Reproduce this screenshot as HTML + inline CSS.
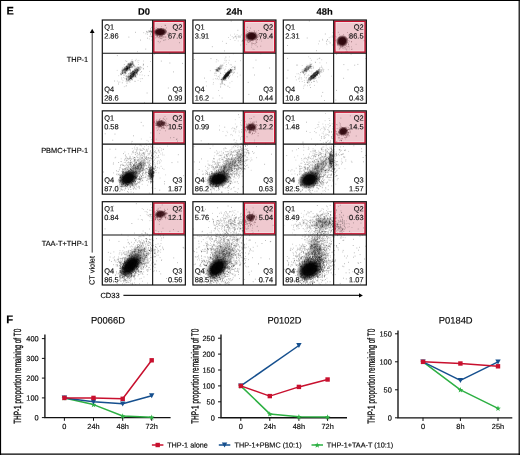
<!DOCTYPE html><html><head><meta charset="utf-8"><title>Figure</title><style>html,body{margin:0;padding:0;background:#fff;overflow:hidden}svg{display:block;will-change:transform}text{font-family:"Liberation Sans",sans-serif;stroke:#111;stroke-width:0.15px}</style></head><body><svg width="520" height="455" viewBox="0 0 520 455"><defs><radialGradient id="rg"><stop offset="0" stop-color="#000" stop-opacity="1"/><stop offset="0.5" stop-color="#000" stop-opacity="0.95"/><stop offset="0.78" stop-color="#000" stop-opacity="0.45"/><stop offset="1" stop-color="#000" stop-opacity="0"/></radialGradient><radialGradient id="rgm"><stop offset="0" stop-color="#2e060c" stop-opacity="1"/><stop offset="0.55" stop-color="#2e060c" stop-opacity="0.97"/><stop offset="0.8" stop-color="#2e060c" stop-opacity="0.5"/><stop offset="1" stop-color="#2e060c" stop-opacity="0"/></radialGradient></defs><rect x="0" y="0" width="520" height="455" fill="#fff"/><path d="M0 0.5H520M0.5 0V455M519.2 0V455M0 454.2H520" stroke="#000" stroke-width="1.2" fill="none"/><text x="6.5" y="14.6" transform="rotate(0.05 6.5 14.6)" font-size="11" font-weight="bold">E</text><text x="6.2" y="323.3" transform="rotate(0.05 6.2 323.3)" font-size="11.3" font-weight="bold">F</text><text x="144.1" y="14.8" transform="rotate(0.05 144.1 14.8)" font-size="9.4" font-weight="bold" text-anchor="middle">D0</text><text x="234.3" y="14.8" transform="rotate(0.05 234.3 14.8)" font-size="9.4" font-weight="bold" text-anchor="middle">24h</text><text x="324.6" y="14.8" transform="rotate(0.05 324.6 14.8)" font-size="9.4" font-weight="bold" text-anchor="middle">48h</text><text x="88.2" y="62.0" transform="rotate(0.05 88.2 62.0)" font-size="7.4" text-anchor="end">THP-1</text><text x="88.2" y="153.0" transform="rotate(0.05 88.2 153.0)" font-size="7.4" text-anchor="end">PBMC+THP-1</text><text x="88.2" y="246.0" transform="rotate(0.05 88.2 246.0)" font-size="7.4" text-anchor="end">TAA-T+THP-1</text><path d="M92.2 32.5V252.6" stroke="#333" stroke-width="1"/><path d="M92.2 28.8L94.6 32.9H89.8Z" fill="#000"/><text transform="translate(94.6 285.0) rotate(-89.95)" font-size="7.4">CT violet</text><text x="100.4" y="298.1" transform="rotate(0.05 100.4 298.1)" font-size="7.5">CD33</text><path d="M123.4 295.4H359.5" stroke="#222" stroke-width="1.1"/><path d="M362.9 295.4L359 293.3V297.6Z" fill="#000"/><clipPath id="cp00"><rect x="102.3" y="20.0" width="83.0" height="83.3"/></clipPath><rect x="152.65" y="20.00" width="32.70" height="33.30" fill="#efc9cf"/><rect x="155.00" y="22.50" width="27.90" height="28.45" fill="none" stroke="#f6dde1" stroke-width="1"/><g clip-path="url(#cp00)"><path d="M127.7 68.4h0.75M147.1 66.6h0.75M143.1 61.0h0.75M143.0 68.4h0.75M133.1 65.5h0.75M130.8 78.9h0.75M136.8 60.9h0.75M130.1 71.1h0.75M140.3 81.4h0.75M132.3 76.0h0.75M129.6 68.9h0.75M128.2 73.5h0.75M131.8 73.1h0.75M129.6 82.2h0.75M127.0 71.6h0.75M137.1 51.7h0.75M129.5 70.7h0.75M129.7 72.8h0.75M134.4 68.8h0.75M140.1 72.5h0.75M125.9 78.9h0.75M133.0 75.7h0.75M131.9 61.9h0.75M135.9 73.2h0.75M139.8 78.8h0.75M142.8 65.6h0.75M128.2 76.2h0.75M132.1 71.5h0.75M135.0 81.3h0.75M135.8 59.3h0.75M119.5 82.0h0.75M129.0 77.0h0.75M130.9 77.3h0.75M133.1 65.9h0.75M135.6 69.1h0.75M137.8 62.4h0.75M122.6 80.7h0.75M134.7 66.6h0.75M124.9 68.6h0.75M127.2 75.1h0.75M137.5 71.7h0.75M122.0 72.8h0.75M118.3 82.2h0.75M131.5 76.1h0.75M118.4 75.7h0.75M128.0 75.8h0.75M129.0 65.2h0.75M137.2 74.0h0.75M149.0 71.4h0.75M137.7 80.4h0.75M121.5 79.2h0.75M129.6 78.5h0.75M126.3 77.0h0.75M124.5 78.7h0.75M139.5 74.9h0.75M122.2 69.9h0.75M123.9 86.7h0.75M134.8 67.2h0.75M135.8 77.5h0.75M133.7 70.1h0.75M129.0 68.2h0.75M135.7 68.9h0.75M134.1 74.0h0.75M138.1 64.5h0.75M135.3 70.9h0.75M131.2 67.1h0.75M125.0 60.8h0.75M126.3 83.1h0.75M132.8 75.0h0.75M130.1 73.4h0.75M132.4 70.5h0.75M127.3 83.1h0.75M138.5 60.4h0.75M128.8 68.0h0.75M123.4 77.5h0.75M126.0 85.7h0.75M124.0 67.6h0.75M135.1 76.5h0.75M124.5 73.0h0.75M127.2 66.6h0.75M132.3 79.9h0.75M133.7 67.9h0.75M121.8 70.4h0.75M129.4 70.2h0.75M140.2 69.5h0.75M150.2 61.5h0.75M123.6 75.4h0.75M130.0 75.6h0.75M129.0 78.9h0.75M132.9 64.4h0.75M125.9 79.3h0.75M128.1 74.0h0.75M128.7 69.5h0.75M123.5 75.0h0.75M125.8 77.1h0.75M128.4 74.2h0.75M116.9 81.1h0.75M121.2 77.9h0.75M133.0 78.0h0.75M132.7 71.4h0.75M133.4 75.9h0.75M125.6 86.1h0.75M130.7 76.3h0.75M144.3 75.7h0.75M130.9 65.0h0.75M133.7 75.0h0.75M124.7 75.2h0.75M141.8 75.0h0.75M134.3 81.3h0.75M116.8 70.4h0.75M151.0 27.4h0.75M158.9 34.2h0.75M148.9 38.9h0.75M161.9 34.0h0.75M156.4 32.2h0.75M156.4 34.3h0.75M158.9 29.9h0.75M161.4 35.9h0.75M152.8 45.1h0.75M151.3 40.0h0.75M154.7 30.9h0.75M149.8 31.9h0.75M155.2 33.8h0.75M168.0 39.4h0.75M154.7 32.1h0.75M163.3 32.6h0.75M153.1 38.9h0.75M161.5 38.8h0.75M158.4 33.9h0.75M159.7 30.9h0.75M162.8 29.2h0.75M168.8 32.6h0.75M161.0 26.5h0.75M160.6 38.4h0.75M155.1 32.9h0.75M162.9 37.3h0.75M158.8 42.8h0.75M164.2 40.1h0.75M159.8 30.8h0.75" stroke="#000" stroke-opacity="0.30" stroke-width="0.75" fill="none"/><path d="M146.6 32.2h0.75M150.8 31.9h0.75M151.2 32.4h0.75M150.7 30.8h0.75M148.8 31.4h0.75M150.0 31.2h0.75M150.6 31.3h0.75M148.5 30.7h0.75M151.8 32.2h0.75M143.4 32.7h0.75M150.7 31.8h0.75M146.2 31.4h0.75M151.4 31.5h0.75M148.6 32.3h0.75M146.7 31.8h0.75M150.5 33.8h0.75M146.9 32.7h0.75M147.3 34.3h0.75M145.5 33.8h0.75M148.7 30.9h0.75M150.1 30.9h0.75M151.6 31.5h0.75M148.7 31.8h0.75M151.5 31.1h0.75M149.0 31.3h0.75" stroke="#000" stroke-opacity="0.35" stroke-width="0.75" fill="none"/><path d="M134.3 66.1h0.75M147.9 75.6h0.75M141.8 78.6h0.75M114.3 81.0h0.75M146.7 93.0h0.75M144.1 102.8h0.75M142.9 64.1h0.75M126.4 61.4h0.75M118.2 84.0h0.75M116.9 55.6h0.75M154.1 54.0h0.75M169.5 63.0h0.75M167.9 88.0h0.75M182.3 63.4h0.75M173.1 71.9h0.75M169.5 53.6h0.75M168.9 94.9h0.75M160.9 61.1h0.75M147.0 38.2h0.75M128.5 37.1h0.75M145.4 49.1h0.75M135.0 32.3h0.75M140.1 40.1h0.75M154.9 52.7h0.75M165.4 39.8h0.75M163.3 40.3h0.75M157.8 41.4h0.75M179.1 42.7h0.75M165.1 25.4h0.75M124.3 72.3h0.75M125.6 69.7h0.75M127.3 68.9h0.75M129.3 63.9h0.75M130.4 63.4h0.75M122.2 71.2h0.75M124.0 69.6h0.75M129.8 65.9h0.75M120.3 73.7h0.75M126.4 69.8h0.75M127.6 68.6h0.75M133.7 65.8h0.75M128.2 64.1h0.75M127.4 69.9h0.75M126.2 69.0h0.75M126.7 68.7h0.75M130.8 61.3h0.75M125.6 68.8h0.75M127.3 69.7h0.75M128.5 66.6h0.75M127.2 68.4h0.75M126.6 68.2h0.75M125.2 72.8h0.75M127.4 67.9h0.75M123.7 67.0h0.75M130.5 63.3h0.75M127.5 63.7h0.75M123.9 64.6h0.75M129.1 65.1h0.75M127.9 70.4h0.75M130.9 64.4h0.75M126.2 66.7h0.75M128.3 65.0h0.75M124.6 73.3h0.75M128.8 66.9h0.75M122.2 73.5h0.75M120.9 74.6h0.75M126.6 68.9h0.75M125.5 71.7h0.75M128.6 67.9h0.75M134.9 60.7h0.75M123.7 69.5h0.75M126.1 70.5h0.75M127.4 66.5h0.75M130.3 67.4h0.75M125.6 67.1h0.75M126.7 68.4h0.75M129.7 65.5h0.75M127.7 64.8h0.75M126.1 73.1h0.75M128.8 69.7h0.75M127.1 67.3h0.75M125.0 72.2h0.75M128.7 67.4h0.75M121.9 68.0h0.75M130.9 64.9h0.75M128.0 67.2h0.75M127.9 67.7h0.75M124.4 68.7h0.75M126.8 68.0h0.75M120.9 74.3h0.75M125.2 72.9h0.75M129.0 67.0h0.75M120.7 74.9h0.75M131.9 66.7h0.75M121.3 73.1h0.75M129.5 65.0h0.75M122.8 68.8h0.75M131.7 66.9h0.75M129.0 68.4h0.75M123.6 73.9h0.75M132.2 64.4h0.75M132.2 63.2h0.75M127.5 68.3h0.75M126.4 68.5h0.75M126.8 68.2h0.75M124.4 71.2h0.75M132.6 65.8h0.75M126.4 70.3h0.75M127.3 68.0h0.75M124.3 69.9h0.75M124.8 69.3h0.75M125.1 73.8h0.75M132.1 64.2h0.75M127.1 68.5h0.75M130.2 64.3h0.75M126.3 66.7h0.75M125.2 70.1h0.75M127.4 69.9h0.75M125.3 69.3h0.75M127.3 67.6h0.75M126.1 68.9h0.75M126.7 69.0h0.75M121.4 70.8h0.75M124.7 70.3h0.75M131.9 61.5h0.75M126.3 71.0h0.75M123.3 70.6h0.75M129.2 67.4h0.75M133.6 64.8h0.75M122.5 72.4h0.75M126.2 67.9h0.75M125.7 70.2h0.75M121.9 73.7h0.75M128.8 64.4h0.75M127.9 68.4h0.75M129.9 69.7h0.75M124.8 70.1h0.75M128.7 66.2h0.75M124.6 68.6h0.75M127.4 68.7h0.75M122.6 70.2h0.75M122.4 70.7h0.75M133.1 64.8h0.75M124.9 68.6h0.75M129.6 68.0h0.75M129.0 69.6h0.75M126.4 69.6h0.75M126.5 70.1h0.75M131.6 67.8h0.75M126.3 68.7h0.75M126.4 67.8h0.75M126.1 66.4h0.75M131.3 64.0h0.75M131.3 67.2h0.75M129.8 67.6h0.75M124.7 68.8h0.75M122.2 71.6h0.75M130.0 64.2h0.75M130.9 65.0h0.75M126.8 68.1h0.75M129.5 66.3h0.75M130.3 65.6h0.75M129.8 64.8h0.75M130.4 64.8h0.75M126.3 69.6h0.75M132.3 62.8h0.75M124.1 72.5h0.75M132.3 67.0h0.75M129.7 66.9h0.75M130.4 65.0h0.75M131.7 59.9h0.75M132.7 63.4h0.75M121.7 69.6h0.75M120.6 72.0h0.75M131.0 66.1h0.75M125.0 72.0h0.75M127.3 67.8h0.75M128.3 63.3h0.75M121.8 72.9h0.75M120.0 74.1h0.75M129.0 67.7h0.75M130.1 70.1h0.75M126.9 68.9h0.75M126.8 66.9h0.75M123.5 69.5h0.75M122.6 72.8h0.75M126.8 68.2h0.75M123.2 69.9h0.75M122.4 73.4h0.75M129.9 78.5h0.75M137.8 69.8h0.75M135.8 68.2h0.75M138.1 70.3h0.75M133.1 76.8h0.75M136.5 72.9h0.75M133.4 74.5h0.75M130.5 73.6h0.75M133.4 76.0h0.75M128.7 78.5h0.75M125.7 76.5h0.75M136.9 71.2h0.75M131.3 72.9h0.75M133.0 71.6h0.75M136.5 69.4h0.75M128.7 81.6h0.75M130.4 76.3h0.75M134.5 73.4h0.75M136.9 74.1h0.75M134.0 76.8h0.75M137.2 69.8h0.75M134.1 72.7h0.75M127.9 77.0h0.75M129.5 76.5h0.75M137.0 71.2h0.75M135.7 72.5h0.75M126.9 81.0h0.75M139.5 69.8h0.75M134.9 70.7h0.75M138.4 68.7h0.75M133.0 76.0h0.75M133.2 75.5h0.75M130.7 79.1h0.75M143.2 64.7h0.75M132.6 74.1h0.75M139.7 68.2h0.75M130.2 75.2h0.75M132.4 71.5h0.75M128.2 80.6h0.75M132.2 75.1h0.75M137.5 70.4h0.75M127.2 76.7h0.75M137.1 69.4h0.75M134.2 71.9h0.75M128.9 76.8h0.75M129.4 73.3h0.75M131.6 75.1h0.75M134.4 74.9h0.75M132.1 76.2h0.75M130.0 76.2h0.75M132.5 74.9h0.75M130.7 78.4h0.75M126.0 75.7h0.75M133.3 73.8h0.75M137.4 71.0h0.75M128.8 80.2h0.75M135.4 75.5h0.75M132.5 77.4h0.75M130.4 77.8h0.75M137.0 70.9h0.75M132.6 76.5h0.75M138.4 67.6h0.75M130.7 76.7h0.75M136.0 73.3h0.75M134.9 76.7h0.75M130.7 76.4h0.75M135.7 71.5h0.75M133.3 74.6h0.75M137.2 72.9h0.75M133.4 73.9h0.75M131.3 79.4h0.75M132.2 73.1h0.75M133.6 73.4h0.75M136.8 70.0h0.75M131.2 78.0h0.75M134.6 75.0h0.75M125.8 78.6h0.75M135.0 70.4h0.75M130.1 78.2h0.75M126.4 79.8h0.75M131.7 72.4h0.75M138.7 70.7h0.75M128.6 80.0h0.75M130.2 78.4h0.75M130.4 76.1h0.75M130.6 79.1h0.75M134.7 72.1h0.75M131.9 77.9h0.75M130.0 75.5h0.75M134.8 70.7h0.75M131.1 76.8h0.75M134.4 71.4h0.75M130.8 78.1h0.75M129.5 78.6h0.75M126.0 79.7h0.75M140.4 66.9h0.75M132.1 74.6h0.75M135.5 73.8h0.75M132.8 73.2h0.75M133.7 72.7h0.75M135.1 74.9h0.75M142.9 69.0h0.75M132.0 79.7h0.75M128.0 79.7h0.75M130.2 77.8h0.75M130.4 80.4h0.75M136.2 70.9h0.75M135.5 69.7h0.75M130.3 77.5h0.75M129.1 79.4h0.75M131.4 74.2h0.75M136.8 66.9h0.75M121.9 82.8h0.75M136.2 72.5h0.75M128.9 77.0h0.75M137.2 69.7h0.75M129.9 78.0h0.75M133.2 75.5h0.75M127.8 79.1h0.75M130.6 78.0h0.75M137.6 67.7h0.75M136.2 70.3h0.75M131.0 74.2h0.75M131.7 78.2h0.75M126.7 80.8h0.75M131.4 74.5h0.75M133.1 73.5h0.75M133.1 73.9h0.75M134.0 74.9h0.75M127.8 76.3h0.75M132.2 72.9h0.75M133.1 73.5h0.75M141.0 71.6h0.75M141.4 67.8h0.75M133.0 74.2h0.75M131.6 77.4h0.75M135.6 76.2h0.75M131.2 75.8h0.75M130.5 76.2h0.75M134.7 75.3h0.75M130.4 78.2h0.75M136.5 72.2h0.75M132.7 73.6h0.75M136.6 74.8h0.75M134.8 76.2h0.75M131.6 77.1h0.75M130.9 78.0h0.75M130.6 72.6h0.75M132.3 76.5h0.75M134.2 72.7h0.75M134.1 74.2h0.75M129.4 79.6h0.75M133.5 73.2h0.75M126.9 77.0h0.75M131.8 76.5h0.75M131.7 74.1h0.75M125.7 81.2h0.75M133.3 72.8h0.75M133.8 72.9h0.75M130.5 72.0h0.75M133.4 76.6h0.75M132.5 75.4h0.75M131.3 78.6h0.75M134.8 76.8h0.75M131.6 75.9h0.75M132.0 71.6h0.75M128.3 77.3h0.75M133.1 71.6h0.75M133.6 72.7h0.75M133.2 74.4h0.75M129.9 73.3h0.75M136.0 72.1h0.75M126.0 78.4h0.75M135.6 72.4h0.75M134.4 72.8h0.75M134.3 72.4h0.75M134.9 72.3h0.75M130.7 75.7h0.75M132.0 74.1h0.75M134.1 69.6h0.75" stroke="#000" stroke-opacity="0.45" stroke-width="0.75" fill="none"/><ellipse cx="127.6" cy="67.4" rx="9.5" ry="2.9" fill="url(#rg)" opacity="0.45" transform="rotate(-46 127.6 67.4)"/><ellipse cx="133.6" cy="73.4" rx="10.5" ry="3.0" fill="url(#rg)" opacity="0.50" transform="rotate(-46 133.6 73.4)"/><path d="M167.0 34.6h0.75M149.5 36.3h0.75M155.1 31.7h0.75M159.1 35.9h0.75M159.4 36.6h0.75M161.1 36.4h0.75M161.7 37.2h0.75M159.2 32.6h0.75M165.3 32.2h0.75M150.7 36.0h0.75M160.0 28.8h0.75M157.0 33.8h0.75M160.7 31.3h0.75M161.1 31.8h0.75M155.8 27.8h0.75M157.2 30.4h0.75M163.8 32.7h0.75M161.9 35.6h0.75M157.3 36.2h0.75M153.5 30.8h0.75M161.6 34.1h0.75M163.8 34.7h0.75M161.5 38.3h0.75M159.3 32.9h0.75M157.5 28.5h0.75M159.1 30.4h0.75M157.5 28.6h0.75M163.4 29.1h0.75M158.6 37.1h0.75M158.2 33.8h0.75M154.5 28.6h0.75M160.1 35.0h0.75M156.4 37.1h0.75M159.3 31.9h0.75M164.8 30.6h0.75M161.8 31.9h0.75M162.5 33.7h0.75M161.9 34.9h0.75M160.7 36.6h0.75M159.8 36.7h0.75M159.0 36.7h0.75M163.9 37.0h0.75M155.4 35.3h0.75M166.0 27.9h0.75M160.3 32.6h0.75M156.9 34.1h0.75M157.9 31.9h0.75M157.3 35.9h0.75M160.9 31.8h0.75M156.8 30.3h0.75M165.6 37.1h0.75M156.8 35.2h0.75M150.0 34.2h0.75M157.0 36.0h0.75M151.3 36.7h0.75M160.1 34.0h0.75M164.6 25.2h0.75M163.0 30.7h0.75M154.1 31.9h0.75M156.6 30.1h0.75M168.3 33.2h0.75M161.8 36.6h0.75M160.1 31.5h0.75M164.8 29.2h0.75M166.0 31.3h0.75M160.6 29.1h0.75M161.8 33.6h0.75M163.1 34.1h0.75M157.3 31.0h0.75M155.5 35.7h0.75M160.4 31.5h0.75M155.8 30.4h0.75M160.0 33.5h0.75M160.8 35.3h0.75M156.4 34.2h0.75M159.6 32.7h0.75M159.9 41.7h0.75M162.1 30.7h0.75M165.2 37.0h0.75M158.0 32.9h0.75M156.5 32.8h0.75M152.9 35.6h0.75M156.2 35.9h0.75M162.8 36.7h0.75M160.5 34.0h0.75M155.5 31.4h0.75M158.4 31.4h0.75M160.4 34.5h0.75M162.6 34.6h0.75M157.7 37.4h0.75M159.1 34.3h0.75M152.2 36.7h0.75M155.2 37.9h0.75M167.5 33.1h0.75M150.1 28.9h0.75M158.5 29.4h0.75M161.0 28.5h0.75M158.8 38.0h0.75M156.4 30.6h0.75M160.1 36.8h0.75M160.3 34.8h0.75M160.1 38.3h0.75M151.9 36.5h0.75M159.5 32.7h0.75M156.3 32.6h0.75M157.7 33.4h0.75M161.3 33.5h0.75" stroke="#3a0a10" stroke-opacity="0.45" stroke-width="0.75" fill="none"/><ellipse cx="160.2" cy="32.0" rx="7.3" ry="4.4" fill="url(#rgm)" opacity="1.00" transform="rotate(-3 160.2 32.0)"/></g><rect x="153.80" y="21.30" width="30.30" height="30.85" fill="none" stroke="#c8102e" stroke-width="1.40"/><rect x="102.30" y="20.00" width="83.05" height="83.30" fill="none" stroke="#111" stroke-width="1.2"/><path d="M152.65 20.00V103.30M102.30 53.30H185.35" stroke="#111" stroke-width="1.1"/><g font-size="7.4" fill="#111" stroke="#111" stroke-width="0.18"><text x="104.2" y="29.6" transform="rotate(0.05 104.2 29.6)">Q1</text><text x="104.2" y="38.4" transform="rotate(0.05 104.2 38.4)">2.86</text><text x="182.4" y="29.6" transform="rotate(0.05 182.4 29.6)" text-anchor="end">Q2</text><text x="182.4" y="38.4" transform="rotate(0.05 182.4 38.4)" text-anchor="end">67.6</text><text x="104.2" y="91.7" transform="rotate(0.05 104.2 91.7)">Q4</text><text x="104.2" y="100.5" transform="rotate(0.05 104.2 100.5)">28.6</text><text x="182.4" y="91.7" transform="rotate(0.05 182.4 91.7)" text-anchor="end">Q3</text><text x="182.4" y="100.5" transform="rotate(0.05 182.4 100.5)" text-anchor="end">0.99</text></g><clipPath id="cp01"><rect x="192.9" y="20.0" width="83.0" height="83.3"/></clipPath><rect x="243.25" y="20.00" width="32.70" height="33.30" fill="#efc9cf"/><rect x="245.60" y="22.50" width="27.90" height="28.45" fill="none" stroke="#f6dde1" stroke-width="1"/><g clip-path="url(#cp01)"><path d="M228.1 77.2h0.75M222.8 65.2h0.75M217.8 60.9h0.75M222.6 84.1h0.75M216.0 75.8h0.75M217.1 78.3h0.75M220.5 64.8h0.75M205.8 81.7h0.75M226.3 60.4h0.75M219.5 75.2h0.75M220.9 80.1h0.75M215.8 61.9h0.75M233.6 69.5h0.75M220.8 66.3h0.75M225.6 62.1h0.75M227.8 75.2h0.75M231.1 64.9h0.75M224.6 58.9h0.75M231.6 81.4h0.75M228.8 60.3h0.75M226.1 73.3h0.75M225.4 73.6h0.75M224.7 85.2h0.75M220.2 73.5h0.75M233.2 72.2h0.75M212.8 79.2h0.75M232.9 73.5h0.75M222.7 68.0h0.75M224.1 70.1h0.75M219.2 95.7h0.75M224.8 75.3h0.75M228.4 69.5h0.75M229.4 87.5h0.75M226.2 74.2h0.75M206.0 86.0h0.75M231.3 71.8h0.75M214.7 73.1h0.75M234.3 72.1h0.75M218.3 90.5h0.75M225.6 66.4h0.75M219.8 72.4h0.75M229.7 68.7h0.75M218.5 79.6h0.75M215.9 73.6h0.75M240.0 60.7h0.75M209.9 70.7h0.75M217.8 76.4h0.75M220.5 73.6h0.75M216.6 79.1h0.75M232.5 66.6h0.75M228.9 56.9h0.75M222.4 80.4h0.75M212.8 84.2h0.75M228.2 62.9h0.75M224.6 60.5h0.75M223.7 63.1h0.75M232.6 67.1h0.75M214.5 75.3h0.75M223.3 74.8h0.75M220.4 86.9h0.75M220.1 87.0h0.75M236.9 73.1h0.75M218.6 76.7h0.75M232.9 53.8h0.75M229.0 77.0h0.75M221.5 78.9h0.75M233.8 72.6h0.75M234.9 61.4h0.75M232.3 74.9h0.75M220.4 84.9h0.75M229.4 73.8h0.75M234.5 66.2h0.75M222.8 78.3h0.75M220.4 79.5h0.75M231.1 67.5h0.75M229.3 76.4h0.75M215.1 78.7h0.75M229.5 82.9h0.75M219.0 78.0h0.75M230.2 75.3h0.75M224.3 72.3h0.75M229.8 64.7h0.75M237.3 76.8h0.75M213.2 82.6h0.75M220.8 65.5h0.75M226.2 64.5h0.75M225.3 69.1h0.75M239.8 75.1h0.75M221.6 77.9h0.75M222.4 83.5h0.75M230.0 35.1h0.75M238.1 35.9h0.75M240.0 36.8h0.75M246.8 35.7h0.75M231.8 36.6h0.75M239.6 35.7h0.75M237.8 40.9h0.75M229.9 39.5h0.75M235.9 37.8h0.75M234.4 36.8h0.75M222.0 41.3h0.75M239.6 37.5h0.75M239.2 36.7h0.75M233.4 37.5h0.75M228.0 37.5h0.75M244.9 39.7h0.75M237.6 36.8h0.75M242.1 41.1h0.75M244.5 35.1h0.75M232.9 38.3h0.75M240.9 34.9h0.75M234.6 40.5h0.75M235.6 36.2h0.75M235.5 36.8h0.75M236.0 38.7h0.75M242.7 39.4h0.75M236.7 34.7h0.75M235.1 36.2h0.75M234.3 34.1h0.75M238.0 37.1h0.75M251.4 34.5h0.75M249.9 37.2h0.75M247.9 37.9h0.75M249.7 32.5h0.75M247.5 40.5h0.75M255.2 34.0h0.75M240.4 45.0h0.75M251.3 37.0h0.75M249.5 40.0h0.75M255.0 43.5h0.75M246.3 44.4h0.75M251.1 38.7h0.75M245.8 40.6h0.75M256.2 36.2h0.75M252.6 49.1h0.75M251.0 43.6h0.75M254.2 34.9h0.75M250.5 40.4h0.75M242.7 43.9h0.75M255.6 42.8h0.75M253.7 49.5h0.75M251.1 47.2h0.75M257.9 37.7h0.75M259.3 39.9h0.75M245.4 34.0h0.75M247.3 41.6h0.75M261.3 41.1h0.75M260.5 53.9h0.75M247.6 40.9h0.75" stroke="#000" stroke-opacity="0.30" stroke-width="0.75" fill="none"/><path d="M219.3 66.2h0.75M214.5 73.3h0.75M217.0 70.8h0.75M216.6 71.0h0.75M214.8 69.5h0.75M217.8 71.7h0.75M216.7 70.6h0.75M218.8 68.5h0.75M216.8 70.8h0.75M218.6 69.0h0.75M219.7 69.0h0.75M216.2 69.6h0.75M218.0 68.3h0.75M221.8 66.7h0.75M219.3 68.9h0.75M217.1 70.2h0.75M218.0 69.0h0.75M216.2 70.3h0.75M219.0 68.8h0.75M221.2 68.8h0.75M216.2 70.0h0.75M219.5 71.0h0.75M221.3 68.1h0.75M217.3 69.9h0.75M219.6 69.7h0.75M215.5 70.0h0.75M215.7 69.4h0.75M216.6 69.2h0.75M222.1 65.2h0.75M217.6 69.8h0.75M217.2 69.9h0.75M217.7 70.5h0.75M216.5 67.9h0.75M220.2 68.6h0.75M217.7 67.8h0.75M221.7 65.2h0.75M218.6 68.6h0.75M220.2 65.8h0.75M217.9 67.7h0.75M218.8 67.5h0.75" stroke="#000" stroke-opacity="0.35" stroke-width="0.75" fill="none"/><path d="M228.4 72.7h0.75M225.5 57.1h0.75M227.6 86.2h0.75M212.6 98.1h0.75M227.5 71.1h0.75M210.6 58.6h0.75M224.0 84.4h0.75M216.4 59.7h0.75M221.7 98.0h0.75M193.9 59.5h0.75M218.4 71.5h0.75M204.2 78.1h0.75M247.8 82.4h0.75M254.2 75.0h0.75M252.8 67.8h0.75M255.6 60.1h0.75M269.3 68.0h0.75M248.5 94.4h0.75M243.6 41.0h0.75M224.2 50.9h0.75M237.5 30.3h0.75M243.2 33.4h0.75M230.8 21.1h0.75M225.9 43.4h0.75M211.9 46.7h0.75M251.5 45.0h0.75M258.9 35.6h0.75M250.0 28.1h0.75M256.9 46.8h0.75M227.6 73.7h0.75M224.9 76.6h0.75M221.6 82.0h0.75M225.7 75.7h0.75M228.7 72.8h0.75M230.1 69.7h0.75M222.2 82.8h0.75M234.2 67.7h0.75M225.1 79.7h0.75M230.0 72.9h0.75M231.2 72.5h0.75M229.2 72.1h0.75M227.7 75.2h0.75M225.7 80.4h0.75M227.6 72.5h0.75M225.8 78.1h0.75M221.3 83.8h0.75M234.7 67.0h0.75M229.3 73.6h0.75M232.6 70.6h0.75M223.9 77.4h0.75M231.0 71.1h0.75M230.4 69.9h0.75M230.4 70.1h0.75M226.3 74.8h0.75M223.5 78.7h0.75M226.4 75.8h0.75M221.2 82.0h0.75M221.2 79.3h0.75M228.6 76.3h0.75M225.0 78.9h0.75M226.9 76.2h0.75M226.2 75.3h0.75M231.9 69.4h0.75M230.7 71.7h0.75M227.0 75.6h0.75M228.8 70.4h0.75M225.3 78.0h0.75M228.1 78.2h0.75M227.8 71.2h0.75M224.2 79.5h0.75M226.3 76.3h0.75M223.2 79.0h0.75M228.2 75.8h0.75M230.3 69.5h0.75M224.9 77.5h0.75M228.5 75.5h0.75M224.2 77.7h0.75M223.4 78.3h0.75M223.6 78.9h0.75M230.4 70.5h0.75M234.3 69.2h0.75M227.4 73.1h0.75M225.5 77.9h0.75M227.7 72.2h0.75M226.4 76.6h0.75M228.9 72.7h0.75M225.6 72.5h0.75M227.5 74.3h0.75M227.6 72.6h0.75M224.9 76.6h0.75M226.9 77.4h0.75M221.3 79.5h0.75M224.8 75.8h0.75M224.1 80.4h0.75M226.5 75.7h0.75M225.4 79.1h0.75M227.3 75.1h0.75M227.3 73.2h0.75M222.9 79.4h0.75M225.6 78.4h0.75M225.0 78.6h0.75M228.8 73.0h0.75M231.4 70.1h0.75M229.0 72.6h0.75M225.4 75.8h0.75M232.2 72.1h0.75M222.8 79.7h0.75M229.9 69.9h0.75M224.7 76.8h0.75M219.9 83.9h0.75M234.4 67.7h0.75M230.9 70.4h0.75M223.5 77.8h0.75M227.3 74.7h0.75M224.9 74.7h0.75M226.1 74.0h0.75M223.4 80.1h0.75M224.6 76.9h0.75M228.3 74.0h0.75M228.3 75.4h0.75M230.5 72.1h0.75M227.0 75.0h0.75M234.7 69.7h0.75M225.4 77.8h0.75M227.2 74.2h0.75M222.2 81.4h0.75M223.8 79.2h0.75M229.7 70.6h0.75M224.3 78.0h0.75M228.1 73.5h0.75M225.1 74.0h0.75M223.9 78.2h0.75M225.7 76.0h0.75M225.1 76.4h0.75M224.2 75.5h0.75M228.5 72.7h0.75M228.5 73.2h0.75M225.3 77.0h0.75M223.5 77.1h0.75M228.0 74.8h0.75M225.6 74.6h0.75M229.4 72.0h0.75M234.9 68.2h0.75M228.5 72.2h0.75M226.3 74.9h0.75M227.2 76.4h0.75M224.2 77.5h0.75M224.1 77.7h0.75M224.3 78.3h0.75" stroke="#000" stroke-opacity="0.45" stroke-width="0.75" fill="none"/><ellipse cx="226.8" cy="74.8" rx="8.5" ry="2.2" fill="url(#rg)" opacity="0.85" transform="rotate(-48 226.8 74.8)"/><ellipse cx="218.6" cy="69.0" rx="5.0" ry="2.0" fill="url(#rg)" opacity="0.30" transform="rotate(-45 218.6 69.0)"/><path d="M250.9 36.4h0.75M247.9 38.8h0.75M254.9 39.8h0.75M249.3 38.2h0.75M249.5 40.6h0.75M245.8 35.2h0.75M248.3 38.0h0.75M254.3 31.7h0.75M244.8 39.8h0.75M251.3 37.7h0.75M254.6 35.7h0.75M250.0 41.2h0.75M252.6 39.6h0.75M246.9 27.3h0.75M257.1 37.3h0.75M256.2 32.1h0.75M252.6 40.9h0.75M244.2 45.9h0.75M247.2 35.4h0.75M255.7 37.4h0.75M258.8 36.3h0.75M252.9 38.4h0.75M256.9 39.4h0.75M249.0 41.7h0.75M250.8 33.7h0.75M251.6 42.7h0.75M253.4 33.9h0.75M245.2 38.1h0.75M255.6 41.2h0.75M257.2 39.7h0.75M246.8 33.9h0.75M245.9 34.7h0.75M253.1 35.6h0.75M248.8 37.0h0.75M241.6 41.2h0.75M255.0 32.7h0.75M252.3 38.8h0.75M249.6 39.3h0.75M260.5 39.1h0.75M252.2 38.8h0.75M248.4 42.5h0.75M252.0 38.9h0.75M247.2 40.2h0.75M248.4 39.1h0.75M253.2 43.5h0.75M249.3 30.5h0.75M249.7 41.7h0.75M258.6 36.3h0.75M255.2 36.2h0.75M255.0 33.8h0.75M253.8 30.6h0.75M253.6 35.8h0.75M257.7 34.8h0.75M251.5 38.9h0.75M247.6 42.2h0.75M250.5 38.1h0.75M245.8 36.3h0.75M250.2 34.7h0.75M253.8 34.4h0.75M257.7 33.2h0.75M248.8 35.3h0.75M251.6 37.2h0.75M250.1 36.6h0.75M248.5 32.2h0.75M246.6 36.2h0.75M251.9 34.0h0.75M244.3 37.7h0.75M252.1 43.7h0.75M251.7 39.4h0.75M248.8 36.1h0.75M247.3 31.5h0.75M245.8 32.2h0.75M245.9 39.7h0.75M258.2 34.5h0.75M254.1 37.4h0.75M250.1 35.0h0.75M246.7 37.5h0.75M256.0 42.1h0.75M258.9 34.8h0.75M247.7 36.0h0.75M250.3 34.4h0.75M256.0 40.2h0.75M253.0 33.6h0.75M249.2 32.3h0.75M253.9 32.2h0.75M246.3 38.8h0.75M260.4 46.2h0.75M248.5 33.7h0.75M242.3 40.5h0.75M251.1 38.1h0.75M251.0 33.3h0.75M250.2 36.4h0.75M251.5 34.8h0.75M254.1 43.9h0.75M258.3 30.5h0.75M251.3 38.5h0.75M256.0 38.3h0.75M253.8 35.1h0.75M250.4 37.7h0.75M251.9 40.2h0.75M251.7 37.7h0.75M247.7 38.6h0.75M256.7 39.6h0.75M245.8 30.1h0.75M256.5 42.3h0.75M255.6 45.1h0.75M251.2 40.6h0.75M248.4 40.7h0.75" stroke="#3a0a10" stroke-opacity="0.45" stroke-width="0.75" fill="none"/><ellipse cx="251.6" cy="36.2" rx="6.8" ry="5.0" fill="url(#rgm)" opacity="1.00" transform="rotate(0 251.6 36.2)"/></g><rect x="244.40" y="21.30" width="30.30" height="30.85" fill="none" stroke="#c8102e" stroke-width="1.40"/><rect x="192.90" y="20.00" width="83.05" height="83.30" fill="none" stroke="#111" stroke-width="1.2"/><path d="M243.25 20.00V103.30M192.90 53.30H275.95" stroke="#111" stroke-width="1.1"/><g font-size="7.4" fill="#111" stroke="#111" stroke-width="0.18"><text x="194.8" y="29.6" transform="rotate(0.05 194.8 29.6)">Q1</text><text x="194.8" y="38.4" transform="rotate(0.05 194.8 38.4)">3.91</text><text x="273.1" y="29.6" transform="rotate(0.05 273.1 29.6)" text-anchor="end">Q2</text><text x="273.1" y="38.4" transform="rotate(0.05 273.1 38.4)" text-anchor="end">79.4</text><text x="194.8" y="91.7" transform="rotate(0.05 194.8 91.7)">Q4</text><text x="194.8" y="100.5" transform="rotate(0.05 194.8 100.5)">16.2</text><text x="273.1" y="91.7" transform="rotate(0.05 273.1 91.7)" text-anchor="end">Q3</text><text x="273.1" y="100.5" transform="rotate(0.05 273.1 100.5)" text-anchor="end">0.44</text></g><clipPath id="cp02"><rect x="283.3" y="20.0" width="83.0" height="83.3"/></clipPath><rect x="333.65" y="20.00" width="32.70" height="33.30" fill="#efc9cf"/><rect x="336.00" y="22.50" width="27.90" height="28.45" fill="none" stroke="#f6dde1" stroke-width="1"/><g clip-path="url(#cp02)"><path d="M301.4 79.0h0.75M299.4 78.8h0.75M315.7 76.0h0.75M319.5 73.3h0.75M307.1 85.7h0.75M315.2 62.5h0.75M305.7 78.2h0.75M316.2 76.9h0.75M310.6 68.2h0.75M311.6 66.4h0.75M303.1 88.3h0.75M327.9 69.7h0.75M309.7 64.9h0.75M297.3 65.1h0.75M298.3 73.7h0.75M295.9 79.9h0.75M301.8 81.5h0.75M317.1 72.5h0.75M308.2 74.9h0.75M300.8 77.6h0.75M308.3 77.4h0.75M316.9 59.3h0.75M308.7 75.3h0.75M304.6 74.4h0.75M331.0 76.2h0.75M317.4 73.9h0.75M307.7 69.6h0.75M302.9 73.0h0.75M299.3 81.4h0.75M296.6 73.8h0.75M304.8 73.3h0.75M306.5 71.6h0.75M317.0 74.9h0.75M312.7 68.1h0.75M309.1 68.6h0.75M306.7 66.3h0.75M299.6 74.8h0.75M306.8 75.8h0.75M309.7 84.3h0.75M304.2 74.9h0.75M313.7 79.6h0.75M304.2 82.4h0.75M303.9 80.4h0.75M301.8 65.5h0.75M306.3 67.2h0.75M310.0 80.7h0.75M320.1 76.1h0.75M310.5 75.6h0.75M307.7 83.1h0.75M309.5 71.4h0.75M321.4 59.8h0.75M303.9 74.9h0.75M322.6 70.1h0.75M321.2 66.1h0.75M319.5 62.8h0.75M304.4 77.2h0.75M326.2 62.9h0.75M313.1 74.0h0.75M305.9 71.5h0.75M316.8 82.1h0.75M315.9 70.6h0.75M311.4 73.1h0.75M316.1 80.8h0.75M323.5 69.6h0.75M306.0 77.6h0.75M306.6 82.3h0.75M311.5 63.8h0.75M312.8 66.2h0.75M308.4 56.8h0.75M309.4 85.4h0.75M309.8 58.4h0.75M317.0 73.2h0.75M318.7 58.6h0.75M298.9 77.2h0.75M311.6 71.2h0.75M310.4 76.3h0.75M303.5 86.1h0.75M314.0 85.4h0.75M319.7 67.7h0.75M332.5 32.6h0.75M326.6 44.7h0.75M331.9 45.0h0.75M329.6 43.1h0.75M327.1 39.7h0.75M328.6 41.4h0.75M328.8 37.7h0.75M329.8 42.8h0.75M330.6 37.0h0.75M327.0 39.6h0.75M326.0 43.4h0.75M332.0 37.0h0.75M322.2 39.3h0.75M326.5 40.9h0.75M335.2 36.3h0.75M318.2 43.9h0.75M326.2 41.4h0.75M331.8 35.8h0.75M322.4 40.2h0.75M339.4 38.0h0.75M339.1 34.6h0.75M343.5 48.7h0.75M338.7 38.3h0.75M348.8 41.5h0.75M338.8 40.7h0.75M348.9 48.0h0.75M342.7 44.0h0.75M348.1 44.5h0.75M339.8 36.0h0.75M340.0 43.9h0.75M336.1 37.0h0.75M346.5 45.9h0.75M348.6 46.2h0.75M355.7 44.3h0.75M350.7 54.6h0.75M344.5 47.0h0.75M341.7 47.4h0.75M345.3 45.1h0.75M342.8 43.4h0.75M351.8 49.2h0.75M348.7 49.9h0.75M338.0 37.9h0.75M338.9 49.6h0.75M351.2 46.9h0.75M344.8 49.2h0.75M341.6 46.7h0.75M340.7 38.5h0.75M341.3 53.5h0.75M340.2 45.6h0.75" stroke="#000" stroke-opacity="0.30" stroke-width="0.75" fill="none"/><path d="M310.2 65.3h0.75M309.6 66.5h0.75M304.9 70.2h0.75M309.5 67.4h0.75M304.3 70.4h0.75M310.7 67.0h0.75M306.3 69.8h0.75M304.2 70.7h0.75M305.5 69.8h0.75M304.1 70.5h0.75M308.0 69.3h0.75M306.9 68.2h0.75M307.1 69.2h0.75M304.8 70.0h0.75M295.0 76.7h0.75M307.8 69.7h0.75M300.4 72.7h0.75M308.0 69.1h0.75M310.3 66.5h0.75M305.9 66.6h0.75M304.7 69.0h0.75M305.7 68.9h0.75M305.6 68.5h0.75M304.0 69.1h0.75M305.7 71.2h0.75M303.9 71.1h0.75M310.4 66.4h0.75M306.3 68.6h0.75M309.7 66.9h0.75M305.3 68.8h0.75M306.9 68.8h0.75M306.8 70.0h0.75M308.0 67.8h0.75M308.6 66.4h0.75M306.4 67.2h0.75M305.0 70.9h0.75M304.8 71.3h0.75M311.1 64.5h0.75M305.2 68.9h0.75M306.4 70.3h0.75M313.2 67.8h0.75M309.5 65.9h0.75M308.5 68.0h0.75M305.9 70.4h0.75M310.9 60.3h0.75M307.9 68.1h0.75M307.6 66.8h0.75M307.5 70.9h0.75M302.5 72.3h0.75M302.2 71.6h0.75M307.6 67.7h0.75M308.0 68.2h0.75M305.5 69.0h0.75M303.3 71.9h0.75M301.4 71.2h0.75M305.6 69.6h0.75M303.3 73.5h0.75M311.1 68.7h0.75M310.6 66.8h0.75M314.9 62.1h0.75M310.3 68.0h0.75M306.0 71.5h0.75M305.8 72.9h0.75M298.0 78.9h0.75M304.9 70.4h0.75M306.4 69.7h0.75M309.6 66.7h0.75M308.7 67.7h0.75M308.5 67.7h0.75M306.6 67.6h0.75M306.6 65.1h0.75M310.2 64.6h0.75M301.8 69.6h0.75M305.5 70.2h0.75M302.8 72.5h0.75M309.7 63.1h0.75M311.0 66.4h0.75M309.6 68.0h0.75M303.4 72.1h0.75M308.8 70.3h0.75" stroke="#000" stroke-opacity="0.35" stroke-width="0.75" fill="none"/><path d="M319.4 58.2h0.75M286.7 78.1h0.75M287.3 58.4h0.75M322.4 92.4h0.75M314.2 81.4h0.75M296.4 65.1h0.75M310.2 87.5h0.75M287.6 70.2h0.75M321.2 96.1h0.75M300.4 72.4h0.75M324.2 100.5h0.75M343.5 64.6h0.75M365.5 58.6h0.75M336.0 90.4h0.75M357.5 64.4h0.75M343.3 78.3h0.75M347.6 69.8h0.75M354.4 65.2h0.75M335.5 100.1h0.75M308.9 21.0h0.75M316.2 50.7h0.75M318.9 41.1h0.75M324.9 34.0h0.75M287.0 45.5h0.75M306.8 38.0h0.75M291.7 26.1h0.75M365.4 41.9h0.75M363.7 40.7h0.75M343.6 44.0h0.75M321.3 70.8h0.75M310.6 79.6h0.75M316.4 71.1h0.75M316.0 74.6h0.75M315.4 74.1h0.75M316.5 71.9h0.75M312.2 78.2h0.75M311.9 77.0h0.75M310.1 76.6h0.75M310.7 76.8h0.75M315.4 77.6h0.75M308.1 78.6h0.75M311.0 79.0h0.75M316.6 74.4h0.75M314.5 76.4h0.75M314.4 73.2h0.75M307.7 81.1h0.75M311.7 78.1h0.75M313.1 78.0h0.75M313.7 74.9h0.75M311.2 76.3h0.75M318.2 73.7h0.75M315.0 76.8h0.75M314.6 75.9h0.75M313.7 75.0h0.75M316.9 73.8h0.75M312.7 77.1h0.75M318.6 72.9h0.75M314.6 73.0h0.75M314.8 75.2h0.75M314.2 75.3h0.75M314.9 72.9h0.75M317.7 72.7h0.75M317.3 72.7h0.75M315.1 74.0h0.75M317.4 73.3h0.75M313.3 73.9h0.75M318.3 71.7h0.75M314.5 76.1h0.75M307.6 82.2h0.75M319.6 72.5h0.75M313.5 74.1h0.75M309.0 77.7h0.75M313.8 76.4h0.75M311.7 78.7h0.75M323.0 71.1h0.75M316.4 74.6h0.75M308.3 79.6h0.75M316.7 74.7h0.75M312.1 76.0h0.75M319.2 68.3h0.75M313.0 81.3h0.75M307.1 82.8h0.75M315.1 76.1h0.75M313.6 77.2h0.75M314.4 78.6h0.75M307.4 82.4h0.75M316.7 75.4h0.75M318.8 69.5h0.75M306.7 80.1h0.75M319.3 73.3h0.75M313.6 78.7h0.75M322.4 68.9h0.75M315.8 74.5h0.75M313.7 76.3h0.75M317.2 71.5h0.75M317.3 75.4h0.75M312.8 78.0h0.75M317.0 73.9h0.75M312.9 77.5h0.75M309.2 82.1h0.75M321.3 69.8h0.75M313.7 77.4h0.75M311.2 76.3h0.75M315.8 75.0h0.75M311.0 82.4h0.75M309.3 79.2h0.75M312.4 77.0h0.75M313.3 78.0h0.75M315.3 76.3h0.75M318.4 72.7h0.75M311.2 75.5h0.75M316.3 74.5h0.75M315.1 72.6h0.75M309.9 78.1h0.75M315.4 75.4h0.75M310.8 78.2h0.75M318.4 73.1h0.75M318.5 77.2h0.75M314.9 76.3h0.75M310.4 80.4h0.75M313.8 74.4h0.75M311.1 77.3h0.75M315.6 72.4h0.75M313.3 75.4h0.75M310.6 77.0h0.75M316.7 72.1h0.75M316.4 73.2h0.75M311.4 76.4h0.75M316.8 70.7h0.75M312.0 75.2h0.75M313.6 77.0h0.75M314.7 75.3h0.75M312.6 78.9h0.75M313.7 77.9h0.75M313.4 75.7h0.75M319.8 71.5h0.75M317.9 69.6h0.75M315.4 78.5h0.75M320.6 71.8h0.75M313.9 75.5h0.75M314.4 73.3h0.75M317.4 73.2h0.75M313.5 72.9h0.75M321.5 67.4h0.75M315.7 75.5h0.75M310.3 79.3h0.75M318.1 71.1h0.75M313.7 77.7h0.75M312.3 75.5h0.75M304.6 85.0h0.75M317.1 72.0h0.75M316.1 72.3h0.75M317.2 73.6h0.75M316.5 71.6h0.75M321.5 72.2h0.75M313.5 75.2h0.75M319.0 74.6h0.75M310.8 76.8h0.75M313.6 77.2h0.75" stroke="#000" stroke-opacity="0.45" stroke-width="0.75" fill="none"/><ellipse cx="314.2" cy="75.2" rx="9.5" ry="2.6" fill="url(#rg)" opacity="0.65" transform="rotate(-43 314.2 75.2)"/><ellipse cx="306.7" cy="68.6" rx="7.0" ry="2.6" fill="url(#rg)" opacity="0.30" transform="rotate(-42 306.7 68.6)"/><path d="M342.8 45.1h0.75M337.9 32.3h0.75M344.6 41.3h0.75M334.3 44.9h0.75M342.6 45.0h0.75M339.5 43.9h0.75M335.6 40.3h0.75M342.3 46.4h0.75M343.2 44.7h0.75M342.5 44.6h0.75M339.3 48.5h0.75M342.8 46.9h0.75M349.1 37.9h0.75M335.8 39.2h0.75M333.5 40.4h0.75M345.9 46.3h0.75M345.7 43.3h0.75M344.0 41.4h0.75M337.5 42.6h0.75M345.7 40.1h0.75M339.6 43.6h0.75M337.6 43.0h0.75M338.7 40.7h0.75M346.3 49.9h0.75M345.1 41.4h0.75M343.1 38.6h0.75M339.4 37.4h0.75M343.9 37.5h0.75M344.0 44.4h0.75M346.8 42.9h0.75M336.9 44.0h0.75M336.9 45.3h0.75M344.2 39.3h0.75M335.1 40.8h0.75M343.9 47.2h0.75M342.6 43.5h0.75M345.6 51.8h0.75M339.1 40.2h0.75M346.7 38.7h0.75M335.3 50.2h0.75M344.7 39.3h0.75M347.2 32.5h0.75M340.3 38.5h0.75M342.3 42.4h0.75M345.4 41.8h0.75M348.3 38.0h0.75M340.2 47.9h0.75M344.6 45.4h0.75M342.2 43.5h0.75M344.2 41.0h0.75M342.2 40.8h0.75M345.6 42.6h0.75M342.7 46.1h0.75M342.5 42.1h0.75M340.8 44.9h0.75M339.2 42.1h0.75M338.8 37.2h0.75M339.6 38.7h0.75M339.8 47.0h0.75M348.5 40.5h0.75M345.0 47.9h0.75M337.6 44.9h0.75M347.8 42.9h0.75M342.4 48.2h0.75M346.0 44.5h0.75M340.9 39.8h0.75M342.7 40.8h0.75M343.1 42.1h0.75M338.2 39.6h0.75M343.3 43.6h0.75M351.3 41.6h0.75M333.5 44.7h0.75M346.5 48.9h0.75M343.1 40.1h0.75M338.2 43.3h0.75M337.0 43.8h0.75M348.2 35.2h0.75M341.8 44.2h0.75M347.5 46.9h0.75M343.7 44.0h0.75M344.9 43.0h0.75M343.9 39.9h0.75M343.3 34.6h0.75M343.5 40.8h0.75M340.9 38.6h0.75M344.8 45.0h0.75M346.8 39.2h0.75M348.4 46.3h0.75M340.3 46.6h0.75M341.7 46.2h0.75M343.8 42.1h0.75M340.5 44.0h0.75M342.3 45.1h0.75M340.8 47.2h0.75M339.8 40.0h0.75M344.7 42.9h0.75M351.0 49.4h0.75M342.0 41.6h0.75M348.8 36.9h0.75M340.5 39.6h0.75M348.1 44.2h0.75M344.0 41.2h0.75M341.1 44.0h0.75M336.3 54.2h0.75M346.8 51.3h0.75M341.0 38.4h0.75M351.0 41.9h0.75M338.7 46.9h0.75M342.3 44.2h0.75" stroke="#3a0a10" stroke-opacity="0.45" stroke-width="0.75" fill="none"/><ellipse cx="342.2" cy="41.0" rx="6.4" ry="5.9" fill="url(#rgm)" opacity="1.00" transform="rotate(-30 342.2 41.0)"/></g><rect x="334.80" y="21.30" width="30.30" height="30.85" fill="none" stroke="#c8102e" stroke-width="1.40"/><rect x="283.30" y="20.00" width="83.05" height="83.30" fill="none" stroke="#111" stroke-width="1.2"/><path d="M333.65 20.00V103.30M283.30 53.30H366.35" stroke="#111" stroke-width="1.1"/><g font-size="7.4" fill="#111" stroke="#111" stroke-width="0.18"><text x="285.2" y="29.6" transform="rotate(0.05 285.2 29.6)">Q1</text><text x="285.2" y="38.4" transform="rotate(0.05 285.2 38.4)">2.31</text><text x="363.5" y="29.6" transform="rotate(0.05 363.5 29.6)" text-anchor="end">Q2</text><text x="363.5" y="38.4" transform="rotate(0.05 363.5 38.4)" text-anchor="end">86.5</text><text x="285.2" y="91.7" transform="rotate(0.05 285.2 91.7)">Q4</text><text x="285.2" y="100.5" transform="rotate(0.05 285.2 100.5)">10.8</text><text x="363.5" y="91.7" transform="rotate(0.05 363.5 91.7)" text-anchor="end">Q3</text><text x="363.5" y="100.5" transform="rotate(0.05 363.5 100.5)" text-anchor="end">0.43</text></g><clipPath id="cp10"><rect x="102.3" y="110.8" width="83.0" height="83.3"/></clipPath><rect x="152.65" y="110.85" width="32.70" height="33.30" fill="#efc9cf"/><rect x="155.00" y="113.35" width="27.90" height="28.45" fill="none" stroke="#f6dde1" stroke-width="1"/><g clip-path="url(#cp10)"><path d="M127.5 174.0h0.75M153.1 156.5h0.75M137.5 160.6h0.75M149.2 167.5h0.75M120.8 158.8h0.75M134.7 157.6h0.75M143.9 163.3h0.75M129.1 158.3h0.75M143.4 166.2h0.75M116.6 173.7h0.75M150.2 153.1h0.75M126.0 167.4h0.75M120.0 178.0h0.75M132.5 171.6h0.75M132.1 169.2h0.75M141.5 157.1h0.75M142.7 181.0h0.75M141.4 161.1h0.75M126.9 165.9h0.75M160.9 150.7h0.75M147.4 163.1h0.75M160.4 154.1h0.75M140.1 180.0h0.75M139.7 153.4h0.75M136.9 175.9h0.75M149.3 164.4h0.75M144.4 158.0h0.75M127.9 176.9h0.75M115.4 157.2h0.75M127.2 169.5h0.75M136.3 183.8h0.75M124.6 160.1h0.75M129.0 168.1h0.75M129.3 175.9h0.75M142.7 165.3h0.75M151.4 167.1h0.75M120.2 164.8h0.75M135.0 167.8h0.75M143.4 167.5h0.75M130.8 158.6h0.75M133.5 168.5h0.75M154.7 166.3h0.75M152.2 163.2h0.75M147.1 160.7h0.75M124.5 152.0h0.75M153.9 147.2h0.75M154.5 151.7h0.75M134.4 164.9h0.75M137.8 163.9h0.75M163.6 169.3h0.75M131.8 168.4h0.75M137.4 155.4h0.75M140.6 164.1h0.75M132.1 167.2h0.75M135.7 163.6h0.75M126.4 175.1h0.75M138.7 171.4h0.75M124.7 180.0h0.75M150.9 139.6h0.75M150.1 150.9h0.75M151.0 156.1h0.75M139.1 158.6h0.75M152.5 161.2h0.75M152.8 157.3h0.75M142.1 150.5h0.75M147.8 157.8h0.75M141.8 180.2h0.75M150.1 167.7h0.75M134.6 167.2h0.75M134.3 176.9h0.75M126.8 168.9h0.75M135.2 152.8h0.75M150.0 157.9h0.75M129.6 175.2h0.75M155.2 152.3h0.75M150.3 151.8h0.75M137.7 167.9h0.75M132.9 164.4h0.75M140.8 166.3h0.75M150.8 159.8h0.75M135.8 166.0h0.75M134.4 176.0h0.75M132.9 151.9h0.75M119.1 175.5h0.75M147.3 169.4h0.75M156.7 163.1h0.75M142.6 162.2h0.75M144.6 156.8h0.75M136.6 153.3h0.75M146.5 159.5h0.75M144.0 166.1h0.75M125.2 162.5h0.75M140.0 167.9h0.75M140.9 166.4h0.75M151.0 155.8h0.75M146.1 145.1h0.75M145.0 162.8h0.75M125.7 161.8h0.75M140.7 176.4h0.75M138.2 165.5h0.75M144.0 146.8h0.75M148.3 167.4h0.75M144.3 169.5h0.75M129.8 166.1h0.75M156.8 167.4h0.75M136.3 156.2h0.75M140.2 165.3h0.75M145.7 168.4h0.75M140.9 139.0h0.75M142.7 169.6h0.75M151.8 149.9h0.75M148.6 153.6h0.75M134.1 157.6h0.75M147.5 158.1h0.75M132.5 158.8h0.75M127.8 165.0h0.75M134.7 163.2h0.75M125.9 164.4h0.75M150.8 167.2h0.75M132.5 156.7h0.75M139.7 155.2h0.75M143.9 155.4h0.75M145.3 164.9h0.75M129.0 181.4h0.75M138.8 160.6h0.75M130.3 168.3h0.75M140.0 162.7h0.75M153.7 156.8h0.75M129.2 180.1h0.75M137.9 159.3h0.75M128.2 153.8h0.75M134.9 188.7h0.75M148.7 163.0h0.75M140.6 164.4h0.75M136.7 169.0h0.75M130.8 166.4h0.75M159.0 133.4h0.75M134.3 164.8h0.75M123.9 176.3h0.75M128.7 167.5h0.75M128.9 159.0h0.75M134.5 164.8h0.75M141.2 166.8h0.75M128.4 169.1h0.75M143.3 159.3h0.75M125.0 156.9h0.75M127.4 172.9h0.75M132.1 169.1h0.75M129.9 160.3h0.75M137.0 148.2h0.75M144.8 161.6h0.75M132.4 162.0h0.75M141.6 165.6h0.75M138.6 159.6h0.75M157.9 150.6h0.75M132.5 166.5h0.75M135.2 152.3h0.75M144.2 157.3h0.75M130.0 169.2h0.75M143.7 165.2h0.75M138.0 159.9h0.75M133.4 165.1h0.75M147.7 163.2h0.75M152.8 161.1h0.75M151.6 158.3h0.75M142.6 170.0h0.75M142.7 164.1h0.75M161.1 148.9h0.75M134.8 176.3h0.75M142.7 163.6h0.75M146.2 156.8h0.75M140.9 162.9h0.75M156.0 170.2h0.75M140.4 162.1h0.75M143.7 156.3h0.75M147.2 151.6h0.75M137.1 164.9h0.75M141.7 163.0h0.75M133.0 158.2h0.75M126.1 156.7h0.75M140.3 165.0h0.75M122.2 164.2h0.75M146.1 158.9h0.75M152.9 150.8h0.75M158.0 155.8h0.75M157.2 161.7h0.75M133.3 172.7h0.75M148.1 148.8h0.75M127.6 163.1h0.75M134.7 159.9h0.75M153.6 149.2h0.75M120.4 161.5h0.75M145.9 157.2h0.75M141.1 161.1h0.75M141.0 167.7h0.75M130.5 168.5h0.75M142.8 160.6h0.75M131.7 163.3h0.75M144.8 152.9h0.75M139.7 145.1h0.75M128.9 174.7h0.75M142.7 175.0h0.75M137.3 166.7h0.75M131.6 174.4h0.75M125.4 167.2h0.75M146.8 169.8h0.75M133.6 161.2h0.75M130.1 180.2h0.75M135.3 168.1h0.75M138.3 154.6h0.75M134.7 177.8h0.75M131.9 170.6h0.75M152.2 151.9h0.75M151.5 155.4h0.75M126.3 175.9h0.75M126.6 172.0h0.75M144.2 162.7h0.75M127.7 170.6h0.75M137.4 165.7h0.75M132.2 163.6h0.75M136.0 151.6h0.75M119.4 178.1h0.75M129.5 173.0h0.75M152.7 161.4h0.75M129.4 156.2h0.75M126.3 177.3h0.75M131.9 148.6h0.75M139.3 152.7h0.75M134.6 162.8h0.75M125.3 154.8h0.75M133.2 150.8h0.75M149.2 154.7h0.75M140.6 162.6h0.75M142.6 158.7h0.75M134.6 159.8h0.75M146.7 177.0h0.75M131.1 169.7h0.75M136.7 157.1h0.75M145.0 174.0h0.75M140.1 168.3h0.75M144.4 154.3h0.75M148.7 165.5h0.75M146.5 157.4h0.75M129.9 178.8h0.75M144.5 160.2h0.75M129.3 162.9h0.75M137.5 174.5h0.75M133.2 170.8h0.75M143.4 149.0h0.75M141.7 153.2h0.75M138.2 173.7h0.75M128.3 170.4h0.75M139.3 163.5h0.75M138.7 170.2h0.75M152.5 151.1h0.75M120.1 167.2h0.75M127.9 180.8h0.75M141.7 170.0h0.75M143.4 167.6h0.75M148.0 170.3h0.75M146.7 159.3h0.75M159.0 151.1h0.75M144.2 173.9h0.75M133.3 166.2h0.75M133.9 185.7h0.75M149.5 170.1h0.75M149.5 160.6h0.75M146.1 174.5h0.75M152.4 158.4h0.75M134.9 158.8h0.75M156.4 157.2h0.75M143.2 162.4h0.75M132.8 173.6h0.75M134.8 169.1h0.75M133.8 182.0h0.75M128.2 179.6h0.75M137.6 157.9h0.75M148.2 159.0h0.75M157.8 151.8h0.75M135.0 160.2h0.75M135.0 163.1h0.75M128.5 170.1h0.75M143.7 152.7h0.75M143.8 162.1h0.75M139.4 173.0h0.75M153.7 167.4h0.75M149.3 164.9h0.75M129.5 183.0h0.75M150.4 163.3h0.75M146.7 168.9h0.75M134.1 164.6h0.75M139.2 170.1h0.75M154.2 151.4h0.75M150.3 150.8h0.75M151.0 146.9h0.75M127.6 169.8h0.75M132.6 167.1h0.75M139.9 150.2h0.75M132.2 175.4h0.75M133.3 168.9h0.75M125.5 177.9h0.75M155.1 150.6h0.75M150.9 158.7h0.75M139.6 156.9h0.75M140.2 161.1h0.75M127.8 158.7h0.75M124.9 155.5h0.75M134.2 149.0h0.75M141.1 176.5h0.75M139.5 144.8h0.75M137.5 169.5h0.75M139.5 177.5h0.75M146.8 151.0h0.75M145.9 172.6h0.75M152.5 168.2h0.75M140.5 171.3h0.75M133.2 192.6h0.75M146.3 162.2h0.75M124.9 170.2h0.75M150.0 157.6h0.75M124.8 173.3h0.75M118.1 171.4h0.75M135.1 154.7h0.75M153.8 171.5h0.75M137.2 159.9h0.75M129.5 172.7h0.75M142.7 153.2h0.75M128.3 175.5h0.75M134.2 165.8h0.75M130.9 167.5h0.75M130.1 160.4h0.75M138.7 149.8h0.75M130.4 164.7h0.75M144.9 160.5h0.75M154.7 168.3h0.75M131.0 182.0h0.75M139.0 181.5h0.75M138.5 168.8h0.75M134.0 167.6h0.75M134.9 154.5h0.75M124.1 178.5h0.75M134.1 147.2h0.75M143.4 156.2h0.75M145.8 172.8h0.75M130.0 175.8h0.75M144.7 169.0h0.75M133.0 165.8h0.75M136.7 152.3h0.75M139.8 155.3h0.75M143.6 153.6h0.75M153.3 154.0h0.75M138.0 163.8h0.75M140.9 150.5h0.75M146.1 149.8h0.75M138.7 157.3h0.75M133.6 168.7h0.75M143.5 161.1h0.75M138.3 165.4h0.75M145.1 151.2h0.75M139.9 163.1h0.75M147.9 141.3h0.75M131.2 143.1h0.75M139.8 162.4h0.75M133.6 152.8h0.75M133.8 159.6h0.75M140.9 150.0h0.75M156.2 152.8h0.75M137.4 153.4h0.75M151.2 154.2h0.75M136.9 161.0h0.75M140.2 150.2h0.75M149.8 137.3h0.75M138.9 168.3h0.75M153.5 153.0h0.75M155.0 155.3h0.75M143.0 177.8h0.75M137.8 167.5h0.75M140.4 165.0h0.75M149.4 152.0h0.75M142.6 161.0h0.75M141.9 157.3h0.75M144.1 149.6h0.75M155.1 167.2h0.75M136.6 147.5h0.75M144.0 161.1h0.75M153.1 153.9h0.75M140.9 163.2h0.75M149.2 143.8h0.75M141.6 159.0h0.75M137.7 160.2h0.75M142.8 149.0h0.75M146.8 155.2h0.75M131.3 167.2h0.75M143.0 154.0h0.75M140.2 169.0h0.75M134.5 157.4h0.75M151.1 155.7h0.75M136.5 159.8h0.75M148.6 158.1h0.75M142.6 160.5h0.75M156.6 148.2h0.75M139.0 153.7h0.75M133.9 160.8h0.75M133.9 160.0h0.75M140.1 163.9h0.75M148.8 160.9h0.75M149.7 163.3h0.75M147.4 150.0h0.75M145.7 157.4h0.75M137.1 149.2h0.75M135.2 145.2h0.75M139.3 154.4h0.75M142.7 153.0h0.75M141.1 145.9h0.75M140.0 144.7h0.75M143.9 163.7h0.75M130.4 164.0h0.75M131.4 154.2h0.75M157.4 167.8h0.75M131.1 172.9h0.75M140.0 159.1h0.75M150.2 158.7h0.75M137.3 157.4h0.75M145.8 172.1h0.75M146.6 140.4h0.75M145.6 143.6h0.75M142.1 158.7h0.75M148.0 146.7h0.75M158.5 157.5h0.75M129.9 156.4h0.75M155.8 139.2h0.75M140.1 164.4h0.75M145.5 162.2h0.75M143.0 169.1h0.75M146.3 159.2h0.75M147.6 176.2h0.75M141.8 155.6h0.75M151.2 152.7h0.75M149.6 160.9h0.75M141.1 157.8h0.75M151.5 147.7h0.75M136.8 160.7h0.75M146.4 149.2h0.75M136.9 154.0h0.75M142.6 153.9h0.75M136.7 150.1h0.75M146.7 159.0h0.75M136.0 150.3h0.75M167.1 146.1h0.75M165.3 174.9h0.75M162.3 154.9h0.75M155.7 172.5h0.75M153.9 159.6h0.75M162.9 149.3h0.75M157.7 160.7h0.75M159.6 162.6h0.75M153.2 164.3h0.75M162.1 168.4h0.75M152.8 152.8h0.75M157.3 163.9h0.75M148.2 165.8h0.75M153.5 157.8h0.75M159.3 152.5h0.75M154.5 152.3h0.75M154.5 165.9h0.75M160.7 166.3h0.75M156.4 153.3h0.75M162.9 149.3h0.75M144.7 169.8h0.75M159.6 147.6h0.75M159.3 161.2h0.75M149.1 153.5h0.75M150.3 146.0h0.75M161.1 160.9h0.75M151.4 158.4h0.75M153.6 171.4h0.75M159.7 178.0h0.75M155.1 158.4h0.75M159.1 168.1h0.75M152.4 168.3h0.75M158.2 155.8h0.75M162.1 153.0h0.75M158.4 172.8h0.75M145.8 157.0h0.75M160.0 159.7h0.75M157.0 157.6h0.75M152.2 158.9h0.75M163.7 155.1h0.75" stroke="#000" stroke-opacity="0.30" stroke-width="0.75" fill="none"/><path d="M129.5 173.1h0.75M125.9 163.9h0.75M127.1 187.7h0.75M135.6 174.8h0.75M129.1 181.0h0.75M130.1 175.9h0.75M141.8 184.3h0.75M134.6 171.3h0.75M122.3 185.3h0.75M113.1 172.9h0.75M128.1 171.2h0.75M133.5 165.6h0.75M135.4 169.7h0.75M141.1 168.1h0.75M139.6 160.0h0.75M143.8 177.6h0.75M128.2 166.9h0.75M123.0 176.5h0.75M126.5 179.4h0.75M124.0 168.9h0.75M137.2 173.2h0.75M137.1 173.9h0.75M131.6 170.6h0.75M139.6 182.6h0.75M138.0 168.5h0.75M135.6 172.2h0.75M131.1 165.4h0.75M128.1 161.8h0.75M126.0 172.5h0.75M123.5 177.1h0.75M134.6 166.7h0.75M139.2 173.3h0.75M121.1 161.6h0.75M124.9 169.1h0.75M142.6 148.4h0.75M132.6 183.7h0.75M128.8 170.7h0.75M132.7 167.8h0.75M119.3 174.1h0.75M137.4 175.8h0.75M144.8 158.5h0.75M140.9 167.2h0.75M129.1 157.9h0.75M142.2 174.2h0.75M135.3 173.4h0.75M142.4 168.7h0.75M136.8 179.3h0.75M128.7 173.9h0.75M132.9 170.6h0.75M142.7 169.9h0.75M137.1 172.1h0.75M136.9 166.6h0.75M139.8 161.9h0.75M153.7 160.6h0.75M146.9 168.2h0.75M130.4 174.2h0.75M134.2 187.0h0.75M128.5 162.7h0.75M124.3 177.3h0.75M145.5 176.0h0.75M127.0 173.4h0.75M133.5 158.0h0.75M149.1 170.3h0.75M119.5 187.9h0.75M130.0 164.3h0.75M130.7 180.5h0.75M122.5 169.4h0.75M130.5 172.8h0.75M138.7 163.1h0.75M139.3 163.6h0.75M144.1 154.2h0.75M137.6 168.6h0.75M136.9 168.5h0.75M135.8 175.9h0.75M121.9 177.4h0.75M131.3 162.1h0.75M130.2 163.1h0.75M137.4 166.2h0.75M158.9 163.3h0.75M141.9 171.7h0.75M133.4 166.2h0.75M148.7 166.8h0.75M117.6 175.0h0.75M128.3 184.5h0.75M128.3 172.6h0.75M131.0 180.2h0.75M140.7 170.8h0.75M129.2 172.8h0.75M147.5 162.6h0.75M140.0 157.0h0.75M138.4 166.8h0.75M134.4 180.0h0.75M154.7 188.6h0.75M142.0 170.4h0.75M125.0 179.4h0.75M131.2 164.8h0.75M142.7 172.9h0.75M127.5 162.5h0.75M141.5 158.0h0.75M143.6 166.1h0.75M121.4 171.4h0.75M140.2 179.0h0.75M131.0 183.0h0.75M134.9 165.6h0.75M123.8 174.9h0.75M134.4 159.6h0.75M129.9 162.7h0.75M142.1 168.1h0.75M134.3 176.2h0.75M123.1 183.3h0.75M147.4 162.1h0.75M129.1 170.5h0.75M144.9 165.1h0.75M129.9 162.0h0.75M138.0 167.9h0.75M153.0 167.7h0.75M141.0 176.6h0.75M141.6 160.8h0.75M120.0 180.0h0.75M145.3 173.4h0.75M138.4 182.6h0.75M125.5 165.5h0.75M131.1 170.0h0.75M136.4 171.1h0.75M150.6 167.6h0.75M135.8 175.1h0.75M126.1 175.3h0.75M151.7 176.5h0.75M131.4 177.0h0.75M135.7 168.5h0.75M128.4 173.0h0.75M142.4 173.1h0.75M143.4 169.0h0.75M125.2 169.3h0.75M134.1 172.9h0.75M116.3 174.6h0.75M132.0 166.4h0.75M133.9 160.2h0.75M123.0 169.1h0.75M138.5 161.5h0.75M112.8 180.6h0.75M120.8 186.7h0.75M125.5 185.1h0.75M128.1 174.1h0.75M128.3 166.4h0.75M135.6 176.7h0.75M123.8 162.5h0.75M130.3 157.8h0.75M132.2 178.8h0.75M125.9 183.6h0.75M127.4 185.0h0.75M148.1 157.5h0.75M129.3 170.7h0.75M146.4 165.6h0.75M133.3 165.2h0.75M123.5 174.0h0.75M127.0 165.2h0.75M134.5 160.8h0.75M145.6 168.6h0.75M127.8 180.2h0.75M133.8 161.5h0.75M130.2 165.1h0.75M138.9 162.2h0.75M145.8 166.0h0.75M125.3 168.5h0.75M121.0 180.6h0.75M126.8 158.9h0.75M141.1 154.4h0.75M139.8 169.8h0.75M138.3 175.2h0.75M146.4 150.9h0.75M121.6 175.0h0.75M143.1 170.3h0.75M126.8 173.9h0.75M130.9 169.1h0.75M135.7 174.2h0.75M145.2 163.4h0.75M130.3 183.7h0.75M132.0 179.6h0.75M118.2 179.5h0.75M136.0 168.4h0.75M129.1 174.8h0.75M130.4 162.7h0.75M120.5 174.2h0.75M134.1 179.3h0.75M134.1 157.5h0.75M135.7 178.3h0.75M138.8 169.6h0.75M136.3 168.1h0.75M132.4 177.1h0.75M122.9 184.6h0.75M145.4 171.9h0.75M132.4 169.1h0.75M139.4 164.7h0.75M128.0 192.2h0.75M120.4 190.7h0.75M122.2 173.2h0.75M139.4 163.8h0.75M134.2 165.0h0.75M132.6 172.5h0.75M134.7 172.4h0.75M148.3 178.7h0.75M122.9 165.0h0.75M140.2 174.8h0.75M135.7 173.5h0.75M129.3 173.9h0.75M141.2 161.0h0.75M130.0 175.0h0.75M136.0 178.1h0.75M121.8 168.5h0.75M134.6 181.9h0.75M139.9 163.1h0.75M137.1 181.4h0.75M126.7 180.8h0.75M130.8 178.7h0.75M122.3 190.3h0.75M119.1 184.2h0.75M135.5 162.9h0.75M141.1 171.0h0.75M121.1 188.1h0.75M148.2 177.2h0.75M128.0 159.2h0.75M126.0 176.2h0.75M142.9 172.8h0.75M122.7 178.8h0.75M130.7 192.0h0.75M130.3 186.4h0.75M135.9 162.2h0.75M128.6 187.9h0.75M129.0 185.5h0.75M128.8 182.2h0.75M136.0 172.9h0.75M131.3 175.6h0.75M135.8 162.3h0.75M125.3 174.2h0.75M126.1 184.2h0.75M129.6 176.2h0.75M140.9 181.2h0.75M124.3 176.6h0.75M124.9 158.5h0.75M145.4 158.9h0.75M129.5 177.4h0.75M134.8 173.9h0.75M143.5 163.9h0.75M124.4 172.4h0.75M132.6 185.2h0.75M121.6 176.0h0.75M138.8 173.3h0.75M135.5 167.6h0.75M126.6 167.3h0.75M139.0 179.1h0.75M132.0 151.6h0.75M135.8 162.5h0.75M123.8 183.5h0.75M131.2 170.7h0.75M136.7 175.4h0.75M137.8 167.3h0.75M129.1 171.6h0.75M136.8 187.3h0.75M128.3 174.3h0.75M128.0 167.2h0.75M125.0 172.5h0.75M139.0 172.7h0.75M127.2 181.9h0.75M129.3 175.3h0.75M122.2 175.3h0.75M127.4 182.7h0.75M130.9 159.5h0.75M127.7 173.8h0.75M135.0 168.4h0.75M120.5 175.5h0.75M134.0 172.6h0.75M125.6 171.6h0.75M136.3 184.7h0.75M140.2 172.5h0.75M139.0 177.4h0.75M131.5 173.9h0.75M143.1 172.0h0.75M137.4 175.2h0.75M141.8 175.2h0.75M148.4 179.5h0.75M131.2 171.9h0.75M131.5 175.8h0.75M134.9 170.2h0.75M114.7 157.8h0.75M129.8 163.2h0.75M141.2 165.6h0.75M141.8 170.3h0.75M127.3 172.2h0.75M127.5 186.5h0.75M137.6 179.4h0.75M129.9 171.4h0.75M147.0 172.6h0.75M137.0 183.8h0.75M133.0 176.3h0.75M134.1 163.0h0.75M135.1 183.0h0.75M130.7 172.9h0.75M144.2 159.8h0.75M144.5 163.7h0.75M135.2 165.9h0.75M139.2 176.3h0.75M128.5 182.8h0.75M142.0 175.2h0.75M135.5 175.2h0.75M131.0 167.3h0.75M128.0 175.2h0.75M136.2 177.1h0.75M129.5 171.8h0.75M147.3 185.2h0.75M142.5 162.3h0.75M133.0 167.4h0.75M124.8 189.0h0.75M128.3 182.6h0.75M120.4 182.7h0.75M125.6 176.6h0.75M138.7 171.2h0.75M139.2 174.3h0.75M131.2 180.3h0.75M133.4 169.5h0.75M128.7 179.7h0.75M125.3 186.0h0.75M125.1 185.5h0.75M113.2 162.8h0.75M139.8 159.1h0.75M119.1 177.4h0.75M141.2 163.6h0.75M143.5 165.1h0.75M135.1 178.4h0.75M134.8 176.1h0.75M127.4 176.0h0.75M132.5 173.0h0.75M145.0 177.2h0.75M130.1 169.6h0.75M141.5 167.8h0.75M148.2 172.9h0.75M136.7 172.2h0.75M126.6 160.4h0.75M133.7 175.0h0.75M133.6 168.6h0.75M123.6 179.3h0.75M140.1 175.3h0.75M136.1 173.7h0.75M124.9 176.9h0.75M152.8 163.3h0.75M127.0 181.1h0.75M126.4 178.8h0.75M136.0 172.4h0.75M118.8 186.4h0.75M125.1 176.1h0.75M119.0 180.2h0.75M125.3 179.0h0.75M127.6 168.8h0.75M129.8 164.4h0.75M146.5 172.1h0.75M137.8 166.4h0.75M141.5 165.0h0.75M136.5 168.3h0.75M129.1 175.8h0.75M141.2 165.7h0.75M129.1 176.2h0.75M124.5 172.7h0.75M148.2 167.5h0.75M135.7 164.2h0.75M138.6 176.5h0.75M130.3 158.3h0.75M134.9 161.8h0.75M126.3 186.4h0.75M131.2 172.6h0.75M120.8 177.0h0.75M135.1 173.8h0.75M123.1 171.8h0.75M143.3 164.4h0.75M127.3 158.4h0.75M124.5 175.7h0.75M129.7 169.6h0.75M125.6 183.2h0.75M136.5 176.8h0.75M133.2 165.0h0.75M141.3 179.1h0.75M121.4 164.6h0.75M126.5 157.6h0.75M141.3 178.4h0.75M141.1 164.9h0.75M120.0 177.8h0.75M133.5 165.6h0.75M123.0 171.5h0.75M139.7 178.2h0.75M135.3 169.7h0.75M145.3 177.2h0.75M127.3 175.5h0.75M124.2 159.9h0.75M127.1 184.5h0.75M120.2 180.0h0.75M135.8 168.0h0.75M138.7 180.9h0.75M119.1 181.8h0.75M130.9 184.0h0.75M132.7 172.6h0.75M141.3 159.0h0.75M142.7 168.6h0.75M136.2 164.6h0.75M124.0 190.3h0.75M135.8 178.2h0.75M136.5 170.0h0.75M138.1 173.3h0.75M138.1 172.9h0.75M129.6 172.9h0.75M149.8 165.9h0.75M142.9 162.1h0.75M134.4 176.4h0.75M121.1 174.3h0.75M148.7 160.1h0.75M130.1 178.4h0.75M138.4 161.1h0.75M145.4 158.4h0.75M123.1 176.2h0.75M137.8 174.5h0.75M126.9 171.4h0.75M138.3 171.6h0.75M141.4 178.3h0.75M149.0 162.0h0.75M130.4 161.0h0.75M133.0 173.5h0.75M145.5 170.7h0.75M129.3 173.1h0.75M134.4 180.7h0.75M152.3 161.5h0.75M128.1 180.2h0.75M127.7 174.6h0.75M130.8 170.0h0.75M123.4 178.3h0.75M142.9 168.6h0.75M128.3 179.9h0.75M127.2 174.8h0.75M130.0 175.5h0.75M126.7 181.0h0.75M117.6 171.6h0.75M130.6 167.9h0.75M147.6 153.4h0.75M137.4 167.1h0.75M137.2 166.6h0.75M120.0 181.2h0.75M128.8 168.6h0.75M126.4 183.8h0.75M139.7 169.2h0.75M124.0 166.1h0.75M133.0 172.6h0.75M127.2 167.8h0.75M135.3 185.1h0.75M119.1 180.3h0.75M135.4 167.1h0.75M122.4 182.1h0.75M122.7 179.4h0.75M130.1 174.5h0.75M133.7 185.1h0.75M135.6 172.3h0.75M143.8 170.5h0.75M139.2 176.9h0.75M130.1 166.7h0.75M139.9 181.1h0.75M142.1 170.8h0.75M122.5 189.5h0.75M131.8 166.2h0.75M128.9 182.9h0.75M124.9 182.8h0.75M130.4 170.1h0.75M139.2 186.7h0.75M139.5 171.9h0.75M140.1 164.6h0.75M135.9 177.8h0.75M152.3 165.9h0.75M141.7 170.2h0.75M148.8 169.6h0.75M139.5 179.5h0.75M122.0 177.7h0.75M134.2 163.6h0.75M140.4 167.2h0.75M133.1 184.7h0.75M133.3 177.8h0.75M130.3 166.0h0.75M134.2 180.2h0.75M142.8 159.8h0.75M149.0 158.3h0.75M133.1 175.1h0.75M139.1 152.0h0.75M131.9 180.1h0.75M127.9 179.8h0.75M135.9 161.8h0.75M126.6 171.4h0.75M148.1 154.8h0.75M136.2 172.0h0.75M134.4 172.0h0.75M119.3 185.1h0.75M151.6 172.1h0.75M135.3 181.7h0.75M128.4 170.3h0.75M146.9 175.4h0.75M138.9 164.9h0.75M133.8 183.6h0.75M140.0 180.2h0.75M133.4 167.6h0.75M138.9 165.3h0.75M133.8 172.6h0.75M142.2 157.5h0.75M126.7 169.5h0.75M126.3 174.7h0.75M132.6 180.1h0.75M125.6 177.0h0.75M138.4 164.0h0.75M129.0 164.3h0.75M132.6 185.5h0.75M125.6 158.9h0.75M132.8 177.4h0.75M130.9 162.5h0.75M140.5 171.4h0.75M132.0 184.0h0.75M136.1 162.7h0.75M147.9 161.8h0.75M124.8 170.0h0.75M140.5 170.6h0.75M121.1 183.3h0.75M143.1 175.7h0.75M135.0 174.9h0.75M139.8 178.2h0.75M130.9 179.7h0.75M125.4 168.7h0.75M140.0 168.9h0.75M147.9 164.2h0.75" stroke="#000" stroke-opacity="0.35" stroke-width="0.75" fill="none"/><path d="M124.1 168.9h0.75M127.0 191.6h0.75M126.4 160.4h0.75M148.4 166.8h0.75M148.9 193.2h0.75M120.3 165.7h0.75M117.4 185.7h0.75M135.7 149.2h0.75M112.9 164.1h0.75M123.0 153.6h0.75M138.9 188.6h0.75M103.3 172.0h0.75M141.6 155.3h0.75M139.7 149.0h0.75M122.4 165.4h0.75M115.4 149.2h0.75M130.0 168.6h0.75M117.8 180.8h0.75M144.1 159.9h0.75M132.5 152.7h0.75M118.3 162.5h0.75M143.4 152.7h0.75M133.4 186.6h0.75M109.6 149.2h0.75M123.7 181.4h0.75M164.3 181.6h0.75M177.9 154.7h0.75M158.2 150.0h0.75M177.5 162.0h0.75M183.3 175.7h0.75M171.6 162.6h0.75M164.0 183.9h0.75M159.4 190.2h0.75M133.0 135.8h0.75M140.8 122.4h0.75M150.5 132.9h0.75M104.8 133.8h0.75M131.7 141.4h0.75M112.4 140.2h0.75M142.8 125.8h0.75M114.6 134.1h0.75M159.7 130.2h0.75M157.0 123.4h0.75M176.1 139.5h0.75M177.1 141.2h0.75M170.0 137.8h0.75M173.5 137.5h0.75M176.6 138.9h0.75M150.3 175.9h0.75M151.2 175.6h0.75M154.5 168.5h0.75M152.1 164.9h0.75M150.8 177.1h0.75M153.2 175.5h0.75M150.9 174.4h0.75M151.0 175.3h0.75M151.2 179.4h0.75M148.4 173.3h0.75M152.9 172.2h0.75M151.9 172.1h0.75M150.4 179.2h0.75M149.0 174.2h0.75M151.2 181.6h0.75M153.8 169.7h0.75M149.8 178.3h0.75M149.2 174.9h0.75M151.8 175.8h0.75M148.1 176.3h0.75M146.9 178.4h0.75M150.0 181.7h0.75M150.1 165.9h0.75M150.6 172.6h0.75M150.2 172.5h0.75M152.0 164.3h0.75M150.7 174.2h0.75M150.1 171.2h0.75M150.3 173.6h0.75M152.4 168.4h0.75M152.9 171.5h0.75M152.8 172.4h0.75M152.3 174.9h0.75M145.2 172.3h0.75M149.5 168.4h0.75M150.2 183.1h0.75M151.5 174.3h0.75M148.1 175.5h0.75M153.6 175.2h0.75M151.3 182.6h0.75M150.1 170.4h0.75M151.3 177.5h0.75M150.5 174.7h0.75M149.7 176.0h0.75M151.8 181.3h0.75M150.2 175.7h0.75M148.3 181.9h0.75M149.8 177.9h0.75M150.9 175.1h0.75M149.2 173.7h0.75M153.4 173.6h0.75M149.1 174.3h0.75M154.6 164.2h0.75M152.8 171.8h0.75M149.2 179.2h0.75M151.3 176.5h0.75M153.1 176.8h0.75M150.7 174.5h0.75M148.9 176.4h0.75M151.2 177.6h0.75M155.0 166.4h0.75M148.4 173.4h0.75M152.1 175.3h0.75M151.1 174.9h0.75M150.9 174.7h0.75M150.6 167.4h0.75M150.6 171.6h0.75M153.2 168.7h0.75M151.7 187.8h0.75M149.4 172.2h0.75M154.1 169.1h0.75M149.1 164.8h0.75M152.3 173.6h0.75M151.2 181.5h0.75M153.4 171.1h0.75M151.7 176.4h0.75M152.7 181.8h0.75M151.0 176.5h0.75M153.0 169.0h0.75M151.9 168.3h0.75M155.1 170.6h0.75M149.7 178.4h0.75M153.7 162.5h0.75M151.8 179.0h0.75M151.4 174.1h0.75M149.9 180.2h0.75M152.1 167.8h0.75M148.6 171.6h0.75M148.8 169.6h0.75M152.4 173.3h0.75M148.3 173.9h0.75M153.7 173.0h0.75M150.3 182.2h0.75M151.7 169.3h0.75M151.4 169.6h0.75M151.8 175.5h0.75M150.6 173.7h0.75M150.5 172.3h0.75M151.2 166.6h0.75M153.1 171.8h0.75M153.2 173.6h0.75M153.4 176.1h0.75M151.6 180.5h0.75M150.7 176.4h0.75M148.1 173.3h0.75M152.3 174.9h0.75M152.7 173.4h0.75M150.5 170.3h0.75M152.7 171.8h0.75M153.5 172.5h0.75M151.4 170.7h0.75M153.1 172.9h0.75M151.7 173.8h0.75M148.1 171.5h0.75M150.0 181.4h0.75M150.6 168.0h0.75M151.9 179.5h0.75M149.7 169.9h0.75M150.4 173.6h0.75M149.6 168.6h0.75M151.1 173.5h0.75M151.1 177.9h0.75M153.1 168.9h0.75M152.6 172.9h0.75M151.5 173.1h0.75M151.6 173.3h0.75M151.5 169.2h0.75M151.5 170.0h0.75M154.0 172.7h0.75M146.4 180.5h0.75" stroke="#000" stroke-opacity="0.45" stroke-width="0.75" fill="none"/><path d="M142.2 180.3h0.75M132.0 185.4h0.75M127.7 177.2h0.75M131.4 185.3h0.75M126.2 177.5h0.75M122.3 172.9h0.75M135.1 177.5h0.75M127.9 184.1h0.75M132.7 188.1h0.75M132.5 186.0h0.75M130.5 181.2h0.75M126.6 178.1h0.75M132.5 173.1h0.75M127.4 177.3h0.75M127.1 174.4h0.75M127.2 177.6h0.75M116.2 170.8h0.75M124.0 182.0h0.75M122.2 181.9h0.75M135.7 189.1h0.75M126.1 184.2h0.75M121.0 179.9h0.75M131.0 180.2h0.75M128.1 171.6h0.75M133.0 165.0h0.75M132.0 184.7h0.75M129.1 181.5h0.75M131.3 170.0h0.75M128.4 178.1h0.75M127.2 184.7h0.75M141.8 173.6h0.75M123.1 183.7h0.75M125.5 175.2h0.75M131.4 173.1h0.75M122.4 182.5h0.75M129.9 182.9h0.75M128.3 173.7h0.75M138.9 165.9h0.75M126.0 186.4h0.75M125.6 174.7h0.75M134.6 181.1h0.75M129.3 179.4h0.75M123.6 186.3h0.75M134.9 184.8h0.75M130.5 181.2h0.75M132.6 180.5h0.75M132.3 170.9h0.75M132.2 172.3h0.75M132.1 180.0h0.75M133.8 184.2h0.75M125.5 188.2h0.75M133.2 189.0h0.75M130.2 179.2h0.75M126.4 180.8h0.75M131.3 182.6h0.75M123.6 181.3h0.75M136.7 173.3h0.75M137.7 167.0h0.75M128.5 184.1h0.75M127.8 172.6h0.75M128.2 181.6h0.75M131.8 168.3h0.75M133.4 181.9h0.75M126.1 173.9h0.75M129.0 183.0h0.75M124.9 171.3h0.75M121.5 179.9h0.75M134.9 181.5h0.75M122.2 177.4h0.75M131.4 177.1h0.75M127.7 176.1h0.75M128.6 165.0h0.75M128.9 180.0h0.75M135.0 177.1h0.75M120.2 176.8h0.75M133.1 179.1h0.75M124.9 175.9h0.75M126.8 173.6h0.75M128.6 178.4h0.75M131.8 172.6h0.75M126.1 170.8h0.75M121.6 186.6h0.75M137.5 178.9h0.75M118.2 174.3h0.75M120.2 186.5h0.75M136.2 171.2h0.75M121.9 184.4h0.75M131.7 183.1h0.75M124.3 178.7h0.75M119.5 167.9h0.75M132.4 177.3h0.75M124.8 175.2h0.75M134.3 176.9h0.75M126.7 180.8h0.75M124.8 172.6h0.75M130.3 187.3h0.75M132.8 182.1h0.75M141.0 176.1h0.75M127.3 172.3h0.75M128.3 176.2h0.75M123.4 178.2h0.75M122.9 179.2h0.75M133.6 168.9h0.75M123.0 184.1h0.75M123.6 182.5h0.75M128.6 180.5h0.75M124.5 177.8h0.75M142.4 177.8h0.75M123.4 165.5h0.75M130.6 173.5h0.75M121.8 182.0h0.75M127.0 184.8h0.75M129.9 175.9h0.75M136.7 172.2h0.75M121.4 178.7h0.75M121.0 186.6h0.75M132.6 173.5h0.75M135.3 171.0h0.75M124.5 176.5h0.75M135.0 171.5h0.75M122.9 172.0h0.75M136.1 177.6h0.75M126.2 175.7h0.75M127.0 181.3h0.75M126.6 181.7h0.75M139.5 179.0h0.75M138.9 178.4h0.75M122.5 180.9h0.75M135.0 167.2h0.75M130.3 187.0h0.75M121.6 184.9h0.75M131.7 184.6h0.75M126.8 177.5h0.75M122.5 170.0h0.75M129.3 186.8h0.75M126.7 180.0h0.75M126.0 180.6h0.75M130.2 177.7h0.75M125.2 184.0h0.75M127.9 181.8h0.75M123.4 172.2h0.75M138.3 179.0h0.75M129.0 175.1h0.75M126.4 176.9h0.75M135.5 184.3h0.75M132.8 181.2h0.75M133.5 173.6h0.75M126.4 168.9h0.75M138.7 173.4h0.75M137.1 176.5h0.75M127.8 178.4h0.75M122.8 174.5h0.75M131.2 172.3h0.75M128.0 171.5h0.75M128.2 179.8h0.75M121.9 186.9h0.75M120.4 189.0h0.75M128.3 174.3h0.75M133.1 177.1h0.75M134.1 178.4h0.75M119.7 180.5h0.75M133.7 174.6h0.75M130.5 189.5h0.75M130.9 178.2h0.75M132.8 181.0h0.75M122.6 179.3h0.75M125.0 180.7h0.75M123.0 181.4h0.75M121.0 189.6h0.75M135.9 186.2h0.75M131.5 183.6h0.75M135.1 178.6h0.75M130.3 177.6h0.75M123.1 178.0h0.75M129.7 176.8h0.75M127.5 182.5h0.75M129.7 173.2h0.75M132.3 181.6h0.75M120.2 177.5h0.75M123.8 170.9h0.75M126.0 174.0h0.75M122.3 172.4h0.75M129.8 169.7h0.75M140.7 177.9h0.75M125.6 178.9h0.75M126.8 180.7h0.75M130.6 184.4h0.75M124.5 177.8h0.75M119.4 191.4h0.75M130.8 179.3h0.75M131.5 176.7h0.75M125.2 182.9h0.75M122.5 173.6h0.75M120.8 178.3h0.75M132.2 175.6h0.75M121.2 186.1h0.75M125.5 178.0h0.75M138.9 171.7h0.75M130.9 182.6h0.75M134.4 183.2h0.75M129.3 182.4h0.75M124.8 187.9h0.75M127.0 176.9h0.75M129.7 175.9h0.75M123.2 183.3h0.75M129.4 176.2h0.75M133.9 172.3h0.75M138.4 182.3h0.75M120.3 177.6h0.75M120.3 185.9h0.75M138.8 183.0h0.75M131.8 176.9h0.75M135.2 181.6h0.75M122.2 179.5h0.75M120.4 180.2h0.75M126.9 175.3h0.75M128.4 177.6h0.75M128.0 189.3h0.75M126.1 173.1h0.75M135.9 183.6h0.75M127.0 173.5h0.75M121.8 180.9h0.75M128.3 182.1h0.75M129.8 179.3h0.75M122.6 172.3h0.75M126.7 181.5h0.75M121.8 176.4h0.75M138.7 187.4h0.75M127.4 177.8h0.75M129.4 179.0h0.75M119.9 176.8h0.75M123.5 178.5h0.75M125.9 172.5h0.75M125.0 186.1h0.75M120.5 181.5h0.75M127.8 182.1h0.75M133.2 171.7h0.75M128.0 175.8h0.75M139.6 179.4h0.75M125.0 174.8h0.75M122.0 171.8h0.75M121.4 184.9h0.75M122.1 175.5h0.75M135.2 172.0h0.75M132.3 181.5h0.75M130.3 172.6h0.75M134.4 180.1h0.75M126.4 175.7h0.75M130.8 185.7h0.75M132.2 183.9h0.75M130.8 174.4h0.75M130.2 176.2h0.75M128.9 173.4h0.75M129.6 178.9h0.75M126.7 186.1h0.75M123.1 173.2h0.75M125.2 185.6h0.75M130.5 169.6h0.75M122.5 171.5h0.75M146.9 179.9h0.75M126.4 179.9h0.75M122.4 183.3h0.75M126.4 175.7h0.75M138.1 179.0h0.75M122.0 170.0h0.75M131.7 176.7h0.75M134.3 187.8h0.75M125.1 178.1h0.75M146.0 168.4h0.75M130.3 181.3h0.75M123.1 176.8h0.75M125.5 180.3h0.75M132.7 181.5h0.75M131.0 178.1h0.75M133.5 177.7h0.75M128.1 176.6h0.75M120.9 184.6h0.75M131.3 177.1h0.75M130.1 185.9h0.75M128.4 182.6h0.75M119.2 182.3h0.75M118.9 169.8h0.75M125.9 184.0h0.75M129.9 182.0h0.75M123.5 169.8h0.75M126.0 173.2h0.75M124.2 186.2h0.75M122.0 176.0h0.75M122.2 179.4h0.75M133.9 176.6h0.75M126.2 179.6h0.75M124.4 177.6h0.75M137.0 182.9h0.75M127.3 185.2h0.75M128.7 177.7h0.75M120.0 175.3h0.75M137.1 168.8h0.75M134.8 178.1h0.75M132.7 171.8h0.75M123.0 186.8h0.75M122.9 183.7h0.75M135.0 176.3h0.75M128.7 182.0h0.75M128.0 181.6h0.75M127.9 173.8h0.75M120.3 181.2h0.75M138.4 186.2h0.75M125.3 173.3h0.75M129.7 175.0h0.75M127.1 185.4h0.75M130.7 176.2h0.75M122.2 177.3h0.75M130.3 169.7h0.75M135.9 177.2h0.75M135.9 180.0h0.75M134.6 183.0h0.75M131.9 176.7h0.75M130.3 171.4h0.75M127.1 180.2h0.75M127.0 175.3h0.75M127.0 180.2h0.75M122.2 186.3h0.75M127.8 185.0h0.75M129.4 172.1h0.75M139.3 179.5h0.75M123.5 178.5h0.75M120.5 177.1h0.75M135.9 173.1h0.75M119.6 175.1h0.75M139.9 171.9h0.75M129.2 179.7h0.75M122.7 180.6h0.75M135.1 177.7h0.75" stroke="#000" stroke-opacity="0.50" stroke-width="0.75" fill="none"/><ellipse cx="128.2" cy="178.2" rx="11.0" ry="8.0" fill="url(#rg)" opacity="1.00" transform="rotate(-30 128.2 178.2)"/><ellipse cx="151.0" cy="173.5" rx="3.2" ry="7.5" fill="url(#rg)" opacity="0.60" transform="rotate(-5 151.0 173.5)"/><ellipse cx="138.0" cy="168.0" rx="10.0" ry="5.0" fill="url(#rg)" opacity="0.35" transform="rotate(-40 138.0 168.0)"/><path d="M158.9 120.0h0.75M163.5 122.8h0.75M166.5 126.8h0.75M159.7 123.8h0.75M159.6 126.0h0.75M161.9 123.0h0.75M163.9 119.4h0.75M162.2 125.2h0.75M157.8 125.4h0.75M161.5 122.8h0.75M163.8 123.1h0.75M157.9 125.3h0.75M155.5 123.3h0.75M162.3 125.0h0.75M161.7 123.7h0.75M163.3 118.2h0.75M160.7 123.9h0.75M158.0 123.1h0.75M158.7 122.4h0.75M156.8 125.7h0.75M156.9 123.4h0.75M158.5 125.8h0.75M158.9 127.2h0.75M164.4 124.3h0.75M155.7 120.9h0.75M160.1 122.5h0.75M158.5 126.8h0.75M165.7 123.2h0.75M161.2 122.3h0.75M159.1 124.2h0.75M163.4 125.3h0.75M160.7 125.0h0.75M158.9 126.1h0.75M165.7 121.8h0.75M162.9 123.4h0.75M166.5 123.2h0.75M164.5 123.9h0.75M162.7 118.9h0.75M160.8 123.7h0.75M156.3 121.3h0.75M163.3 127.6h0.75M161.0 128.2h0.75M163.2 128.3h0.75M160.6 126.4h0.75M157.9 123.3h0.75M157.1 127.0h0.75M162.9 123.6h0.75M165.2 125.5h0.75M159.2 122.2h0.75M161.9 122.7h0.75M165.5 125.1h0.75M157.9 129.0h0.75M159.2 124.4h0.75M156.9 130.3h0.75M165.2 130.8h0.75M161.1 121.1h0.75M158.8 124.4h0.75M154.3 122.5h0.75M159.8 124.1h0.75M163.9 122.7h0.75M159.4 124.3h0.75M159.1 126.9h0.75M162.9 126.5h0.75M156.1 125.4h0.75M160.6 124.3h0.75M162.6 124.5h0.75M157.7 124.9h0.75M157.6 126.0h0.75M161.3 124.3h0.75M160.2 125.6h0.75M159.3 121.2h0.75M161.4 126.3h0.75M161.6 128.6h0.75M157.2 125.1h0.75M157.8 121.0h0.75M162.3 127.6h0.75M164.4 123.2h0.75M164.6 116.5h0.75M157.4 124.1h0.75M164.5 125.5h0.75M163.2 125.1h0.75M160.6 127.4h0.75M162.3 125.7h0.75M163.4 124.4h0.75M166.4 118.9h0.75M156.5 121.9h0.75M162.6 124.6h0.75M160.1 126.1h0.75M159.5 121.9h0.75M164.4 122.5h0.75M163.5 125.3h0.75M156.5 119.9h0.75M159.0 119.6h0.75M161.2 123.7h0.75M155.5 125.4h0.75M163.4 122.9h0.75M159.7 118.7h0.75M161.1 124.4h0.75M161.4 120.9h0.75M167.0 125.4h0.75M160.6 124.1h0.75M159.3 125.1h0.75M166.8 125.4h0.75M158.6 123.2h0.75M158.8 126.6h0.75M155.8 127.9h0.75M164.4 125.0h0.75M161.7 127.6h0.75M162.0 122.7h0.75M161.3 126.6h0.75M160.1 125.1h0.75M157.5 122.1h0.75M157.7 124.4h0.75M161.9 122.9h0.75M160.8 122.9h0.75M166.3 124.1h0.75M158.0 127.2h0.75M158.7 123.7h0.75M156.9 125.0h0.75M165.1 120.3h0.75M156.1 125.0h0.75M163.5 127.0h0.75M165.8 125.9h0.75M160.1 125.6h0.75M163.0 122.8h0.75M152.7 122.6h0.75M159.1 124.2h0.75M154.3 121.5h0.75M160.8 121.2h0.75M160.7 126.7h0.75M157.6 122.3h0.75M164.2 128.5h0.75M161.4 120.7h0.75M158.7 125.6h0.75M158.4 121.6h0.75M155.3 125.2h0.75M159.6 121.8h0.75M168.0 123.8h0.75M158.0 124.2h0.75M161.9 123.1h0.75M158.7 125.8h0.75M163.7 127.9h0.75M161.9 122.7h0.75M159.9 126.6h0.75" stroke="#3a0a10" stroke-opacity="0.45" stroke-width="0.75" fill="none"/><ellipse cx="160.6" cy="123.4" rx="5.8" ry="3.6" fill="url(#rgm)" opacity="0.70" transform="rotate(-5 160.6 123.4)"/></g><rect x="153.80" y="112.15" width="30.30" height="30.85" fill="none" stroke="#c8102e" stroke-width="1.40"/><rect x="102.30" y="110.85" width="83.05" height="83.30" fill="none" stroke="#111" stroke-width="1.2"/><path d="M152.65 110.85V194.15M102.30 144.15H185.35" stroke="#111" stroke-width="1.1"/><g font-size="7.4" fill="#111" stroke="#111" stroke-width="0.18"><text x="104.2" y="120.4" transform="rotate(0.05 104.2 120.4)">Q1</text><text x="104.2" y="129.2" transform="rotate(0.05 104.2 129.2)">0.58</text><text x="182.4" y="120.4" transform="rotate(0.05 182.4 120.4)" text-anchor="end">Q2</text><text x="182.4" y="129.2" transform="rotate(0.05 182.4 129.2)" text-anchor="end">10.5</text><text x="104.2" y="182.5" transform="rotate(0.05 104.2 182.5)">Q4</text><text x="104.2" y="191.3" transform="rotate(0.05 104.2 191.3)">87.0</text><text x="182.4" y="182.5" transform="rotate(0.05 182.4 182.5)" text-anchor="end">Q3</text><text x="182.4" y="191.3" transform="rotate(0.05 182.4 191.3)" text-anchor="end">1.87</text></g><clipPath id="cp11"><rect x="192.9" y="110.8" width="83.0" height="83.3"/></clipPath><rect x="243.25" y="110.85" width="32.70" height="33.30" fill="#efc9cf"/><rect x="245.60" y="113.35" width="27.90" height="28.45" fill="none" stroke="#f6dde1" stroke-width="1"/><g clip-path="url(#cp11)"><path d="M240.2 122.7h0.75M234.0 128.7h0.75M238.8 117.4h0.75M231.4 128.7h0.75M246.0 126.1h0.75M233.5 140.1h0.75M243.6 133.0h0.75M250.5 129.6h0.75M222.6 131.5h0.75M231.4 134.4h0.75M236.2 126.8h0.75M244.6 129.5h0.75M234.5 128.9h0.75M239.8 143.4h0.75M233.0 131.1h0.75M240.9 120.6h0.75M230.1 134.8h0.75M242.5 144.0h0.75M219.2 125.8h0.75M225.9 148.5h0.75M248.5 130.4h0.75M238.5 135.8h0.75M232.0 127.8h0.75M250.9 129.3h0.75M243.8 124.4h0.75M244.3 125.3h0.75M234.9 119.7h0.75M241.2 136.6h0.75M240.5 124.8h0.75M227.3 132.6h0.75M241.1 132.4h0.75M236.3 127.4h0.75M245.3 130.9h0.75M245.4 130.2h0.75M233.5 128.1h0.75M233.7 130.9h0.75M238.6 131.0h0.75M241.4 125.4h0.75M234.9 124.0h0.75M236.7 126.3h0.75M241.2 131.3h0.75M240.0 137.8h0.75M244.5 138.3h0.75M238.9 132.3h0.75M232.0 135.6h0.75M226.6 131.3h0.75M242.4 136.4h0.75M235.4 131.3h0.75M235.3 132.7h0.75M235.6 129.2h0.75" stroke="#000" stroke-opacity="0.25" stroke-width="0.75" fill="none"/><path d="M216.2 173.5h0.75M230.5 163.1h0.75M222.8 161.3h0.75M226.5 163.8h0.75M224.8 178.2h0.75M230.9 169.2h0.75M221.4 172.4h0.75M232.4 157.2h0.75M223.1 153.4h0.75M219.1 176.2h0.75M217.1 179.6h0.75M231.3 171.2h0.75M246.4 165.5h0.75M237.0 159.0h0.75M234.7 167.0h0.75M231.9 172.1h0.75M228.0 172.8h0.75M234.1 171.4h0.75M222.7 176.2h0.75M228.8 167.9h0.75M231.7 175.0h0.75M252.4 133.5h0.75M240.2 158.4h0.75M234.1 168.8h0.75M226.4 158.4h0.75M224.0 157.3h0.75M234.5 162.1h0.75M227.5 166.1h0.75M233.4 164.9h0.75M243.2 155.4h0.75M234.6 150.4h0.75M235.1 160.6h0.75M248.4 154.9h0.75M231.0 158.0h0.75M220.2 169.5h0.75M209.1 172.5h0.75M228.2 172.1h0.75M239.5 171.8h0.75M227.7 151.5h0.75M244.3 155.5h0.75M229.8 171.5h0.75M220.6 166.5h0.75M236.0 152.9h0.75M236.5 145.9h0.75M222.5 162.4h0.75M234.6 159.5h0.75M246.5 152.3h0.75M234.2 159.4h0.75M234.3 166.4h0.75M212.5 182.0h0.75M237.3 144.0h0.75M243.6 162.9h0.75M237.6 166.4h0.75M223.0 162.7h0.75M227.8 181.9h0.75M232.1 165.0h0.75M230.4 163.5h0.75M250.1 161.0h0.75M207.5 161.0h0.75M236.3 140.8h0.75M234.5 164.9h0.75M240.5 149.7h0.75M217.2 166.2h0.75M241.2 165.9h0.75M244.3 153.0h0.75M225.6 154.6h0.75M214.0 172.2h0.75M231.8 169.0h0.75M244.3 165.5h0.75M208.2 165.1h0.75M218.6 176.4h0.75M231.1 157.9h0.75M213.6 162.2h0.75M236.2 154.8h0.75M212.2 165.0h0.75M211.3 176.2h0.75M231.4 176.8h0.75M247.0 150.6h0.75M226.6 173.6h0.75M233.6 164.8h0.75M234.8 161.3h0.75M226.7 175.3h0.75M235.2 146.2h0.75M230.7 158.5h0.75M239.0 161.9h0.75M211.8 173.9h0.75M212.6 175.9h0.75M211.3 193.1h0.75M236.5 171.0h0.75M225.8 161.1h0.75M233.5 151.3h0.75M247.3 151.0h0.75M229.8 165.5h0.75M225.1 161.1h0.75M237.9 160.6h0.75M247.6 150.5h0.75M223.6 169.9h0.75M250.8 170.3h0.75M235.1 170.7h0.75M231.7 168.9h0.75M243.3 159.4h0.75M237.9 183.5h0.75M226.3 177.0h0.75M233.5 152.3h0.75M232.2 163.7h0.75M228.8 164.7h0.75M226.9 160.4h0.75M236.7 158.6h0.75M228.7 166.5h0.75M237.6 154.6h0.75M232.3 155.7h0.75M248.5 152.3h0.75M234.8 142.5h0.75M242.7 158.0h0.75M229.1 163.8h0.75M233.3 162.1h0.75M213.9 155.9h0.75M265.2 143.8h0.75M220.5 155.6h0.75M231.8 152.6h0.75M246.5 152.5h0.75M215.4 171.5h0.75M221.3 167.5h0.75M216.5 154.7h0.75M219.6 168.9h0.75M220.3 174.6h0.75M229.4 169.9h0.75M241.4 148.6h0.75M238.6 156.3h0.75M233.4 163.7h0.75M227.9 158.4h0.75M212.0 173.5h0.75M246.8 165.0h0.75M230.7 153.8h0.75M226.9 177.8h0.75M233.2 160.3h0.75M236.3 170.8h0.75M223.1 163.6h0.75M224.3 173.5h0.75M226.3 169.7h0.75M221.2 169.5h0.75M236.7 159.1h0.75M230.6 154.8h0.75M233.5 158.5h0.75M227.3 161.6h0.75M230.9 169.3h0.75M249.3 142.7h0.75M207.1 172.2h0.75M240.1 149.1h0.75M233.7 158.2h0.75M227.2 156.9h0.75M232.7 173.0h0.75M230.9 165.9h0.75M224.1 176.9h0.75M214.5 170.9h0.75M228.0 161.0h0.75M220.6 182.0h0.75M231.7 147.2h0.75M243.0 153.4h0.75M214.2 173.7h0.75M233.9 159.8h0.75M227.7 154.7h0.75M233.1 161.9h0.75M228.9 152.1h0.75M231.6 148.8h0.75M245.7 160.7h0.75M244.0 142.0h0.75M220.9 151.3h0.75M243.6 158.6h0.75M212.3 173.0h0.75M212.6 145.9h0.75M219.5 172.8h0.75M248.3 153.5h0.75M254.2 142.1h0.75M244.3 165.2h0.75M218.4 173.2h0.75M232.9 165.8h0.75M226.4 156.7h0.75M233.6 160.8h0.75M248.5 159.3h0.75M242.2 155.5h0.75M207.4 187.0h0.75M233.9 139.7h0.75M224.6 164.6h0.75M219.6 160.7h0.75M247.8 152.6h0.75M225.0 160.7h0.75M220.2 176.2h0.75M213.9 169.1h0.75M240.7 170.5h0.75M233.6 147.8h0.75M245.5 148.7h0.75M242.2 176.2h0.75M227.8 167.2h0.75M241.7 142.7h0.75M229.8 169.0h0.75M249.3 153.3h0.75M237.4 163.9h0.75M223.6 150.0h0.75M229.9 165.0h0.75M223.4 148.7h0.75M236.0 175.3h0.75M225.1 168.4h0.75M227.5 160.8h0.75M228.3 171.1h0.75M236.2 161.4h0.75M226.0 155.3h0.75M236.5 172.2h0.75M228.0 162.5h0.75M220.3 155.3h0.75M253.8 152.7h0.75M238.4 169.4h0.75M231.7 173.4h0.75M231.0 167.2h0.75M232.8 151.4h0.75M233.8 168.3h0.75M238.7 172.3h0.75M232.7 168.2h0.75M240.4 168.1h0.75M230.8 154.4h0.75M240.1 162.7h0.75M220.6 181.5h0.75M213.9 164.4h0.75M198.9 178.0h0.75M234.9 151.0h0.75M241.6 152.1h0.75M245.2 152.1h0.75M231.2 159.4h0.75M241.3 151.0h0.75M230.1 161.6h0.75M230.4 163.4h0.75M219.7 178.9h0.75M226.3 171.5h0.75M225.3 167.0h0.75M240.7 154.7h0.75M244.1 144.4h0.75M230.6 170.1h0.75M232.0 156.0h0.75M241.6 167.4h0.75M223.8 168.8h0.75M216.6 179.0h0.75M220.4 165.0h0.75M216.1 173.4h0.75M228.9 165.6h0.75M229.8 163.3h0.75M226.3 160.5h0.75M223.8 157.7h0.75M235.7 157.6h0.75M223.2 171.2h0.75M241.9 156.4h0.75M221.8 183.3h0.75M230.1 159.8h0.75M224.8 148.5h0.75M223.1 168.4h0.75M207.3 167.5h0.75M230.6 149.7h0.75M229.9 173.1h0.75M241.0 157.5h0.75M234.9 151.7h0.75M227.8 158.8h0.75M230.6 161.5h0.75M231.4 144.2h0.75M236.8 160.8h0.75M220.7 168.7h0.75M241.6 169.4h0.75M230.9 151.6h0.75M237.8 165.0h0.75M229.4 156.8h0.75M234.7 168.3h0.75M225.1 158.2h0.75M226.1 174.1h0.75M215.7 172.8h0.75M237.3 147.5h0.75M224.5 167.0h0.75M235.4 162.2h0.75M219.3 177.6h0.75M240.2 168.2h0.75M227.5 173.5h0.75M245.2 121.7h0.75M219.7 169.3h0.75M212.4 160.9h0.75M237.8 151.4h0.75M244.5 154.6h0.75M205.2 174.6h0.75M227.5 153.8h0.75M239.8 154.6h0.75M218.4 171.7h0.75M245.1 163.5h0.75M227.8 168.3h0.75M224.5 173.7h0.75M236.4 173.7h0.75M224.3 163.7h0.75M218.3 174.6h0.75M246.6 136.6h0.75M228.1 167.4h0.75M229.3 173.8h0.75M245.6 160.9h0.75M230.2 162.4h0.75M239.7 146.2h0.75M224.8 160.6h0.75M227.4 151.8h0.75M232.5 161.7h0.75M239.3 167.1h0.75M217.4 152.1h0.75M219.3 152.1h0.75M253.3 153.5h0.75M216.9 160.2h0.75M227.7 168.6h0.75M221.7 158.9h0.75M240.1 160.6h0.75M238.6 162.1h0.75M240.4 154.2h0.75M222.9 178.2h0.75M233.7 159.8h0.75M232.2 166.3h0.75M237.4 173.6h0.75M238.0 165.9h0.75M209.8 176.7h0.75M229.6 155.5h0.75M231.2 159.5h0.75M216.9 173.9h0.75M230.5 163.2h0.75M242.2 144.8h0.75M230.7 168.7h0.75M236.7 156.7h0.75M230.8 165.8h0.75M223.7 169.4h0.75M225.7 173.4h0.75M221.5 159.7h0.75M250.7 157.9h0.75M240.2 156.3h0.75M226.9 170.6h0.75M243.2 155.9h0.75M235.3 168.5h0.75M228.4 171.9h0.75M236.2 159.2h0.75M221.9 169.4h0.75M208.7 168.2h0.75M243.9 151.3h0.75M212.9 177.1h0.75M234.5 155.5h0.75M229.1 187.8h0.75M221.6 153.1h0.75M229.6 164.1h0.75M233.1 172.0h0.75M216.0 186.6h0.75M236.3 169.1h0.75M224.5 156.1h0.75M218.2 165.4h0.75M233.6 165.7h0.75M238.7 151.5h0.75M233.1 177.0h0.75M234.6 160.8h0.75M221.7 173.4h0.75M236.8 160.7h0.75M235.6 154.9h0.75M254.3 140.1h0.75M236.0 150.4h0.75M234.9 157.9h0.75M241.6 146.8h0.75M223.4 172.3h0.75M233.9 145.3h0.75M218.8 159.6h0.75M227.8 169.9h0.75M242.2 153.2h0.75M228.5 155.1h0.75M242.1 148.9h0.75M212.9 170.0h0.75M243.8 169.6h0.75M218.7 159.0h0.75M237.2 172.9h0.75M209.9 175.2h0.75M241.8 155.6h0.75M231.8 158.8h0.75M220.4 169.0h0.75M223.7 178.8h0.75M227.4 173.9h0.75M242.5 147.9h0.75M225.8 158.4h0.75M238.5 175.3h0.75M242.7 164.5h0.75M232.1 162.6h0.75M231.9 158.4h0.75M239.4 156.7h0.75M234.7 159.4h0.75M245.1 159.9h0.75M215.7 168.0h0.75M232.0 161.5h0.75M224.2 161.3h0.75M238.7 167.5h0.75M239.9 171.2h0.75M225.1 167.2h0.75M230.8 167.8h0.75M246.8 160.3h0.75M224.9 165.4h0.75M215.5 168.5h0.75M241.9 161.7h0.75M242.6 155.6h0.75" stroke="#000" stroke-opacity="0.30" stroke-width="0.75" fill="none"/><path d="M217.2 180.1h0.75M224.8 168.6h0.75M222.8 166.6h0.75M207.4 172.7h0.75M213.7 177.8h0.75M227.7 177.4h0.75M226.6 175.2h0.75M232.3 161.8h0.75M216.9 161.8h0.75M228.9 174.5h0.75M232.4 173.0h0.75M211.2 173.3h0.75M217.1 163.3h0.75M234.3 162.7h0.75M237.3 165.0h0.75M223.6 161.4h0.75M221.2 171.2h0.75M214.7 173.5h0.75M230.3 154.1h0.75M223.2 160.0h0.75M222.3 174.6h0.75M214.8 174.5h0.75M196.9 174.0h0.75M243.6 168.5h0.75M222.2 164.5h0.75M218.3 176.0h0.75M217.4 167.4h0.75M248.3 150.8h0.75M228.0 153.3h0.75M214.4 182.0h0.75M223.1 170.6h0.75M219.2 185.0h0.75M205.6 179.5h0.75M223.5 165.9h0.75M244.0 149.3h0.75M247.9 167.4h0.75M218.5 163.1h0.75M223.3 174.9h0.75M223.6 165.7h0.75M235.1 163.3h0.75M216.0 185.7h0.75M210.2 186.6h0.75M242.0 156.0h0.75M228.7 169.4h0.75M235.7 154.3h0.75M226.0 167.4h0.75M229.5 150.3h0.75M218.3 173.9h0.75M225.6 162.6h0.75M236.8 156.3h0.75M237.1 165.4h0.75M223.0 176.1h0.75M234.7 165.2h0.75M224.7 181.2h0.75M201.9 171.1h0.75M231.5 168.1h0.75M236.6 158.6h0.75M231.7 162.8h0.75M208.3 174.8h0.75M234.9 165.7h0.75M236.2 170.1h0.75M226.0 179.1h0.75M236.6 164.9h0.75M236.8 167.3h0.75M237.8 174.8h0.75M216.3 190.7h0.75M213.2 183.6h0.75M234.0 162.3h0.75M232.6 164.4h0.75M230.3 167.3h0.75M220.6 170.1h0.75M232.0 170.7h0.75M217.2 171.7h0.75M218.6 169.2h0.75M219.4 179.4h0.75M224.5 165.5h0.75M220.3 172.8h0.75M223.2 152.6h0.75M234.8 168.1h0.75M218.1 177.2h0.75M239.9 154.3h0.75M217.7 182.1h0.75M229.8 167.6h0.75M230.9 157.9h0.75M245.3 169.0h0.75M238.1 166.5h0.75M244.0 168.7h0.75M234.2 155.3h0.75M215.4 172.2h0.75M229.1 176.2h0.75M219.7 172.6h0.75M231.2 153.8h0.75M225.5 182.4h0.75M239.7 164.3h0.75M225.6 161.4h0.75M218.3 188.3h0.75M217.5 179.7h0.75M233.9 187.2h0.75M233.9 177.7h0.75M230.8 159.3h0.75M222.2 170.7h0.75M228.6 158.5h0.75M212.3 184.4h0.75M225.6 176.7h0.75M229.3 166.9h0.75M215.0 166.5h0.75M212.6 175.1h0.75M235.3 173.5h0.75M246.9 159.4h0.75M223.4 170.5h0.75M218.2 175.9h0.75M217.0 176.8h0.75M241.8 153.8h0.75M216.7 162.8h0.75M234.4 169.4h0.75M232.2 156.9h0.75M234.8 161.9h0.75M205.2 166.3h0.75M234.2 163.4h0.75M238.5 169.5h0.75M218.6 155.7h0.75M240.7 169.0h0.75M222.5 177.4h0.75M220.9 167.5h0.75M213.1 167.3h0.75M236.9 169.4h0.75M220.7 177.2h0.75M231.1 169.8h0.75M214.4 178.4h0.75M220.2 167.6h0.75M226.0 177.6h0.75M219.5 166.8h0.75M230.4 173.5h0.75M215.5 164.0h0.75M218.8 167.9h0.75M240.6 167.2h0.75M211.4 167.4h0.75M217.5 167.1h0.75M221.1 180.5h0.75M234.6 163.0h0.75M227.7 188.4h0.75M238.0 174.8h0.75M237.9 163.3h0.75M242.2 159.7h0.75M226.4 151.7h0.75M226.1 160.9h0.75M213.3 179.0h0.75M235.1 158.6h0.75M228.6 153.8h0.75M227.7 158.8h0.75M227.8 159.5h0.75M230.7 174.7h0.75M222.7 176.7h0.75M232.6 159.6h0.75M234.5 158.2h0.75M217.6 180.5h0.75M229.5 159.3h0.75M225.9 167.0h0.75M224.4 154.7h0.75M230.6 171.2h0.75M239.0 165.4h0.75M235.5 163.3h0.75M234.9 165.0h0.75M215.2 183.7h0.75M241.7 173.0h0.75M226.5 170.8h0.75M209.3 173.5h0.75M226.1 159.3h0.75M216.9 185.2h0.75M237.7 167.7h0.75M243.1 159.6h0.75M224.9 178.5h0.75M233.8 163.4h0.75M221.9 159.4h0.75M227.3 161.4h0.75M205.2 173.0h0.75M228.5 163.2h0.75M219.8 162.6h0.75M231.9 164.4h0.75M224.4 169.3h0.75M225.2 151.7h0.75M231.0 171.3h0.75M234.5 168.1h0.75M230.1 152.0h0.75M227.4 169.3h0.75M237.0 165.2h0.75M225.7 166.8h0.75M233.6 169.8h0.75M221.7 175.5h0.75M236.8 168.7h0.75M236.4 160.7h0.75M223.7 170.0h0.75M234.3 165.9h0.75M232.5 170.2h0.75M217.1 180.5h0.75M226.0 165.0h0.75M232.5 155.3h0.75M219.4 172.4h0.75M227.9 169.3h0.75M220.6 176.2h0.75M240.7 153.8h0.75M224.9 170.4h0.75M226.0 170.9h0.75M227.4 182.8h0.75M233.0 173.7h0.75M217.8 172.0h0.75M219.7 179.6h0.75M223.1 169.0h0.75M218.0 176.3h0.75M235.1 157.8h0.75M212.5 176.8h0.75M218.1 164.1h0.75M207.7 164.0h0.75M214.7 182.5h0.75M244.7 161.8h0.75M239.8 160.3h0.75M211.6 179.9h0.75M227.3 170.6h0.75M240.2 147.3h0.75M213.3 180.9h0.75M224.8 147.7h0.75M227.7 169.6h0.75M220.0 173.9h0.75M213.1 158.4h0.75M220.3 181.1h0.75M226.1 168.8h0.75M238.6 158.5h0.75M223.7 174.9h0.75M224.4 166.8h0.75M230.1 154.8h0.75M239.6 151.3h0.75M218.3 172.8h0.75M238.3 178.1h0.75M229.3 183.5h0.75M217.5 173.0h0.75M219.9 171.3h0.75M221.5 176.8h0.75M213.5 187.1h0.75M214.3 171.2h0.75M235.5 178.1h0.75M240.3 164.9h0.75M213.3 166.9h0.75M215.3 162.9h0.75M226.7 160.5h0.75M232.4 164.8h0.75M226.8 173.5h0.75M223.1 168.8h0.75M233.0 146.6h0.75M223.4 173.8h0.75M224.0 176.9h0.75M211.6 183.4h0.75M226.4 164.0h0.75M225.7 174.9h0.75M240.8 153.8h0.75M217.0 167.3h0.75M232.4 163.6h0.75M226.7 156.0h0.75M243.5 160.9h0.75M216.5 183.1h0.75M233.4 152.1h0.75M226.3 170.8h0.75M230.3 176.8h0.75M212.3 162.2h0.75M221.2 172.5h0.75M230.2 180.7h0.75M198.3 181.8h0.75M228.6 164.9h0.75M218.8 162.5h0.75M216.9 177.5h0.75M213.0 158.9h0.75M236.4 143.0h0.75M225.7 164.2h0.75M222.6 173.8h0.75M241.2 157.6h0.75M220.6 178.6h0.75M229.4 176.8h0.75M223.9 177.9h0.75M226.7 175.5h0.75M226.5 159.1h0.75M229.2 164.4h0.75M234.5 191.4h0.75M235.0 182.0h0.75M229.9 173.2h0.75M225.3 176.9h0.75M229.6 175.0h0.75M217.2 174.0h0.75M228.5 185.5h0.75M223.7 167.8h0.75M216.2 178.1h0.75M239.1 177.0h0.75M213.4 161.5h0.75M219.3 179.3h0.75M211.7 166.7h0.75M218.0 170.7h0.75M223.4 170.8h0.75M224.4 167.3h0.75M224.2 172.5h0.75M214.2 173.4h0.75M236.4 157.6h0.75M226.8 156.7h0.75M224.1 167.2h0.75M226.2 155.4h0.75M231.0 170.5h0.75M216.7 165.8h0.75M229.2 172.6h0.75M245.1 146.0h0.75M231.8 160.3h0.75M239.5 167.1h0.75M222.4 173.8h0.75M220.8 155.8h0.75M246.2 153.8h0.75M214.5 152.3h0.75M235.3 162.4h0.75M233.5 157.7h0.75M223.6 157.8h0.75M238.5 157.4h0.75M225.5 166.6h0.75M239.0 175.7h0.75M217.8 173.0h0.75M256.3 157.7h0.75M234.4 174.2h0.75M223.0 166.1h0.75M232.5 154.6h0.75M227.6 180.5h0.75M224.4 169.4h0.75M219.4 177.2h0.75M224.0 168.6h0.75M216.0 167.2h0.75M227.7 163.7h0.75M219.3 166.3h0.75M212.7 167.4h0.75M221.2 171.0h0.75M232.9 179.7h0.75M228.8 182.1h0.75M232.5 162.0h0.75M231.3 165.1h0.75M228.8 171.3h0.75M222.0 186.4h0.75M230.9 167.3h0.75M212.2 178.1h0.75M224.7 166.6h0.75M231.0 175.2h0.75M233.0 187.6h0.75M215.2 173.7h0.75M209.3 165.6h0.75M245.9 157.1h0.75M222.5 171.8h0.75M224.1 172.4h0.75M239.0 168.2h0.75M228.9 166.9h0.75M227.2 154.8h0.75M205.4 170.4h0.75M215.9 178.7h0.75M246.7 137.0h0.75M226.2 171.8h0.75M216.4 166.1h0.75M224.7 166.9h0.75M226.0 154.6h0.75M213.6 178.0h0.75M225.2 165.5h0.75M227.8 173.2h0.75M237.2 171.1h0.75M225.6 167.7h0.75M216.5 170.1h0.75M227.6 186.7h0.75M236.1 165.0h0.75M216.1 185.0h0.75M229.0 180.5h0.75M243.7 161.4h0.75M225.0 176.8h0.75M233.9 168.8h0.75M219.1 167.5h0.75M227.8 161.3h0.75M224.8 169.3h0.75M221.4 174.6h0.75M236.2 159.1h0.75M224.4 173.7h0.75M214.3 181.1h0.75M220.3 170.6h0.75M221.5 157.6h0.75M220.1 183.2h0.75M234.4 166.5h0.75M227.0 159.4h0.75M244.9 155.2h0.75M221.8 177.2h0.75M230.9 165.0h0.75M202.4 174.6h0.75M215.7 167.5h0.75M223.0 166.2h0.75M236.4 174.7h0.75M220.4 166.2h0.75M222.6 169.1h0.75M214.6 169.5h0.75M219.0 171.2h0.75M229.3 169.2h0.75M219.4 155.2h0.75M216.3 150.8h0.75M236.5 165.2h0.75M234.9 160.5h0.75M225.6 179.1h0.75M228.6 176.1h0.75M209.5 164.9h0.75M232.8 160.7h0.75M236.7 169.4h0.75M220.9 167.6h0.75M224.5 167.5h0.75M240.1 164.5h0.75M220.9 171.5h0.75M216.6 166.7h0.75M229.1 159.3h0.75M222.4 159.7h0.75M239.4 161.2h0.75M219.6 158.5h0.75M236.1 168.9h0.75M212.5 166.3h0.75M217.7 177.9h0.75M217.8 162.8h0.75M233.5 171.8h0.75M238.5 167.7h0.75M232.2 175.9h0.75M222.9 171.4h0.75M234.5 161.7h0.75M225.9 171.5h0.75M236.1 165.1h0.75M240.9 150.2h0.75M236.4 169.6h0.75M234.3 164.0h0.75M234.8 171.7h0.75M229.5 170.3h0.75M230.7 171.1h0.75M222.0 165.9h0.75M231.8 159.2h0.75M221.5 170.7h0.75M229.6 163.8h0.75M222.4 181.0h0.75M218.0 164.6h0.75M235.5 191.7h0.75M228.1 165.8h0.75M238.3 169.2h0.75M242.0 163.4h0.75M216.7 153.5h0.75M218.0 174.6h0.75M234.4 175.3h0.75M217.7 153.4h0.75M240.3 162.4h0.75M225.8 164.7h0.75M211.4 186.0h0.75M221.7 155.0h0.75M229.7 167.4h0.75M225.9 162.8h0.75M228.6 159.1h0.75M231.7 170.4h0.75M237.2 192.6h0.75M229.6 168.9h0.75M237.6 163.0h0.75M223.9 170.7h0.75M221.7 166.2h0.75M216.5 181.1h0.75M242.0 168.1h0.75M221.9 175.0h0.75M223.5 180.4h0.75M220.3 172.5h0.75M230.6 189.5h0.75M214.9 163.9h0.75M238.3 162.6h0.75M234.2 166.3h0.75M237.9 159.8h0.75M231.6 152.4h0.75M212.2 171.6h0.75M227.8 164.9h0.75M237.7 158.3h0.75M237.7 145.4h0.75M216.3 184.3h0.75M234.0 171.3h0.75M219.6 169.9h0.75M213.5 174.6h0.75M224.5 163.3h0.75M230.9 188.6h0.75M224.5 169.9h0.75M231.0 174.0h0.75M241.6 176.2h0.75M238.4 168.2h0.75M238.1 160.1h0.75M239.9 146.8h0.75M242.3 157.2h0.75M236.3 172.5h0.75M237.1 155.4h0.75M237.7 158.8h0.75M242.6 143.9h0.75M246.1 159.9h0.75M240.4 160.5h0.75M244.9 156.0h0.75M241.7 157.0h0.75M231.6 168.7h0.75M241.2 158.0h0.75M236.9 160.8h0.75M237.8 146.9h0.75M240.0 139.2h0.75M243.7 168.4h0.75M233.9 165.5h0.75M236.9 165.0h0.75M242.4 164.5h0.75M240.9 164.5h0.75M234.9 157.4h0.75M241.1 150.1h0.75M236.6 168.7h0.75M237.2 170.7h0.75M239.6 173.6h0.75M239.7 149.7h0.75M240.8 148.1h0.75M242.1 171.5h0.75M232.2 170.6h0.75M239.0 157.5h0.75M242.8 150.3h0.75M237.6 150.0h0.75M238.3 156.8h0.75M236.9 152.6h0.75M240.8 156.2h0.75M237.3 162.7h0.75M244.9 144.1h0.75M242.9 159.2h0.75M238.5 167.5h0.75M238.1 162.2h0.75M238.5 171.0h0.75M240.1 158.6h0.75M237.8 149.4h0.75M241.3 169.2h0.75M242.1 149.9h0.75M245.2 142.6h0.75M236.4 155.0h0.75M240.9 168.3h0.75M245.0 166.5h0.75M241.3 161.6h0.75M233.8 168.0h0.75M238.3 168.5h0.75M239.4 160.7h0.75M240.3 160.2h0.75M240.0 153.8h0.75M239.7 168.4h0.75M241.1 143.7h0.75M242.1 150.4h0.75M239.1 151.3h0.75M239.3 163.9h0.75M245.3 145.5h0.75M238.0 161.1h0.75M244.4 144.7h0.75M238.7 149.8h0.75M237.5 165.5h0.75M238.6 162.1h0.75M246.2 144.6h0.75M239.0 150.4h0.75M243.3 160.5h0.75M235.8 156.3h0.75M239.7 157.0h0.75M241.5 165.2h0.75M241.7 160.6h0.75M236.0 163.3h0.75M235.6 161.4h0.75M243.2 155.5h0.75M234.8 165.6h0.75M242.6 153.2h0.75M238.5 157.5h0.75M240.9 152.6h0.75M248.0 152.9h0.75M246.2 149.7h0.75M243.3 154.2h0.75M236.8 152.4h0.75M240.6 160.3h0.75M240.8 154.2h0.75M238.3 165.7h0.75M243.5 161.3h0.75M235.8 151.9h0.75M240.8 159.2h0.75M240.9 155.2h0.75M236.2 166.6h0.75M246.9 148.8h0.75M235.3 162.6h0.75M240.5 155.6h0.75M240.1 158.9h0.75M234.6 150.2h0.75M235.1 160.9h0.75M235.6 166.1h0.75M239.6 174.1h0.75M242.3 161.6h0.75M240.0 168.4h0.75M241.3 154.6h0.75M235.3 146.1h0.75M237.4 176.4h0.75M236.5 168.6h0.75M243.8 156.8h0.75M245.6 149.6h0.75M247.0 157.4h0.75M242.4 156.5h0.75M243.0 155.1h0.75M237.6 153.6h0.75M242.4 145.7h0.75M237.0 153.2h0.75M240.8 168.9h0.75M235.6 161.8h0.75M239.5 156.9h0.75M236.3 164.7h0.75M238.1 160.5h0.75" stroke="#000" stroke-opacity="0.35" stroke-width="0.75" fill="none"/><path d="M213.2 181.9h0.75M218.4 174.5h0.75M210.4 189.2h0.75M210.0 184.7h0.75M210.0 177.3h0.75M220.8 180.0h0.75M202.1 178.0h0.75M213.2 181.5h0.75M213.9 182.8h0.75M212.1 182.3h0.75M222.9 179.1h0.75M217.4 178.4h0.75M215.5 184.5h0.75M214.2 189.8h0.75M210.1 178.4h0.75M212.1 184.3h0.75M212.8 181.6h0.75M209.6 178.5h0.75M214.8 186.5h0.75M219.6 181.8h0.75M216.8 178.0h0.75M212.9 180.2h0.75M217.0 176.8h0.75M217.0 186.5h0.75M211.0 183.9h0.75M209.7 180.3h0.75M215.0 186.4h0.75M215.7 183.6h0.75M212.0 187.0h0.75M205.1 177.9h0.75M211.9 180.6h0.75M214.4 180.6h0.75M216.3 175.8h0.75M209.3 184.8h0.75M214.5 181.7h0.75M212.9 181.7h0.75M209.8 186.7h0.75M209.5 179.3h0.75M208.7 182.4h0.75M208.3 179.8h0.75M219.7 181.0h0.75M216.7 184.2h0.75M205.5 181.3h0.75M215.7 186.4h0.75M213.0 178.6h0.75M210.2 182.1h0.75M214.1 176.0h0.75M215.7 180.9h0.75M210.7 186.5h0.75M212.7 184.2h0.75M212.8 188.3h0.75M211.6 186.8h0.75M213.4 175.9h0.75M216.1 181.3h0.75M213.5 180.0h0.75M215.5 180.3h0.75M212.8 175.1h0.75M214.8 187.0h0.75M217.4 177.1h0.75M211.3 183.5h0.75M221.4 184.9h0.75M216.4 180.2h0.75M214.0 179.6h0.75M209.4 174.4h0.75M217.4 186.6h0.75M212.4 181.6h0.75M211.2 178.6h0.75M212.7 177.9h0.75M213.8 183.5h0.75M212.1 187.1h0.75M211.0 176.6h0.75M211.3 179.2h0.75M214.4 174.7h0.75M206.7 183.9h0.75M212.0 182.0h0.75M211.4 189.9h0.75M209.7 180.9h0.75M215.4 179.7h0.75M210.3 184.6h0.75M214.5 184.2h0.75M209.8 182.3h0.75M212.2 179.5h0.75M213.8 178.0h0.75M214.1 188.4h0.75M210.8 183.4h0.75M211.5 188.0h0.75M215.8 179.0h0.75M215.4 180.4h0.75M220.2 176.7h0.75M212.8 180.8h0.75M209.8 181.1h0.75M209.7 179.8h0.75M215.1 178.6h0.75M219.5 175.4h0.75M213.6 176.3h0.75M209.3 177.7h0.75M213.3 183.8h0.75M213.2 179.4h0.75M212.2 178.1h0.75M209.5 178.5h0.75M216.9 179.0h0.75M213.0 183.9h0.75M212.0 178.2h0.75M221.3 181.3h0.75M212.9 185.6h0.75M215.7 184.7h0.75M214.6 177.5h0.75M212.1 185.4h0.75M215.1 176.3h0.75M218.3 177.0h0.75M212.3 177.9h0.75M219.5 183.6h0.75M218.8 181.0h0.75M219.7 182.9h0.75M212.8 186.7h0.75M211.0 192.1h0.75M211.6 182.1h0.75M210.7 171.5h0.75M218.7 179.6h0.75" stroke="#000" stroke-opacity="0.40" stroke-width="0.75" fill="none"/><path d="M193.6 146.7h0.75M237.8 188.8h0.75M242.6 151.8h0.75M237.3 166.2h0.75M233.9 182.1h0.75M230.2 183.4h0.75M221.1 192.2h0.75M226.2 174.0h0.75M231.1 151.8h0.75M209.8 148.4h0.75M228.4 171.1h0.75M223.8 156.8h0.75M243.5 152.6h0.75M214.1 161.9h0.75M214.1 158.8h0.75M199.2 162.1h0.75M193.8 161.9h0.75M223.2 167.5h0.75M242.2 186.8h0.75M198.8 169.5h0.75M201.2 158.9h0.75M227.8 190.6h0.75M271.0 154.2h0.75M251.5 159.9h0.75M275.1 170.9h0.75M264.3 164.3h0.75M256.0 146.6h0.75M252.0 151.6h0.75M247.2 145.3h0.75M245.1 146.4h0.75M208.2 143.8h0.75M225.6 135.7h0.75M200.8 140.8h0.75M238.1 114.6h0.75M243.4 128.1h0.75M224.4 127.2h0.75M219.1 130.0h0.75M240.7 143.4h0.75M246.1 127.3h0.75M253.6 116.8h0.75M249.5 118.7h0.75M251.1 118.5h0.75M254.2 130.1h0.75M255.8 121.3h0.75M254.5 128.7h0.75" stroke="#000" stroke-opacity="0.45" stroke-width="0.75" fill="none"/><path d="M214.5 179.3h0.75M215.5 185.8h0.75M211.0 171.7h0.75M218.0 186.1h0.75M219.5 185.3h0.75M220.0 183.6h0.75M219.7 187.3h0.75M210.0 178.4h0.75M224.5 178.0h0.75M231.9 174.6h0.75M228.0 177.8h0.75M206.1 173.4h0.75M227.1 175.9h0.75M219.4 177.5h0.75M216.7 175.2h0.75M213.7 179.4h0.75M216.0 171.2h0.75M230.2 183.9h0.75M222.8 180.6h0.75M217.9 190.0h0.75M212.2 176.0h0.75M213.6 173.9h0.75M222.8 179.6h0.75M229.3 166.9h0.75M210.9 182.5h0.75M217.2 175.6h0.75M215.0 178.3h0.75M213.2 182.0h0.75M221.1 178.7h0.75M224.8 188.0h0.75M208.9 174.5h0.75M228.2 182.1h0.75M218.6 171.6h0.75M222.1 178.7h0.75M212.8 173.7h0.75M214.3 175.6h0.75M223.3 185.3h0.75M213.8 177.3h0.75M217.4 176.3h0.75M224.3 175.9h0.75M212.8 188.8h0.75M224.1 171.0h0.75M221.5 171.4h0.75M212.8 183.9h0.75M216.0 170.9h0.75M217.4 177.4h0.75M224.3 184.0h0.75M223.0 178.0h0.75M224.3 172.4h0.75M218.2 175.9h0.75M221.4 179.1h0.75M222.3 185.1h0.75M230.5 181.3h0.75M225.0 173.3h0.75M213.3 184.4h0.75M220.9 168.3h0.75M227.2 174.3h0.75M219.5 172.6h0.75M214.8 174.5h0.75M216.6 181.6h0.75M216.2 170.4h0.75M209.4 176.4h0.75M210.4 177.6h0.75M223.0 178.3h0.75M222.3 170.3h0.75M215.6 186.0h0.75M207.3 180.3h0.75M234.4 173.3h0.75M225.5 175.1h0.75M219.8 174.9h0.75M209.4 176.0h0.75M215.6 186.3h0.75M220.2 179.7h0.75M211.1 180.4h0.75M231.0 181.3h0.75M218.1 175.1h0.75M221.9 181.7h0.75M210.8 181.2h0.75M210.4 176.2h0.75M213.6 184.6h0.75M218.0 170.7h0.75M217.2 183.0h0.75M214.9 175.0h0.75M221.0 180.6h0.75M221.7 185.9h0.75M229.6 179.2h0.75M215.9 176.3h0.75M210.9 180.9h0.75M217.6 177.2h0.75M227.0 170.1h0.75M212.6 174.3h0.75M218.6 179.2h0.75M216.3 182.5h0.75M218.6 169.0h0.75M219.9 178.2h0.75M213.1 183.2h0.75M216.7 180.0h0.75M223.5 172.0h0.75M227.4 182.3h0.75M223.0 170.9h0.75M225.2 180.7h0.75M218.0 188.0h0.75M212.7 169.0h0.75M225.1 178.6h0.75M210.2 182.9h0.75M218.0 180.3h0.75M215.0 178.1h0.75M211.2 173.0h0.75M209.7 182.0h0.75M223.0 180.7h0.75M212.0 176.9h0.75M214.2 174.8h0.75M215.6 177.0h0.75M212.9 180.3h0.75M228.3 176.6h0.75M214.5 179.4h0.75M219.6 178.9h0.75M207.0 174.6h0.75M210.9 165.6h0.75M216.7 182.8h0.75M217.9 186.9h0.75M212.0 172.7h0.75M218.2 175.2h0.75M229.6 177.5h0.75M218.5 184.2h0.75M218.0 182.6h0.75M217.1 186.3h0.75M236.1 173.8h0.75M230.2 178.0h0.75M222.7 180.0h0.75M222.5 175.3h0.75M214.8 186.5h0.75M217.9 182.5h0.75M221.0 183.6h0.75M218.4 176.7h0.75M213.5 185.9h0.75M211.1 174.9h0.75M222.3 180.0h0.75M216.7 164.7h0.75M219.8 182.6h0.75M226.5 174.1h0.75M213.8 181.0h0.75M217.6 170.0h0.75M210.0 189.7h0.75M224.9 180.4h0.75M210.2 180.9h0.75M209.8 183.5h0.75M216.3 181.2h0.75M236.9 181.8h0.75M214.1 181.2h0.75M207.1 173.7h0.75M221.1 176.7h0.75M221.6 185.1h0.75M230.7 178.7h0.75M216.1 180.1h0.75M221.7 181.4h0.75M218.5 170.0h0.75M224.6 172.2h0.75M212.0 179.3h0.75M217.7 181.0h0.75M226.8 187.5h0.75M221.1 176.4h0.75M215.5 181.0h0.75M210.1 178.0h0.75M223.5 174.0h0.75M224.8 176.7h0.75M235.4 166.2h0.75M213.9 168.3h0.75M231.6 182.9h0.75M209.4 180.7h0.75M215.8 185.8h0.75M213.5 180.8h0.75M215.1 180.6h0.75M212.9 184.1h0.75M215.3 183.7h0.75M216.1 172.8h0.75M216.6 186.0h0.75M221.5 172.6h0.75M217.8 180.1h0.75M221.7 192.2h0.75M228.7 176.5h0.75M222.7 187.0h0.75M218.8 176.8h0.75M218.9 182.1h0.75M218.7 179.1h0.75M222.8 180.0h0.75M211.3 176.0h0.75M225.0 172.0h0.75M229.8 177.7h0.75M224.2 168.6h0.75M213.5 175.5h0.75M207.7 185.3h0.75M214.2 176.5h0.75M218.0 174.0h0.75M222.5 171.6h0.75M217.1 180.0h0.75M215.5 177.6h0.75M229.2 176.8h0.75M213.1 179.2h0.75M228.3 186.5h0.75M224.0 174.9h0.75M206.0 171.3h0.75M220.3 179.0h0.75M214.2 180.0h0.75M211.6 181.5h0.75M202.8 174.1h0.75M221.0 178.0h0.75M215.3 179.4h0.75M217.9 170.2h0.75M211.3 183.4h0.75M215.8 179.2h0.75M218.1 186.4h0.75M221.5 178.7h0.75M217.9 173.9h0.75M212.1 182.8h0.75M215.9 173.5h0.75M222.7 177.0h0.75M230.8 174.3h0.75M211.8 180.4h0.75M221.8 175.1h0.75M232.1 170.7h0.75M218.5 178.5h0.75M227.8 173.1h0.75M228.1 174.8h0.75M215.0 167.3h0.75M225.6 184.6h0.75M226.0 178.5h0.75M227.6 179.7h0.75M227.3 179.0h0.75M217.3 176.5h0.75M211.0 173.5h0.75M216.0 184.0h0.75M219.4 184.4h0.75M221.8 181.1h0.75M215.3 182.0h0.75M219.0 180.9h0.75M224.3 177.1h0.75M220.8 179.7h0.75M234.5 174.6h0.75M233.9 176.5h0.75M213.2 176.8h0.75M209.6 184.3h0.75M209.4 179.4h0.75M218.7 165.5h0.75M211.3 181.4h0.75M207.6 169.2h0.75M218.9 189.2h0.75M224.8 181.1h0.75M216.5 183.0h0.75M214.7 176.2h0.75M223.1 171.4h0.75M221.2 176.9h0.75M221.4 178.2h0.75M223.8 173.2h0.75M211.2 181.7h0.75M220.6 182.0h0.75M214.5 183.2h0.75M224.0 171.7h0.75M221.0 166.3h0.75M210.7 180.9h0.75M226.8 173.0h0.75M210.5 183.4h0.75M228.7 185.1h0.75M221.9 186.9h0.75M212.3 182.1h0.75M211.7 186.7h0.75M218.2 187.9h0.75M218.1 179.2h0.75M213.5 181.7h0.75M223.3 182.2h0.75M217.4 176.4h0.75M217.1 175.1h0.75M219.5 175.2h0.75M210.2 185.4h0.75M215.8 187.6h0.75M218.2 185.6h0.75M222.9 171.0h0.75M216.2 185.4h0.75M228.1 174.1h0.75M230.3 183.2h0.75M226.7 179.5h0.75M227.5 176.2h0.75M221.6 181.8h0.75M213.4 177.3h0.75M223.2 179.4h0.75M225.6 179.1h0.75M219.7 177.8h0.75M217.0 181.5h0.75M223.8 180.6h0.75M219.0 172.2h0.75M209.7 184.7h0.75M219.5 181.2h0.75M224.3 181.3h0.75M216.6 176.4h0.75M227.9 192.9h0.75M223.3 176.5h0.75M215.0 175.8h0.75M223.6 185.4h0.75M224.1 174.9h0.75M229.6 181.4h0.75M218.1 180.8h0.75M222.8 175.9h0.75M228.2 181.5h0.75M229.9 174.4h0.75M210.3 176.5h0.75M216.1 182.1h0.75M222.8 172.7h0.75M209.8 185.5h0.75M224.1 167.4h0.75M225.9 181.2h0.75M221.1 176.2h0.75M213.7 181.7h0.75M224.4 180.9h0.75M216.3 178.7h0.75M218.5 183.4h0.75M225.6 181.3h0.75M220.2 178.4h0.75M219.1 174.8h0.75M213.8 175.3h0.75M217.4 176.2h0.75M218.2 182.9h0.75M224.2 180.7h0.75" stroke="#000" stroke-opacity="0.50" stroke-width="0.75" fill="none"/><ellipse cx="218.5" cy="179.0" rx="12.5" ry="8.5" fill="url(#rg)" opacity="1.00" transform="rotate(-15 218.5 179.0)"/><ellipse cx="228.0" cy="167.0" rx="12.0" ry="6.0" fill="url(#rg)" opacity="0.30" transform="rotate(-45 228.0 167.0)"/><ellipse cx="239.5" cy="158.0" rx="3.0" ry="9.0" fill="url(#rg)" opacity="0.25" transform="rotate(-10 239.5 158.0)"/><path d="M255.9 129.5h0.75M253.1 124.0h0.75M248.5 132.7h0.75M253.3 130.7h0.75M254.5 125.6h0.75M254.0 126.7h0.75M251.8 124.7h0.75M249.5 127.9h0.75M252.9 129.3h0.75M257.7 135.8h0.75M251.9 123.9h0.75M248.9 131.8h0.75M252.6 126.3h0.75M246.9 128.9h0.75M252.2 130.7h0.75M250.3 129.7h0.75M254.9 129.4h0.75M251.8 127.5h0.75M255.3 128.0h0.75M250.6 131.7h0.75M248.3 123.6h0.75M253.1 126.6h0.75M251.1 124.3h0.75M251.9 125.2h0.75M249.2 125.7h0.75M253.4 131.4h0.75M251.6 134.6h0.75M243.4 132.2h0.75M250.5 124.5h0.75M252.6 128.3h0.75M255.7 124.6h0.75M249.3 129.4h0.75M248.4 131.9h0.75M255.6 129.9h0.75M249.1 130.7h0.75M251.8 127.6h0.75M253.1 122.1h0.75M254.1 122.1h0.75M251.4 127.8h0.75M247.3 129.8h0.75M255.1 131.9h0.75M249.8 127.0h0.75M249.5 128.3h0.75M258.8 128.8h0.75M254.6 131.3h0.75M247.5 127.9h0.75M249.6 124.8h0.75M250.5 131.3h0.75M248.6 129.3h0.75M244.3 129.2h0.75M254.3 124.2h0.75M254.2 128.1h0.75M252.3 122.9h0.75M249.9 122.0h0.75M252.2 127.4h0.75M253.7 126.8h0.75M247.5 129.8h0.75M250.2 132.4h0.75M249.3 128.0h0.75M253.9 133.5h0.75M252.3 126.3h0.75M246.6 130.4h0.75M249.1 124.2h0.75M257.8 128.5h0.75M247.8 127.1h0.75M251.9 127.4h0.75M249.1 129.9h0.75M255.9 122.4h0.75M251.1 128.4h0.75M249.8 125.6h0.75M247.1 128.4h0.75M250.5 129.3h0.75M254.4 127.0h0.75M253.8 126.9h0.75M246.5 124.6h0.75M257.1 129.7h0.75M250.5 126.0h0.75M247.5 129.4h0.75M251.8 123.8h0.75M249.1 132.2h0.75M249.2 125.0h0.75M249.0 131.6h0.75M251.0 126.7h0.75M249.5 129.7h0.75M245.1 127.6h0.75M253.3 130.1h0.75M249.4 128.1h0.75M255.7 131.9h0.75M253.3 130.1h0.75M253.6 130.1h0.75M252.0 133.1h0.75M256.1 126.0h0.75M250.1 132.0h0.75M247.7 128.3h0.75M252.6 123.6h0.75M241.4 129.5h0.75M250.0 127.5h0.75M252.1 133.2h0.75M249.8 126.6h0.75M255.9 128.2h0.75M253.9 128.8h0.75M251.8 122.3h0.75M249.9 129.6h0.75M255.3 125.1h0.75M248.9 132.3h0.75M249.8 133.1h0.75M254.1 128.0h0.75M253.5 123.3h0.75M258.8 128.6h0.75M250.5 128.6h0.75M244.5 130.2h0.75M253.7 127.2h0.75M255.9 124.5h0.75M250.7 127.6h0.75M257.0 125.3h0.75M257.8 133.4h0.75M248.9 125.9h0.75M249.6 126.1h0.75M246.8 127.9h0.75M253.3 124.3h0.75M253.9 126.7h0.75M253.5 127.7h0.75M246.8 126.6h0.75M248.5 127.3h0.75M246.1 131.8h0.75M245.4 129.4h0.75M246.4 124.0h0.75M245.5 126.8h0.75M250.7 130.3h0.75M252.9 126.1h0.75M253.6 128.3h0.75M251.2 128.0h0.75M248.9 129.7h0.75M251.3 127.5h0.75M253.4 127.6h0.75M250.2 125.5h0.75M251.5 129.2h0.75M250.2 125.3h0.75M249.4 133.3h0.75M251.4 128.0h0.75M247.2 127.4h0.75M255.1 130.4h0.75M245.6 127.8h0.75" stroke="#3a0a10" stroke-opacity="0.45" stroke-width="0.75" fill="none"/><ellipse cx="251.3" cy="127.1" rx="5.7" ry="4.2" fill="url(#rgm)" opacity="0.85" transform="rotate(0 251.3 127.1)"/></g><rect x="244.40" y="112.15" width="30.30" height="30.85" fill="none" stroke="#c8102e" stroke-width="1.40"/><rect x="192.90" y="110.85" width="83.05" height="83.30" fill="none" stroke="#111" stroke-width="1.2"/><path d="M243.25 110.85V194.15M192.90 144.15H275.95" stroke="#111" stroke-width="1.1"/><g font-size="7.4" fill="#111" stroke="#111" stroke-width="0.18"><text x="194.8" y="120.4" transform="rotate(0.05 194.8 120.4)">Q1</text><text x="194.8" y="129.2" transform="rotate(0.05 194.8 129.2)">0.99</text><text x="273.1" y="120.4" transform="rotate(0.05 273.1 120.4)" text-anchor="end">Q2</text><text x="273.1" y="129.2" transform="rotate(0.05 273.1 129.2)" text-anchor="end">12.2</text><text x="194.8" y="182.5" transform="rotate(0.05 194.8 182.5)">Q4</text><text x="194.8" y="191.3" transform="rotate(0.05 194.8 191.3)">86.2</text><text x="273.1" y="182.5" transform="rotate(0.05 273.1 182.5)" text-anchor="end">Q3</text><text x="273.1" y="191.3" transform="rotate(0.05 273.1 191.3)" text-anchor="end">0.63</text></g><clipPath id="cp12"><rect x="283.3" y="110.8" width="83.0" height="83.3"/></clipPath><rect x="333.65" y="110.85" width="32.70" height="33.30" fill="#efc9cf"/><rect x="336.00" y="113.35" width="27.90" height="28.45" fill="none" stroke="#f6dde1" stroke-width="1"/><g clip-path="url(#cp12)"><path d="M308.7 161.7h0.75M294.6 173.9h0.75M331.6 161.4h0.75M303.0 145.8h0.75M311.1 156.3h0.75M328.0 179.9h0.75M302.3 187.5h0.75M328.5 135.7h0.75M315.7 164.9h0.75M331.8 160.5h0.75M338.7 149.8h0.75M331.0 147.5h0.75M317.9 153.2h0.75M326.4 165.7h0.75M324.0 157.2h0.75M335.4 156.4h0.75M329.4 157.1h0.75M313.4 161.9h0.75M334.8 165.1h0.75M321.6 153.4h0.75M330.8 156.1h0.75M319.0 154.2h0.75M333.4 145.0h0.75M321.4 156.7h0.75M325.8 147.1h0.75M323.0 161.5h0.75M323.6 174.7h0.75M323.3 182.0h0.75M328.6 171.2h0.75M325.3 153.8h0.75M343.2 156.9h0.75M322.8 164.0h0.75M327.3 177.2h0.75M307.7 157.5h0.75M343.6 156.8h0.75M318.2 155.5h0.75M323.3 172.9h0.75M325.5 149.9h0.75M313.4 179.7h0.75M320.4 157.4h0.75M308.5 148.8h0.75M313.4 155.5h0.75M307.7 170.6h0.75M331.1 150.6h0.75M323.7 128.9h0.75M299.9 166.1h0.75M317.5 154.5h0.75M326.2 152.5h0.75M345.3 138.9h0.75M311.5 159.3h0.75M301.6 160.3h0.75M322.9 162.4h0.75M339.3 137.8h0.75M327.4 165.4h0.75M320.3 154.3h0.75M343.2 146.5h0.75M300.7 184.1h0.75M330.8 151.7h0.75M331.7 155.4h0.75M300.9 168.5h0.75M325.5 154.3h0.75M316.0 154.5h0.75M322.2 157.1h0.75M316.8 172.5h0.75M335.5 184.1h0.75M312.3 169.5h0.75M326.1 164.4h0.75M319.4 163.5h0.75M345.3 150.6h0.75M330.3 157.0h0.75M311.7 183.1h0.75M327.5 158.4h0.75M350.9 161.2h0.75M332.7 166.3h0.75M321.1 138.5h0.75M322.6 162.7h0.75M328.7 153.7h0.75M297.4 155.8h0.75M323.5 146.9h0.75M304.1 171.4h0.75M329.4 142.6h0.75M306.5 176.6h0.75M288.1 170.4h0.75M331.2 159.8h0.75M324.2 167.1h0.75M324.4 161.5h0.75M323.3 153.9h0.75M320.8 160.7h0.75M309.1 166.4h0.75M330.5 165.6h0.75M327.8 160.1h0.75M338.8 168.2h0.75M338.8 137.9h0.75M322.8 177.1h0.75M318.0 156.0h0.75M325.6 153.6h0.75M309.8 158.3h0.75M312.2 175.9h0.75M314.9 165.8h0.75M335.8 153.6h0.75M327.8 172.7h0.75M326.9 153.8h0.75M316.0 170.3h0.75M331.3 161.6h0.75M313.8 166.9h0.75M309.0 165.5h0.75M324.5 161.6h0.75M324.8 163.1h0.75M341.0 150.4h0.75M309.9 182.2h0.75M321.9 151.0h0.75M340.2 146.9h0.75M342.7 154.5h0.75M314.2 161.4h0.75M316.4 169.7h0.75M312.1 161.5h0.75M325.2 158.4h0.75M334.1 169.6h0.75M325.7 158.0h0.75M321.0 148.2h0.75M312.4 173.5h0.75M311.0 173.2h0.75M315.7 180.0h0.75M298.7 165.3h0.75M314.2 155.6h0.75M323.7 156.8h0.75M336.8 124.8h0.75M333.7 162.3h0.75M308.3 147.3h0.75M330.2 140.7h0.75M304.2 158.5h0.75M320.3 152.8h0.75M336.0 155.6h0.75M332.9 156.3h0.75M331.1 162.2h0.75M321.4 167.8h0.75M295.5 160.1h0.75M321.4 163.9h0.75M303.2 154.7h0.75M324.8 150.2h0.75M317.2 159.3h0.75M323.3 151.3h0.75M307.8 179.9h0.75M325.8 145.4h0.75M323.4 180.1h0.75M309.0 180.1h0.75M314.6 181.9h0.75M319.5 171.6h0.75M338.2 154.7h0.75M328.0 152.9h0.75M321.7 184.9h0.75M315.2 152.8h0.75M322.9 164.4h0.75M305.2 176.4h0.75M309.6 169.1h0.75M302.4 183.1h0.75M307.4 164.5h0.75M299.7 192.9h0.75M318.0 173.5h0.75M312.2 170.6h0.75M317.7 173.2h0.75M306.1 162.2h0.75M321.2 137.2h0.75M313.8 160.3h0.75M322.0 156.5h0.75M344.6 168.7h0.75M328.7 149.8h0.75M334.5 160.1h0.75M320.8 171.4h0.75M323.4 185.0h0.75M313.9 169.1h0.75M320.4 169.4h0.75M319.9 159.1h0.75M314.7 155.8h0.75M325.8 142.9h0.75M315.0 156.5h0.75M348.3 151.4h0.75M333.3 151.8h0.75M315.2 164.3h0.75M329.9 151.8h0.75M334.8 146.3h0.75M325.0 156.0h0.75M329.2 160.6h0.75M309.8 183.3h0.75M336.2 124.5h0.75M320.0 164.5h0.75M328.4 170.7h0.75M326.0 142.5h0.75M317.5 160.8h0.75M313.5 170.1h0.75M334.7 160.8h0.75M314.6 174.5h0.75M327.2 151.5h0.75M325.6 162.2h0.75M339.1 155.6h0.75M311.3 175.2h0.75M345.5 159.7h0.75M326.7 160.2h0.75M334.4 133.8h0.75M309.5 162.0h0.75M339.0 140.8h0.75M326.9 152.0h0.75M333.0 156.4h0.75M316.0 170.1h0.75M337.6 165.7h0.75M333.0 158.8h0.75M322.1 178.3h0.75M304.5 167.3h0.75M310.5 165.6h0.75M340.2 150.0h0.75M323.2 159.5h0.75M334.6 155.0h0.75M325.6 159.1h0.75M318.3 155.3h0.75M334.2 169.1h0.75M324.2 171.9h0.75M323.5 138.2h0.75M318.9 154.8h0.75M323.5 158.3h0.75M311.4 178.8h0.75M323.8 156.9h0.75M305.6 158.6h0.75M321.3 170.8h0.75M330.3 148.7h0.75M317.7 179.2h0.75M321.0 164.4h0.75M333.8 160.5h0.75M338.1 154.1h0.75M321.5 171.4h0.75M321.1 154.0h0.75M330.6 164.1h0.75M311.0 173.2h0.75M291.5 174.2h0.75M325.0 152.3h0.75M325.1 162.4h0.75M311.9 178.4h0.75M307.6 159.9h0.75M321.7 169.2h0.75M317.1 163.7h0.75M314.1 154.1h0.75M348.8 143.5h0.75M308.4 163.6h0.75M315.0 151.5h0.75M318.2 173.1h0.75M320.5 172.6h0.75M308.0 165.2h0.75M325.5 169.6h0.75M321.9 172.5h0.75M321.4 153.7h0.75M336.0 171.1h0.75M311.7 169.2h0.75M342.0 142.6h0.75M294.2 157.2h0.75M328.8 161.0h0.75M339.2 134.7h0.75M316.7 170.6h0.75M323.7 136.3h0.75M342.9 153.5h0.75M333.8 166.4h0.75M314.5 191.3h0.75M316.8 127.4h0.75M325.8 163.4h0.75M317.8 168.3h0.75M314.9 128.5h0.75M309.2 163.2h0.75M331.4 149.3h0.75M324.7 175.2h0.75M321.3 149.9h0.75M311.6 172.8h0.75M316.8 164.2h0.75M314.3 172.2h0.75M311.5 165.3h0.75M328.8 164.4h0.75M325.7 168.5h0.75M314.5 150.1h0.75M341.3 154.8h0.75M315.3 157.0h0.75M300.7 177.7h0.75M325.5 170.7h0.75M322.7 160.4h0.75M335.2 154.0h0.75M336.7 155.2h0.75M334.7 154.8h0.75M315.5 159.5h0.75M321.7 148.1h0.75M311.0 179.6h0.75M339.2 152.4h0.75M328.0 158.5h0.75M325.2 154.3h0.75M322.9 169.9h0.75M321.7 159.9h0.75M305.8 158.7h0.75M328.8 156.7h0.75M311.1 177.3h0.75M336.0 155.8h0.75M321.1 149.5h0.75M337.0 135.5h0.75M323.0 163.2h0.75M317.5 158.8h0.75M322.9 158.3h0.75M327.7 166.3h0.75M322.7 164.3h0.75M321.8 183.5h0.75M312.0 173.8h0.75M326.5 177.3h0.75M325.2 170.4h0.75M325.5 188.9h0.75M309.8 172.6h0.75M318.0 163.1h0.75M337.2 161.6h0.75M316.2 159.5h0.75M325.3 151.0h0.75M332.8 152.6h0.75M331.6 155.5h0.75M308.3 156.2h0.75M319.0 166.6h0.75M300.7 177.7h0.75M314.4 167.6h0.75M327.3 157.3h0.75M309.3 170.7h0.75M342.0 154.0h0.75M339.1 149.5h0.75M316.6 163.5h0.75M331.3 152.1h0.75M313.8 181.8h0.75M315.9 176.5h0.75M325.8 172.7h0.75M320.8 160.0h0.75M320.6 163.7h0.75M325.6 182.4h0.75M341.2 140.9h0.75M335.2 168.7h0.75M329.8 163.4h0.75M325.8 151.4h0.75M314.5 150.4h0.75M323.3 167.4h0.75M311.5 162.2h0.75M300.6 173.1h0.75M325.8 135.0h0.75M319.8 177.8h0.75M305.5 178.5h0.75M313.6 169.3h0.75M307.9 179.7h0.75M343.3 142.4h0.75M325.9 157.9h0.75M339.2 150.1h0.75M334.6 144.6h0.75M311.1 139.0h0.75M332.1 159.9h0.75M317.0 171.0h0.75M321.0 162.0h0.75M325.6 177.2h0.75M313.3 151.8h0.75M296.3 149.8h0.75M343.9 157.6h0.75M332.0 155.9h0.75M310.2 151.7h0.75M302.2 175.4h0.75M332.5 158.0h0.75M322.9 144.4h0.75M324.5 165.2h0.75M322.3 187.2h0.75M334.8 165.5h0.75M332.1 150.2h0.75M304.3 182.5h0.75M321.4 149.3h0.75M304.2 180.2h0.75M320.4 158.1h0.75M333.0 137.1h0.75M314.1 151.6h0.75M338.7 168.4h0.75M319.0 164.8h0.75M315.1 154.6h0.75M342.7 134.6h0.75M344.5 157.0h0.75M328.7 174.5h0.75M313.9 161.0h0.75M323.1 162.1h0.75M349.4 144.5h0.75M321.6 156.7h0.75M325.5 142.4h0.75M311.8 158.5h0.75M308.9 173.9h0.75M330.1 142.8h0.75M312.7 153.6h0.75M312.3 167.5h0.75M320.6 173.9h0.75M319.2 172.1h0.75M314.1 165.7h0.75M318.2 188.6h0.75M328.8 143.9h0.75M325.0 156.7h0.75M322.9 142.6h0.75M323.1 169.4h0.75M324.4 156.7h0.75M312.7 148.7h0.75M328.3 143.9h0.75M341.2 164.2h0.75M329.8 162.0h0.75M315.8 168.3h0.75M315.0 178.6h0.75M303.5 159.0h0.75M310.0 162.2h0.75M307.8 158.1h0.75M303.9 168.2h0.75M335.9 141.9h0.75M327.7 161.6h0.75M307.7 187.7h0.75M316.8 178.2h0.75M325.1 191.5h0.75M320.9 155.5h0.75M332.2 150.1h0.75M314.9 174.1h0.75M322.6 149.5h0.75M317.0 162.0h0.75M335.8 152.0h0.75M329.8 141.7h0.75M327.7 160.8h0.75M336.6 161.5h0.75M314.5 154.0h0.75M303.4 150.3h0.75M310.4 173.2h0.75M318.3 151.1h0.75M322.0 162.8h0.75M314.9 162.0h0.75M322.7 163.6h0.75M326.9 170.0h0.75M316.3 176.5h0.75M314.0 164.0h0.75M325.7 142.1h0.75M303.5 147.6h0.75M321.8 133.2h0.75M304.9 167.5h0.75M308.6 175.1h0.75M318.5 155.4h0.75M325.5 149.3h0.75M304.8 157.4h0.75M317.3 144.2h0.75M319.9 140.6h0.75M336.1 154.0h0.75M307.8 149.4h0.75M325.2 165.6h0.75M299.1 171.6h0.75M325.0 163.9h0.75M325.7 159.4h0.75M340.2 151.3h0.75M316.0 180.9h0.75M317.5 124.5h0.75M320.1 129.8h0.75M336.2 131.6h0.75M335.1 130.8h0.75M324.4 130.0h0.75M328.4 127.7h0.75M330.0 125.4h0.75M333.8 127.8h0.75M314.3 131.5h0.75M323.1 133.9h0.75M325.1 113.5h0.75M328.9 132.2h0.75M327.3 134.5h0.75M324.7 135.3h0.75M328.8 131.1h0.75M309.7 132.5h0.75M347.4 127.2h0.75M332.3 128.9h0.75M332.8 131.8h0.75M322.5 124.0h0.75M329.6 125.5h0.75M340.6 130.2h0.75M339.0 122.9h0.75M327.4 129.5h0.75M318.6 122.2h0.75M327.9 130.2h0.75M324.9 129.4h0.75M332.6 126.6h0.75M318.3 124.8h0.75M325.6 126.9h0.75M328.7 118.5h0.75M323.7 127.4h0.75M333.9 129.8h0.75M319.3 135.1h0.75M318.6 126.8h0.75M324.5 128.4h0.75M332.4 135.9h0.75M324.8 137.6h0.75M322.9 126.9h0.75M332.3 134.3h0.75M328.4 134.9h0.75M323.4 131.8h0.75M327.7 124.6h0.75M325.3 124.8h0.75M331.0 132.0h0.75M327.8 140.5h0.75M321.5 128.4h0.75M323.7 136.8h0.75M324.1 138.4h0.75M329.4 123.3h0.75M329.4 126.4h0.75M321.3 136.5h0.75M325.6 134.0h0.75M328.9 131.9h0.75M334.2 129.2h0.75M328.6 132.3h0.75M339.9 126.3h0.75M327.0 141.3h0.75M331.8 123.8h0.75M324.7 120.7h0.75" stroke="#000" stroke-opacity="0.30" stroke-width="0.75" fill="none"/><path d="M314.1 182.0h0.75M321.0 163.4h0.75M315.2 182.2h0.75M311.4 175.2h0.75M329.3 153.8h0.75M312.0 181.0h0.75M312.9 180.5h0.75M302.8 174.3h0.75M304.6 178.3h0.75M325.6 150.1h0.75M326.0 158.9h0.75M307.0 181.4h0.75M340.9 161.2h0.75M330.5 170.9h0.75M319.0 175.2h0.75M328.6 168.3h0.75M321.4 168.3h0.75M324.4 190.4h0.75M309.9 192.6h0.75M322.6 191.0h0.75M318.9 172.2h0.75M316.2 175.3h0.75M316.1 181.7h0.75M326.2 163.1h0.75M309.7 180.8h0.75M319.7 158.0h0.75M317.7 179.0h0.75M318.7 170.1h0.75M311.7 183.7h0.75M315.9 169.3h0.75M301.8 168.1h0.75M305.0 187.4h0.75M322.7 176.2h0.75M310.3 164.4h0.75M319.2 158.6h0.75M318.0 166.5h0.75M307.4 177.6h0.75M303.5 167.0h0.75M312.7 184.7h0.75M324.9 156.4h0.75M320.8 148.7h0.75M325.2 165.7h0.75M329.4 177.6h0.75M326.1 169.5h0.75M326.8 172.0h0.75M297.9 180.2h0.75M310.9 178.8h0.75M319.6 153.0h0.75M336.7 170.2h0.75M321.9 171.1h0.75M304.0 162.5h0.75M304.7 164.4h0.75M314.9 177.2h0.75M310.0 178.8h0.75M321.3 172.1h0.75M323.2 184.0h0.75M317.1 173.9h0.75M322.5 147.0h0.75M321.2 164.6h0.75M304.7 169.7h0.75M317.9 161.5h0.75M306.0 184.5h0.75M325.0 160.7h0.75M314.0 162.8h0.75M315.3 171.8h0.75M317.8 161.5h0.75M331.8 160.7h0.75M311.9 173.0h0.75M310.7 180.5h0.75M333.4 151.2h0.75M320.8 173.9h0.75M328.9 157.1h0.75M311.3 175.9h0.75M317.4 164.3h0.75M312.3 176.4h0.75M313.5 156.2h0.75M327.9 185.8h0.75M308.0 172.5h0.75M330.5 157.8h0.75M317.5 165.1h0.75M297.5 184.9h0.75M317.0 174.3h0.75M306.8 175.5h0.75M304.6 178.4h0.75M305.3 168.4h0.75M308.4 169.7h0.75M311.5 164.2h0.75M319.2 185.9h0.75M307.2 169.5h0.75M325.3 163.8h0.75M312.6 188.8h0.75M313.8 156.7h0.75M313.2 158.8h0.75M313.8 174.7h0.75M321.2 169.3h0.75M303.6 169.6h0.75M304.7 164.7h0.75M303.6 174.1h0.75M324.6 170.1h0.75M328.3 158.5h0.75M314.9 179.7h0.75M326.5 159.7h0.75M312.5 180.8h0.75M307.8 178.2h0.75M332.6 156.9h0.75M307.4 170.7h0.75M320.5 160.7h0.75M302.0 189.9h0.75M316.7 168.1h0.75M318.0 161.8h0.75M319.9 173.8h0.75M318.4 168.7h0.75M320.0 159.7h0.75M332.5 163.6h0.75M332.6 179.3h0.75M307.5 164.4h0.75M320.7 158.8h0.75M305.4 172.6h0.75M315.4 159.2h0.75M307.0 168.5h0.75M321.9 173.7h0.75M327.6 168.1h0.75M318.2 183.6h0.75M344.8 149.7h0.75M315.8 166.6h0.75M325.2 172.7h0.75M307.6 173.5h0.75M315.7 168.0h0.75M308.8 166.7h0.75M310.6 188.7h0.75M308.9 188.2h0.75M317.0 165.5h0.75M314.6 169.5h0.75M318.4 177.0h0.75M316.6 171.2h0.75M324.0 167.1h0.75M298.9 173.3h0.75M320.4 163.7h0.75M305.4 164.0h0.75M321.4 183.4h0.75M322.6 178.3h0.75M328.8 165.4h0.75M327.1 171.0h0.75M334.3 172.6h0.75M315.7 180.7h0.75M306.6 164.8h0.75M306.0 179.1h0.75M300.5 163.3h0.75M309.5 169.6h0.75M306.7 168.0h0.75M322.9 164.1h0.75M322.4 168.5h0.75M318.7 159.2h0.75M316.5 167.7h0.75M327.3 162.5h0.75M317.0 168.5h0.75M324.2 161.1h0.75M309.2 154.0h0.75M320.9 161.8h0.75M320.2 174.7h0.75M307.6 182.0h0.75M297.2 175.1h0.75M332.1 152.2h0.75M321.4 168.2h0.75M315.8 161.6h0.75M318.7 175.0h0.75M309.0 170.1h0.75M339.6 144.2h0.75M306.8 179.2h0.75M327.3 181.8h0.75M314.8 169.0h0.75M304.4 177.0h0.75M309.6 184.5h0.75M308.5 173.8h0.75M314.9 174.1h0.75M301.5 163.2h0.75M325.2 164.8h0.75M306.7 180.1h0.75M313.9 160.4h0.75M336.0 164.4h0.75M323.2 161.4h0.75M306.2 178.9h0.75M315.9 155.0h0.75M318.2 163.2h0.75M304.3 167.6h0.75M330.1 161.8h0.75M317.7 177.9h0.75M314.6 166.1h0.75M300.0 171.0h0.75M317.6 165.5h0.75M307.9 168.6h0.75M313.4 175.3h0.75M326.9 161.9h0.75M316.5 166.3h0.75M304.5 183.2h0.75M327.8 169.5h0.75M332.3 171.5h0.75M307.2 174.7h0.75M317.0 177.1h0.75M316.1 168.5h0.75M309.5 167.1h0.75M324.2 175.5h0.75M324.3 166.6h0.75M313.3 175.0h0.75M336.2 154.3h0.75M310.0 175.4h0.75M307.0 169.5h0.75M342.3 162.3h0.75M341.5 154.4h0.75M318.4 171.2h0.75M320.0 176.5h0.75M314.1 185.6h0.75M325.5 159.5h0.75M321.2 171.6h0.75M308.0 175.7h0.75M323.4 169.9h0.75M327.2 157.3h0.75M334.7 176.4h0.75M333.8 149.7h0.75M329.2 162.9h0.75M322.8 168.7h0.75M314.9 168.8h0.75M326.1 170.1h0.75M326.7 159.4h0.75M322.0 160.8h0.75M325.8 161.2h0.75M315.0 164.6h0.75M329.2 169.6h0.75M330.2 163.0h0.75M320.3 176.4h0.75M299.1 174.5h0.75M332.8 156.9h0.75M317.9 161.4h0.75M313.5 174.3h0.75M325.1 174.5h0.75M316.0 173.5h0.75M301.5 183.8h0.75M320.8 177.3h0.75M309.7 187.3h0.75M327.7 177.6h0.75M306.7 161.9h0.75M328.0 162.2h0.75M313.7 169.1h0.75M315.6 162.7h0.75M314.8 173.3h0.75M307.8 167.6h0.75M293.9 171.0h0.75M320.7 157.3h0.75M317.0 167.4h0.75M321.1 184.4h0.75M315.0 164.8h0.75M307.5 167.9h0.75M300.9 166.5h0.75M317.2 166.3h0.75M325.9 158.7h0.75M315.2 173.2h0.75M307.8 171.6h0.75M320.8 143.7h0.75M310.7 177.9h0.75M319.1 152.3h0.75M301.2 158.6h0.75M328.8 169.6h0.75M318.4 173.6h0.75M305.2 185.3h0.75M315.0 175.4h0.75M329.6 147.1h0.75M321.0 176.6h0.75M316.4 160.2h0.75M323.4 182.5h0.75M316.8 172.4h0.75M310.4 158.3h0.75M325.1 170.4h0.75M345.4 161.1h0.75M315.4 169.0h0.75M320.6 177.0h0.75M310.1 174.7h0.75M302.6 178.2h0.75M290.4 171.0h0.75M328.6 170.7h0.75M330.6 160.1h0.75M318.5 157.3h0.75M309.8 168.2h0.75M312.6 185.5h0.75M315.1 168.0h0.75M315.0 168.0h0.75M320.1 154.4h0.75M311.6 177.5h0.75M317.5 177.2h0.75M314.1 168.3h0.75M313.6 171.6h0.75M305.5 169.4h0.75M309.2 191.7h0.75M299.9 181.0h0.75M310.3 175.1h0.75M323.3 180.4h0.75M324.2 160.6h0.75M328.7 142.9h0.75M326.8 151.0h0.75M318.4 165.0h0.75M341.6 163.1h0.75M317.0 172.3h0.75M311.3 173.5h0.75M340.6 154.7h0.75M314.3 185.7h0.75M309.6 169.9h0.75M321.8 179.5h0.75M333.5 162.1h0.75M314.1 177.5h0.75M311.7 151.8h0.75M314.4 174.6h0.75M313.4 187.5h0.75M317.5 166.8h0.75M329.8 180.2h0.75M307.4 180.4h0.75M304.5 172.5h0.75M313.1 179.9h0.75M326.5 163.5h0.75M325.0 170.4h0.75M317.8 167.1h0.75M327.5 172.5h0.75M310.1 171.5h0.75M321.6 166.8h0.75M305.6 169.1h0.75M301.6 177.5h0.75M312.0 177.2h0.75M315.4 165.1h0.75M315.4 167.2h0.75M324.9 160.2h0.75M303.9 185.8h0.75M318.9 175.9h0.75M324.1 170.7h0.75M313.9 183.5h0.75M320.1 169.1h0.75M310.7 171.0h0.75M299.4 171.9h0.75M324.7 159.0h0.75M301.2 178.0h0.75M316.4 152.6h0.75M321.7 181.9h0.75M299.8 169.0h0.75M311.2 179.5h0.75M313.5 179.2h0.75M308.6 176.2h0.75M332.2 180.9h0.75M301.2 186.2h0.75M323.6 155.9h0.75M332.8 171.9h0.75M324.7 154.4h0.75M301.4 171.4h0.75M308.4 172.3h0.75M315.8 171.8h0.75M321.2 169.3h0.75M304.9 167.0h0.75M318.0 172.7h0.75M329.4 180.1h0.75M300.2 179.7h0.75M331.6 154.2h0.75M310.9 183.2h0.75M325.2 174.0h0.75M322.8 157.7h0.75M305.5 172.0h0.75M311.9 165.1h0.75M336.3 161.8h0.75M319.1 177.1h0.75M315.0 150.4h0.75M308.7 157.0h0.75M312.7 162.0h0.75M315.5 156.6h0.75M317.1 174.2h0.75M316.3 173.0h0.75M335.0 171.8h0.75M323.2 171.9h0.75M321.8 166.6h0.75M312.8 186.2h0.75M312.7 165.5h0.75M320.3 152.9h0.75M324.8 162.7h0.75M324.6 172.0h0.75M304.5 166.4h0.75M316.3 179.8h0.75M325.0 170.7h0.75M326.5 155.6h0.75M318.2 170.6h0.75M326.7 157.7h0.75M314.9 173.1h0.75M331.3 164.0h0.75M304.5 174.6h0.75M323.8 173.8h0.75M312.3 183.6h0.75M327.2 169.1h0.75M312.0 155.4h0.75M299.6 168.8h0.75M314.2 179.9h0.75M310.3 170.9h0.75M300.9 179.3h0.75M305.3 174.1h0.75M302.9 170.7h0.75M322.2 162.1h0.75M325.1 154.8h0.75M310.0 170.6h0.75M317.0 175.0h0.75M312.9 162.4h0.75M318.3 180.2h0.75M303.5 161.3h0.75M336.7 175.6h0.75M312.1 161.3h0.75M319.2 173.8h0.75M316.8 179.6h0.75M329.5 157.6h0.75M315.6 179.1h0.75M317.5 168.6h0.75M299.4 170.0h0.75M313.7 176.9h0.75M323.6 175.1h0.75M310.9 170.7h0.75M313.0 157.1h0.75M314.6 166.5h0.75M306.9 183.5h0.75M331.0 167.3h0.75M314.9 177.9h0.75M332.1 160.2h0.75M307.0 159.9h0.75M321.8 187.8h0.75M322.0 165.7h0.75M319.1 176.8h0.75M315.4 168.3h0.75M308.4 177.3h0.75M322.7 165.0h0.75M334.2 168.8h0.75M320.2 182.2h0.75M335.2 158.2h0.75M322.2 185.0h0.75M317.1 166.0h0.75M305.8 186.6h0.75M341.4 158.9h0.75M329.3 158.3h0.75M331.7 165.4h0.75M311.3 193.3h0.75M308.5 157.8h0.75M331.5 177.6h0.75M319.3 171.1h0.75M317.9 166.0h0.75M299.6 168.3h0.75M314.1 170.0h0.75M295.8 168.2h0.75M314.5 173.6h0.75M319.3 166.2h0.75M319.6 186.0h0.75M313.0 170.9h0.75M318.8 179.3h0.75M323.1 176.0h0.75M335.3 172.8h0.75M317.8 167.0h0.75M324.2 170.7h0.75M297.1 174.7h0.75M308.4 167.7h0.75M322.6 161.9h0.75M309.6 177.4h0.75M307.2 167.7h0.75M306.7 176.4h0.75M331.9 162.5h0.75M310.9 171.8h0.75M310.1 175.6h0.75M317.8 160.5h0.75M333.4 167.9h0.75M330.3 175.1h0.75M326.4 163.0h0.75M318.3 167.9h0.75M324.4 179.8h0.75M315.7 176.4h0.75M309.3 171.2h0.75M305.1 168.5h0.75M317.2 164.2h0.75M327.2 182.4h0.75M314.8 166.5h0.75M336.8 179.8h0.75M316.6 170.7h0.75M304.3 180.8h0.75M317.0 183.7h0.75M306.3 178.5h0.75M302.8 188.4h0.75M312.6 164.1h0.75M300.6 174.1h0.75M302.4 177.4h0.75M309.0 180.5h0.75" stroke="#000" stroke-opacity="0.35" stroke-width="0.75" fill="none"/><path d="M331.4 166.3h0.75M331.9 167.8h0.75M330.7 163.6h0.75M330.8 166.3h0.75M333.1 154.9h0.75M330.0 161.1h0.75M329.8 160.1h0.75M330.0 156.9h0.75M329.8 164.0h0.75M331.2 151.5h0.75M330.5 174.9h0.75M330.0 158.4h0.75M333.9 156.3h0.75M331.6 166.4h0.75M330.2 165.8h0.75M333.6 153.1h0.75M329.8 162.8h0.75M330.9 175.6h0.75M330.7 171.1h0.75M329.7 152.3h0.75M330.1 167.3h0.75M331.1 149.9h0.75M327.9 149.5h0.75M330.1 161.9h0.75M331.5 156.0h0.75M331.5 166.9h0.75M331.6 163.6h0.75M335.9 165.9h0.75M332.3 155.7h0.75M330.6 170.6h0.75M330.7 161.4h0.75M330.9 160.0h0.75M331.8 156.3h0.75M330.3 177.3h0.75M334.1 174.6h0.75M328.6 167.4h0.75M332.3 162.2h0.75M332.0 159.3h0.75M328.5 158.9h0.75M332.2 144.4h0.75M332.1 155.2h0.75M329.6 155.8h0.75M335.8 164.3h0.75M332.4 154.2h0.75M330.2 154.9h0.75M329.9 155.1h0.75M329.4 161.4h0.75M331.5 155.5h0.75M331.1 148.3h0.75M328.0 166.8h0.75M328.7 177.6h0.75M329.4 153.9h0.75M330.1 154.6h0.75M330.2 162.3h0.75M329.5 164.0h0.75M332.3 138.6h0.75M332.9 164.2h0.75M331.1 170.2h0.75M326.3 164.3h0.75M330.6 156.5h0.75M332.1 165.3h0.75M330.7 163.6h0.75M331.5 158.1h0.75M331.1 163.9h0.75M327.8 159.5h0.75M325.6 160.8h0.75M332.2 168.9h0.75M329.8 159.9h0.75M331.8 169.7h0.75M330.3 153.1h0.75M330.6 167.9h0.75M333.8 162.4h0.75M328.4 175.0h0.75M330.9 164.1h0.75M328.6 170.4h0.75M331.1 148.7h0.75M331.9 161.5h0.75M332.3 156.4h0.75M331.2 174.4h0.75M328.0 170.4h0.75M331.4 161.9h0.75M332.8 171.3h0.75M333.0 151.5h0.75M335.4 163.7h0.75M332.1 159.4h0.75M328.8 158.1h0.75M329.8 161.7h0.75M331.1 154.4h0.75M333.1 165.9h0.75M328.5 157.7h0.75M332.8 151.1h0.75M332.3 158.9h0.75M329.1 159.6h0.75M332.2 163.2h0.75M329.3 160.1h0.75M330.9 155.2h0.75M330.3 162.5h0.75M331.4 173.9h0.75M328.5 159.3h0.75M332.0 161.8h0.75M326.4 156.9h0.75M330.1 160.3h0.75M329.7 148.1h0.75M334.2 170.1h0.75M332.0 168.2h0.75M329.9 155.4h0.75M329.0 168.7h0.75M331.0 158.0h0.75M329.6 160.7h0.75M335.6 176.1h0.75M325.1 155.3h0.75M331.1 149.8h0.75M325.8 159.0h0.75M333.1 171.6h0.75M329.2 154.4h0.75M334.3 168.8h0.75M329.8 161.5h0.75M333.2 157.3h0.75M331.3 166.7h0.75M333.4 173.9h0.75M331.0 161.7h0.75M324.7 160.9h0.75M329.4 167.3h0.75M327.7 166.7h0.75M332.9 154.8h0.75M332.0 161.3h0.75M330.9 164.3h0.75M331.9 165.3h0.75M331.3 159.3h0.75M329.7 159.9h0.75M335.0 162.0h0.75M331.4 171.5h0.75M330.5 163.5h0.75M327.9 165.5h0.75M329.6 160.1h0.75M330.9 151.6h0.75M330.5 153.2h0.75M329.9 155.6h0.75M330.8 159.8h0.75M328.6 163.2h0.75M330.9 158.0h0.75M327.7 164.4h0.75M329.1 163.3h0.75M329.4 167.2h0.75M332.7 161.1h0.75M331.9 161.3h0.75M331.1 146.3h0.75M328.5 156.3h0.75M330.1 163.6h0.75M332.6 154.6h0.75M333.5 164.3h0.75M327.8 152.8h0.75M330.0 154.6h0.75M331.1 138.1h0.75M331.6 169.1h0.75M330.9 161.2h0.75M332.3 161.5h0.75M327.9 158.3h0.75M334.2 155.1h0.75M328.5 168.2h0.75M331.0 166.3h0.75M332.0 158.3h0.75M333.4 153.1h0.75M332.8 169.4h0.75M332.8 172.7h0.75M333.6 151.8h0.75M330.6 154.1h0.75M332.5 152.2h0.75M334.2 168.2h0.75M329.3 162.2h0.75" stroke="#000" stroke-opacity="0.40" stroke-width="0.75" fill="none"/><path d="M327.8 189.7h0.75M286.4 155.6h0.75M333.5 146.4h0.75M311.9 166.7h0.75M312.7 150.4h0.75M291.9 150.9h0.75M317.5 166.6h0.75M325.6 170.4h0.75M321.1 193.8h0.75M291.6 169.8h0.75M323.2 167.5h0.75M315.3 145.4h0.75M298.1 148.5h0.75M316.8 188.1h0.75M318.5 178.7h0.75M308.5 172.6h0.75M318.4 188.9h0.75M323.3 176.9h0.75M328.5 158.5h0.75M325.4 187.7h0.75M326.9 148.4h0.75M331.4 185.9h0.75M307.6 162.6h0.75M361.1 148.8h0.75M363.0 161.8h0.75M337.6 164.7h0.75M357.5 188.0h0.75M344.0 150.5h0.75M361.4 151.6h0.75M337.7 178.4h0.75M365.1 155.6h0.75M351.6 162.2h0.75M353.5 145.8h0.75M362.7 157.5h0.75M306.0 131.3h0.75M306.1 122.2h0.75M302.6 143.2h0.75M329.4 120.5h0.75M302.6 142.1h0.75M292.8 122.6h0.75M331.3 136.7h0.75M315.7 132.7h0.75M331.5 137.0h0.75M340.5 118.1h0.75M349.9 115.8h0.75M336.4 133.1h0.75M355.8 136.0h0.75M336.5 141.7h0.75" stroke="#000" stroke-opacity="0.45" stroke-width="0.75" fill="none"/><path d="M309.6 182.4h0.75M307.2 180.6h0.75M317.4 171.8h0.75M312.4 180.0h0.75M319.0 179.1h0.75M313.0 176.9h0.75M300.8 191.0h0.75M312.0 176.9h0.75M319.6 177.9h0.75M308.7 178.9h0.75M309.7 175.6h0.75M301.9 174.9h0.75M310.3 177.2h0.75M315.4 173.7h0.75M309.5 185.0h0.75M306.3 175.3h0.75M311.2 177.5h0.75M316.0 181.6h0.75M310.5 182.7h0.75M306.1 186.2h0.75M309.7 171.3h0.75M315.5 176.0h0.75M309.7 175.1h0.75M320.3 183.8h0.75M302.4 182.3h0.75M307.4 183.9h0.75M305.6 191.1h0.75M309.1 178.6h0.75M310.1 180.6h0.75M308.7 182.9h0.75M300.7 182.2h0.75M311.0 186.7h0.75M307.8 185.5h0.75M315.1 183.8h0.75M307.5 181.4h0.75M316.5 176.0h0.75M310.2 178.2h0.75M305.2 173.0h0.75M300.3 185.7h0.75M317.2 182.0h0.75M318.9 176.9h0.75M308.2 178.2h0.75M312.3 179.6h0.75M299.9 185.1h0.75M294.7 187.5h0.75M308.7 190.4h0.75M306.1 177.0h0.75M311.1 183.5h0.75M311.5 180.1h0.75M313.2 177.8h0.75M317.9 171.8h0.75M313.7 175.6h0.75M308.0 184.7h0.75M312.5 187.1h0.75M312.2 175.9h0.75M303.1 185.3h0.75M319.1 179.7h0.75M317.1 183.1h0.75M308.2 182.2h0.75M305.8 184.1h0.75M336.4 175.4h0.75M312.9 172.8h0.75M315.7 178.4h0.75M318.3 167.6h0.75M312.5 168.7h0.75M309.3 176.0h0.75M311.4 171.4h0.75M304.0 185.1h0.75M315.8 183.4h0.75M311.9 178.7h0.75M312.6 178.0h0.75M298.3 183.0h0.75M322.5 176.4h0.75M302.2 184.9h0.75M315.5 175.7h0.75M304.4 178.0h0.75M310.5 177.2h0.75M306.3 185.8h0.75M325.4 172.3h0.75M318.8 184.8h0.75M321.1 174.8h0.75M317.0 185.0h0.75M312.0 173.0h0.75M309.2 176.8h0.75M308.6 183.3h0.75M314.3 181.2h0.75M310.2 179.3h0.75M311.9 190.4h0.75M300.2 184.1h0.75M307.8 182.5h0.75M312.5 176.2h0.75M309.1 189.4h0.75M313.2 183.6h0.75M309.1 182.7h0.75M303.9 184.3h0.75M303.6 180.0h0.75M308.1 183.0h0.75M309.2 185.3h0.75M315.7 174.1h0.75M302.5 184.1h0.75M297.1 189.6h0.75M314.3 179.5h0.75M305.8 179.9h0.75M306.8 175.7h0.75M325.5 171.0h0.75M317.1 170.8h0.75M315.1 183.6h0.75M316.0 178.5h0.75M308.1 174.3h0.75M315.9 178.0h0.75M303.1 175.8h0.75M299.0 166.6h0.75M308.4 187.2h0.75M322.1 182.0h0.75M317.4 169.6h0.75M304.1 178.5h0.75M317.6 178.5h0.75M307.7 178.9h0.75M315.2 173.7h0.75M306.4 178.7h0.75M315.5 176.9h0.75M307.8 178.0h0.75M307.9 182.0h0.75M308.9 179.3h0.75M309.2 176.4h0.75M305.6 181.9h0.75M323.4 183.0h0.75M303.8 173.1h0.75M305.8 183.1h0.75M320.8 182.9h0.75M307.2 180.8h0.75M316.1 175.3h0.75M310.9 176.6h0.75M313.9 185.6h0.75M317.4 173.6h0.75M319.8 174.0h0.75M316.0 176.5h0.75M305.2 180.7h0.75M300.8 184.3h0.75M302.1 181.9h0.75M298.3 186.4h0.75M321.9 176.5h0.75M309.0 183.0h0.75M312.7 186.4h0.75M309.4 175.9h0.75M326.0 183.1h0.75M304.9 179.6h0.75M318.6 180.5h0.75M311.8 180.3h0.75M308.0 179.3h0.75M318.5 185.6h0.75M303.2 178.6h0.75M305.1 177.7h0.75M312.9 184.7h0.75M310.3 180.4h0.75M320.4 186.4h0.75M307.8 189.8h0.75M311.8 183.2h0.75M311.8 180.8h0.75M311.0 183.8h0.75M311.9 172.4h0.75M308.1 181.7h0.75M317.9 178.0h0.75M303.9 179.8h0.75M300.2 185.0h0.75M306.8 173.5h0.75M319.1 181.6h0.75M308.2 187.6h0.75M303.1 175.8h0.75M307.4 181.8h0.75M313.3 187.1h0.75M309.0 182.7h0.75M309.9 174.7h0.75M321.1 180.6h0.75M316.6 187.4h0.75M301.8 177.3h0.75M318.9 177.1h0.75M311.2 175.5h0.75M319.0 175.3h0.75M302.1 184.6h0.75M320.7 176.0h0.75M308.7 177.0h0.75M314.3 177.7h0.75M307.2 180.2h0.75M304.5 187.9h0.75M308.1 180.9h0.75M315.1 183.3h0.75M306.3 176.0h0.75M309.0 184.4h0.75M320.8 181.6h0.75M310.9 183.3h0.75M304.7 181.1h0.75M303.1 182.6h0.75M306.2 172.4h0.75M316.5 177.0h0.75M306.1 183.0h0.75M304.0 186.9h0.75M316.0 178.7h0.75M309.3 178.3h0.75M307.9 176.4h0.75M323.6 174.9h0.75M301.5 183.9h0.75M312.9 185.4h0.75M306.6 178.7h0.75M313.3 178.3h0.75M316.3 175.2h0.75M300.5 182.3h0.75M311.4 167.9h0.75M312.1 170.9h0.75M306.7 175.0h0.75M327.0 176.4h0.75M309.4 179.9h0.75M303.8 183.1h0.75M314.4 184.6h0.75M322.0 181.7h0.75M316.9 179.6h0.75M305.6 177.9h0.75M316.2 185.7h0.75M310.7 172.3h0.75M320.7 170.3h0.75M305.0 180.8h0.75M301.4 185.3h0.75M303.9 171.1h0.75M308.2 180.3h0.75M316.6 191.1h0.75M308.8 187.7h0.75M303.3 183.2h0.75M315.7 172.3h0.75M308.7 182.3h0.75M309.1 174.3h0.75M316.3 178.9h0.75M301.3 185.2h0.75M302.6 180.7h0.75M326.8 175.3h0.75M307.9 179.1h0.75M301.5 180.2h0.75M310.4 188.0h0.75M306.6 184.4h0.75M300.7 181.9h0.75M305.4 177.7h0.75M309.7 181.1h0.75M310.4 182.9h0.75M314.6 182.9h0.75M300.2 191.4h0.75M300.1 186.1h0.75M313.0 173.1h0.75M309.9 190.8h0.75M319.7 182.6h0.75M313.0 183.4h0.75M302.2 189.9h0.75M310.6 172.0h0.75M302.0 181.0h0.75M310.4 177.2h0.75M319.8 182.7h0.75M321.8 169.6h0.75M308.5 178.9h0.75M316.8 185.6h0.75M312.6 182.5h0.75M314.2 176.5h0.75M304.6 175.0h0.75M312.2 181.6h0.75M312.3 178.0h0.75M305.3 184.5h0.75M314.6 176.9h0.75M315.6 173.6h0.75M310.3 181.1h0.75M305.7 174.7h0.75M308.0 183.6h0.75M309.9 178.4h0.75M319.0 181.6h0.75M318.9 174.5h0.75M305.2 178.3h0.75M303.9 184.4h0.75M306.2 187.9h0.75M312.7 168.2h0.75M311.2 180.2h0.75M312.6 182.4h0.75M310.4 172.5h0.75" stroke="#000" stroke-opacity="0.50" stroke-width="0.75" fill="none"/><ellipse cx="309.4" cy="179.6" rx="12.0" ry="9.0" fill="url(#rg)" opacity="1.00" transform="rotate(-20 309.4 179.6)"/><ellipse cx="330.8" cy="160.0" rx="2.8" ry="10.0" fill="url(#rg)" opacity="0.45" transform="rotate(0 330.8 160.0)"/><ellipse cx="319.0" cy="168.0" rx="12.0" ry="6.0" fill="url(#rg)" opacity="0.30" transform="rotate(-45 319.0 168.0)"/><path d="M331.3 131.9h0.75M346.2 131.9h0.75M345.5 133.8h0.75M346.5 133.2h0.75M340.4 133.4h0.75M346.7 134.6h0.75M345.1 132.8h0.75M338.0 137.8h0.75M338.6 135.6h0.75M343.3 132.2h0.75M340.3 131.0h0.75M339.8 125.1h0.75M342.1 134.8h0.75M347.3 129.9h0.75M340.2 140.2h0.75M336.7 128.6h0.75M341.4 135.8h0.75M338.0 131.5h0.75M341.5 133.0h0.75M341.9 129.8h0.75M339.7 135.0h0.75M344.2 131.6h0.75M348.0 132.8h0.75M346.5 131.2h0.75M349.5 130.8h0.75M348.0 134.2h0.75M343.7 133.7h0.75M348.1 129.5h0.75M346.8 134.6h0.75M348.4 129.4h0.75M343.1 133.6h0.75M336.7 134.2h0.75M339.0 132.0h0.75M339.9 123.8h0.75M345.6 133.4h0.75M341.1 129.4h0.75M347.0 132.9h0.75M342.2 138.7h0.75M339.5 129.6h0.75M347.1 133.3h0.75M343.2 131.9h0.75M344.0 133.3h0.75M345.7 127.1h0.75M346.4 130.8h0.75M341.1 133.7h0.75M345.6 135.8h0.75M341.0 140.3h0.75M343.6 133.1h0.75M343.8 130.7h0.75M341.0 140.6h0.75M347.5 129.8h0.75M348.9 129.4h0.75M344.7 131.8h0.75M346.4 132.2h0.75M348.4 132.1h0.75M342.0 130.9h0.75M346.1 130.5h0.75M346.7 136.8h0.75M340.8 138.6h0.75M341.2 134.6h0.75M341.9 133.7h0.75M346.0 130.2h0.75M344.8 134.9h0.75M345.4 129.5h0.75M342.0 133.2h0.75M339.0 132.7h0.75M348.3 127.8h0.75M344.3 131.7h0.75M341.9 130.9h0.75M346.5 130.5h0.75M340.1 133.9h0.75M342.0 131.2h0.75M338.3 132.4h0.75M344.4 131.2h0.75M344.8 133.8h0.75M343.5 135.8h0.75M341.6 133.6h0.75M338.5 133.5h0.75M340.8 133.2h0.75M349.2 135.8h0.75M343.4 135.2h0.75M345.6 128.0h0.75M340.7 133.2h0.75M342.3 130.9h0.75M341.4 131.8h0.75M340.3 128.0h0.75M345.5 131.3h0.75M335.6 131.3h0.75M344.6 129.6h0.75M347.1 135.4h0.75M344.5 134.9h0.75M342.3 129.8h0.75M341.3 129.7h0.75M344.1 128.8h0.75M341.0 127.0h0.75M339.6 130.7h0.75M343.3 131.3h0.75M344.6 128.1h0.75M345.2 133.8h0.75M343.2 132.0h0.75M343.1 130.5h0.75M344.0 137.6h0.75M342.8 134.8h0.75M337.9 134.9h0.75M345.0 137.5h0.75M347.7 134.5h0.75M341.2 130.8h0.75M341.0 134.3h0.75M345.2 129.8h0.75M341.9 128.1h0.75M346.0 137.2h0.75M346.5 135.7h0.75M343.6 127.8h0.75M343.7 133.6h0.75M338.8 128.9h0.75M349.6 132.8h0.75M343.3 132.0h0.75M340.7 132.5h0.75M345.4 135.4h0.75M346.6 130.7h0.75M338.9 133.4h0.75M348.1 133.0h0.75M342.5 131.6h0.75M350.0 131.9h0.75M345.1 131.3h0.75M344.0 134.6h0.75M347.6 132.3h0.75M347.9 132.7h0.75M341.0 129.9h0.75M346.3 137.0h0.75M341.6 132.5h0.75M348.1 135.8h0.75M338.5 132.5h0.75M342.4 131.7h0.75M336.8 134.3h0.75M346.4 134.6h0.75M336.4 134.0h0.75M340.8 134.8h0.75M342.0 127.6h0.75M341.6 131.4h0.75M342.3 133.4h0.75M340.4 133.2h0.75M339.5 127.7h0.75" stroke="#3a0a10" stroke-opacity="0.45" stroke-width="0.75" fill="none"/><ellipse cx="343.2" cy="131.2" rx="5.3" ry="4.5" fill="url(#rgm)" opacity="0.95" transform="rotate(-25 343.2 131.2)"/></g><rect x="334.80" y="112.15" width="30.30" height="30.85" fill="none" stroke="#c8102e" stroke-width="1.40"/><rect x="283.30" y="110.85" width="83.05" height="83.30" fill="none" stroke="#111" stroke-width="1.2"/><path d="M333.65 110.85V194.15M283.30 144.15H366.35" stroke="#111" stroke-width="1.1"/><g font-size="7.4" fill="#111" stroke="#111" stroke-width="0.18"><text x="285.2" y="120.4" transform="rotate(0.05 285.2 120.4)">Q1</text><text x="285.2" y="129.2" transform="rotate(0.05 285.2 129.2)">1.48</text><text x="363.5" y="120.4" transform="rotate(0.05 363.5 120.4)" text-anchor="end">Q2</text><text x="363.5" y="129.2" transform="rotate(0.05 363.5 129.2)" text-anchor="end">14.5</text><text x="285.2" y="182.5" transform="rotate(0.05 285.2 182.5)">Q4</text><text x="285.2" y="191.3" transform="rotate(0.05 285.2 191.3)">82.5</text><text x="363.5" y="182.5" transform="rotate(0.05 363.5 182.5)" text-anchor="end">Q3</text><text x="363.5" y="191.3" transform="rotate(0.05 363.5 191.3)" text-anchor="end">1.57</text></g><clipPath id="cp20"><rect x="102.3" y="201.7" width="83.0" height="83.3"/></clipPath><rect x="152.65" y="201.70" width="32.70" height="33.30" fill="#efc9cf"/><rect x="155.00" y="204.20" width="27.90" height="28.45" fill="none" stroke="#f6dde1" stroke-width="1"/><g clip-path="url(#cp20)"><path d="M140.6 251.2h0.75M154.0 252.9h0.75M148.1 241.9h0.75M146.4 248.1h0.75M138.1 267.5h0.75M127.4 261.3h0.75M134.6 262.3h0.75M145.0 251.6h0.75M130.1 258.3h0.75M136.5 259.6h0.75M147.1 256.6h0.75M141.5 262.2h0.75M132.7 258.2h0.75M161.4 259.7h0.75M146.6 250.6h0.75M145.5 245.9h0.75M144.3 243.0h0.75M146.2 238.6h0.75M145.5 256.1h0.75M127.4 239.8h0.75M130.5 262.1h0.75M134.1 247.2h0.75M137.5 254.9h0.75M148.2 245.5h0.75M139.9 241.9h0.75M146.3 238.5h0.75M154.5 251.3h0.75M146.6 242.3h0.75M145.1 248.8h0.75M141.3 249.8h0.75M143.4 258.3h0.75M147.4 257.9h0.75M140.3 262.2h0.75M146.8 252.3h0.75M144.0 255.3h0.75M123.9 259.0h0.75M131.4 274.7h0.75M134.8 254.0h0.75M134.9 250.9h0.75M138.2 252.3h0.75M146.0 240.6h0.75M139.9 257.9h0.75M137.4 263.3h0.75M150.1 255.8h0.75M147.5 245.6h0.75M149.1 239.4h0.75M134.3 257.1h0.75M134.8 248.3h0.75M135.8 251.4h0.75M160.3 252.3h0.75M142.5 244.4h0.75M139.8 249.9h0.75M149.1 250.7h0.75M140.8 255.6h0.75M144.1 257.0h0.75M137.5 248.4h0.75M133.8 250.3h0.75M146.4 259.9h0.75M140.8 246.9h0.75M142.8 250.3h0.75M151.8 244.2h0.75M138.4 238.4h0.75M140.4 251.8h0.75M125.4 262.6h0.75M135.2 263.7h0.75M137.2 253.9h0.75M128.9 244.1h0.75M137.4 263.9h0.75M127.6 242.7h0.75M140.5 249.7h0.75M134.6 252.9h0.75M138.0 250.3h0.75M141.1 252.8h0.75M141.8 261.0h0.75M132.4 253.5h0.75M138.1 250.2h0.75M146.8 254.1h0.75M137.7 261.0h0.75M132.6 268.1h0.75M137.4 259.7h0.75M143.6 248.1h0.75M129.6 259.9h0.75M145.1 244.5h0.75M142.3 260.1h0.75M149.4 258.5h0.75M146.2 266.3h0.75M140.3 244.0h0.75M140.8 251.0h0.75M143.9 250.1h0.75M129.0 263.4h0.75M140.8 242.7h0.75M141.6 272.7h0.75M146.6 261.4h0.75M144.0 248.5h0.75M138.3 251.4h0.75M144.6 249.3h0.75M137.0 245.7h0.75M140.6 250.3h0.75M140.3 260.9h0.75M155.4 254.0h0.75M152.6 249.7h0.75M144.4 261.7h0.75M131.3 252.9h0.75M127.7 236.1h0.75M143.5 263.4h0.75M143.3 252.4h0.75M146.2 247.1h0.75M153.4 256.2h0.75M146.0 239.0h0.75M139.9 245.2h0.75M131.8 255.2h0.75M144.0 265.1h0.75M149.3 253.6h0.75M144.8 232.6h0.75M147.2 262.3h0.75M136.1 258.0h0.75M152.0 246.0h0.75M137.2 249.6h0.75M154.6 257.0h0.75M150.1 248.0h0.75M141.8 264.5h0.75M134.8 249.9h0.75M141.5 259.0h0.75M145.2 249.7h0.75M144.5 247.4h0.75M134.8 251.6h0.75M141.7 245.8h0.75M125.4 257.7h0.75M140.6 247.2h0.75M143.5 250.2h0.75M144.3 255.1h0.75M125.5 253.8h0.75M136.1 248.2h0.75M132.3 256.0h0.75M142.6 236.0h0.75M138.5 252.8h0.75M139.1 252.4h0.75M140.0 252.2h0.75M146.7 251.1h0.75M146.5 256.4h0.75M148.6 253.0h0.75M137.3 259.3h0.75M151.0 248.6h0.75M134.9 251.6h0.75M141.7 243.5h0.75M146.0 254.1h0.75M150.7 248.7h0.75M151.5 263.2h0.75M131.7 260.2h0.75M130.0 254.7h0.75M151.4 216.4h0.75M147.2 212.3h0.75M144.7 211.6h0.75M157.6 211.7h0.75M160.8 214.5h0.75M151.9 211.9h0.75M146.0 211.8h0.75M151.2 207.5h0.75M149.5 220.7h0.75M141.8 208.6h0.75M154.5 219.7h0.75M151.8 216.3h0.75M157.0 217.2h0.75M146.6 214.3h0.75M149.7 215.2h0.75M149.1 214.4h0.75M139.9 215.6h0.75M164.1 216.5h0.75M137.8 219.2h0.75M143.3 209.5h0.75M147.8 215.2h0.75M140.9 219.5h0.75M152.2 218.7h0.75M147.2 209.4h0.75M150.2 214.5h0.75M151.2 214.4h0.75M150.2 214.3h0.75M150.4 204.7h0.75M149.0 216.7h0.75M152.3 207.2h0.75" stroke="#000" stroke-opacity="0.30" stroke-width="0.75" fill="none"/><path d="M132.5 259.5h0.75M152.6 257.2h0.75M148.4 269.8h0.75M140.8 278.4h0.75M136.7 262.2h0.75M152.0 240.0h0.75M117.4 262.5h0.75M130.6 265.2h0.75M139.2 283.8h0.75M128.3 250.8h0.75M142.7 261.8h0.75M144.7 257.2h0.75M115.6 262.0h0.75M124.7 271.8h0.75M120.5 280.9h0.75M125.5 254.5h0.75M127.7 279.9h0.75M119.9 262.9h0.75M135.7 273.0h0.75M127.8 271.3h0.75M138.0 249.8h0.75M140.6 236.7h0.75M124.9 271.2h0.75M135.3 259.1h0.75M119.7 271.3h0.75M127.0 267.5h0.75M140.5 264.6h0.75M142.4 242.5h0.75M144.2 248.4h0.75M133.2 268.1h0.75M134.8 261.0h0.75M134.8 271.0h0.75M140.5 272.3h0.75M119.8 273.9h0.75M113.5 251.9h0.75M141.4 249.9h0.75M145.0 257.4h0.75M139.1 271.4h0.75M116.7 260.1h0.75M144.0 266.1h0.75M119.7 272.2h0.75M137.0 247.2h0.75M128.8 262.4h0.75M137.9 254.8h0.75M136.7 247.7h0.75M128.4 262.3h0.75M154.0 250.4h0.75M136.0 264.4h0.75M151.5 257.7h0.75M134.4 254.8h0.75M126.6 266.3h0.75M134.5 257.7h0.75M144.9 251.5h0.75M149.1 250.5h0.75M157.9 255.2h0.75M126.4 278.4h0.75M142.8 254.1h0.75M127.9 260.0h0.75M124.1 258.2h0.75M143.6 258.9h0.75M137.6 259.8h0.75M146.7 249.2h0.75M132.6 274.0h0.75M140.1 251.4h0.75M136.8 257.6h0.75M135.7 264.4h0.75M125.1 279.1h0.75M144.8 261.1h0.75M137.4 259.6h0.75M142.9 255.1h0.75M119.6 250.7h0.75M137.8 271.5h0.75M128.7 250.3h0.75M137.9 257.1h0.75M154.6 267.6h0.75M150.7 239.8h0.75M118.5 261.4h0.75M162.6 248.3h0.75M142.2 251.0h0.75M124.4 270.8h0.75M157.7 243.9h0.75M129.0 276.3h0.75M143.5 250.0h0.75M129.8 279.1h0.75M145.3 256.9h0.75M138.8 249.7h0.75M130.4 273.8h0.75M153.9 232.4h0.75M127.9 263.8h0.75M157.4 252.5h0.75M137.6 264.3h0.75M121.9 272.4h0.75M135.7 255.2h0.75M147.1 271.1h0.75M122.1 263.5h0.75M122.4 271.8h0.75M136.6 260.9h0.75M126.0 260.2h0.75M128.8 267.3h0.75M144.3 255.9h0.75M131.4 254.6h0.75M143.5 263.8h0.75M140.4 241.9h0.75M132.0 262.5h0.75M143.8 254.8h0.75M147.1 283.1h0.75M129.8 246.9h0.75M140.3 258.0h0.75M142.1 281.2h0.75M126.8 282.1h0.75M125.3 274.0h0.75M131.1 249.1h0.75M134.4 265.9h0.75M125.6 261.3h0.75M138.7 257.6h0.75M132.4 246.8h0.75M151.5 250.6h0.75M114.1 256.9h0.75M138.0 255.5h0.75M147.7 261.0h0.75M126.9 275.6h0.75M132.8 259.3h0.75M123.0 271.4h0.75M128.9 262.8h0.75M152.9 271.4h0.75M124.7 272.0h0.75M121.3 267.7h0.75M131.8 259.0h0.75M129.5 273.6h0.75M133.8 255.2h0.75M120.4 267.9h0.75M125.3 265.4h0.75M137.6 253.9h0.75M137.6 259.7h0.75M132.3 258.3h0.75M132.0 261.9h0.75M139.3 247.5h0.75M154.1 253.4h0.75M130.3 267.0h0.75M124.5 268.9h0.75M124.7 275.4h0.75M150.5 243.0h0.75M115.8 264.5h0.75M119.3 276.2h0.75M145.4 267.7h0.75M146.8 253.3h0.75M127.7 282.0h0.75M128.5 260.4h0.75M122.6 266.6h0.75M157.3 251.1h0.75M129.6 255.5h0.75M126.5 261.3h0.75M140.3 267.2h0.75M134.9 258.0h0.75M131.3 262.5h0.75M123.8 277.5h0.75M122.2 275.9h0.75M151.8 238.6h0.75M127.3 272.1h0.75M141.4 245.5h0.75M126.1 270.1h0.75M150.1 251.3h0.75M134.5 249.4h0.75M130.2 263.7h0.75M147.2 234.4h0.75M128.3 276.5h0.75M134.6 268.1h0.75M130.2 276.6h0.75M131.5 276.2h0.75M135.6 271.6h0.75M127.9 276.6h0.75M125.9 262.1h0.75M154.5 249.6h0.75M111.1 277.1h0.75M125.6 274.4h0.75M132.1 270.5h0.75M136.7 245.0h0.75M146.6 259.8h0.75M144.8 263.0h0.75M126.8 252.3h0.75M154.3 233.1h0.75M119.6 272.5h0.75M140.9 269.6h0.75M147.6 271.0h0.75M125.2 259.7h0.75M130.9 277.0h0.75M119.0 275.6h0.75M138.4 272.3h0.75M112.8 257.9h0.75M126.3 265.5h0.75M129.5 280.5h0.75M142.6 243.7h0.75M144.6 263.4h0.75M149.1 239.3h0.75M134.7 273.8h0.75M137.3 264.7h0.75M128.7 263.0h0.75M129.4 258.3h0.75M130.0 264.4h0.75M138.3 270.0h0.75M127.1 262.1h0.75M158.9 271.4h0.75M128.7 265.1h0.75M142.2 258.8h0.75M140.3 243.1h0.75M132.6 263.3h0.75M135.7 255.2h0.75M142.7 235.5h0.75M148.9 250.3h0.75M122.6 261.6h0.75M123.2 265.3h0.75M150.5 257.3h0.75M129.4 254.3h0.75M131.4 271.4h0.75M137.8 270.9h0.75M142.2 263.9h0.75M134.1 266.9h0.75M129.6 264.0h0.75M123.3 257.9h0.75M119.4 279.6h0.75M153.2 245.4h0.75M142.8 246.3h0.75M143.0 240.6h0.75M137.0 268.2h0.75M128.8 255.7h0.75M141.7 258.2h0.75M138.9 250.8h0.75M146.0 266.5h0.75M126.9 276.5h0.75M135.7 265.9h0.75M118.9 262.6h0.75M149.7 242.8h0.75M140.3 257.8h0.75M129.0 258.9h0.75M156.5 255.2h0.75M121.4 252.9h0.75M130.1 273.9h0.75M121.0 254.9h0.75M121.0 258.5h0.75M126.7 255.3h0.75M144.9 255.8h0.75M128.2 260.0h0.75M129.0 259.6h0.75M138.4 246.5h0.75M128.0 251.6h0.75M137.8 247.2h0.75M129.2 255.8h0.75M120.0 272.7h0.75M141.0 246.3h0.75M144.1 263.7h0.75M125.9 265.0h0.75M122.9 272.7h0.75M132.8 254.5h0.75M128.0 260.1h0.75M135.9 258.2h0.75M117.2 264.6h0.75M121.2 273.5h0.75M139.5 236.3h0.75M125.5 274.2h0.75M124.1 254.4h0.75M150.0 250.5h0.75M131.0 246.1h0.75M137.5 264.6h0.75M129.3 261.5h0.75M142.2 264.8h0.75M150.2 239.6h0.75M137.2 271.4h0.75M131.0 242.3h0.75M148.3 253.5h0.75M136.4 259.2h0.75M134.8 254.4h0.75M138.7 252.8h0.75M153.8 249.2h0.75M142.4 260.6h0.75M154.9 256.5h0.75M126.5 261.9h0.75M118.2 257.0h0.75M130.7 258.2h0.75M135.8 256.5h0.75M135.8 253.7h0.75M159.1 246.5h0.75M154.0 264.0h0.75M135.7 263.0h0.75M142.7 231.0h0.75M142.0 263.4h0.75M132.9 254.7h0.75M138.1 256.6h0.75M134.3 269.7h0.75M124.2 275.7h0.75M133.9 260.0h0.75M131.5 266.7h0.75M128.6 275.2h0.75M137.6 263.7h0.75M142.5 274.4h0.75M110.4 253.3h0.75M110.9 277.5h0.75M128.0 260.7h0.75M155.0 246.6h0.75M143.0 253.1h0.75M148.4 254.2h0.75M124.8 254.9h0.75M142.2 249.1h0.75M129.8 272.5h0.75M128.1 266.6h0.75M135.8 254.1h0.75M120.3 278.9h0.75M142.7 269.5h0.75M124.2 247.9h0.75M158.5 251.2h0.75M127.5 270.9h0.75M132.3 252.9h0.75M130.1 272.3h0.75M127.7 268.0h0.75M119.1 268.1h0.75M149.7 254.0h0.75M133.0 251.5h0.75M136.3 261.7h0.75M161.3 238.1h0.75M137.8 255.4h0.75M124.2 278.7h0.75M127.6 261.0h0.75M138.3 267.8h0.75M146.1 241.6h0.75M120.1 268.2h0.75M136.5 256.5h0.75M142.4 250.8h0.75M120.2 266.5h0.75M138.3 264.8h0.75M137.3 263.7h0.75M121.8 259.4h0.75M148.5 241.5h0.75M131.5 252.3h0.75M132.7 260.6h0.75M137.6 262.9h0.75M160.6 243.6h0.75M146.6 263.1h0.75M147.7 254.3h0.75M124.7 263.0h0.75M131.7 269.3h0.75M119.7 270.7h0.75M134.2 266.4h0.75M120.2 264.2h0.75M150.2 257.7h0.75M141.6 256.8h0.75M130.2 261.6h0.75M120.0 260.9h0.75M124.2 265.7h0.75M137.4 259.7h0.75M135.6 250.9h0.75M142.8 267.5h0.75M129.7 263.2h0.75M130.5 269.0h0.75M137.9 254.6h0.75M139.4 278.9h0.75M137.6 247.2h0.75M137.0 261.3h0.75M122.0 268.5h0.75M136.9 256.3h0.75M123.1 247.2h0.75M129.1 276.0h0.75M138.7 253.1h0.75M134.3 249.5h0.75M140.9 271.6h0.75M140.8 250.0h0.75M135.9 249.1h0.75M137.0 269.3h0.75M123.8 272.3h0.75M125.4 266.8h0.75M137.2 242.3h0.75M122.5 263.4h0.75M131.5 267.4h0.75M126.4 268.9h0.75M113.9 260.4h0.75M137.7 246.8h0.75M156.2 238.6h0.75M161.2 260.5h0.75M133.8 252.4h0.75M128.1 242.3h0.75M133.8 269.5h0.75M125.4 264.9h0.75M150.4 248.8h0.75M128.3 264.4h0.75M120.5 264.9h0.75M119.4 262.2h0.75M134.2 259.1h0.75M128.0 268.3h0.75M123.3 252.7h0.75M140.1 264.9h0.75M139.2 240.7h0.75M128.5 282.5h0.75M137.8 260.2h0.75M125.1 268.5h0.75M130.6 268.2h0.75M145.8 241.0h0.75M138.8 254.6h0.75M138.3 274.3h0.75M134.7 253.5h0.75M137.4 266.1h0.75M139.0 245.1h0.75M128.1 267.0h0.75M143.2 261.2h0.75M124.3 258.0h0.75M135.0 263.3h0.75M119.5 252.7h0.75M120.5 262.9h0.75M131.7 258.5h0.75M147.7 255.4h0.75M131.0 272.0h0.75M124.1 261.4h0.75M135.9 257.1h0.75M126.6 271.0h0.75M132.9 244.3h0.75M142.4 256.1h0.75M133.5 275.2h0.75M119.0 270.7h0.75M139.0 250.6h0.75M137.1 246.7h0.75M124.8 268.1h0.75M136.0 266.1h0.75M129.8 266.2h0.75M135.0 249.2h0.75M147.3 255.1h0.75M143.8 259.7h0.75M140.4 246.7h0.75M140.9 250.2h0.75M131.8 262.0h0.75M119.6 258.3h0.75M126.5 270.6h0.75M144.9 256.1h0.75M152.7 261.7h0.75M144.2 251.6h0.75M128.2 263.9h0.75M128.4 265.3h0.75M139.1 261.9h0.75M149.9 252.0h0.75M131.8 253.5h0.75M136.4 260.2h0.75M128.5 274.1h0.75M126.3 246.8h0.75M146.0 262.7h0.75M122.5 271.1h0.75M155.3 246.8h0.75M123.7 271.6h0.75M140.9 250.3h0.75M130.7 263.6h0.75M136.3 261.4h0.75M130.2 274.8h0.75M126.0 266.6h0.75M133.8 248.4h0.75M127.3 260.4h0.75M124.3 260.6h0.75M146.1 255.8h0.75M134.8 249.1h0.75M143.2 267.6h0.75M136.1 259.9h0.75M149.6 242.4h0.75M138.7 270.2h0.75M134.9 255.6h0.75M135.7 255.6h0.75M123.6 281.0h0.75M128.8 255.4h0.75M155.4 264.6h0.75M138.3 262.4h0.75M120.9 261.3h0.75M125.7 268.1h0.75M146.3 257.5h0.75M131.4 266.1h0.75M122.0 283.7h0.75M153.1 266.2h0.75M140.7 263.8h0.75M148.1 267.7h0.75M147.3 253.8h0.75M142.6 243.9h0.75M147.1 263.2h0.75M127.6 260.2h0.75M139.8 261.9h0.75M127.0 259.2h0.75M142.3 243.8h0.75M144.9 247.0h0.75M140.2 258.6h0.75M154.2 253.5h0.75M132.9 263.1h0.75M143.4 271.9h0.75M129.8 275.6h0.75M126.7 262.1h0.75M131.9 256.5h0.75M144.2 250.7h0.75M123.2 267.4h0.75M140.7 252.7h0.75M160.8 240.2h0.75M121.5 278.0h0.75M136.2 269.7h0.75M129.7 258.3h0.75M138.5 246.6h0.75M145.2 233.2h0.75M135.6 239.5h0.75M130.5 260.2h0.75M125.4 271.7h0.75M131.7 261.6h0.75M133.1 262.5h0.75M147.2 269.6h0.75M147.0 244.0h0.75M123.6 267.5h0.75M135.1 250.0h0.75M143.1 266.5h0.75M122.4 273.9h0.75M141.1 267.6h0.75M127.4 256.2h0.75M142.0 273.6h0.75M154.1 264.6h0.75M123.9 262.9h0.75M158.6 234.1h0.75M143.9 249.0h0.75M127.5 275.0h0.75M148.5 250.7h0.75M140.0 263.0h0.75M130.9 258.2h0.75M111.2 261.5h0.75M115.4 274.6h0.75M112.8 280.6h0.75M163.1 237.7h0.75M145.9 241.4h0.75M121.6 262.4h0.75M155.5 244.6h0.75M144.5 258.1h0.75M140.7 254.6h0.75M130.8 276.9h0.75M131.8 269.8h0.75M113.2 264.7h0.75M135.0 262.7h0.75M150.8 251.6h0.75M143.5 251.4h0.75M145.7 264.9h0.75M142.0 247.6h0.75M146.7 233.7h0.75M133.0 262.8h0.75M124.1 261.4h0.75M119.7 262.8h0.75M135.6 262.3h0.75M139.0 260.9h0.75M139.1 242.1h0.75M145.8 238.7h0.75M127.4 277.5h0.75M141.4 239.9h0.75M152.3 254.0h0.75M134.2 242.7h0.75M151.3 245.6h0.75M123.3 281.0h0.75M147.5 260.3h0.75M121.0 271.3h0.75M152.8 232.2h0.75M115.8 265.9h0.75M126.3 280.4h0.75M143.9 249.2h0.75M137.1 253.1h0.75M131.4 259.8h0.75M136.2 262.0h0.75M139.8 255.6h0.75M157.3 249.0h0.75M114.3 259.4h0.75M132.6 272.7h0.75M124.7 266.0h0.75M132.3 262.7h0.75M131.8 260.6h0.75M120.1 276.1h0.75M140.7 262.7h0.75M122.1 277.4h0.75M122.3 258.5h0.75M130.6 264.7h0.75M130.5 264.5h0.75M150.4 247.7h0.75M150.1 244.3h0.75M143.8 249.9h0.75M155.0 249.8h0.75M124.5 260.0h0.75M159.7 257.6h0.75M129.8 260.1h0.75M130.0 254.6h0.75M140.6 263.2h0.75M126.1 282.6h0.75M134.3 275.4h0.75M140.0 271.4h0.75M139.8 260.7h0.75M132.6 264.1h0.75M127.0 273.7h0.75M121.9 275.2h0.75M130.6 259.5h0.75M130.6 283.6h0.75M131.8 284.6h0.75M132.5 263.5h0.75M134.0 259.2h0.75M122.4 269.1h0.75M132.6 255.8h0.75M138.8 250.7h0.75M129.3 266.8h0.75M124.2 261.5h0.75M146.2 255.6h0.75M132.1 283.2h0.75M128.9 243.7h0.75M126.8 268.2h0.75M136.9 268.3h0.75M125.1 258.6h0.75M107.5 275.2h0.75M161.3 231.9h0.75M131.1 258.0h0.75M134.5 279.7h0.75M139.5 272.5h0.75M151.0 250.3h0.75M130.3 262.4h0.75M143.4 261.4h0.75M133.5 259.9h0.75M145.8 265.5h0.75M133.0 277.1h0.75M124.7 280.9h0.75M138.2 274.9h0.75M144.7 257.5h0.75M129.1 256.8h0.75M148.2 243.3h0.75M132.7 259.7h0.75M136.3 260.9h0.75M135.8 260.4h0.75M144.2 260.4h0.75M130.1 281.7h0.75M126.7 263.9h0.75M149.0 229.0h0.75M123.4 278.2h0.75M134.9 261.3h0.75M139.0 261.4h0.75M131.2 257.7h0.75M135.4 264.0h0.75M123.1 264.3h0.75M159.8 245.9h0.75M134.2 233.1h0.75M136.6 254.1h0.75M123.2 268.5h0.75M125.9 273.7h0.75M131.4 265.5h0.75M163.1 235.7h0.75M153.9 270.8h0.75M120.4 271.4h0.75M134.2 258.2h0.75M130.0 271.9h0.75M138.6 236.7h0.75M141.2 263.4h0.75M143.1 245.5h0.75M127.5 253.7h0.75M149.6 235.7h0.75M140.8 260.7h0.75M141.4 263.8h0.75M130.6 280.4h0.75M132.1 269.6h0.75M133.8 254.8h0.75M132.0 271.1h0.75M158.5 234.6h0.75M146.9 274.6h0.75M114.8 260.9h0.75M152.8 259.9h0.75M132.9 272.6h0.75M140.3 260.3h0.75M132.5 263.4h0.75M123.6 268.0h0.75M142.5 242.5h0.75M126.2 254.0h0.75M156.3 260.9h0.75M135.8 271.3h0.75M123.4 282.1h0.75M123.6 278.5h0.75M118.1 259.0h0.75M130.6 263.5h0.75M135.3 262.8h0.75M145.6 262.9h0.75M116.0 271.7h0.75M137.9 261.7h0.75M120.5 275.2h0.75M127.4 270.6h0.75M155.5 230.4h0.75M148.9 250.5h0.75M130.9 267.3h0.75M141.6 233.5h0.75M155.1 253.2h0.75M155.3 264.0h0.75M143.9 242.1h0.75M138.0 271.4h0.75M127.4 259.4h0.75M122.5 269.8h0.75M149.8 265.2h0.75M122.6 277.9h0.75M137.5 276.1h0.75M140.4 259.3h0.75M134.7 273.6h0.75M136.7 258.2h0.75M160.4 249.8h0.75M134.2 282.9h0.75M152.0 250.7h0.75M124.1 267.7h0.75M122.7 271.5h0.75M131.2 255.7h0.75M147.9 254.6h0.75M129.9 273.6h0.75M123.0 267.6h0.75M134.9 272.5h0.75M123.7 268.1h0.75M146.2 270.0h0.75M131.7 275.1h0.75M140.5 273.8h0.75M133.8 255.5h0.75M124.5 262.7h0.75M135.6 241.0h0.75M131.0 273.8h0.75M120.2 266.0h0.75M162.2 247.1h0.75M150.2 247.0h0.75M139.2 266.1h0.75M135.4 247.4h0.75M134.4 256.3h0.75M130.2 269.7h0.75M145.2 259.2h0.75M130.2 253.2h0.75M149.0 250.5h0.75M111.2 279.5h0.75M146.9 258.1h0.75M134.7 260.1h0.75M125.7 269.2h0.75M132.4 270.0h0.75M136.7 273.4h0.75M119.7 276.6h0.75M135.3 275.6h0.75M136.6 249.4h0.75M120.6 281.4h0.75M124.3 261.7h0.75M123.4 264.9h0.75M138.4 258.9h0.75M137.2 266.7h0.75M129.4 257.7h0.75M139.0 255.8h0.75M128.1 275.7h0.75M144.7 254.1h0.75M131.3 256.2h0.75M135.1 271.5h0.75M147.6 245.0h0.75M134.6 271.3h0.75M139.6 247.2h0.75M137.8 264.1h0.75M140.8 268.9h0.75M140.6 248.6h0.75M137.0 256.7h0.75M137.6 266.2h0.75M136.0 267.0h0.75M138.3 262.5h0.75M134.4 261.5h0.75M122.3 258.9h0.75M123.8 274.6h0.75M133.6 264.7h0.75M118.8 254.0h0.75M154.4 256.7h0.75M149.3 267.5h0.75M148.1 252.5h0.75M146.9 239.4h0.75M131.5 262.7h0.75M130.7 276.8h0.75M146.1 257.2h0.75M124.4 266.2h0.75M138.3 271.8h0.75M152.7 250.6h0.75M142.7 259.5h0.75M143.3 249.0h0.75M120.7 278.0h0.75M130.6 259.0h0.75M146.5 251.4h0.75M117.7 274.0h0.75M142.7 266.6h0.75M138.5 258.7h0.75M152.0 246.8h0.75M128.8 272.5h0.75M124.9 257.4h0.75M158.1 250.6h0.75M116.8 283.4h0.75M135.8 255.0h0.75M124.4 263.1h0.75M130.9 259.1h0.75M122.6 269.0h0.75M148.0 247.8h0.75M138.4 259.4h0.75M140.4 257.6h0.75M129.4 260.5h0.75M143.6 277.0h0.75M130.9 265.3h0.75M146.3 253.2h0.75M139.3 258.4h0.75M132.5 263.0h0.75M126.9 278.4h0.75M143.4 268.0h0.75M139.1 256.6h0.75M129.1 259.0h0.75M151.6 249.6h0.75M160.0 235.9h0.75M131.2 264.0h0.75M124.5 277.2h0.75M108.3 274.8h0.75M140.4 251.0h0.75M134.2 251.4h0.75M128.9 262.6h0.75M136.8 266.3h0.75M134.7 259.9h0.75M126.5 264.6h0.75M152.2 255.8h0.75M140.4 255.9h0.75M121.7 254.1h0.75M150.0 249.5h0.75M131.6 270.2h0.75M124.8 275.4h0.75M148.4 249.6h0.75M134.0 252.7h0.75M125.3 262.9h0.75M127.7 260.2h0.75M158.3 231.8h0.75M162.6 228.2h0.75M129.0 259.1h0.75M147.8 259.0h0.75M140.3 250.4h0.75M141.1 271.5h0.75M124.5 284.0h0.75M138.0 244.5h0.75M136.9 268.9h0.75M130.7 250.5h0.75M148.9 261.7h0.75M127.5 273.1h0.75M145.3 238.7h0.75M122.5 250.8h0.75M133.8 257.9h0.75M121.9 260.5h0.75M146.9 259.9h0.75M137.0 244.9h0.75M126.8 267.5h0.75M142.3 258.3h0.75M129.4 267.3h0.75M122.7 277.4h0.75M129.0 264.8h0.75M143.7 259.1h0.75M134.1 251.5h0.75M147.6 253.1h0.75M120.2 263.9h0.75M131.6 266.6h0.75M128.1 255.8h0.75M138.7 254.3h0.75M135.7 266.5h0.75M130.9 279.0h0.75M141.2 245.3h0.75M139.0 245.5h0.75M133.6 275.7h0.75M143.7 241.4h0.75M136.8 266.4h0.75M135.3 254.6h0.75M138.4 241.0h0.75M129.4 268.1h0.75M119.5 265.2h0.75M141.2 262.9h0.75M145.4 263.7h0.75M136.7 247.5h0.75M148.3 263.2h0.75M140.0 265.8h0.75M135.3 240.5h0.75M135.4 284.6h0.75M146.8 266.1h0.75M133.1 251.3h0.75M134.2 265.1h0.75M143.6 236.2h0.75M137.3 256.6h0.75M148.2 248.0h0.75M146.0 255.2h0.75M127.3 260.1h0.75M152.9 240.4h0.75M139.7 245.1h0.75M135.9 263.8h0.75M136.1 266.8h0.75M123.6 274.1h0.75M138.4 269.5h0.75M135.4 268.5h0.75M137.8 261.6h0.75M135.7 272.6h0.75M132.5 249.6h0.75M132.6 262.9h0.75M128.4 267.7h0.75M122.0 269.9h0.75M125.3 280.5h0.75M128.6 262.8h0.75M139.3 248.7h0.75M121.8 274.2h0.75M134.8 266.5h0.75M158.9 224.3h0.75M119.4 261.3h0.75M127.6 251.2h0.75M135.8 272.4h0.75M135.3 246.2h0.75M145.6 243.7h0.75M125.9 258.4h0.75M150.4 253.2h0.75M119.6 271.4h0.75M142.5 265.9h0.75M137.2 261.5h0.75M131.6 272.7h0.75M141.4 264.2h0.75M133.9 257.7h0.75M134.3 260.4h0.75M117.8 259.4h0.75M129.5 274.6h0.75M123.9 277.3h0.75M132.5 269.1h0.75M130.0 250.7h0.75M133.3 264.5h0.75M137.7 262.5h0.75M152.1 253.0h0.75M127.6 263.1h0.75M140.4 262.2h0.75M152.9 262.6h0.75M136.5 254.2h0.75M135.3 255.7h0.75M132.7 259.6h0.75M144.9 233.1h0.75M130.9 261.1h0.75M138.8 274.5h0.75M134.5 250.8h0.75M149.1 242.8h0.75M154.6 252.2h0.75M137.2 264.5h0.75M143.4 253.9h0.75M136.9 254.8h0.75M133.9 260.7h0.75M140.4 254.8h0.75M143.8 258.6h0.75M135.6 260.9h0.75M156.3 247.4h0.75" stroke="#000" stroke-opacity="0.38" stroke-width="0.75" fill="none"/><path d="M127.5 267.2h0.75M119.2 268.7h0.75M123.6 269.0h0.75M124.0 272.3h0.75M127.8 268.7h0.75M123.1 269.5h0.75M130.1 270.8h0.75M126.6 277.2h0.75M123.4 267.7h0.75M130.3 267.0h0.75M124.4 262.5h0.75M125.1 272.9h0.75M122.8 267.5h0.75M123.5 271.5h0.75M125.2 271.4h0.75M124.5 269.8h0.75M132.1 268.8h0.75M124.8 266.3h0.75M128.6 263.9h0.75M131.2 265.7h0.75M120.9 275.1h0.75M126.9 270.0h0.75M123.1 271.6h0.75M123.5 276.2h0.75M123.7 272.5h0.75M133.3 266.7h0.75M129.3 273.6h0.75M123.5 270.3h0.75M122.9 268.7h0.75M121.4 272.1h0.75M123.9 268.2h0.75M119.2 265.7h0.75M124.5 280.7h0.75M124.6 273.5h0.75M142.9 264.2h0.75M125.6 266.7h0.75M126.6 272.4h0.75M128.2 268.8h0.75M121.8 273.9h0.75M128.3 272.7h0.75M128.1 267.3h0.75M119.7 276.2h0.75M123.2 273.6h0.75M117.5 266.2h0.75M122.2 269.7h0.75M121.4 270.5h0.75M130.8 273.8h0.75M130.2 268.3h0.75M128.6 271.3h0.75M130.4 268.4h0.75M128.1 266.2h0.75M128.0 276.9h0.75M125.5 269.0h0.75M119.9 268.2h0.75M129.2 269.7h0.75M127.4 274.8h0.75M124.9 271.4h0.75M131.8 265.3h0.75M127.4 273.6h0.75M124.5 280.1h0.75M127.3 271.6h0.75M131.0 273.8h0.75M124.4 273.1h0.75M131.4 275.7h0.75M124.6 263.2h0.75M126.2 274.8h0.75M125.4 271.9h0.75M123.2 273.4h0.75M122.6 266.0h0.75M127.9 273.7h0.75M121.6 273.4h0.75M121.9 268.5h0.75M129.4 262.2h0.75M119.0 276.1h0.75M121.0 275.8h0.75M123.7 266.9h0.75M118.0 273.2h0.75M132.8 264.5h0.75M120.1 275.7h0.75M126.6 280.3h0.75M122.3 271.3h0.75M130.9 268.5h0.75M132.8 272.1h0.75M126.5 267.9h0.75M129.0 272.0h0.75M130.3 266.6h0.75M119.4 277.2h0.75M130.7 273.6h0.75M127.1 262.7h0.75M120.0 272.8h0.75M121.2 264.8h0.75M128.9 265.7h0.75M132.1 268.5h0.75M124.1 270.3h0.75M133.7 265.8h0.75M124.7 266.7h0.75M132.0 269.5h0.75M121.4 274.1h0.75M121.4 272.0h0.75M127.4 277.5h0.75M131.0 264.1h0.75M119.3 280.4h0.75M119.6 277.5h0.75M129.8 269.4h0.75M126.1 270.3h0.75M124.7 272.6h0.75M125.6 272.8h0.75M130.3 267.1h0.75M128.7 277.1h0.75M126.6 264.8h0.75M128.1 268.0h0.75M122.8 274.4h0.75M121.2 268.7h0.75M131.6 267.2h0.75M125.8 273.8h0.75M129.8 266.2h0.75M123.3 263.5h0.75M121.5 272.9h0.75M125.4 271.6h0.75M129.1 269.7h0.75M130.1 271.9h0.75M131.5 266.1h0.75M131.6 268.9h0.75M131.0 273.6h0.75M120.8 262.0h0.75M125.8 275.6h0.75M122.1 271.5h0.75M128.6 269.5h0.75M126.9 269.8h0.75M122.4 268.4h0.75M123.9 274.4h0.75M122.9 272.0h0.75M131.5 267.7h0.75M121.1 272.9h0.75M129.2 278.3h0.75M126.4 267.7h0.75M131.4 275.5h0.75M123.6 267.9h0.75M122.2 277.1h0.75M128.4 273.4h0.75M120.3 268.4h0.75M119.9 270.9h0.75M124.6 273.5h0.75M127.6 274.4h0.75M131.9 270.9h0.75M132.9 265.1h0.75M128.6 272.7h0.75M126.8 262.1h0.75M124.4 268.9h0.75M124.6 279.5h0.75M123.9 268.8h0.75M128.7 265.2h0.75M124.9 260.9h0.75M121.9 273.1h0.75M128.0 258.3h0.75M123.9 274.0h0.75M127.1 276.8h0.75M124.5 273.1h0.75M130.4 265.6h0.75M125.4 267.9h0.75M129.8 268.5h0.75M114.9 275.5h0.75M123.8 269.4h0.75M131.1 276.3h0.75M123.8 264.5h0.75M122.1 270.6h0.75M125.2 262.5h0.75M126.6 276.0h0.75M120.1 274.8h0.75M116.3 273.0h0.75M125.8 262.6h0.75M130.9 270.5h0.75M124.7 274.9h0.75M131.1 268.4h0.75" stroke="#000" stroke-opacity="0.40" stroke-width="0.75" fill="none"/><path d="M150.3 269.3h0.75M152.1 258.4h0.75M109.7 257.0h0.75M109.0 260.1h0.75M131.1 274.8h0.75M148.8 245.4h0.75M129.6 277.1h0.75M128.4 271.2h0.75M145.9 255.2h0.75M132.2 284.1h0.75M144.2 264.5h0.75M133.2 260.9h0.75M128.9 261.9h0.75M127.9 252.5h0.75M142.7 261.8h0.75M109.2 240.1h0.75M119.9 265.7h0.75M107.9 252.4h0.75M135.9 268.4h0.75M123.2 265.6h0.75M120.1 272.3h0.75M148.9 235.8h0.75M118.6 241.4h0.75M150.2 260.1h0.75M147.9 262.4h0.75M117.5 259.2h0.75M129.6 272.0h0.75M134.1 238.5h0.75M173.4 257.9h0.75M163.0 249.6h0.75M166.1 278.5h0.75M156.1 270.9h0.75M160.4 273.9h0.75M177.2 262.7h0.75M183.5 248.1h0.75M184.2 236.0h0.75M182.8 247.4h0.75M121.4 234.3h0.75M104.7 228.9h0.75M131.5 223.5h0.75M135.9 203.7h0.75M150.7 218.0h0.75M142.1 220.0h0.75M113.3 206.1h0.75M183.9 231.7h0.75M169.5 231.3h0.75M177.8 231.5h0.75M161.8 204.9h0.75M154.8 211.8h0.75M173.1 229.6h0.75" stroke="#000" stroke-opacity="0.45" stroke-width="0.75" fill="none"/><path d="M126.3 265.6h0.75M123.0 264.7h0.75M125.3 267.1h0.75M129.7 261.5h0.75M125.2 268.0h0.75M122.9 264.6h0.75M114.9 278.0h0.75M126.4 271.0h0.75M127.9 271.7h0.75M121.4 263.2h0.75M137.0 258.9h0.75M120.4 270.9h0.75M120.3 270.6h0.75M132.7 261.5h0.75M123.3 269.6h0.75M132.1 269.0h0.75M133.9 267.0h0.75M129.7 265.0h0.75M124.5 268.5h0.75M141.3 265.9h0.75M144.6 262.8h0.75M126.7 272.9h0.75M128.7 267.1h0.75M138.8 263.5h0.75M134.3 271.4h0.75M123.7 270.2h0.75M134.3 273.8h0.75M134.5 260.7h0.75M129.0 274.9h0.75M130.3 263.0h0.75M132.9 263.9h0.75M125.8 268.4h0.75M133.7 262.8h0.75M137.5 265.1h0.75M132.9 257.5h0.75M134.5 259.7h0.75M124.7 276.2h0.75M133.8 259.4h0.75M140.4 268.6h0.75M130.9 256.0h0.75M134.6 278.4h0.75M133.2 258.8h0.75M135.8 266.7h0.75M129.9 277.4h0.75M139.0 260.2h0.75M121.9 266.3h0.75M124.3 270.8h0.75M132.9 263.9h0.75M129.4 271.1h0.75M135.8 266.8h0.75M133.1 270.7h0.75M137.0 268.7h0.75M131.7 258.4h0.75M133.8 269.1h0.75M129.4 255.7h0.75M135.5 261.5h0.75M122.8 267.6h0.75M129.2 255.7h0.75M136.9 265.1h0.75M131.3 265.1h0.75M139.7 262.4h0.75M134.0 251.7h0.75M130.6 257.9h0.75M122.7 274.1h0.75M130.8 261.4h0.75M130.2 266.9h0.75M127.2 265.6h0.75M131.3 262.9h0.75M125.2 264.4h0.75M143.4 260.3h0.75M131.0 263.4h0.75M126.9 262.3h0.75M137.0 263.4h0.75M136.4 262.7h0.75M137.5 259.7h0.75M134.7 262.9h0.75M129.2 264.9h0.75M130.9 264.7h0.75M132.0 256.2h0.75M129.9 268.6h0.75M144.1 259.1h0.75M139.5 255.0h0.75M123.3 272.3h0.75M136.0 267.5h0.75M144.5 248.2h0.75M128.8 272.4h0.75M134.2 264.9h0.75M125.1 263.2h0.75M130.5 268.2h0.75M129.9 268.1h0.75M126.8 262.6h0.75M131.2 258.4h0.75M122.3 266.7h0.75M137.9 267.1h0.75M134.0 276.3h0.75M135.8 265.0h0.75M137.5 268.8h0.75M122.2 266.3h0.75M136.1 269.3h0.75M133.4 276.0h0.75M131.7 275.6h0.75M133.6 256.3h0.75M124.9 279.6h0.75M133.2 262.3h0.75M137.9 265.0h0.75M125.5 267.4h0.75M136.4 259.6h0.75M133.5 258.9h0.75M125.6 274.8h0.75M133.1 262.6h0.75M136.8 266.5h0.75M129.6 272.6h0.75M135.1 263.8h0.75M134.5 261.4h0.75M126.0 269.1h0.75M120.4 277.4h0.75M135.3 265.8h0.75M127.3 270.5h0.75M122.7 276.7h0.75M128.6 268.0h0.75M126.7 265.8h0.75M132.2 251.6h0.75M134.9 264.9h0.75M122.7 268.3h0.75M134.9 274.0h0.75M122.1 267.6h0.75M137.3 265.2h0.75M131.5 266.7h0.75M127.7 271.3h0.75M127.7 276.9h0.75M131.6 271.1h0.75M136.8 259.3h0.75M120.9 269.7h0.75M128.8 259.8h0.75M133.1 264.5h0.75M125.6 282.2h0.75M139.4 262.1h0.75M130.4 266.0h0.75M143.4 254.0h0.75M142.0 257.9h0.75M135.1 272.5h0.75M127.4 264.5h0.75M127.9 273.9h0.75M124.5 274.7h0.75M132.3 259.0h0.75M126.0 264.3h0.75M132.8 272.0h0.75M130.9 267.9h0.75M133.6 261.3h0.75M136.0 260.7h0.75M134.0 268.8h0.75M130.0 267.3h0.75M136.6 270.1h0.75M140.7 253.1h0.75M124.3 272.3h0.75M130.1 260.3h0.75M130.3 264.0h0.75M141.2 262.4h0.75M143.3 263.4h0.75M143.2 256.3h0.75M127.2 271.1h0.75M130.9 259.6h0.75M126.1 264.2h0.75M137.0 261.3h0.75M132.3 265.3h0.75M133.4 259.0h0.75M125.4 268.8h0.75M136.8 269.6h0.75M131.3 271.8h0.75M129.5 267.5h0.75M129.1 269.2h0.75M129.6 275.7h0.75M137.8 260.4h0.75M133.1 264.9h0.75M131.2 254.8h0.75M119.9 266.6h0.75M119.8 262.8h0.75M129.9 266.7h0.75M136.0 262.2h0.75M133.4 257.1h0.75M138.6 260.1h0.75M140.3 258.2h0.75M134.3 261.4h0.75M126.4 260.8h0.75M131.6 274.6h0.75M138.9 266.0h0.75M126.2 267.0h0.75M133.0 276.4h0.75M134.0 262.6h0.75M129.3 262.2h0.75M133.9 259.6h0.75M120.8 264.4h0.75M135.7 258.0h0.75M127.3 258.9h0.75M133.6 270.2h0.75M127.8 271.2h0.75M120.5 267.9h0.75M125.5 275.5h0.75M132.4 252.5h0.75M123.8 274.6h0.75M135.7 263.6h0.75M129.7 267.5h0.75M124.0 265.8h0.75M127.9 268.3h0.75M129.6 265.8h0.75M135.7 260.7h0.75M138.7 267.0h0.75M136.4 270.9h0.75M128.8 278.6h0.75M119.3 274.3h0.75M138.1 252.7h0.75M125.5 271.8h0.75M124.0 276.3h0.75M129.8 253.1h0.75M120.8 272.7h0.75M140.6 266.9h0.75M131.5 256.7h0.75M129.6 262.2h0.75M133.4 258.1h0.75M125.1 275.4h0.75M124.1 272.8h0.75M128.6 266.0h0.75M125.6 261.3h0.75M132.3 268.2h0.75M133.2 263.1h0.75M124.6 268.1h0.75M119.6 278.4h0.75M135.5 265.9h0.75M124.6 262.7h0.75M129.8 256.4h0.75M138.2 250.6h0.75M128.2 262.7h0.75M123.6 253.3h0.75M124.0 269.3h0.75M139.2 263.9h0.75M131.4 262.9h0.75M135.4 267.5h0.75M125.9 251.8h0.75M124.4 272.1h0.75M138.3 266.7h0.75M138.4 267.9h0.75M137.4 255.1h0.75M131.5 267.5h0.75M138.2 249.4h0.75M127.4 267.1h0.75M122.8 263.4h0.75M140.4 255.7h0.75M143.9 251.2h0.75M136.8 270.1h0.75M128.2 271.1h0.75M125.4 267.3h0.75M128.3 267.9h0.75M122.0 266.9h0.75M126.6 270.7h0.75M130.9 264.2h0.75M132.3 266.9h0.75M136.3 265.9h0.75M124.2 259.7h0.75M125.4 273.9h0.75M137.1 263.8h0.75M128.0 260.8h0.75M134.0 275.0h0.75M126.9 265.3h0.75M140.6 271.4h0.75M133.7 267.8h0.75M133.3 269.5h0.75M135.6 262.2h0.75M139.7 262.7h0.75M125.6 264.6h0.75M127.9 263.5h0.75M131.6 268.5h0.75M130.8 260.9h0.75M137.8 263.1h0.75M133.6 266.7h0.75M125.8 262.3h0.75M129.3 272.2h0.75M132.7 265.4h0.75M125.6 272.8h0.75M132.9 266.5h0.75M130.7 265.7h0.75M126.0 271.2h0.75M136.0 267.1h0.75M126.2 264.1h0.75M129.8 258.7h0.75M125.6 266.4h0.75M136.7 266.2h0.75M137.8 255.8h0.75M138.1 270.6h0.75M124.5 252.0h0.75M124.9 267.5h0.75M127.3 266.6h0.75M121.7 277.7h0.75M134.4 270.8h0.75M124.1 271.9h0.75M127.9 262.1h0.75M122.7 280.4h0.75M131.4 275.6h0.75M122.6 257.7h0.75M134.7 265.3h0.75M123.0 276.4h0.75M125.7 265.8h0.75M142.5 249.5h0.75M135.8 262.2h0.75M131.6 265.0h0.75M121.9 267.7h0.75M134.4 263.7h0.75M129.7 262.5h0.75M133.4 263.5h0.75M133.7 258.5h0.75M131.9 265.9h0.75M137.6 263.2h0.75M122.1 277.0h0.75M146.0 253.3h0.75M124.5 263.4h0.75M128.8 271.0h0.75M139.5 258.0h0.75M131.7 260.5h0.75M135.2 259.7h0.75M118.0 261.0h0.75M132.4 264.5h0.75M133.0 260.5h0.75M117.1 265.7h0.75M131.2 268.7h0.75M127.2 265.4h0.75M130.1 268.4h0.75M126.2 269.2h0.75M125.7 274.7h0.75M133.2 263.6h0.75M131.0 263.6h0.75M138.4 260.7h0.75M133.1 268.8h0.75M119.5 263.0h0.75M123.1 274.4h0.75M129.1 263.6h0.75M125.3 264.4h0.75M145.6 258.1h0.75M145.9 255.5h0.75M135.4 253.6h0.75M122.2 267.8h0.75M126.1 276.5h0.75M127.3 265.4h0.75M124.9 270.1h0.75M131.5 251.7h0.75M130.8 264.8h0.75M132.3 271.7h0.75M129.0 264.6h0.75M136.8 258.2h0.75M131.5 276.7h0.75M136.1 265.7h0.75M128.5 277.9h0.75M131.7 269.0h0.75M131.2 273.4h0.75M126.7 259.1h0.75M128.7 262.5h0.75M131.4 253.9h0.75M141.7 268.6h0.75M128.1 270.0h0.75M123.3 273.2h0.75M123.8 268.4h0.75M125.0 265.3h0.75M120.0 258.8h0.75M134.2 277.1h0.75M136.0 259.4h0.75M135.7 260.7h0.75M124.5 263.2h0.75M127.8 268.6h0.75M130.6 268.4h0.75M130.1 265.9h0.75M132.6 267.9h0.75M119.3 272.8h0.75M129.4 269.4h0.75M123.8 279.5h0.75M132.7 267.4h0.75M135.4 263.1h0.75M124.7 271.8h0.75M128.2 262.0h0.75M129.2 271.1h0.75M125.7 268.8h0.75M137.7 251.6h0.75M137.8 263.0h0.75M127.8 258.3h0.75M126.5 266.8h0.75M135.4 265.9h0.75M132.8 269.9h0.75M131.7 262.1h0.75M126.1 271.3h0.75M132.0 268.0h0.75M128.3 268.0h0.75M120.6 271.8h0.75M140.9 257.4h0.75M135.4 261.7h0.75" stroke="#000" stroke-opacity="0.50" stroke-width="0.75" fill="none"/><ellipse cx="130.6" cy="265.6" rx="14.5" ry="8.0" fill="url(#rg)" opacity="1.00" transform="rotate(-48 130.6 265.6)"/><ellipse cx="135.0" cy="259.0" rx="16.0" ry="10.0" fill="url(#rg)" opacity="0.30" transform="rotate(-48 135.0 259.0)"/><path d="M157.2 211.3h0.75M165.4 217.8h0.75M159.1 216.3h0.75M159.0 210.8h0.75M157.2 219.5h0.75M159.5 219.5h0.75M157.2 218.9h0.75M157.6 209.7h0.75M153.9 216.5h0.75M159.9 212.7h0.75M166.7 213.2h0.75M152.7 211.9h0.75M167.6 218.7h0.75M159.6 213.2h0.75M163.8 215.2h0.75M157.0 217.9h0.75M168.2 215.4h0.75M156.6 216.9h0.75M159.9 214.0h0.75M166.2 214.6h0.75M155.5 215.3h0.75M150.6 210.3h0.75M160.6 217.9h0.75M157.2 213.8h0.75M156.5 214.3h0.75M156.8 214.5h0.75M154.2 212.2h0.75M165.0 210.8h0.75M164.0 209.3h0.75M155.5 217.2h0.75M160.5 218.4h0.75M158.7 215.6h0.75M163.9 211.2h0.75M157.9 219.2h0.75M166.2 213.1h0.75M159.6 210.7h0.75M156.5 210.4h0.75M160.1 215.6h0.75M158.9 219.4h0.75M160.6 213.2h0.75M158.4 214.6h0.75M160.3 212.6h0.75M165.6 212.6h0.75M156.9 216.4h0.75M153.7 214.2h0.75M165.7 216.8h0.75M162.2 212.0h0.75M159.0 217.3h0.75M160.2 216.1h0.75M164.3 213.3h0.75M150.0 216.0h0.75M164.9 213.3h0.75M160.5 219.8h0.75M162.5 212.4h0.75M160.7 218.4h0.75M157.8 214.5h0.75M165.2 218.8h0.75M149.4 210.2h0.75M160.6 215.7h0.75M163.4 214.9h0.75M154.5 216.1h0.75M153.1 218.7h0.75M160.5 213.9h0.75M164.0 213.9h0.75M165.3 217.4h0.75M157.7 215.2h0.75M161.1 212.0h0.75M155.3 217.6h0.75M166.9 213.7h0.75M157.9 213.9h0.75M165.4 215.7h0.75M158.9 213.1h0.75M158.6 212.6h0.75M166.3 213.3h0.75M156.9 215.1h0.75M165.2 214.3h0.75M158.4 212.0h0.75M157.8 220.4h0.75M157.5 217.5h0.75M164.6 214.7h0.75M160.1 215.7h0.75M157.8 208.4h0.75M155.1 218.6h0.75M164.2 211.5h0.75M164.5 215.7h0.75M160.9 211.5h0.75M163.7 217.3h0.75M147.8 215.7h0.75M158.2 214.8h0.75M161.7 219.2h0.75M161.2 217.7h0.75M157.5 211.6h0.75M160.9 213.0h0.75M157.6 216.1h0.75M157.7 214.8h0.75M156.0 218.1h0.75M160.5 213.1h0.75M156.7 210.4h0.75M158.0 212.9h0.75M165.4 213.6h0.75M160.4 216.6h0.75M160.5 217.1h0.75M155.1 219.5h0.75M158.4 216.1h0.75M163.9 213.8h0.75M162.7 216.7h0.75M160.4 214.7h0.75M159.4 213.9h0.75M160.3 213.7h0.75M162.3 217.4h0.75M159.8 219.4h0.75M151.5 220.3h0.75M167.0 209.3h0.75M165.1 217.3h0.75M159.2 212.1h0.75M165.5 213.2h0.75M155.6 217.5h0.75M164.5 210.5h0.75M160.4 211.5h0.75M163.3 212.4h0.75M159.8 219.9h0.75M161.4 217.9h0.75M162.1 212.2h0.75M164.3 214.7h0.75M162.3 215.1h0.75M162.1 215.6h0.75M157.7 213.5h0.75M167.5 217.9h0.75M160.9 213.9h0.75M159.8 217.5h0.75M158.2 210.6h0.75M155.9 216.9h0.75M157.6 216.0h0.75M155.2 219.8h0.75M159.8 207.8h0.75M160.3 216.6h0.75M161.5 217.2h0.75M155.4 215.2h0.75M159.3 219.0h0.75M158.9 221.3h0.75M164.5 216.8h0.75M155.0 218.3h0.75" stroke="#3a0a10" stroke-opacity="0.45" stroke-width="0.75" fill="none"/><ellipse cx="160.3" cy="214.1" rx="6.2" ry="4.0" fill="url(#rgm)" opacity="0.90" transform="rotate(-10 160.3 214.1)"/></g><rect x="153.80" y="203.00" width="30.30" height="30.85" fill="none" stroke="#c8102e" stroke-width="1.40"/><rect x="102.30" y="201.70" width="83.05" height="83.30" fill="none" stroke="#111" stroke-width="1.2"/><path d="M152.65 201.70V285.00M102.30 235.00H185.35" stroke="#111" stroke-width="1.1"/><g font-size="7.4" fill="#111" stroke="#111" stroke-width="0.18"><text x="104.2" y="211.3" transform="rotate(0.05 104.2 211.3)">Q1</text><text x="104.2" y="220.1" transform="rotate(0.05 104.2 220.1)">0.84</text><text x="182.4" y="211.3" transform="rotate(0.05 182.4 211.3)" text-anchor="end">Q2</text><text x="182.4" y="220.1" transform="rotate(0.05 182.4 220.1)" text-anchor="end">12.1</text><text x="104.2" y="273.4" transform="rotate(0.05 104.2 273.4)">Q4</text><text x="104.2" y="282.2" transform="rotate(0.05 104.2 282.2)">86.5</text><text x="182.4" y="273.4" transform="rotate(0.05 182.4 273.4)" text-anchor="end">Q3</text><text x="182.4" y="282.2" transform="rotate(0.05 182.4 282.2)" text-anchor="end">0.56</text></g><clipPath id="cp21"><rect x="192.9" y="201.7" width="83.0" height="83.3"/></clipPath><rect x="243.25" y="201.70" width="32.70" height="33.30" fill="#efc9cf"/><rect x="245.60" y="204.20" width="27.90" height="28.45" fill="none" stroke="#f6dde1" stroke-width="1"/><g clip-path="url(#cp21)"><path d="M232.1 231.3h0.75M226.5 246.0h0.75M236.7 239.0h0.75M249.9 240.2h0.75M238.4 235.6h0.75M231.8 248.3h0.75M219.5 234.0h0.75M223.0 239.8h0.75M234.5 247.0h0.75M214.1 240.5h0.75M223.1 261.4h0.75M231.8 244.2h0.75M227.9 243.7h0.75M235.6 233.3h0.75M231.7 226.0h0.75M212.8 245.8h0.75M218.5 246.0h0.75M229.3 236.2h0.75M240.7 242.7h0.75M222.2 237.0h0.75M223.9 239.5h0.75M206.4 245.1h0.75M241.7 230.2h0.75M222.7 247.5h0.75M236.2 245.7h0.75M239.3 251.4h0.75M224.3 251.5h0.75M227.5 233.4h0.75M237.0 235.6h0.75M228.1 245.0h0.75M227.5 242.0h0.75M225.1 233.4h0.75M234.7 239.1h0.75M225.7 231.5h0.75M221.1 248.2h0.75M219.6 247.3h0.75M209.7 232.7h0.75M213.8 262.9h0.75M230.3 262.6h0.75M223.8 242.4h0.75M219.5 244.0h0.75M226.8 253.3h0.75M225.3 230.8h0.75M229.1 241.3h0.75M233.2 239.5h0.75M222.9 241.2h0.75M224.0 245.4h0.75M217.1 243.9h0.75M225.3 238.6h0.75M219.5 257.8h0.75M216.9 243.8h0.75M227.4 236.6h0.75M228.3 234.3h0.75M229.2 246.3h0.75M217.9 248.2h0.75M225.8 235.2h0.75M224.2 249.5h0.75M215.4 233.2h0.75M210.8 238.9h0.75M239.5 233.7h0.75M245.9 244.1h0.75M219.1 245.7h0.75M221.6 252.1h0.75M219.2 236.1h0.75M231.4 240.1h0.75M235.6 236.7h0.75M229.6 246.7h0.75M215.4 246.8h0.75M239.0 251.8h0.75M223.4 236.5h0.75M225.4 261.0h0.75M219.6 239.1h0.75M229.3 249.3h0.75M228.1 256.4h0.75M239.9 253.5h0.75M232.7 236.2h0.75M224.2 228.3h0.75M226.0 253.2h0.75M219.5 243.0h0.75M225.4 233.3h0.75M221.7 242.1h0.75M219.9 240.5h0.75M244.4 234.0h0.75M212.4 259.9h0.75M226.6 250.9h0.75M226.4 253.0h0.75M224.5 241.5h0.75M241.1 236.7h0.75M232.6 250.7h0.75M235.2 255.0h0.75M228.8 243.2h0.75M223.7 243.7h0.75M224.3 236.0h0.75M240.3 225.7h0.75M222.8 247.5h0.75M227.0 245.9h0.75M219.3 236.5h0.75M212.0 253.9h0.75M229.5 238.6h0.75M223.4 240.5h0.75M211.7 252.0h0.75M227.2 246.8h0.75M222.7 237.1h0.75M224.0 251.3h0.75M227.8 230.9h0.75M224.5 248.1h0.75M211.9 246.4h0.75M238.1 244.8h0.75M230.1 248.1h0.75M235.0 249.7h0.75M212.7 248.6h0.75M211.5 244.7h0.75M213.7 242.4h0.75M224.8 243.1h0.75M231.8 249.8h0.75M239.1 238.7h0.75M239.9 237.6h0.75M221.1 235.9h0.75M232.2 249.7h0.75M242.4 235.7h0.75M224.4 240.0h0.75M219.4 223.5h0.75M219.7 242.0h0.75M225.6 243.2h0.75M233.7 253.5h0.75M223.9 248.7h0.75M228.9 240.7h0.75M230.5 256.9h0.75M234.6 252.3h0.75M231.5 242.9h0.75M243.1 233.8h0.75M222.1 261.6h0.75M223.5 239.0h0.75M233.1 241.5h0.75M222.6 243.1h0.75M227.0 232.8h0.75M232.8 242.8h0.75M235.9 246.3h0.75M234.5 255.9h0.75M229.8 248.8h0.75M231.7 250.8h0.75M220.0 248.4h0.75M220.0 234.2h0.75M217.1 246.3h0.75M223.5 251.2h0.75M215.4 248.6h0.75M244.0 247.0h0.75M230.1 253.3h0.75M220.5 247.7h0.75M241.1 247.9h0.75M227.9 249.4h0.75M237.9 250.2h0.75M224.9 243.5h0.75M233.4 245.4h0.75M226.9 241.0h0.75M213.9 256.6h0.75M242.1 240.7h0.75M243.4 247.6h0.75M218.8 252.9h0.75M234.0 239.6h0.75M220.9 240.0h0.75M226.6 241.6h0.75M237.5 238.3h0.75M226.3 230.6h0.75M230.6 235.1h0.75M233.2 225.2h0.75M234.7 237.9h0.75M228.2 251.9h0.75M221.1 253.0h0.75M230.6 236.8h0.75M211.2 248.3h0.75M216.2 236.8h0.75M224.9 245.7h0.75M231.0 255.9h0.75M233.8 233.8h0.75M228.6 241.1h0.75M223.3 242.4h0.75M226.4 231.9h0.75M230.3 251.6h0.75M238.1 240.0h0.75M231.5 223.1h0.75M219.5 237.5h0.75M233.3 251.7h0.75M229.3 231.7h0.75M214.9 255.0h0.75M213.9 245.5h0.75M222.5 251.4h0.75M213.0 249.0h0.75M223.7 240.2h0.75M222.8 235.6h0.75M237.1 253.9h0.75M240.9 257.6h0.75M233.8 239.1h0.75M237.2 240.5h0.75M237.6 239.0h0.75M226.2 244.3h0.75M226.7 242.8h0.75M234.0 232.6h0.75M233.8 245.2h0.75M228.4 228.8h0.75M219.6 241.8h0.75M230.6 247.5h0.75M215.5 239.7h0.75M235.7 252.3h0.75M228.1 239.4h0.75M225.3 247.2h0.75M246.1 238.8h0.75M217.8 252.2h0.75M233.0 238.9h0.75M217.3 246.8h0.75M231.6 244.4h0.75M226.1 251.9h0.75M222.7 238.2h0.75M231.0 246.6h0.75M227.5 253.6h0.75M222.2 253.4h0.75M218.6 243.7h0.75M232.2 248.4h0.75M239.4 246.0h0.75M234.1 231.1h0.75M206.7 244.0h0.75M226.0 236.9h0.75M224.3 246.4h0.75M234.2 250.4h0.75M235.4 248.0h0.75M235.5 242.4h0.75M226.0 237.5h0.75M231.0 247.7h0.75M236.4 234.0h0.75M223.2 236.2h0.75M217.3 233.8h0.75M239.3 242.0h0.75M211.3 241.5h0.75M228.1 255.9h0.75M248.1 246.9h0.75M226.0 244.9h0.75M211.6 249.7h0.75M228.4 235.2h0.75M230.6 232.5h0.75M224.4 250.2h0.75M224.6 256.8h0.75M222.6 239.7h0.75M227.4 239.5h0.75M219.9 243.6h0.75M227.7 255.2h0.75M235.5 245.6h0.75M225.6 235.7h0.75M215.7 251.4h0.75M221.1 251.1h0.75M215.3 235.7h0.75M246.7 223.9h0.75M244.1 222.3h0.75M248.4 217.8h0.75M242.3 222.1h0.75M248.7 212.2h0.75M245.3 215.6h0.75M245.4 221.2h0.75M245.5 224.7h0.75M242.1 220.1h0.75M253.8 214.1h0.75M239.3 217.8h0.75M248.0 225.8h0.75M240.5 217.3h0.75M251.4 221.5h0.75M245.8 222.4h0.75M247.8 217.5h0.75M249.2 220.4h0.75M248.7 211.3h0.75M247.8 217.4h0.75M248.7 220.4h0.75M248.6 223.4h0.75M244.6 226.8h0.75M245.4 217.9h0.75M245.7 222.6h0.75M243.3 219.6h0.75M244.2 216.3h0.75M253.5 216.3h0.75M239.7 219.9h0.75M255.4 220.3h0.75M244.2 216.5h0.75M250.0 234.0h0.75M246.9 220.1h0.75M246.0 223.5h0.75M249.7 218.9h0.75M255.4 234.2h0.75M246.3 209.1h0.75M246.7 218.5h0.75M244.2 221.2h0.75M257.1 226.2h0.75M252.8 220.0h0.75M252.5 215.3h0.75M247.1 228.1h0.75M237.4 223.5h0.75M249.3 218.9h0.75M238.0 219.0h0.75M243.8 219.0h0.75M251.7 221.0h0.75M244.0 211.7h0.75M243.5 220.9h0.75M236.2 217.2h0.75" stroke="#000" stroke-opacity="0.30" stroke-width="0.75" fill="none"/><path d="M225.9 225.5h0.75M232.4 223.5h0.75M217.6 228.2h0.75M233.1 236.9h0.75M231.5 223.4h0.75M225.7 218.2h0.75M241.0 223.7h0.75M222.1 224.2h0.75M235.2 228.7h0.75M228.6 217.6h0.75M241.6 221.6h0.75M223.6 222.2h0.75M236.8 228.7h0.75M237.0 229.4h0.75M242.0 224.8h0.75M246.6 229.2h0.75M216.5 224.3h0.75M230.4 224.3h0.75M220.7 212.2h0.75M240.5 219.2h0.75M244.2 218.0h0.75M228.2 226.0h0.75M233.4 224.1h0.75M243.7 218.2h0.75M233.0 223.9h0.75M229.8 223.0h0.75M215.3 225.6h0.75M224.2 220.9h0.75M240.7 220.0h0.75M217.0 229.8h0.75M233.9 222.3h0.75M233.2 228.8h0.75M231.0 219.1h0.75M238.7 222.5h0.75M223.9 222.0h0.75M244.4 218.7h0.75M226.9 227.2h0.75M240.9 216.8h0.75M225.5 224.8h0.75M233.6 212.8h0.75M227.9 227.1h0.75M247.3 223.8h0.75M221.1 229.3h0.75M225.0 233.7h0.75M245.1 220.1h0.75M238.9 223.6h0.75M230.7 217.1h0.75M228.6 221.2h0.75M218.7 223.9h0.75M228.5 223.7h0.75M234.5 227.5h0.75M242.7 226.0h0.75M240.1 228.5h0.75M245.1 220.1h0.75M234.8 224.3h0.75M224.2 218.3h0.75M227.7 222.7h0.75M245.9 209.8h0.75M232.1 223.0h0.75M244.7 223.8h0.75M215.8 221.2h0.75M226.4 221.5h0.75M223.4 214.9h0.75M233.6 220.2h0.75M223.5 220.5h0.75M218.3 224.6h0.75M230.3 225.8h0.75M225.4 222.8h0.75M235.2 225.3h0.75M220.0 219.0h0.75M230.6 228.6h0.75M222.6 233.7h0.75M227.7 225.4h0.75M233.4 221.1h0.75M235.6 224.6h0.75M235.3 229.3h0.75M223.8 229.8h0.75M245.9 216.7h0.75M234.3 225.1h0.75M224.8 219.8h0.75M244.1 221.3h0.75M227.3 224.8h0.75M250.1 226.1h0.75M239.3 222.1h0.75M230.1 219.2h0.75M226.5 222.5h0.75M223.0 218.3h0.75M223.5 232.2h0.75M228.5 215.7h0.75M244.3 226.4h0.75M232.9 224.0h0.75M230.4 223.5h0.75M235.3 218.2h0.75M228.1 221.0h0.75M219.0 221.8h0.75M216.7 220.7h0.75M245.1 222.2h0.75M228.5 224.0h0.75M246.9 221.2h0.75M249.8 225.6h0.75M234.0 227.1h0.75M238.8 220.7h0.75M227.7 227.1h0.75M230.0 223.7h0.75M232.1 220.6h0.75M231.2 225.7h0.75M246.0 229.0h0.75M230.3 221.8h0.75M240.1 214.3h0.75M232.5 227.3h0.75M237.4 228.4h0.75M249.3 217.8h0.75M216.1 222.7h0.75M242.7 225.7h0.75M225.2 211.6h0.75M233.3 227.3h0.75M227.9 227.0h0.75M226.6 227.4h0.75M218.0 230.8h0.75M252.3 228.1h0.75M239.8 234.7h0.75M229.0 212.1h0.75M213.0 221.5h0.75M237.9 226.8h0.75M246.9 219.7h0.75M235.6 214.2h0.75M214.4 224.9h0.75M226.2 224.1h0.75M233.9 219.7h0.75M230.6 224.5h0.75M242.3 227.9h0.75M221.7 228.3h0.75M225.0 225.4h0.75M242.5 221.7h0.75M237.6 211.9h0.75M227.0 217.9h0.75M213.4 224.1h0.75M239.9 226.0h0.75M217.2 223.1h0.75M218.6 223.2h0.75M212.0 213.4h0.75M217.0 216.8h0.75M221.8 217.5h0.75M220.3 220.3h0.75M242.1 220.2h0.75M238.2 234.1h0.75M231.9 228.2h0.75M225.4 218.1h0.75M230.7 219.8h0.75M217.9 220.4h0.75M235.1 220.2h0.75M221.7 220.6h0.75M226.0 213.0h0.75M234.4 229.0h0.75M222.3 226.6h0.75M217.2 226.4h0.75M241.3 223.7h0.75M213.8 225.5h0.75M218.2 221.3h0.75M219.3 213.3h0.75M223.8 223.8h0.75M229.6 223.3h0.75M226.0 211.9h0.75M245.1 228.8h0.75M243.0 218.0h0.75M239.9 222.1h0.75M230.2 219.6h0.75M233.2 231.6h0.75M225.4 215.7h0.75M214.2 228.4h0.75M234.6 210.4h0.75M241.8 227.7h0.75M234.0 220.6h0.75M230.7 211.8h0.75M239.7 223.4h0.75M234.2 222.7h0.75M242.3 215.0h0.75M226.7 224.9h0.75M212.9 222.9h0.75M235.9 225.5h0.75M239.9 216.1h0.75M223.2 219.3h0.75M233.4 218.2h0.75M238.3 223.7h0.75M255.7 218.0h0.75M238.9 230.0h0.75M229.0 220.4h0.75M219.3 228.6h0.75M215.0 227.3h0.75M227.7 213.9h0.75M238.1 224.1h0.75M224.3 226.5h0.75M227.7 229.0h0.75M237.6 225.1h0.75M221.5 225.3h0.75M230.2 219.9h0.75M228.9 219.5h0.75M235.8 239.3h0.75M239.7 228.8h0.75M229.2 216.4h0.75M245.2 224.6h0.75M226.1 225.4h0.75M227.1 214.1h0.75M231.8 221.7h0.75M228.4 226.0h0.75M238.9 231.5h0.75M202.0 231.3h0.75M213.0 221.3h0.75M208.9 221.5h0.75M245.3 220.8h0.75M239.3 224.3h0.75M223.9 227.5h0.75M234.9 217.9h0.75M213.0 222.2h0.75M227.9 220.2h0.75M246.0 219.2h0.75M237.6 220.6h0.75M252.7 232.4h0.75M226.0 231.9h0.75M242.7 230.5h0.75M232.1 214.8h0.75M234.3 224.7h0.75M233.6 235.3h0.75M238.9 225.3h0.75M244.5 219.6h0.75M231.7 226.2h0.75M234.9 221.9h0.75M230.0 221.1h0.75M234.0 224.5h0.75M222.9 225.6h0.75M241.3 222.3h0.75M238.3 223.1h0.75M234.4 218.0h0.75M231.0 222.9h0.75M224.4 226.8h0.75M221.5 223.6h0.75M219.8 222.3h0.75M223.1 215.9h0.75M240.5 228.9h0.75M235.5 217.3h0.75M216.6 226.6h0.75M221.3 221.3h0.75M244.8 227.2h0.75M248.2 228.4h0.75M239.8 221.6h0.75M252.7 207.8h0.75M224.2 212.8h0.75M235.7 218.2h0.75M224.8 218.5h0.75M253.9 224.7h0.75M235.7 233.2h0.75M235.7 226.5h0.75M235.2 222.5h0.75M224.4 230.0h0.75M230.9 222.2h0.75M208.2 227.5h0.75M226.9 225.1h0.75M221.3 213.4h0.75M239.5 228.1h0.75M245.1 232.1h0.75M234.3 221.5h0.75M221.1 227.1h0.75M220.4 225.8h0.75M239.1 221.9h0.75M228.9 221.3h0.75M229.0 228.3h0.75M220.7 220.0h0.75M234.1 220.5h0.75M233.7 227.5h0.75M239.8 227.9h0.75M222.2 231.1h0.75M231.4 220.3h0.75M217.3 216.5h0.75M234.0 228.7h0.75M231.8 215.5h0.75M228.0 221.2h0.75M240.9 222.1h0.75M218.8 231.9h0.75M247.6 223.4h0.75M235.9 217.1h0.75M237.6 223.1h0.75M234.6 230.0h0.75M224.6 214.1h0.75M226.1 216.6h0.75M241.5 228.4h0.75M231.6 223.9h0.75M235.0 218.1h0.75M228.3 222.2h0.75M240.4 223.6h0.75M238.5 217.5h0.75M218.7 220.4h0.75M251.7 230.6h0.75M242.4 224.9h0.75M240.3 228.9h0.75" stroke="#000" stroke-opacity="0.33" stroke-width="0.75" fill="none"/><path d="M219.9 237.6h0.75M232.9 265.5h0.75M244.6 247.3h0.75M226.5 271.8h0.75M214.4 259.0h0.75M213.5 267.4h0.75M232.1 242.7h0.75M224.9 254.5h0.75M227.7 244.6h0.75M225.1 266.6h0.75M238.7 254.5h0.75M227.9 265.8h0.75M215.5 258.5h0.75M206.0 245.4h0.75M225.0 254.8h0.75M198.8 236.6h0.75M225.7 265.6h0.75M215.7 281.9h0.75M207.3 256.8h0.75M212.7 259.4h0.75M226.8 276.6h0.75M220.0 244.6h0.75M229.8 230.0h0.75M220.7 265.0h0.75M199.5 274.2h0.75M245.2 266.0h0.75M221.2 251.0h0.75M240.5 263.3h0.75M234.5 229.7h0.75M211.9 268.3h0.75M216.6 251.7h0.75M215.0 253.3h0.75M220.0 270.5h0.75M234.3 262.1h0.75M231.4 243.7h0.75M206.3 265.5h0.75M226.3 254.7h0.75M221.1 242.1h0.75M200.8 236.5h0.75M210.3 280.6h0.75M206.8 246.3h0.75M212.2 260.9h0.75M230.6 243.9h0.75M216.3 258.8h0.75M233.1 232.7h0.75M226.3 283.5h0.75M233.6 258.1h0.75M228.6 278.8h0.75M236.2 237.7h0.75M234.8 240.3h0.75M230.6 280.8h0.75M220.8 246.3h0.75M223.8 261.7h0.75M210.2 281.0h0.75M216.0 274.4h0.75M227.3 261.3h0.75M225.9 253.3h0.75M225.8 268.5h0.75M215.3 251.0h0.75M227.9 258.0h0.75M213.4 250.0h0.75M222.2 280.4h0.75M231.1 262.8h0.75M223.0 251.4h0.75M232.1 239.3h0.75M236.9 243.5h0.75M208.1 249.1h0.75M227.1 227.0h0.75M223.7 274.7h0.75M211.9 270.3h0.75M204.3 260.4h0.75M194.9 256.6h0.75M230.5 233.1h0.75M205.0 249.2h0.75M221.6 260.7h0.75M222.8 254.1h0.75M249.8 248.6h0.75M210.5 250.4h0.75M223.9 267.5h0.75M211.7 249.3h0.75M220.6 237.5h0.75M217.4 260.7h0.75M223.5 236.5h0.75M240.0 265.0h0.75M219.0 261.2h0.75M217.5 248.8h0.75M256.9 246.1h0.75M211.6 258.0h0.75M227.5 239.4h0.75M223.0 250.8h0.75M214.7 253.0h0.75M226.7 261.7h0.75M237.9 255.0h0.75M213.3 244.3h0.75M219.0 251.7h0.75M222.1 248.6h0.75M201.3 262.7h0.75M203.6 260.4h0.75M209.8 270.0h0.75M209.7 258.7h0.75M222.0 263.4h0.75M225.5 268.2h0.75M226.3 253.2h0.75M216.2 272.7h0.75M210.3 257.3h0.75M221.4 244.7h0.75M236.7 239.5h0.75M226.3 261.4h0.75M228.6 243.2h0.75M235.7 244.3h0.75M210.7 270.7h0.75M211.6 249.7h0.75M215.7 274.1h0.75M213.8 261.7h0.75M207.9 244.7h0.75M218.9 279.7h0.75M228.0 254.2h0.75M226.2 264.7h0.75M214.4 259.6h0.75M238.2 260.1h0.75M218.9 272.1h0.75M214.7 255.2h0.75M212.3 266.6h0.75M230.9 268.4h0.75M212.1 273.0h0.75M213.8 271.2h0.75M226.6 280.1h0.75M221.7 281.6h0.75M216.6 270.7h0.75M232.3 279.3h0.75M207.0 250.9h0.75M243.3 218.3h0.75M210.9 264.1h0.75M239.3 260.1h0.75M215.3 271.3h0.75M226.6 268.5h0.75M225.6 261.4h0.75M223.5 259.7h0.75M231.5 261.4h0.75M237.5 271.0h0.75M229.8 245.8h0.75M216.6 242.7h0.75M215.5 265.6h0.75M218.6 261.8h0.75M231.8 254.6h0.75M225.7 265.8h0.75M242.9 239.8h0.75M219.9 270.5h0.75M234.1 241.4h0.75M204.5 265.6h0.75M206.4 265.7h0.75M226.0 256.7h0.75M227.0 245.8h0.75M213.8 270.3h0.75M232.5 249.8h0.75M214.0 264.5h0.75M226.5 271.5h0.75M227.9 268.7h0.75M224.1 233.4h0.75M233.8 263.9h0.75M219.7 253.7h0.75M218.9 255.6h0.75M211.0 249.2h0.75M235.6 240.4h0.75M225.1 276.8h0.75M201.6 260.4h0.75M217.7 273.3h0.75M221.0 270.7h0.75M231.4 254.3h0.75M220.5 272.9h0.75M233.8 245.5h0.75M216.5 256.6h0.75M221.9 275.7h0.75M218.8 269.5h0.75M217.7 281.1h0.75M212.7 279.5h0.75M226.6 243.4h0.75M226.5 248.0h0.75M218.8 275.1h0.75M226.6 270.6h0.75M214.9 229.1h0.75M203.6 262.0h0.75M207.3 248.1h0.75M219.4 250.3h0.75M212.9 258.5h0.75M220.9 262.9h0.75M215.2 262.2h0.75M233.4 265.0h0.75M214.3 255.2h0.75M214.3 252.9h0.75M225.2 254.6h0.75M193.8 277.1h0.75M222.7 259.3h0.75M219.5 249.6h0.75M208.3 259.9h0.75M222.1 263.4h0.75M245.6 258.6h0.75M234.7 268.7h0.75M219.7 251.3h0.75M201.1 251.9h0.75M201.2 251.6h0.75M204.0 249.2h0.75M232.6 257.2h0.75M218.1 260.2h0.75M199.9 264.2h0.75M213.3 257.5h0.75M216.7 255.3h0.75M222.9 241.1h0.75M224.5 282.9h0.75M201.7 251.3h0.75M209.7 268.4h0.75M224.4 257.5h0.75M220.6 269.1h0.75M228.9 248.5h0.75M203.9 261.5h0.75M206.9 270.5h0.75M219.3 277.3h0.75M228.3 266.8h0.75M218.6 256.2h0.75M203.7 251.5h0.75M230.7 259.7h0.75M225.0 276.5h0.75M214.7 246.2h0.75M228.0 265.9h0.75M207.2 244.6h0.75M213.2 245.2h0.75M218.8 265.1h0.75M216.7 236.6h0.75M233.0 253.5h0.75M230.2 272.3h0.75M233.7 237.6h0.75M237.0 241.1h0.75M227.7 274.4h0.75M236.8 261.3h0.75M217.7 242.3h0.75M245.1 262.7h0.75M231.1 266.1h0.75M229.0 248.2h0.75M233.2 255.0h0.75M220.2 267.0h0.75M224.0 258.6h0.75M219.3 241.0h0.75M212.2 265.7h0.75M213.0 265.9h0.75M224.3 276.0h0.75M235.7 243.7h0.75M229.2 253.3h0.75M225.8 248.4h0.75M229.4 271.0h0.75M198.3 247.2h0.75M221.3 239.5h0.75M227.3 268.2h0.75M225.6 242.5h0.75M226.4 263.3h0.75M234.9 268.3h0.75M232.0 256.9h0.75M213.6 241.1h0.75M231.5 236.2h0.75M207.7 258.0h0.75M237.3 240.8h0.75M224.6 274.7h0.75M212.3 269.3h0.75M225.1 247.9h0.75M249.0 251.0h0.75M213.2 275.5h0.75M220.5 264.9h0.75M224.0 265.9h0.75M227.6 262.4h0.75M222.7 255.7h0.75M217.6 266.3h0.75M218.0 275.2h0.75M227.1 261.0h0.75M221.8 250.1h0.75M218.0 259.7h0.75M229.1 255.0h0.75M213.4 249.9h0.75M230.4 236.1h0.75M235.9 246.2h0.75M214.0 260.7h0.75M221.6 249.8h0.75M236.6 271.4h0.75M216.5 276.4h0.75M249.2 235.6h0.75M211.5 258.8h0.75M237.2 244.9h0.75M210.3 248.4h0.75M221.6 257.0h0.75M223.1 271.3h0.75M222.8 254.5h0.75M237.9 255.4h0.75M199.0 260.0h0.75M223.6 272.1h0.75M226.8 255.7h0.75M239.7 255.6h0.75M239.9 250.7h0.75M220.0 243.2h0.75M223.7 261.1h0.75M202.9 239.6h0.75M225.5 250.5h0.75M237.4 239.3h0.75M224.3 271.7h0.75M226.9 236.2h0.75M207.8 258.0h0.75M231.2 256.6h0.75M216.9 259.2h0.75M231.0 264.0h0.75M244.6 248.4h0.75M213.8 267.1h0.75M225.5 248.2h0.75M212.5 259.2h0.75M202.4 249.5h0.75M215.7 268.7h0.75M229.0 260.9h0.75M218.9 262.8h0.75M245.2 256.4h0.75M222.4 246.2h0.75M214.0 262.5h0.75M232.3 234.3h0.75M211.6 261.4h0.75M217.1 257.5h0.75M221.8 264.2h0.75M224.3 256.3h0.75M204.9 265.7h0.75M227.5 258.9h0.75M217.1 249.2h0.75M232.8 248.7h0.75M215.2 271.2h0.75M210.3 238.0h0.75M225.8 229.6h0.75M235.5 254.5h0.75M220.3 247.5h0.75M227.0 240.2h0.75M236.2 235.7h0.75M235.3 247.0h0.75M222.2 251.5h0.75M242.5 257.8h0.75M238.1 218.2h0.75M211.6 266.2h0.75M216.5 263.7h0.75M230.8 246.3h0.75M236.2 263.9h0.75M219.7 254.9h0.75M222.2 254.2h0.75M220.0 274.8h0.75M222.8 254.0h0.75M230.7 260.9h0.75M232.7 257.4h0.75M217.2 220.5h0.75M238.8 239.9h0.75M218.8 277.6h0.75M213.3 254.0h0.75M229.5 259.6h0.75M217.1 280.1h0.75M207.0 264.1h0.75M233.5 243.4h0.75M215.2 252.0h0.75M218.2 240.1h0.75M207.1 252.0h0.75M226.7 245.2h0.75M207.6 260.8h0.75M198.3 255.3h0.75M216.6 273.2h0.75M224.4 268.3h0.75M213.2 278.2h0.75M210.0 261.2h0.75M207.6 249.3h0.75M214.0 252.5h0.75M211.6 247.3h0.75M214.6 262.6h0.75M217.2 258.3h0.75M252.2 257.7h0.75M200.7 250.4h0.75M215.8 256.0h0.75M222.2 279.2h0.75M241.4 252.5h0.75M205.5 265.5h0.75M220.3 277.7h0.75M201.7 231.8h0.75M209.7 274.2h0.75M236.2 251.3h0.75M226.7 264.6h0.75M203.3 260.2h0.75M210.9 231.0h0.75M229.3 250.9h0.75M230.2 256.2h0.75M219.5 259.5h0.75M215.7 261.3h0.75M229.2 282.7h0.75M226.7 274.4h0.75M210.7 249.0h0.75M226.3 279.7h0.75M232.6 255.5h0.75M234.9 263.6h0.75M229.0 255.0h0.75M205.9 247.0h0.75M221.5 250.3h0.75M201.2 241.7h0.75M214.0 241.5h0.75M217.2 251.0h0.75M235.0 262.2h0.75M214.3 271.7h0.75M209.9 283.1h0.75M228.0 262.9h0.75M219.6 242.4h0.75M224.1 277.6h0.75M211.0 281.3h0.75M207.8 261.6h0.75M218.2 251.9h0.75M224.9 247.3h0.75M224.0 267.0h0.75M225.2 282.5h0.75M217.5 258.8h0.75M223.8 249.6h0.75M237.1 270.0h0.75M258.0 263.7h0.75M233.8 275.8h0.75M229.1 249.4h0.75M229.7 236.5h0.75M219.7 276.2h0.75M217.1 272.5h0.75M218.3 247.0h0.75M256.7 226.6h0.75M248.1 266.7h0.75M212.7 255.4h0.75M223.2 238.5h0.75M215.2 258.4h0.75M221.2 276.3h0.75M217.5 234.5h0.75M213.8 280.1h0.75M233.9 253.0h0.75M208.1 249.7h0.75M231.2 244.8h0.75M215.4 274.8h0.75M223.6 273.9h0.75M221.7 266.1h0.75M229.7 268.8h0.75M232.4 269.3h0.75M239.9 255.7h0.75M213.2 256.7h0.75M222.7 267.6h0.75M216.0 248.3h0.75M227.5 244.4h0.75M235.6 250.2h0.75M209.5 248.3h0.75M243.9 279.5h0.75M228.7 272.4h0.75M216.0 255.7h0.75M219.9 259.5h0.75M231.8 237.6h0.75M211.1 250.3h0.75M225.1 249.2h0.75M216.1 234.3h0.75M232.8 277.7h0.75M218.4 262.3h0.75M218.1 256.0h0.75M227.1 282.8h0.75M230.2 250.2h0.75M233.4 251.3h0.75M219.2 250.0h0.75M236.2 256.8h0.75M209.5 272.1h0.75M237.5 249.7h0.75M222.3 271.0h0.75M231.1 263.4h0.75M223.8 254.1h0.75M205.7 262.7h0.75M234.1 269.9h0.75M206.9 233.9h0.75M231.9 248.8h0.75M227.1 266.4h0.75M220.1 240.9h0.75M226.3 265.7h0.75M227.8 252.8h0.75M223.5 251.5h0.75M216.8 273.3h0.75M214.2 280.2h0.75M237.1 248.9h0.75M213.8 260.8h0.75M242.9 223.9h0.75M229.3 275.9h0.75M216.6 246.8h0.75M223.9 255.9h0.75M234.2 271.2h0.75M238.9 255.7h0.75M214.5 257.0h0.75M217.2 277.8h0.75M222.0 259.1h0.75M217.0 280.0h0.75M210.0 243.3h0.75M220.8 262.5h0.75M230.3 258.5h0.75M227.4 233.6h0.75M207.3 248.7h0.75M212.2 246.8h0.75M193.7 264.6h0.75M244.0 258.5h0.75M208.9 238.0h0.75M200.7 266.2h0.75M228.8 252.9h0.75M223.6 255.7h0.75M228.9 268.0h0.75M233.9 265.7h0.75M243.2 230.7h0.75M215.3 267.6h0.75M213.0 260.8h0.75M219.8 257.3h0.75M228.4 267.1h0.75M231.6 254.6h0.75M211.8 238.5h0.75M226.5 232.9h0.75M210.1 263.1h0.75M215.7 245.3h0.75M219.6 276.6h0.75M230.8 265.4h0.75M235.0 274.8h0.75M217.2 254.2h0.75M216.5 264.8h0.75M226.9 251.0h0.75M213.8 271.5h0.75M230.7 224.1h0.75M234.2 253.8h0.75M196.9 256.6h0.75M201.3 251.6h0.75M223.3 269.1h0.75M201.4 262.7h0.75M220.3 235.1h0.75M228.0 246.9h0.75M227.4 253.7h0.75M217.2 257.2h0.75M245.3 260.3h0.75M204.3 261.4h0.75M229.0 227.4h0.75M226.9 261.7h0.75M236.9 234.3h0.75M221.6 268.1h0.75M228.2 240.4h0.75M229.1 266.2h0.75M236.7 239.8h0.75M232.1 269.2h0.75M200.0 265.9h0.75M215.2 274.9h0.75M214.0 266.5h0.75M229.2 253.9h0.75M214.7 249.5h0.75M229.5 262.4h0.75M216.1 238.4h0.75M241.6 243.1h0.75M218.6 275.6h0.75M211.3 236.5h0.75M242.0 231.6h0.75M197.8 256.8h0.75M222.0 270.0h0.75M208.7 245.4h0.75M222.0 256.1h0.75M214.3 265.0h0.75M204.9 251.4h0.75M215.3 228.4h0.75M232.6 250.3h0.75M210.3 267.3h0.75M212.2 273.6h0.75M248.6 272.3h0.75M216.7 270.6h0.75M231.5 280.1h0.75M229.7 252.0h0.75M219.7 263.6h0.75M223.3 267.4h0.75M215.4 252.5h0.75M225.7 237.1h0.75M239.1 264.6h0.75M224.4 249.5h0.75M210.7 252.1h0.75M237.5 242.2h0.75M203.8 270.8h0.75M213.4 274.5h0.75M228.1 272.4h0.75M248.6 240.3h0.75M250.1 249.5h0.75M224.1 280.3h0.75M224.0 269.1h0.75M230.5 255.4h0.75M224.5 260.3h0.75M227.5 247.8h0.75M239.2 278.5h0.75M241.9 260.8h0.75M229.5 242.7h0.75M219.4 266.3h0.75M239.6 262.7h0.75M227.0 282.9h0.75M221.0 246.5h0.75M218.1 263.7h0.75M231.3 263.0h0.75M229.3 252.7h0.75M220.9 262.8h0.75M223.2 278.2h0.75M215.9 240.6h0.75M236.4 243.9h0.75M208.9 261.6h0.75M223.8 254.2h0.75M246.5 266.9h0.75M225.4 253.2h0.75M228.2 278.8h0.75M228.2 257.6h0.75M224.5 255.0h0.75M231.2 266.8h0.75M227.8 240.9h0.75M219.5 261.5h0.75M238.5 253.2h0.75M234.3 248.2h0.75M233.9 260.8h0.75M217.0 260.4h0.75M243.6 259.6h0.75M211.8 246.3h0.75M213.5 244.3h0.75M220.4 273.9h0.75M222.6 252.2h0.75M236.0 240.4h0.75M220.4 263.8h0.75M221.7 257.3h0.75M210.2 257.2h0.75M231.7 250.2h0.75M226.1 234.6h0.75M244.1 263.8h0.75M235.5 271.5h0.75M216.2 251.8h0.75M238.3 249.8h0.75M214.5 249.1h0.75M226.1 250.6h0.75M220.8 238.4h0.75M218.4 254.8h0.75M210.1 240.1h0.75M231.8 240.0h0.75M216.5 246.9h0.75M209.1 263.0h0.75M209.2 239.1h0.75M237.9 233.8h0.75M238.1 274.5h0.75M222.2 252.0h0.75M224.0 253.5h0.75M218.0 242.2h0.75M214.7 262.6h0.75M214.0 255.4h0.75M222.0 226.0h0.75M218.9 246.0h0.75M212.7 265.0h0.75M231.1 251.4h0.75M219.5 257.2h0.75M236.4 241.5h0.75M231.8 263.6h0.75M225.5 244.8h0.75M214.8 268.4h0.75M226.5 254.1h0.75M232.0 264.8h0.75M221.2 264.4h0.75M251.0 271.1h0.75M222.2 274.2h0.75M226.3 232.4h0.75M207.7 262.5h0.75M222.5 252.4h0.75M223.6 261.5h0.75M235.1 252.4h0.75M194.5 238.1h0.75M235.8 260.7h0.75M245.0 252.9h0.75M237.4 263.0h0.75M216.0 267.5h0.75M238.0 244.4h0.75M242.2 253.1h0.75M211.0 257.3h0.75M216.6 283.8h0.75M221.5 271.6h0.75M236.1 232.1h0.75M248.0 254.1h0.75M224.4 240.1h0.75M211.5 276.8h0.75M211.6 263.7h0.75M224.7 284.4h0.75M206.9 249.0h0.75M228.4 255.2h0.75M227.4 266.6h0.75M206.4 260.3h0.75M239.1 258.4h0.75M206.9 243.3h0.75M232.6 263.6h0.75M210.7 259.4h0.75M216.9 257.6h0.75M206.7 284.4h0.75M210.6 264.7h0.75M225.1 259.1h0.75M252.8 247.3h0.75M225.3 254.8h0.75M220.1 266.9h0.75M214.8 256.3h0.75M215.6 257.6h0.75M227.6 263.6h0.75M219.0 253.4h0.75M234.0 248.8h0.75M237.7 257.1h0.75M228.1 283.0h0.75M211.8 239.4h0.75M213.6 272.2h0.75M213.5 248.3h0.75M228.4 261.8h0.75M236.5 239.3h0.75M220.8 260.7h0.75M215.9 257.8h0.75M210.4 257.7h0.75M211.9 239.2h0.75M233.1 260.8h0.75M217.8 261.8h0.75M228.1 249.0h0.75M240.2 234.2h0.75M241.2 243.0h0.75M250.7 250.6h0.75M216.0 265.3h0.75M227.2 264.2h0.75M207.3 248.4h0.75M227.6 233.5h0.75M205.1 274.4h0.75M235.6 260.6h0.75M213.6 275.8h0.75M223.2 258.1h0.75M228.5 249.2h0.75M223.4 251.5h0.75M213.2 269.2h0.75M210.7 264.1h0.75M223.4 244.5h0.75M217.1 257.8h0.75M220.8 256.9h0.75M210.8 237.1h0.75M223.2 255.9h0.75M234.9 245.5h0.75M224.2 230.4h0.75M217.9 245.5h0.75M223.8 273.1h0.75M222.0 243.0h0.75M240.0 238.0h0.75M210.6 263.8h0.75M205.0 262.0h0.75M206.7 253.3h0.75M212.8 261.2h0.75M225.4 283.8h0.75M217.2 267.5h0.75M216.5 248.9h0.75M231.9 274.2h0.75M230.8 261.6h0.75M224.6 237.7h0.75M234.0 215.5h0.75M226.3 247.1h0.75M221.3 275.8h0.75M215.7 239.0h0.75M232.5 265.6h0.75M220.5 252.9h0.75M236.6 251.6h0.75M226.0 248.7h0.75M216.6 278.8h0.75M219.3 277.4h0.75M235.8 263.0h0.75M220.1 246.5h0.75M255.1 242.8h0.75M214.1 244.8h0.75M221.9 265.7h0.75M224.5 269.3h0.75M216.7 268.6h0.75M220.5 280.8h0.75M217.2 266.2h0.75M231.8 263.6h0.75M216.1 269.3h0.75M211.4 253.3h0.75M221.1 263.9h0.75M221.8 263.4h0.75M209.2 259.6h0.75M236.3 263.0h0.75M216.8 256.3h0.75M224.7 256.7h0.75M216.4 254.6h0.75M215.4 266.2h0.75M225.2 258.6h0.75M212.7 266.1h0.75M228.2 261.2h0.75M218.1 272.3h0.75M238.2 257.4h0.75M214.9 249.7h0.75M211.7 278.4h0.75M219.0 269.8h0.75M229.6 252.1h0.75M205.0 243.0h0.75M212.7 252.0h0.75M216.5 275.8h0.75M222.1 271.3h0.75M223.2 257.7h0.75M225.6 256.8h0.75M233.1 266.4h0.75M212.3 268.2h0.75M212.9 258.3h0.75M232.2 274.0h0.75M219.0 277.7h0.75M212.1 272.7h0.75M222.6 252.1h0.75M219.8 245.4h0.75M240.2 255.2h0.75M202.2 261.6h0.75M214.8 268.4h0.75M229.5 259.9h0.75M215.6 264.1h0.75M214.6 260.8h0.75M223.5 266.0h0.75M229.0 242.4h0.75M217.9 281.8h0.75M199.9 273.7h0.75M240.6 257.0h0.75M211.7 272.5h0.75M228.9 245.7h0.75M219.7 252.8h0.75M229.7 258.3h0.75M214.5 262.0h0.75M213.5 278.9h0.75M224.8 281.6h0.75M234.2 265.2h0.75M206.7 252.9h0.75M225.5 282.3h0.75M218.2 272.4h0.75M222.2 261.1h0.75M227.5 255.7h0.75M222.6 245.0h0.75M224.4 267.6h0.75M241.7 247.1h0.75M221.5 247.5h0.75M232.3 240.9h0.75M222.9 275.2h0.75M236.0 258.2h0.75M232.7 247.8h0.75M211.3 283.6h0.75M232.9 250.7h0.75M221.5 252.7h0.75M231.5 249.9h0.75M220.3 256.1h0.75M226.8 243.4h0.75M196.5 252.3h0.75M201.0 256.6h0.75M230.4 252.6h0.75M233.9 254.6h0.75M216.0 279.1h0.75M231.3 245.1h0.75M227.3 243.2h0.75M234.4 249.8h0.75M212.5 266.7h0.75M230.7 243.8h0.75M239.4 261.3h0.75M215.3 240.5h0.75M215.6 257.1h0.75M216.2 263.8h0.75M198.5 258.2h0.75M206.0 261.0h0.75M238.0 254.1h0.75M220.8 272.2h0.75M215.8 266.7h0.75M236.2 262.6h0.75M210.4 257.6h0.75M216.1 267.6h0.75M213.2 260.9h0.75M243.4 245.3h0.75M231.3 254.1h0.75M216.1 273.3h0.75M212.4 272.9h0.75M201.2 255.6h0.75M203.6 245.5h0.75M215.8 269.4h0.75M233.6 259.3h0.75M224.7 256.0h0.75M215.4 236.2h0.75M220.7 259.7h0.75M229.8 260.2h0.75M231.6 258.0h0.75M233.4 264.8h0.75M213.4 256.1h0.75M221.9 255.1h0.75M229.5 262.5h0.75M212.4 252.9h0.75M229.9 238.1h0.75M228.8 246.7h0.75M227.9 247.8h0.75M225.0 272.3h0.75M221.8 268.0h0.75M224.9 243.9h0.75M236.2 251.0h0.75M220.9 281.9h0.75M241.5 235.6h0.75M233.7 245.9h0.75M221.5 268.8h0.75M229.3 271.9h0.75M201.7 282.4h0.75M220.3 259.8h0.75M220.6 239.2h0.75M223.7 250.7h0.75M211.7 258.4h0.75M228.4 229.4h0.75M206.7 241.8h0.75M223.3 253.8h0.75M228.6 268.7h0.75M197.3 235.9h0.75M252.2 233.5h0.75M224.1 253.6h0.75M225.6 258.4h0.75M232.7 234.1h0.75M229.1 244.1h0.75M230.8 273.6h0.75M225.3 256.0h0.75M213.9 280.0h0.75M223.3 250.0h0.75M213.1 269.5h0.75M208.7 261.2h0.75M215.9 265.9h0.75M208.6 264.2h0.75M244.1 244.3h0.75M229.7 239.6h0.75M225.9 267.0h0.75M233.9 265.2h0.75M242.9 243.8h0.75M212.6 259.3h0.75M233.5 274.1h0.75M197.2 259.8h0.75M245.8 247.6h0.75M198.6 243.7h0.75M212.7 254.4h0.75M217.3 264.3h0.75M208.2 236.0h0.75M201.4 261.0h0.75M219.6 267.3h0.75M219.0 276.7h0.75M228.1 272.1h0.75M230.1 272.9h0.75M212.4 279.8h0.75M216.1 266.9h0.75M216.2 259.0h0.75M236.5 258.7h0.75M224.9 266.4h0.75M214.4 278.2h0.75M229.2 268.9h0.75M206.2 243.6h0.75M229.0 264.3h0.75M215.9 255.9h0.75M199.3 246.9h0.75M236.0 257.3h0.75M220.8 269.3h0.75M216.8 250.7h0.75M217.4 257.0h0.75M228.3 281.6h0.75M222.0 264.9h0.75M219.6 270.5h0.75M206.4 250.8h0.75M214.9 280.3h0.75M210.4 255.8h0.75M242.3 230.5h0.75M233.2 250.2h0.75M216.1 236.3h0.75M224.0 261.2h0.75M224.1 234.8h0.75M235.2 261.9h0.75M224.9 260.8h0.75M229.3 246.3h0.75M239.4 246.7h0.75M230.1 249.9h0.75M235.0 264.6h0.75M209.8 257.2h0.75M238.1 272.5h0.75M219.0 252.0h0.75M211.1 268.5h0.75M219.7 246.0h0.75M211.1 270.3h0.75M248.7 253.2h0.75M220.2 264.9h0.75M204.2 265.5h0.75M217.4 262.5h0.75M216.5 272.7h0.75M229.0 266.6h0.75M219.2 267.0h0.75M249.1 274.7h0.75M222.5 254.2h0.75M219.2 265.3h0.75M218.5 238.0h0.75M215.0 260.0h0.75M234.8 275.9h0.75M232.3 266.4h0.75M226.6 267.5h0.75M226.3 239.6h0.75M217.7 258.0h0.75M210.6 269.4h0.75M239.9 228.8h0.75M217.9 257.4h0.75M214.7 258.9h0.75M228.3 249.2h0.75M216.4 267.2h0.75M215.7 260.6h0.75M235.8 253.9h0.75M222.1 280.4h0.75M212.4 262.5h0.75M248.0 259.6h0.75M237.6 239.2h0.75M231.9 267.5h0.75M237.9 271.3h0.75M215.5 238.3h0.75M214.9 281.2h0.75M224.5 273.6h0.75M226.5 276.4h0.75M203.8 256.8h0.75M218.6 243.1h0.75M231.2 254.5h0.75M211.0 232.8h0.75M218.1 260.7h0.75M234.2 245.0h0.75M223.1 275.7h0.75M213.7 277.6h0.75M215.7 250.9h0.75M212.0 254.4h0.75M229.5 254.0h0.75M226.4 263.1h0.75M233.6 246.1h0.75M227.4 251.8h0.75M223.9 257.2h0.75M205.1 257.0h0.75M225.9 250.7h0.75M223.3 272.3h0.75M217.4 241.5h0.75M233.4 247.6h0.75M234.5 251.6h0.75M223.6 253.8h0.75M221.4 253.7h0.75M216.0 242.1h0.75M201.4 258.5h0.75M203.6 251.0h0.75M237.8 245.9h0.75M216.6 267.3h0.75M230.4 250.1h0.75M207.1 249.2h0.75M216.1 224.2h0.75M206.7 245.9h0.75M229.6 269.4h0.75M210.3 249.2h0.75M231.3 244.2h0.75M227.5 252.2h0.75M209.7 257.9h0.75M230.3 264.5h0.75M226.9 265.1h0.75M239.3 247.7h0.75M231.0 249.7h0.75M211.9 278.2h0.75M216.6 264.1h0.75M239.1 265.5h0.75M216.2 273.3h0.75M222.4 269.3h0.75M229.1 244.2h0.75M220.3 246.7h0.75M220.6 253.6h0.75M214.8 253.4h0.75M227.4 266.8h0.75M244.2 263.4h0.75M228.2 253.9h0.75M238.5 227.6h0.75M216.2 252.9h0.75M202.0 261.1h0.75M223.3 269.4h0.75M231.9 253.7h0.75M228.0 230.8h0.75M226.5 252.5h0.75M217.2 248.3h0.75M236.6 264.1h0.75M219.1 266.1h0.75M226.0 261.2h0.75M228.5 284.5h0.75M205.8 238.1h0.75M228.7 256.0h0.75M225.2 258.9h0.75M212.3 269.1h0.75M219.6 263.2h0.75M228.9 273.8h0.75M217.4 252.3h0.75M213.2 259.9h0.75M240.3 264.6h0.75M237.9 253.5h0.75M235.4 246.3h0.75M221.6 277.2h0.75M219.9 264.5h0.75" stroke="#000" stroke-opacity="0.38" stroke-width="0.75" fill="none"/><path d="M204.1 268.4h0.75M216.3 279.4h0.75M218.4 277.6h0.75M205.5 271.2h0.75M210.1 273.3h0.75M210.5 269.9h0.75M215.8 271.9h0.75M218.4 277.7h0.75M215.6 269.3h0.75M212.2 272.9h0.75M211.0 274.2h0.75M211.2 268.2h0.75M217.2 271.6h0.75M204.2 273.1h0.75M219.2 269.8h0.75M211.0 269.7h0.75M211.7 271.7h0.75M211.7 261.8h0.75M215.0 262.7h0.75M213.0 269.9h0.75M214.8 263.6h0.75M212.4 272.0h0.75M200.2 264.4h0.75M217.0 271.9h0.75M210.8 280.4h0.75M214.0 270.3h0.75M213.5 264.0h0.75M221.1 272.6h0.75M211.8 267.7h0.75M213.9 279.9h0.75M218.3 264.6h0.75M214.1 265.5h0.75M210.4 272.7h0.75M212.7 275.1h0.75M211.4 271.2h0.75M206.9 274.2h0.75M213.4 270.9h0.75M214.7 272.4h0.75M213.1 271.3h0.75M213.4 274.8h0.75M211.5 274.9h0.75M207.9 281.5h0.75M204.3 280.2h0.75M224.6 267.8h0.75M210.6 276.6h0.75M213.4 276.9h0.75M216.4 264.8h0.75M214.5 272.4h0.75M221.7 273.0h0.75M210.2 265.1h0.75M212.1 267.5h0.75M215.4 269.2h0.75M216.3 272.7h0.75M219.4 283.9h0.75M204.2 272.7h0.75M212.0 272.0h0.75M207.6 266.5h0.75M211.5 281.8h0.75M210.0 273.9h0.75M210.1 282.0h0.75M209.6 262.9h0.75M211.0 274.3h0.75M209.9 276.3h0.75M209.5 267.9h0.75M207.9 275.8h0.75M214.8 274.6h0.75M209.2 270.1h0.75M209.5 279.1h0.75M218.1 269.3h0.75M212.7 277.1h0.75M213.0 265.0h0.75M212.6 269.7h0.75M210.8 273.5h0.75M211.2 275.2h0.75M222.1 270.6h0.75M209.1 276.6h0.75M211.4 274.8h0.75M209.9 279.9h0.75M212.5 273.6h0.75M212.2 269.9h0.75M209.8 269.1h0.75M214.5 265.9h0.75M222.2 267.5h0.75M209.8 266.5h0.75M213.0 276.9h0.75M212.8 273.7h0.75M218.2 274.9h0.75M210.6 266.7h0.75M203.7 276.3h0.75M213.7 263.6h0.75M213.4 271.6h0.75M208.0 277.9h0.75M222.3 279.2h0.75M211.9 271.4h0.75M216.2 268.7h0.75M211.6 272.2h0.75M210.3 272.4h0.75M212.6 272.1h0.75M213.7 269.3h0.75M214.5 274.9h0.75M213.3 274.0h0.75M210.5 267.9h0.75M214.8 269.6h0.75M209.9 272.6h0.75M212.1 270.7h0.75M211.9 271.9h0.75M210.6 270.1h0.75M214.0 270.1h0.75M222.3 270.5h0.75M209.6 268.3h0.75M209.7 279.2h0.75M212.1 270.6h0.75M210.4 278.3h0.75M218.2 279.9h0.75M212.4 274.4h0.75M211.1 271.4h0.75M219.1 265.3h0.75M211.0 273.7h0.75M213.6 264.3h0.75M209.8 278.1h0.75M208.8 257.1h0.75M216.9 273.1h0.75M222.5 270.2h0.75M219.3 277.7h0.75M213.5 262.1h0.75M200.9 282.9h0.75M215.3 266.8h0.75M216.0 275.7h0.75M209.9 276.7h0.75M215.9 269.1h0.75M213.3 275.2h0.75M217.4 264.7h0.75M212.0 273.6h0.75M218.6 267.4h0.75M210.0 266.7h0.75M210.2 277.6h0.75M204.9 265.0h0.75M215.4 278.3h0.75M204.6 277.7h0.75M200.4 275.0h0.75M217.0 269.7h0.75M220.0 262.7h0.75M211.6 280.9h0.75M208.5 281.9h0.75M210.1 280.6h0.75M212.7 268.6h0.75M212.1 280.7h0.75M210.2 273.7h0.75M209.9 277.5h0.75M212.1 274.2h0.75M219.4 269.4h0.75M214.5 276.6h0.75M213.1 270.3h0.75M211.9 267.7h0.75M213.6 267.7h0.75M209.8 281.8h0.75M214.6 274.6h0.75M211.9 272.7h0.75M212.2 277.9h0.75M224.3 267.0h0.75M219.4 260.1h0.75M216.9 281.8h0.75M204.2 264.3h0.75M213.5 266.7h0.75M216.5 273.2h0.75M212.3 277.9h0.75M216.6 269.3h0.75M213.2 262.8h0.75M217.4 269.6h0.75M210.3 268.1h0.75M214.0 274.4h0.75M214.1 273.0h0.75M209.6 276.3h0.75" stroke="#000" stroke-opacity="0.40" stroke-width="0.75" fill="none"/><path d="M198.4 241.2h0.75M211.9 248.0h0.75M220.9 262.4h0.75M224.0 238.3h0.75M215.3 281.0h0.75M195.6 257.2h0.75M228.7 284.5h0.75M218.6 270.9h0.75M242.2 248.2h0.75M210.5 245.5h0.75M227.7 276.2h0.75M195.2 264.1h0.75M228.0 240.1h0.75M196.4 248.8h0.75M224.3 241.6h0.75M225.4 265.0h0.75M229.4 279.9h0.75M218.5 253.8h0.75M217.7 236.7h0.75M199.1 282.3h0.75M234.1 237.1h0.75M241.8 249.4h0.75M210.1 254.5h0.75M220.4 284.6h0.75M207.5 237.0h0.75M233.4 266.5h0.75M235.6 255.4h0.75M224.5 255.7h0.75M237.3 268.6h0.75M193.2 250.9h0.75M239.3 250.3h0.75M194.1 251.6h0.75M269.9 241.7h0.75M254.9 279.2h0.75M244.0 245.0h0.75M261.3 282.0h0.75M258.1 264.0h0.75M269.1 258.9h0.75M265.0 240.5h0.75M249.5 239.9h0.75M270.4 241.4h0.75M260.6 257.8h0.75M252.7 251.1h0.75M252.8 281.7h0.75M261.6 243.5h0.75M258.1 279.6h0.75M193.1 229.0h0.75M218.8 225.5h0.75M240.7 213.3h0.75M232.8 221.6h0.75M227.7 206.0h0.75M217.3 207.8h0.75M232.5 211.1h0.75M229.5 227.9h0.75M229.6 211.5h0.75M234.3 219.4h0.75M227.4 216.1h0.75M205.0 209.3h0.75M212.9 219.7h0.75M203.8 235.3h0.75M212.0 219.1h0.75M213.7 230.8h0.75M234.0 230.1h0.75M231.1 207.4h0.75M258.0 230.8h0.75M266.4 205.8h0.75M272.7 225.3h0.75M247.5 212.3h0.75M247.8 226.3h0.75" stroke="#000" stroke-opacity="0.45" stroke-width="0.75" fill="none"/><path d="M225.0 265.9h0.75M209.8 268.7h0.75M217.5 261.5h0.75M223.0 259.6h0.75M229.9 261.6h0.75M209.5 283.4h0.75M224.9 256.8h0.75M210.4 281.9h0.75M231.1 266.5h0.75M220.7 272.3h0.75M215.8 263.3h0.75M223.4 264.3h0.75M224.2 267.9h0.75M215.6 273.3h0.75M211.8 270.2h0.75M217.8 259.6h0.75M228.1 267.9h0.75M220.6 263.4h0.75M222.6 278.4h0.75M212.1 263.5h0.75M220.8 261.6h0.75M218.9 260.9h0.75M231.1 269.7h0.75M222.9 272.8h0.75M210.8 270.3h0.75M210.4 258.6h0.75M224.3 270.7h0.75M214.5 271.9h0.75M214.7 261.1h0.75M205.8 266.8h0.75M220.1 268.6h0.75M212.6 270.9h0.75M229.5 257.0h0.75M225.3 263.3h0.75M216.9 265.3h0.75M208.3 274.7h0.75M212.8 278.1h0.75M220.4 264.0h0.75M214.9 268.1h0.75M221.4 269.3h0.75M213.7 282.1h0.75M219.5 269.6h0.75M212.5 266.3h0.75M217.6 278.1h0.75M223.7 266.3h0.75M207.0 263.4h0.75M215.9 260.9h0.75M227.1 259.8h0.75M226.4 274.0h0.75M220.9 270.9h0.75M212.7 270.9h0.75M226.3 263.9h0.75M208.8 276.6h0.75M209.5 273.3h0.75M218.5 270.1h0.75M226.8 267.1h0.75M215.7 274.2h0.75M218.1 263.6h0.75M211.6 266.6h0.75M210.5 264.8h0.75M218.2 269.5h0.75M211.5 275.3h0.75M221.5 278.3h0.75M220.3 246.6h0.75M218.5 260.8h0.75M217.8 261.1h0.75M215.1 278.3h0.75M221.0 262.3h0.75M220.0 257.4h0.75M222.1 265.0h0.75M233.5 255.3h0.75M216.1 282.8h0.75M211.9 275.6h0.75M213.6 268.1h0.75M209.3 271.8h0.75M213.8 264.7h0.75M222.0 267.5h0.75M220.3 271.9h0.75M216.6 266.9h0.75M218.7 265.6h0.75M227.1 269.8h0.75M213.6 272.6h0.75M215.3 274.3h0.75M219.1 257.1h0.75M212.5 267.8h0.75M203.3 264.1h0.75M212.8 261.1h0.75M216.5 272.0h0.75M222.9 273.0h0.75M215.5 267.7h0.75M215.5 259.8h0.75M222.5 263.6h0.75M217.1 277.9h0.75M229.8 263.3h0.75M212.8 272.0h0.75M215.7 267.6h0.75M222.9 281.7h0.75M210.6 272.8h0.75M212.2 275.7h0.75M223.5 263.7h0.75M216.4 265.3h0.75M216.4 268.1h0.75M219.0 272.6h0.75M227.2 271.3h0.75M223.4 273.1h0.75M221.6 261.1h0.75M219.7 270.4h0.75M217.8 261.5h0.75M214.9 261.3h0.75M214.0 272.0h0.75M227.0 263.5h0.75M218.7 266.2h0.75M225.1 267.3h0.75M214.4 278.0h0.75M214.0 277.8h0.75M215.3 268.8h0.75M228.0 272.5h0.75M217.2 264.2h0.75M226.9 264.6h0.75M222.3 267.2h0.75M230.0 270.8h0.75M216.1 275.0h0.75M212.7 272.6h0.75M215.5 266.4h0.75M212.8 264.5h0.75M217.5 257.3h0.75M235.3 254.9h0.75M217.5 264.2h0.75M223.2 258.3h0.75M217.9 271.8h0.75M217.4 265.1h0.75M216.7 274.1h0.75M211.8 268.2h0.75M222.3 258.7h0.75M223.3 269.8h0.75M216.6 263.1h0.75M215.0 275.6h0.75M228.7 260.9h0.75M216.0 269.5h0.75M206.3 265.2h0.75M211.3 263.1h0.75M216.1 260.1h0.75M215.7 258.8h0.75M228.8 263.8h0.75M207.3 270.8h0.75M209.3 265.7h0.75M223.6 257.5h0.75M229.4 255.2h0.75M206.4 265.0h0.75M218.9 271.5h0.75M211.2 280.2h0.75M209.8 270.6h0.75M215.3 276.8h0.75M209.8 262.5h0.75M221.5 262.5h0.75M216.9 269.1h0.75M220.3 274.7h0.75M220.7 261.9h0.75M211.2 265.7h0.75M210.8 276.4h0.75M217.7 268.9h0.75M231.1 258.1h0.75M216.1 266.5h0.75M220.6 266.2h0.75M213.4 267.2h0.75M218.0 272.0h0.75M217.0 262.8h0.75M214.8 280.3h0.75M210.4 268.6h0.75M215.4 270.0h0.75M227.5 262.6h0.75M229.4 253.3h0.75M224.3 268.7h0.75M216.7 263.8h0.75M225.0 268.9h0.75M218.9 253.4h0.75M205.7 268.3h0.75M214.4 271.5h0.75M223.8 273.5h0.75M225.3 273.5h0.75M219.2 265.9h0.75M212.3 255.2h0.75M224.7 266.7h0.75M225.5 271.3h0.75M219.2 268.5h0.75M211.2 269.7h0.75M219.4 260.2h0.75M227.4 256.4h0.75M221.6 267.5h0.75M211.2 275.9h0.75M223.6 262.4h0.75M223.3 271.6h0.75M218.5 270.4h0.75M220.4 262.1h0.75M214.2 265.6h0.75M213.8 265.0h0.75M211.2 269.8h0.75M218.2 269.4h0.75M233.1 265.9h0.75M219.2 269.3h0.75M212.0 269.7h0.75M222.3 262.8h0.75M217.1 280.5h0.75M215.8 255.4h0.75M218.4 269.0h0.75M238.7 269.0h0.75M218.0 275.7h0.75M210.9 266.9h0.75M212.7 273.7h0.75M229.9 278.7h0.75M208.1 271.6h0.75M217.6 265.5h0.75M211.9 270.7h0.75M216.9 256.6h0.75M218.3 265.1h0.75M219.3 270.3h0.75M215.1 266.6h0.75M215.4 274.1h0.75M229.9 261.8h0.75M217.5 273.7h0.75M212.2 259.0h0.75M221.7 276.2h0.75M218.4 274.1h0.75M220.7 271.3h0.75M220.7 264.7h0.75M210.6 274.7h0.75M212.0 268.9h0.75M210.7 278.2h0.75M223.0 270.1h0.75M209.7 270.9h0.75M216.1 276.1h0.75M218.6 262.9h0.75M219.3 271.0h0.75M218.6 265.6h0.75M219.7 272.9h0.75M227.2 274.2h0.75M218.3 268.9h0.75M216.3 265.5h0.75M217.5 273.0h0.75M213.5 267.8h0.75M222.5 271.0h0.75M215.0 272.8h0.75M214.7 278.2h0.75M221.2 259.5h0.75M223.3 254.1h0.75M211.8 267.3h0.75M225.0 263.7h0.75M215.8 263.0h0.75M216.2 275.0h0.75M203.6 264.6h0.75M212.5 267.3h0.75M213.8 270.2h0.75M207.4 262.7h0.75M213.6 266.6h0.75M204.3 268.6h0.75M221.5 263.3h0.75M209.5 273.9h0.75M214.0 277.6h0.75M218.6 259.8h0.75M214.4 257.4h0.75M222.8 258.0h0.75M218.2 268.3h0.75M213.7 272.5h0.75M224.1 262.7h0.75M221.5 274.1h0.75M214.7 267.7h0.75M211.2 272.4h0.75M215.6 262.7h0.75M201.1 279.4h0.75M224.2 269.9h0.75M210.9 252.7h0.75M213.2 282.3h0.75M212.4 256.3h0.75M229.1 252.8h0.75M219.4 274.1h0.75M210.9 275.6h0.75M230.2 259.9h0.75M218.0 274.6h0.75M211.9 276.0h0.75M218.7 256.2h0.75M199.4 265.8h0.75M211.8 271.2h0.75M222.1 264.4h0.75M222.7 262.8h0.75M223.9 276.1h0.75M215.7 272.0h0.75M211.9 281.2h0.75M220.9 267.2h0.75M219.8 279.4h0.75M218.9 263.5h0.75M227.6 267.7h0.75M224.8 275.9h0.75M216.0 278.2h0.75M219.0 255.1h0.75M219.8 268.3h0.75M228.0 263.6h0.75M200.8 277.7h0.75M208.8 261.7h0.75M216.2 269.7h0.75M214.1 273.0h0.75M223.7 264.2h0.75M223.5 269.0h0.75M220.5 278.1h0.75M220.6 268.5h0.75M217.3 255.4h0.75M213.7 277.5h0.75M220.3 268.5h0.75M223.5 263.3h0.75M219.7 279.1h0.75M225.4 262.3h0.75M215.0 267.6h0.75M225.2 264.2h0.75M215.5 256.7h0.75M222.5 271.1h0.75M215.6 270.5h0.75M220.4 279.3h0.75M220.8 270.5h0.75M219.8 268.9h0.75M225.7 261.4h0.75M211.6 264.1h0.75M218.7 266.2h0.75M227.8 260.3h0.75M223.0 270.9h0.75M221.4 267.8h0.75M229.0 262.4h0.75M220.4 270.9h0.75M217.1 264.1h0.75M222.6 265.6h0.75M215.5 268.4h0.75M205.5 269.7h0.75M219.4 273.2h0.75M229.4 268.2h0.75M228.6 268.9h0.75M222.7 255.8h0.75M228.5 269.7h0.75M219.9 278.8h0.75M205.7 273.7h0.75M216.2 273.6h0.75M222.7 277.2h0.75M213.3 273.2h0.75M227.2 268.3h0.75M210.0 270.5h0.75M218.9 263.9h0.75M225.2 267.9h0.75M215.2 271.5h0.75M224.6 261.9h0.75M217.6 259.6h0.75M224.0 274.2h0.75M210.2 274.3h0.75M211.7 271.2h0.75M215.7 266.3h0.75M224.5 261.8h0.75M216.0 262.0h0.75M220.2 272.7h0.75M217.0 265.9h0.75M224.8 267.5h0.75M207.2 270.0h0.75M213.4 264.6h0.75M224.9 262.7h0.75M217.6 257.0h0.75M216.2 276.5h0.75M215.8 267.1h0.75M216.6 276.6h0.75M213.3 269.2h0.75M221.3 271.2h0.75M210.7 266.4h0.75M212.9 277.7h0.75M220.4 274.1h0.75M215.2 264.6h0.75M222.7 267.3h0.75M205.7 265.4h0.75M230.1 267.5h0.75M218.5 265.4h0.75M226.1 267.7h0.75M214.6 272.6h0.75M205.8 265.5h0.75M212.2 276.8h0.75M227.1 267.5h0.75M216.0 280.4h0.75M214.4 274.5h0.75M223.7 261.0h0.75M217.5 268.7h0.75M213.5 262.4h0.75M220.7 271.0h0.75M219.8 271.9h0.75M217.5 271.0h0.75M205.8 273.3h0.75M229.1 261.9h0.75M213.8 267.2h0.75M229.1 267.0h0.75M217.8 263.3h0.75M214.7 263.3h0.75M221.6 261.6h0.75M214.4 250.6h0.75M232.9 269.4h0.75M217.0 271.7h0.75M222.6 265.4h0.75M209.9 268.3h0.75M214.7 272.4h0.75M218.3 267.2h0.75M216.7 269.6h0.75M215.6 257.6h0.75M206.1 278.4h0.75M215.5 254.2h0.75M212.9 271.0h0.75M221.6 256.5h0.75M220.9 259.6h0.75M220.2 272.4h0.75" stroke="#000" stroke-opacity="0.50" stroke-width="0.75" fill="none"/><ellipse cx="217.0" cy="268.0" rx="13.5" ry="9.0" fill="url(#rg)" opacity="1.00" transform="rotate(-45 217.0 268.0)"/><ellipse cx="223.0" cy="256.0" rx="14.0" ry="11.0" fill="url(#rg)" opacity="0.30" transform="rotate(-60 223.0 256.0)"/><path d="M250.7 219.6h0.75M251.9 217.8h0.75M246.7 217.1h0.75M244.0 220.2h0.75M251.4 224.0h0.75M254.2 216.6h0.75M251.1 216.5h0.75M249.3 216.7h0.75M252.2 214.9h0.75M249.6 214.9h0.75M246.6 217.0h0.75M249.4 220.2h0.75M252.8 216.9h0.75M251.5 216.0h0.75M252.6 218.0h0.75M249.0 216.1h0.75M252.2 225.7h0.75M254.8 222.5h0.75M249.6 218.4h0.75M249.1 213.6h0.75M254.2 216.7h0.75M250.9 215.8h0.75M247.1 215.8h0.75M249.3 212.3h0.75M254.5 216.8h0.75M251.6 216.6h0.75M256.1 216.4h0.75M252.5 214.7h0.75M251.3 219.2h0.75M253.7 215.9h0.75M248.7 212.0h0.75M253.8 215.4h0.75M250.3 220.4h0.75M249.8 221.5h0.75M251.8 215.1h0.75M249.2 217.8h0.75M247.2 219.7h0.75M247.9 220.7h0.75M252.1 216.9h0.75M251.5 219.0h0.75M250.8 217.0h0.75M252.7 213.2h0.75M247.9 220.7h0.75M249.4 218.0h0.75M255.4 219.3h0.75M247.8 217.6h0.75M254.4 215.8h0.75M249.8 216.8h0.75M252.2 219.1h0.75M251.3 214.7h0.75M249.8 222.4h0.75M250.9 224.5h0.75M253.4 211.9h0.75M248.5 220.7h0.75M247.8 217.0h0.75M253.2 219.9h0.75M249.4 218.7h0.75M250.1 217.7h0.75M250.1 220.7h0.75M249.3 218.5h0.75M245.3 222.3h0.75M250.3 219.1h0.75M249.2 214.3h0.75M246.6 217.8h0.75M248.9 218.2h0.75M251.3 216.6h0.75M255.7 214.9h0.75M249.0 223.6h0.75M254.6 218.0h0.75M249.3 218.1h0.75M252.0 213.8h0.75M249.9 219.8h0.75M252.8 217.9h0.75M251.0 221.2h0.75M249.5 222.9h0.75M246.0 216.5h0.75M253.5 216.2h0.75M246.2 221.4h0.75M248.8 221.2h0.75M255.9 219.1h0.75M251.3 220.2h0.75M250.9 217.4h0.75M251.0 218.2h0.75M251.3 218.2h0.75M249.6 212.4h0.75M251.6 220.3h0.75M250.1 220.4h0.75M249.6 215.7h0.75M252.0 216.7h0.75M252.5 219.1h0.75M251.7 220.2h0.75M253.4 218.3h0.75M256.2 217.0h0.75M255.7 219.4h0.75M250.9 218.6h0.75M247.4 215.5h0.75M254.0 217.4h0.75M251.0 217.2h0.75M252.9 220.1h0.75M249.6 214.7h0.75M253.2 216.0h0.75M247.4 217.2h0.75M251.2 218.3h0.75M246.7 224.7h0.75M256.6 217.8h0.75M249.9 221.1h0.75M244.5 220.4h0.75M254.4 221.8h0.75M253.5 223.0h0.75M254.7 219.8h0.75M247.4 215.6h0.75M251.8 217.3h0.75M254.6 222.3h0.75M250.2 224.1h0.75M251.8 221.7h0.75M250.1 224.8h0.75M249.8 220.1h0.75M254.8 216.0h0.75M248.4 218.5h0.75M250.8 219.1h0.75M252.4 220.8h0.75M250.8 220.6h0.75M253.2 215.8h0.75M244.9 221.5h0.75M254.1 216.7h0.75M247.2 219.0h0.75M250.1 220.0h0.75M249.7 220.2h0.75" stroke="#3a0a10" stroke-opacity="0.45" stroke-width="0.75" fill="none"/><ellipse cx="250.6" cy="217.2" rx="4.8" ry="4.0" fill="url(#rgm)" opacity="0.75" transform="rotate(0 250.6 217.2)"/></g><rect x="244.40" y="203.00" width="30.30" height="30.85" fill="none" stroke="#c8102e" stroke-width="1.40"/><rect x="192.90" y="201.70" width="83.05" height="83.30" fill="none" stroke="#111" stroke-width="1.2"/><path d="M243.25 201.70V285.00M192.90 235.00H275.95" stroke="#111" stroke-width="1.1"/><g font-size="7.4" fill="#111" stroke="#111" stroke-width="0.18"><text x="194.8" y="211.3" transform="rotate(0.05 194.8 211.3)">Q1</text><text x="194.8" y="220.1" transform="rotate(0.05 194.8 220.1)">5.76</text><text x="273.1" y="211.3" transform="rotate(0.05 273.1 211.3)" text-anchor="end">Q2</text><text x="273.1" y="220.1" transform="rotate(0.05 273.1 220.1)" text-anchor="end">5.04</text><text x="194.8" y="273.4" transform="rotate(0.05 194.8 273.4)">Q4</text><text x="194.8" y="282.2" transform="rotate(0.05 194.8 282.2)">88.5</text><text x="273.1" y="273.4" transform="rotate(0.05 273.1 273.4)" text-anchor="end">Q3</text><text x="273.1" y="282.2" transform="rotate(0.05 273.1 282.2)" text-anchor="end">0.74</text></g><clipPath id="cp22"><rect x="283.3" y="201.7" width="83.0" height="83.3"/></clipPath><rect x="333.65" y="201.70" width="32.70" height="33.30" fill="#efc9cf"/><rect x="336.00" y="204.20" width="27.90" height="28.45" fill="none" stroke="#f6dde1" stroke-width="1"/><g clip-path="url(#cp22)"><path d="M296.5 229.0h0.75M303.6 222.1h0.75M296.4 226.2h0.75M317.5 223.2h0.75M305.3 225.3h0.75M298.3 216.7h0.75M300.2 222.9h0.75M306.5 224.2h0.75M301.0 217.5h0.75M297.4 227.2h0.75M296.1 218.3h0.75M305.8 220.3h0.75M320.0 218.0h0.75M283.7 225.3h0.75M302.8 220.5h0.75M306.2 227.3h0.75M299.2 228.5h0.75M323.7 222.6h0.75M307.2 227.0h0.75M292.1 233.0h0.75M307.9 216.2h0.75M312.2 233.1h0.75M305.9 220.0h0.75M315.3 238.5h0.75M298.0 228.7h0.75M308.8 213.1h0.75M318.9 228.8h0.75M303.7 223.8h0.75M297.5 225.0h0.75M302.9 228.6h0.75M307.5 221.5h0.75M302.7 222.9h0.75M309.3 225.2h0.75M314.9 216.0h0.75M299.0 223.1h0.75M293.2 225.8h0.75M298.4 224.7h0.75M292.8 225.2h0.75M299.4 224.5h0.75M303.5 214.9h0.75M291.9 220.2h0.75M305.8 214.9h0.75M305.0 226.1h0.75M292.6 229.3h0.75M301.8 225.4h0.75M292.0 214.6h0.75M309.9 222.7h0.75M302.7 228.6h0.75M308.7 227.0h0.75M316.1 228.4h0.75M310.2 228.7h0.75M304.8 219.4h0.75M307.2 225.9h0.75M301.1 226.2h0.75M304.5 219.7h0.75M318.7 221.8h0.75M300.1 224.1h0.75M303.9 234.3h0.75M306.6 229.9h0.75M307.6 224.9h0.75M310.6 225.1h0.75M300.7 225.0h0.75M303.9 229.7h0.75M306.9 222.8h0.75M309.6 227.5h0.75M307.9 231.6h0.75M305.2 223.3h0.75M295.6 224.3h0.75M295.3 224.1h0.75M311.2 238.2h0.75M317.0 224.4h0.75M297.9 224.3h0.75M293.6 229.8h0.75M301.7 221.2h0.75M306.3 223.2h0.75M300.2 224.1h0.75M302.7 223.9h0.75M309.8 226.7h0.75M307.4 225.6h0.75M300.9 213.3h0.75M294.3 230.3h0.75M303.3 222.6h0.75M313.0 228.3h0.75M291.2 225.2h0.75M316.6 227.8h0.75M305.9 231.4h0.75M316.4 223.9h0.75M299.3 222.7h0.75M298.3 226.8h0.75M293.9 224.4h0.75M306.4 233.7h0.75M305.6 223.8h0.75M302.9 222.0h0.75M305.2 234.7h0.75M308.1 221.5h0.75" stroke="#000" stroke-opacity="0.25" stroke-width="0.75" fill="none"/><path d="M336.1 225.2h0.75M340.6 231.2h0.75M338.5 229.9h0.75M339.5 226.6h0.75M334.3 229.5h0.75M338.8 227.8h0.75M337.5 230.2h0.75M333.2 226.7h0.75M345.2 227.8h0.75M339.6 224.4h0.75M340.0 225.8h0.75M342.5 228.3h0.75M344.6 228.7h0.75M343.1 229.0h0.75M336.3 231.1h0.75M339.9 224.5h0.75M336.6 224.4h0.75M338.1 220.7h0.75M340.6 232.7h0.75M343.8 235.3h0.75M334.8 229.0h0.75M342.1 230.0h0.75M340.6 224.4h0.75M334.9 228.0h0.75M350.7 233.2h0.75M338.6 228.8h0.75M343.9 221.8h0.75M338.8 228.7h0.75M340.5 227.5h0.75M342.6 231.0h0.75M339.3 234.2h0.75M339.1 227.7h0.75M344.1 229.6h0.75M343.5 231.5h0.75M349.0 224.0h0.75M340.3 226.7h0.75M332.0 220.9h0.75M333.3 228.6h0.75M341.2 230.5h0.75M335.1 229.0h0.75M333.3 229.4h0.75M343.7 224.5h0.75M332.6 224.2h0.75M332.5 232.8h0.75M339.8 230.2h0.75M343.9 226.1h0.75M342.3 230.0h0.75M334.5 224.5h0.75M342.1 223.6h0.75M335.0 229.0h0.75M340.3 227.2h0.75M326.7 228.8h0.75M334.0 237.1h0.75M340.5 229.3h0.75M338.4 228.3h0.75M340.6 235.9h0.75M323.4 224.4h0.75M344.6 227.0h0.75M342.5 225.7h0.75M347.5 227.2h0.75M348.8 226.6h0.75M327.5 226.0h0.75M343.7 225.5h0.75M330.6 223.8h0.75M329.2 234.3h0.75M336.5 220.2h0.75M336.8 229.7h0.75M335.7 230.8h0.75M331.6 231.1h0.75M340.6 238.5h0.75M330.8 219.8h0.75M340.4 221.3h0.75M351.6 227.5h0.75M330.7 228.4h0.75M338.6 228.7h0.75M337.9 221.1h0.75M329.5 222.9h0.75M337.4 234.7h0.75M342.3 229.3h0.75M342.1 229.3h0.75M340.8 230.4h0.75M334.4 236.2h0.75M336.7 224.4h0.75M332.9 227.2h0.75M343.3 215.7h0.75M333.6 223.2h0.75M331.9 227.2h0.75M334.4 229.1h0.75M346.0 220.9h0.75M329.2 217.0h0.75M341.9 220.1h0.75M341.2 212.5h0.75M334.6 218.7h0.75M338.4 224.3h0.75M329.8 228.0h0.75M339.3 234.0h0.75M339.7 226.1h0.75M333.5 220.5h0.75M338.3 226.4h0.75M337.5 222.9h0.75M340.3 231.5h0.75M341.0 231.6h0.75M342.9 215.1h0.75M336.9 223.4h0.75M340.4 237.6h0.75M341.9 232.4h0.75M345.9 223.8h0.75M338.0 206.4h0.75M335.1 229.2h0.75M334.1 227.4h0.75M336.9 224.1h0.75M328.7 229.9h0.75M332.0 226.7h0.75M340.9 228.5h0.75M347.7 223.5h0.75M344.4 224.0h0.75M334.4 227.3h0.75M343.7 223.0h0.75M339.3 217.7h0.75M334.9 217.4h0.75M344.2 226.6h0.75M342.1 219.8h0.75M342.1 219.6h0.75M340.5 220.7h0.75M342.5 229.0h0.75M336.1 212.0h0.75M336.0 209.8h0.75M334.5 225.9h0.75M342.1 223.4h0.75M340.0 233.7h0.75M342.5 222.8h0.75M335.9 215.8h0.75M336.2 226.3h0.75M337.5 226.5h0.75M337.7 226.7h0.75M336.4 226.8h0.75M344.8 237.7h0.75M338.5 222.5h0.75M324.3 227.0h0.75M334.5 224.3h0.75" stroke="#000" stroke-opacity="0.30" stroke-width="0.75" fill="none"/><path d="M328.5 219.0h0.75M319.4 221.8h0.75M307.9 248.3h0.75M303.1 251.7h0.75M316.1 250.4h0.75M317.2 234.8h0.75M308.7 243.3h0.75M330.4 234.4h0.75M316.3 245.8h0.75M317.3 242.2h0.75M317.2 249.9h0.75M314.9 268.9h0.75M326.1 236.5h0.75M304.7 246.5h0.75M315.7 239.7h0.75M320.1 247.3h0.75M328.7 223.6h0.75M320.5 241.3h0.75M313.5 239.5h0.75M319.5 248.7h0.75M312.9 256.5h0.75M318.9 241.7h0.75M329.2 235.7h0.75M316.7 246.4h0.75M311.4 274.5h0.75M323.2 259.3h0.75M331.3 224.6h0.75M307.3 251.1h0.75M311.4 242.3h0.75M297.2 266.3h0.75M321.5 256.0h0.75M312.7 257.0h0.75M317.2 235.7h0.75M319.3 238.7h0.75M312.3 237.5h0.75M324.9 235.2h0.75M309.8 250.9h0.75M329.7 227.4h0.75M317.9 250.2h0.75M320.6 235.1h0.75M329.3 221.5h0.75M313.7 252.6h0.75M318.6 241.9h0.75M324.2 250.6h0.75M328.2 248.4h0.75M321.9 244.0h0.75M325.7 250.4h0.75M307.6 243.3h0.75M321.0 238.2h0.75M311.9 263.1h0.75M311.5 254.9h0.75M318.6 253.9h0.75M323.6 267.6h0.75M321.9 243.5h0.75M322.4 254.6h0.75M322.4 260.1h0.75M320.1 266.3h0.75M314.3 257.9h0.75M315.5 240.1h0.75M319.4 264.8h0.75M326.5 237.2h0.75M317.2 238.1h0.75M328.6 246.4h0.75M305.6 266.0h0.75M306.9 253.9h0.75M321.3 233.8h0.75M307.9 248.9h0.75M313.5 256.0h0.75M314.2 255.7h0.75M315.5 241.0h0.75M310.5 269.7h0.75M313.9 231.6h0.75M304.5 239.5h0.75M318.3 261.3h0.75M325.6 241.1h0.75M311.8 282.2h0.75M310.0 261.4h0.75M321.5 244.0h0.75M321.4 227.7h0.75M319.9 264.0h0.75M304.5 262.1h0.75M318.9 248.3h0.75M315.0 244.9h0.75M318.7 257.8h0.75M314.7 256.9h0.75M312.8 224.2h0.75M311.7 257.9h0.75M304.9 265.1h0.75M318.6 253.0h0.75M327.9 232.6h0.75M312.9 236.1h0.75M319.9 248.4h0.75M306.0 261.1h0.75M314.0 247.2h0.75M329.9 211.8h0.75M327.3 242.0h0.75M324.5 235.0h0.75M315.0 268.0h0.75M312.8 251.2h0.75M314.3 253.7h0.75M328.2 226.8h0.75M317.2 251.0h0.75M318.1 248.2h0.75M317.9 253.9h0.75M330.4 235.7h0.75M318.5 273.4h0.75M317.5 255.1h0.75M306.4 265.2h0.75M307.9 252.3h0.75M316.5 253.2h0.75M309.3 251.6h0.75M311.5 225.4h0.75M310.8 261.5h0.75M329.8 255.5h0.75M319.7 240.5h0.75M316.7 252.6h0.75M315.0 253.6h0.75M326.3 223.4h0.75M312.5 234.9h0.75M315.7 258.1h0.75M323.4 245.6h0.75M315.5 258.9h0.75M321.1 242.2h0.75M311.9 265.0h0.75M325.2 238.7h0.75M312.1 240.3h0.75M306.8 239.1h0.75M314.5 246.3h0.75M318.3 244.4h0.75M317.7 259.2h0.75M313.2 245.0h0.75M320.9 240.2h0.75M319.0 241.8h0.75M318.1 260.3h0.75M316.9 239.3h0.75M316.4 263.4h0.75M319.0 257.8h0.75M312.3 257.4h0.75M314.1 254.5h0.75M314.2 247.9h0.75M315.9 237.5h0.75M317.9 232.8h0.75M312.7 239.6h0.75M318.8 257.9h0.75M322.9 238.8h0.75M320.6 234.8h0.75M315.0 257.0h0.75M312.8 262.2h0.75M325.9 252.2h0.75M330.6 225.0h0.75M314.2 250.5h0.75M320.9 250.9h0.75M310.3 235.3h0.75M309.6 261.0h0.75M308.3 259.3h0.75M318.8 249.5h0.75M317.4 235.8h0.75M311.3 249.7h0.75M310.3 254.0h0.75M301.9 265.3h0.75M315.7 225.1h0.75M306.3 261.1h0.75M324.8 231.8h0.75M316.0 256.8h0.75M326.5 234.6h0.75M334.3 229.4h0.75M319.2 260.0h0.75M308.6 236.6h0.75M316.5 237.0h0.75M331.5 234.8h0.75M317.0 251.5h0.75M324.5 232.7h0.75M319.0 246.5h0.75M304.9 257.2h0.75M323.8 235.7h0.75M321.5 231.3h0.75M311.2 245.6h0.75M319.0 249.7h0.75M330.7 241.1h0.75M322.9 226.0h0.75M304.5 260.2h0.75M320.8 233.9h0.75M320.0 220.4h0.75M299.0 253.5h0.75M316.6 239.2h0.75M319.7 247.3h0.75M312.9 241.0h0.75M321.6 231.6h0.75M309.9 266.9h0.75M312.3 252.8h0.75M309.1 263.7h0.75M313.9 250.6h0.75M323.0 223.5h0.75M312.0 260.1h0.75M318.3 254.2h0.75M311.7 253.9h0.75M313.7 240.7h0.75M318.8 252.3h0.75M309.9 255.8h0.75M326.8 261.1h0.75M314.9 248.9h0.75M324.1 266.5h0.75M308.9 277.8h0.75M323.6 233.5h0.75M323.0 247.5h0.75M317.2 255.7h0.75M315.6 249.1h0.75M318.0 237.6h0.75M308.1 256.3h0.75M311.4 245.1h0.75M320.0 255.7h0.75M307.5 227.4h0.75M317.6 281.0h0.75M317.0 266.6h0.75M320.9 229.3h0.75M322.7 265.6h0.75M325.1 260.9h0.75M318.8 264.8h0.75M304.5 244.7h0.75M323.7 240.2h0.75M311.0 241.2h0.75M314.4 263.6h0.75M312.3 253.2h0.75M325.9 227.7h0.75M314.2 249.1h0.75M313.1 259.0h0.75M310.2 233.0h0.75M315.4 251.0h0.75M303.9 269.0h0.75M319.6 260.1h0.75M316.4 234.7h0.75M318.8 250.4h0.75M319.9 249.7h0.75M318.4 239.1h0.75M308.6 255.4h0.75M311.5 266.4h0.75M315.8 247.4h0.75M318.8 256.8h0.75M311.0 245.7h0.75M306.6 254.2h0.75M317.8 258.1h0.75M312.4 265.5h0.75M324.9 246.2h0.75M332.7 225.9h0.75M300.4 259.1h0.75M322.8 233.5h0.75M320.3 239.2h0.75M314.4 255.5h0.75M318.1 261.8h0.75M330.5 244.4h0.75M314.1 251.4h0.75M314.6 250.6h0.75M318.7 254.3h0.75M328.8 225.0h0.75M309.3 267.1h0.75M323.6 243.6h0.75M332.5 226.4h0.75M314.0 244.2h0.75M332.9 223.0h0.75M311.9 245.6h0.75M325.0 247.6h0.75M314.3 235.7h0.75M308.5 254.5h0.75M308.4 244.1h0.75M317.0 239.3h0.75M313.5 255.3h0.75M317.5 241.0h0.75M318.7 232.8h0.75M310.3 261.1h0.75M313.0 247.6h0.75M315.7 241.3h0.75M314.4 256.3h0.75M317.1 233.3h0.75M322.3 232.0h0.75M307.6 251.9h0.75M309.3 241.3h0.75M318.5 256.3h0.75M311.1 246.9h0.75M318.9 241.3h0.75M309.7 246.9h0.75M308.0 241.8h0.75M306.3 249.7h0.75M315.9 230.3h0.75M328.0 237.8h0.75M309.6 253.2h0.75M320.0 240.4h0.75M324.7 213.2h0.75M315.1 252.7h0.75M314.6 227.2h0.75M333.7 215.6h0.75M316.8 249.7h0.75M316.9 235.8h0.75M312.4 275.5h0.75M312.7 226.5h0.75M314.7 237.2h0.75M321.9 236.9h0.75M326.7 247.3h0.75M317.3 233.6h0.75M331.9 236.2h0.75M326.5 240.1h0.75M310.0 248.3h0.75M318.9 249.6h0.75M323.5 248.3h0.75M309.8 247.4h0.75M322.2 259.8h0.75M302.0 259.3h0.75M324.5 250.6h0.75M319.8 260.3h0.75M325.2 254.4h0.75M316.5 264.2h0.75M312.7 264.1h0.75M305.3 248.7h0.75M326.3 253.0h0.75M329.3 220.9h0.75M321.4 249.3h0.75M317.4 232.5h0.75M305.1 236.1h0.75M320.8 243.8h0.75M310.0 248.6h0.75M319.0 238.6h0.75M322.2 241.2h0.75M303.1 261.5h0.75M322.1 239.2h0.75M311.2 247.7h0.75M306.7 265.3h0.75M318.1 257.8h0.75M310.6 235.0h0.75M316.9 233.9h0.75M314.6 247.6h0.75M327.7 233.5h0.75M319.3 236.6h0.75M314.4 267.2h0.75M305.5 258.1h0.75M308.9 239.4h0.75M312.0 257.5h0.75M323.5 257.5h0.75M320.9 244.0h0.75M312.7 249.4h0.75M309.9 254.1h0.75M319.0 266.8h0.75M328.7 222.4h0.75M302.2 261.2h0.75M302.8 248.2h0.75M332.7 236.9h0.75M317.1 248.3h0.75M312.8 258.6h0.75M314.1 261.7h0.75M320.7 232.2h0.75M318.8 236.8h0.75M308.2 271.0h0.75M298.8 260.1h0.75M317.1 238.2h0.75M320.2 225.6h0.75M320.8 255.7h0.75M326.3 236.8h0.75M307.7 266.0h0.75M308.9 267.4h0.75M311.9 262.6h0.75M330.5 244.5h0.75M323.8 246.4h0.75M315.3 236.5h0.75M318.1 271.8h0.75M317.6 224.1h0.75M321.7 254.2h0.75M328.0 213.7h0.75M310.4 241.3h0.75M306.5 268.6h0.75M315.2 247.0h0.75M319.6 259.6h0.75M330.8 230.1h0.75M306.7 240.6h0.75M318.6 230.2h0.75M319.8 259.0h0.75M316.4 257.5h0.75M320.2 246.1h0.75M320.8 247.2h0.75M317.3 260.1h0.75M326.5 242.9h0.75M318.9 231.4h0.75M301.4 246.9h0.75M317.4 254.1h0.75M310.6 251.8h0.75M308.6 236.9h0.75M316.3 248.6h0.75M313.7 239.9h0.75M320.6 232.8h0.75M302.7 246.7h0.75M318.5 251.5h0.75M314.9 250.6h0.75M323.6 228.7h0.75M311.5 247.0h0.75M311.7 244.6h0.75M320.9 252.7h0.75M323.9 237.0h0.75M316.5 241.4h0.75M304.3 259.1h0.75M323.3 236.1h0.75M315.0 240.9h0.75M326.4 233.5h0.75M314.3 239.0h0.75M317.2 248.1h0.75M314.4 260.4h0.75M317.1 233.5h0.75M324.7 232.4h0.75M304.4 255.4h0.75M324.0 250.4h0.75M315.7 240.3h0.75M313.2 247.9h0.75M316.8 241.8h0.75M312.6 251.1h0.75M309.4 253.8h0.75M322.5 232.1h0.75M305.6 267.3h0.75M317.1 238.4h0.75M314.1 257.3h0.75M315.2 246.3h0.75M308.7 254.0h0.75M321.7 246.7h0.75M325.6 258.7h0.75M313.8 242.5h0.75M315.7 266.7h0.75M307.6 259.2h0.75M314.1 248.3h0.75M312.3 237.1h0.75M309.4 256.6h0.75M319.7 221.2h0.75M314.1 251.8h0.75M317.5 236.7h0.75M322.0 274.3h0.75M307.0 258.0h0.75M315.9 261.0h0.75M316.5 263.5h0.75M299.2 263.6h0.75M304.2 249.4h0.75M318.1 259.7h0.75M315.9 224.5h0.75M314.1 247.5h0.75M301.6 238.5h0.75M301.3 271.5h0.75M321.0 227.9h0.75M329.5 230.0h0.75M324.1 265.2h0.75M308.3 259.5h0.75M322.0 259.8h0.75M322.2 229.4h0.75M309.6 263.6h0.75M310.9 259.8h0.75M308.5 266.9h0.75M308.4 240.8h0.75M319.5 236.5h0.75M305.7 257.3h0.75M323.2 233.6h0.75M333.5 250.7h0.75M305.2 255.3h0.75M328.8 243.5h0.75M315.0 229.1h0.75M319.7 230.5h0.75M324.9 242.7h0.75M325.0 231.6h0.75M323.8 249.5h0.75M326.0 245.9h0.75M322.2 224.1h0.75M312.9 247.6h0.75M317.1 258.6h0.75M314.7 263.5h0.75M324.8 257.1h0.75M318.9 261.0h0.75M314.9 262.7h0.75M314.1 248.9h0.75M306.1 262.9h0.75M311.4 247.1h0.75M311.9 245.8h0.75M329.6 240.4h0.75M321.0 234.2h0.75M321.4 226.9h0.75M315.9 250.5h0.75M314.4 265.7h0.75M324.4 238.9h0.75M318.3 242.0h0.75M313.7 252.3h0.75M315.4 235.2h0.75M324.5 222.2h0.75M317.4 242.1h0.75M311.3 251.1h0.75M315.7 243.8h0.75M320.5 261.0h0.75M329.6 223.6h0.75M313.5 262.9h0.75M319.8 262.3h0.75M321.7 234.4h0.75M322.9 251.7h0.75M311.6 262.5h0.75M329.3 238.0h0.75M324.8 233.5h0.75M308.2 266.9h0.75M312.3 236.5h0.75M321.7 234.8h0.75M325.2 223.9h0.75M312.2 238.8h0.75M318.6 237.1h0.75M313.6 244.4h0.75M321.4 238.5h0.75M316.1 222.7h0.75M319.6 237.9h0.75M325.8 258.4h0.75M322.4 249.7h0.75M324.7 222.1h0.75M320.9 265.7h0.75M312.1 253.8h0.75M319.1 256.9h0.75M324.0 231.0h0.75M310.6 257.2h0.75M318.1 253.2h0.75M330.9 252.3h0.75M313.9 238.2h0.75M314.0 237.4h0.75M322.4 264.7h0.75M308.2 260.1h0.75M310.3 264.8h0.75M318.8 231.6h0.75M311.3 248.7h0.75M320.5 245.7h0.75M310.7 245.0h0.75M304.5 263.6h0.75M308.6 267.2h0.75M315.5 262.2h0.75M333.4 225.3h0.75M315.0 251.8h0.75M324.4 242.5h0.75M321.0 262.5h0.75M330.3 215.2h0.75M322.3 247.5h0.75M309.2 266.4h0.75M305.1 250.0h0.75M322.9 244.5h0.75M314.0 232.2h0.75M318.8 252.6h0.75M314.5 237.1h0.75M310.9 241.1h0.75M316.9 244.1h0.75M307.4 249.8h0.75M318.8 242.4h0.75M320.1 232.8h0.75M315.4 246.7h0.75M324.6 254.3h0.75M333.1 213.7h0.75M318.1 237.9h0.75M324.4 240.4h0.75M313.3 266.1h0.75M319.2 232.7h0.75M302.1 264.5h0.75M317.3 230.7h0.75M330.0 246.7h0.75M315.1 253.2h0.75M317.4 256.8h0.75M327.8 248.3h0.75M310.8 250.6h0.75M316.4 270.8h0.75M305.7 228.7h0.75M304.3 264.2h0.75M302.9 245.0h0.75M314.7 253.1h0.75M323.2 227.7h0.75M306.1 264.9h0.75M316.9 233.4h0.75M336.4 247.1h0.75M307.4 284.2h0.75M314.2 265.9h0.75M308.5 254.1h0.75M307.7 258.8h0.75M318.8 244.9h0.75M317.1 239.5h0.75M320.0 233.8h0.75M312.0 255.8h0.75M308.3 237.2h0.75M318.0 250.9h0.75M320.2 241.2h0.75M319.9 249.1h0.75M320.9 248.9h0.75M326.5 255.0h0.75M316.4 240.0h0.75M318.5 246.2h0.75M321.1 262.1h0.75M306.0 272.6h0.75M327.8 237.0h0.75M316.9 236.7h0.75M313.7 247.4h0.75M315.0 230.4h0.75M315.7 247.6h0.75M328.9 252.8h0.75M326.2 256.1h0.75M322.5 231.4h0.75M327.3 225.5h0.75M323.0 252.0h0.75M307.8 252.9h0.75M318.6 233.0h0.75M319.3 235.5h0.75M308.0 235.4h0.75M306.2 263.4h0.75M314.2 242.1h0.75M315.6 244.0h0.75M314.3 250.3h0.75M304.8 236.9h0.75M318.8 249.8h0.75M315.3 241.0h0.75M319.5 248.1h0.75M319.2 251.7h0.75M322.6 225.3h0.75M327.4 251.0h0.75M308.8 235.9h0.75M320.2 235.1h0.75M313.3 258.9h0.75M324.7 252.0h0.75M312.6 257.5h0.75M319.3 250.1h0.75M313.1 261.9h0.75M332.7 240.1h0.75M314.7 246.2h0.75M306.2 260.5h0.75M315.6 240.1h0.75M315.2 260.1h0.75M319.6 267.6h0.75M304.0 237.0h0.75M309.0 243.7h0.75M322.4 258.8h0.75M317.0 237.1h0.75M314.0 239.7h0.75M314.6 243.8h0.75M315.4 232.4h0.75M311.4 241.0h0.75M322.3 231.5h0.75M313.4 241.0h0.75M328.6 246.1h0.75M318.6 252.2h0.75M320.1 221.7h0.75M324.7 257.3h0.75M310.1 246.5h0.75M318.0 253.3h0.75M319.4 272.5h0.75M322.6 240.5h0.75M320.5 222.1h0.75M322.3 225.7h0.75M317.0 250.1h0.75M322.1 260.8h0.75M315.4 253.9h0.75M322.6 241.7h0.75M308.3 249.6h0.75M320.3 237.2h0.75M325.5 245.8h0.75M310.0 261.6h0.75M309.1 260.1h0.75M317.8 235.6h0.75M327.2 238.6h0.75M319.9 247.7h0.75M325.1 229.4h0.75M312.0 246.1h0.75M304.7 246.9h0.75M323.0 249.4h0.75M316.2 239.1h0.75M312.7 277.0h0.75M320.4 246.1h0.75M313.7 243.8h0.75M306.5 255.1h0.75M318.9 259.3h0.75M308.6 227.3h0.75M300.5 248.0h0.75M325.1 253.7h0.75M315.3 233.7h0.75M312.8 262.5h0.75M333.2 218.3h0.75M326.5 260.2h0.75M307.9 252.7h0.75M309.7 264.4h0.75M319.7 256.3h0.75M312.7 258.7h0.75M309.9 251.1h0.75M318.0 262.6h0.75M327.4 234.3h0.75M319.3 237.5h0.75M319.2 238.8h0.75M314.5 238.8h0.75M317.5 239.0h0.75M320.2 257.8h0.75M329.7 211.6h0.75M321.1 256.6h0.75M315.2 263.2h0.75M322.4 220.8h0.75M313.3 251.4h0.75M317.1 246.4h0.75M309.7 258.6h0.75M324.1 253.0h0.75M311.4 238.7h0.75M328.4 246.3h0.75M307.3 260.8h0.75M314.1 235.8h0.75M313.2 256.6h0.75M302.3 263.8h0.75M330.4 239.1h0.75M327.9 246.2h0.75M324.4 252.7h0.75M324.2 260.2h0.75M327.3 240.0h0.75M304.2 246.7h0.75M317.8 257.0h0.75M314.4 238.6h0.75M323.0 245.2h0.75M309.9 261.4h0.75M318.8 230.6h0.75M304.1 265.9h0.75M316.8 258.2h0.75M324.7 244.7h0.75M309.5 246.0h0.75M322.0 237.9h0.75M321.6 240.7h0.75M306.3 276.2h0.75M320.6 230.2h0.75M321.8 255.6h0.75M324.6 249.6h0.75M318.0 257.9h0.75M316.5 261.8h0.75M323.8 240.6h0.75M314.9 239.9h0.75M317.2 243.7h0.75M314.2 255.2h0.75M317.2 225.6h0.75M323.0 243.9h0.75M330.5 243.4h0.75M329.4 249.9h0.75M316.4 242.8h0.75M318.4 231.6h0.75M315.9 232.3h0.75M325.3 234.5h0.75M316.6 245.3h0.75M324.3 247.5h0.75M305.2 259.1h0.75M316.8 249.6h0.75M310.7 252.6h0.75M314.8 257.7h0.75M315.3 246.4h0.75M305.6 242.2h0.75M318.8 257.3h0.75M310.1 268.0h0.75M316.6 250.4h0.75M316.1 246.7h0.75M313.8 221.9h0.75M322.5 219.9h0.75M329.2 221.9h0.75M337.2 224.4h0.75M324.2 224.0h0.75M317.5 220.3h0.75M332.8 225.2h0.75M320.4 229.1h0.75M320.2 227.4h0.75M322.2 226.1h0.75M327.8 220.7h0.75M311.5 220.9h0.75M323.3 231.6h0.75M321.8 222.8h0.75M318.4 218.4h0.75M337.3 227.4h0.75M308.3 231.5h0.75M322.0 214.3h0.75M324.1 231.5h0.75M324.2 217.2h0.75M335.5 227.2h0.75M303.7 222.9h0.75M319.3 219.2h0.75M314.5 217.3h0.75M309.8 217.0h0.75M317.0 215.7h0.75M325.9 220.5h0.75M319.8 228.0h0.75M339.5 221.1h0.75M308.8 233.0h0.75M325.3 221.2h0.75M325.0 218.7h0.75M323.4 222.5h0.75M328.1 231.5h0.75M320.2 218.5h0.75M326.9 222.4h0.75M320.3 228.0h0.75M318.2 219.8h0.75M314.4 225.3h0.75M318.8 221.6h0.75M328.9 221.4h0.75M318.2 221.8h0.75M329.0 221.1h0.75M320.9 226.6h0.75M322.6 213.9h0.75M334.1 215.5h0.75M312.4 219.9h0.75M322.0 214.1h0.75M330.7 217.3h0.75M327.8 215.8h0.75M326.1 221.7h0.75M335.1 213.2h0.75M318.9 220.7h0.75M323.9 218.8h0.75M338.4 227.9h0.75M312.7 213.6h0.75M327.8 213.3h0.75M328.2 213.7h0.75M325.9 216.1h0.75M326.8 217.3h0.75M315.7 225.4h0.75M324.4 217.7h0.75M322.1 221.0h0.75M326.4 221.4h0.75M324.5 225.0h0.75M339.4 214.5h0.75M332.0 217.6h0.75M341.8 221.9h0.75M332.1 229.4h0.75M327.1 218.4h0.75M329.8 218.0h0.75M334.9 225.9h0.75M316.3 222.5h0.75M310.2 222.0h0.75M310.8 231.8h0.75M330.0 218.0h0.75M320.3 226.1h0.75M320.8 232.3h0.75M324.3 219.6h0.75M330.3 234.4h0.75M319.9 226.0h0.75M316.2 223.9h0.75M319.0 230.0h0.75M330.0 223.4h0.75M321.7 208.7h0.75M328.5 223.6h0.75M332.2 221.3h0.75M320.9 214.4h0.75M316.1 226.1h0.75M312.5 219.3h0.75M318.6 217.5h0.75M314.1 234.1h0.75M324.9 228.5h0.75M311.7 230.6h0.75M324.6 231.9h0.75M319.5 215.3h0.75M329.9 232.4h0.75M313.5 216.8h0.75M323.9 216.7h0.75M329.2 224.2h0.75M309.0 220.5h0.75M326.0 231.6h0.75M318.1 220.4h0.75M314.9 225.9h0.75M309.7 222.3h0.75M323.4 218.3h0.75M317.6 220.9h0.75M319.5 220.0h0.75M329.3 223.3h0.75M296.2 221.6h0.75M330.6 227.0h0.75M342.7 220.9h0.75M322.1 223.9h0.75M319.2 231.2h0.75M321.8 225.0h0.75M330.5 237.4h0.75M344.2 223.1h0.75M315.5 224.1h0.75M296.0 225.7h0.75M325.3 228.7h0.75M322.0 226.6h0.75M321.2 222.3h0.75M320.7 221.4h0.75M303.5 220.3h0.75M325.4 222.5h0.75M316.3 214.2h0.75M325.2 215.8h0.75M318.4 216.2h0.75M314.7 230.1h0.75M306.6 223.8h0.75M334.8 228.0h0.75M321.9 221.2h0.75M325.7 224.2h0.75M336.2 218.0h0.75M327.0 211.9h0.75M324.8 221.0h0.75M302.3 219.7h0.75M332.7 219.1h0.75M330.4 214.9h0.75M312.8 225.6h0.75M309.2 226.6h0.75M326.0 225.3h0.75M321.1 228.2h0.75M335.3 217.9h0.75M311.0 225.6h0.75M322.0 222.0h0.75M328.2 219.8h0.75M326.5 222.5h0.75M311.7 217.3h0.75M310.0 220.6h0.75M318.5 222.3h0.75M341.3 212.8h0.75M315.5 230.5h0.75M318.5 227.6h0.75M330.2 226.7h0.75M326.6 231.6h0.75M334.6 226.0h0.75M316.5 225.6h0.75M316.7 231.2h0.75M329.8 219.8h0.75M320.5 215.2h0.75M322.4 227.5h0.75M313.6 221.1h0.75M315.7 227.9h0.75M315.6 225.9h0.75M317.0 218.7h0.75M316.3 222.1h0.75M319.7 216.5h0.75M319.5 222.7h0.75M332.0 221.5h0.75M338.1 226.8h0.75M319.6 232.6h0.75M336.2 223.9h0.75M326.8 220.9h0.75M302.9 223.1h0.75M324.9 222.0h0.75M309.9 220.0h0.75M332.1 223.7h0.75M318.0 216.4h0.75M336.4 217.9h0.75M335.0 223.8h0.75M318.2 227.5h0.75M314.0 225.2h0.75M332.0 221.0h0.75M314.9 228.5h0.75M321.8 224.2h0.75M331.2 231.7h0.75M321.5 225.2h0.75M328.9 222.4h0.75M339.6 216.0h0.75M325.7 229.3h0.75M328.8 227.8h0.75M317.6 229.8h0.75M324.1 216.6h0.75M322.8 229.8h0.75M327.4 222.4h0.75M323.0 209.3h0.75M317.3 225.9h0.75M317.4 215.6h0.75M323.4 230.0h0.75M314.9 228.3h0.75M310.6 211.8h0.75M324.9 224.3h0.75M322.4 222.4h0.75M327.7 225.7h0.75M317.9 215.9h0.75M321.5 214.7h0.75M314.6 227.3h0.75M319.2 211.8h0.75M330.0 221.9h0.75M337.7 224.8h0.75M320.2 226.4h0.75M326.6 224.3h0.75M316.3 234.8h0.75M309.9 228.9h0.75M317.7 221.6h0.75M320.6 221.7h0.75M320.0 218.5h0.75M315.7 223.5h0.75M324.2 233.9h0.75M332.6 226.2h0.75M318.0 221.9h0.75M326.2 216.0h0.75M327.7 209.0h0.75M331.4 222.0h0.75M328.5 218.3h0.75M331.4 224.4h0.75M323.4 216.4h0.75M311.6 226.4h0.75M313.3 221.2h0.75M318.9 219.1h0.75M314.3 224.1h0.75M316.1 219.8h0.75M321.0 222.2h0.75M322.5 218.4h0.75M319.2 224.9h0.75M325.8 213.3h0.75M339.6 221.8h0.75M314.2 225.4h0.75M318.0 227.1h0.75M312.7 225.3h0.75M332.6 229.4h0.75M330.4 223.7h0.75M311.3 236.3h0.75M326.9 219.6h0.75M310.7 211.4h0.75M326.2 210.6h0.75M323.0 212.1h0.75M323.4 222.2h0.75M307.5 213.1h0.75M324.5 214.4h0.75M324.5 226.1h0.75M334.3 212.6h0.75M324.0 222.7h0.75M322.5 227.0h0.75M316.8 228.7h0.75M327.6 223.6h0.75M330.0 214.7h0.75M329.5 216.9h0.75M330.8 230.1h0.75M321.5 230.9h0.75M310.7 220.0h0.75M323.6 227.0h0.75M335.6 226.4h0.75M333.8 220.4h0.75M317.1 228.0h0.75M340.9 217.5h0.75M335.0 225.5h0.75M330.3 225.6h0.75M314.5 221.5h0.75M329.0 219.2h0.75M331.3 230.7h0.75M342.3 218.0h0.75M319.3 217.5h0.75M320.7 214.7h0.75M333.5 221.1h0.75M333.2 221.3h0.75M330.9 217.9h0.75M318.8 228.4h0.75M317.6 223.0h0.75M325.4 225.5h0.75M327.3 214.8h0.75M331.1 220.6h0.75M316.9 230.9h0.75M309.4 228.1h0.75M332.8 224.9h0.75M322.4 228.7h0.75M322.0 226.4h0.75M331.5 224.2h0.75M310.7 224.7h0.75M323.0 225.1h0.75M320.1 220.3h0.75M327.2 232.1h0.75M322.8 235.7h0.75M329.0 223.5h0.75M312.0 222.4h0.75M319.4 235.5h0.75M315.6 225.1h0.75M332.6 225.9h0.75M334.3 225.3h0.75M324.0 223.2h0.75M329.3 220.9h0.75M321.4 227.1h0.75M317.7 214.7h0.75M335.2 228.5h0.75M322.4 231.0h0.75M335.1 221.5h0.75M344.2 220.7h0.75M313.1 233.5h0.75M328.4 221.9h0.75M320.5 219.8h0.75M326.8 227.9h0.75M303.1 216.8h0.75M328.6 211.5h0.75M315.8 222.8h0.75M325.9 220.0h0.75M327.1 218.5h0.75M330.6 218.8h0.75M323.5 219.4h0.75M326.1 221.1h0.75M320.8 210.3h0.75M310.1 227.0h0.75M318.0 220.9h0.75M319.0 220.7h0.75M320.5 221.1h0.75M324.7 227.2h0.75M325.4 224.4h0.75M332.6 234.9h0.75M340.6 210.9h0.75M314.3 227.2h0.75M324.7 228.1h0.75M327.2 206.8h0.75M321.2 225.8h0.75M329.3 222.1h0.75M303.7 221.9h0.75M329.2 222.6h0.75M321.6 224.8h0.75M306.9 220.6h0.75M321.1 218.7h0.75M340.2 228.0h0.75M322.4 222.7h0.75M341.4 227.2h0.75M342.7 237.3h0.75M326.0 215.2h0.75M320.8 217.7h0.75M329.5 218.7h0.75M336.2 222.0h0.75M339.2 231.8h0.75M326.5 225.1h0.75M315.9 228.6h0.75M336.9 233.0h0.75M307.6 211.7h0.75M321.6 220.7h0.75M324.1 218.8h0.75M328.0 224.9h0.75M318.3 216.9h0.75M324.9 231.5h0.75M331.5 219.8h0.75M324.0 218.3h0.75M316.2 216.8h0.75M330.5 215.3h0.75M325.0 222.3h0.75M315.0 219.3h0.75M317.3 224.3h0.75M340.1 219.9h0.75M322.1 225.1h0.75M328.3 223.7h0.75M319.4 228.5h0.75M322.2 226.5h0.75M323.2 219.6h0.75M319.2 229.3h0.75M330.3 219.4h0.75M333.0 217.6h0.75M330.8 227.3h0.75M320.1 215.6h0.75M318.0 218.8h0.75M306.0 214.1h0.75M333.1 214.3h0.75M320.9 224.1h0.75M312.9 217.4h0.75M313.5 231.6h0.75M330.6 230.4h0.75M321.1 224.4h0.75M330.2 218.8h0.75M325.2 222.3h0.75M331.9 221.0h0.75M325.9 228.6h0.75M335.5 221.5h0.75M312.2 222.8h0.75M336.9 224.6h0.75M324.8 226.2h0.75M316.7 220.2h0.75M319.0 225.8h0.75M316.3 215.9h0.75M326.8 228.5h0.75M328.1 224.5h0.75M311.8 221.7h0.75M307.3 228.5h0.75M334.9 218.5h0.75M326.9 213.1h0.75M311.9 225.1h0.75M332.5 222.9h0.75M334.1 220.5h0.75M327.8 218.6h0.75M328.1 224.9h0.75M318.8 227.2h0.75M330.0 214.7h0.75M316.5 226.1h0.75M341.2 216.4h0.75M319.9 229.3h0.75M328.6 230.2h0.75M316.8 219.2h0.75M310.7 235.1h0.75M318.9 221.0h0.75M342.3 221.9h0.75M323.7 221.8h0.75M306.0 224.8h0.75M332.7 227.0h0.75M334.1 224.3h0.75M316.3 218.6h0.75M324.5 220.6h0.75M323.5 213.9h0.75M316.6 216.8h0.75M324.3 223.3h0.75M309.3 222.4h0.75M326.7 219.3h0.75M332.4 223.6h0.75M315.8 218.3h0.75M329.4 222.2h0.75M330.3 222.7h0.75M328.5 227.8h0.75M336.4 228.0h0.75M323.4 216.9h0.75M316.6 220.2h0.75M330.5 212.7h0.75M328.1 233.3h0.75M304.1 210.7h0.75M324.0 221.9h0.75M316.6 213.8h0.75M320.0 222.6h0.75M324.2 223.5h0.75M337.1 225.7h0.75M327.1 218.9h0.75M317.3 226.2h0.75M318.3 218.5h0.75M325.2 217.1h0.75M326.9 217.9h0.75M347.7 218.1h0.75M314.8 231.5h0.75M318.3 227.2h0.75M332.0 225.8h0.75M320.2 211.3h0.75M325.0 221.8h0.75M308.8 225.8h0.75M308.7 212.6h0.75M329.5 227.6h0.75M314.2 216.4h0.75M330.2 222.2h0.75M319.0 223.7h0.75M326.1 221.7h0.75M334.0 222.2h0.75M316.2 224.9h0.75M316.3 228.7h0.75M333.6 230.7h0.75M323.5 229.8h0.75M322.0 223.1h0.75M331.3 211.3h0.75M314.5 216.2h0.75M323.0 219.7h0.75M312.0 225.8h0.75M311.4 228.8h0.75M329.2 220.2h0.75M334.1 218.7h0.75M325.0 222.8h0.75M310.2 223.4h0.75M322.1 226.1h0.75M326.2 226.5h0.75M323.0 221.2h0.75M333.7 208.7h0.75M315.9 220.0h0.75M326.1 206.0h0.75M320.1 221.4h0.75M322.5 237.1h0.75M320.2 229.1h0.75M327.6 224.3h0.75M312.4 234.6h0.75M320.5 216.6h0.75M326.3 224.6h0.75M330.9 225.3h0.75M332.8 218.6h0.75M324.9 219.2h0.75M333.4 226.2h0.75M334.6 223.8h0.75M322.1 219.2h0.75M340.8 221.7h0.75M336.9 226.0h0.75M320.6 221.3h0.75" stroke="#000" stroke-opacity="0.35" stroke-width="0.75" fill="none"/><path d="M295.3 255.9h0.75M324.5 267.7h0.75M319.7 259.1h0.75M305.6 269.3h0.75M308.5 252.5h0.75M315.3 262.8h0.75M328.3 271.3h0.75M305.7 261.6h0.75M309.9 244.4h0.75M321.0 259.3h0.75M324.7 250.4h0.75M320.6 253.5h0.75M292.8 262.8h0.75M311.1 269.0h0.75M320.1 262.7h0.75M293.3 227.2h0.75M308.4 268.4h0.75M317.7 266.7h0.75M309.5 254.0h0.75M298.5 249.4h0.75M321.0 254.9h0.75M318.7 283.1h0.75M318.9 260.4h0.75M320.9 282.3h0.75M318.2 260.9h0.75M304.3 267.7h0.75M305.7 259.3h0.75M328.8 263.9h0.75M297.1 261.0h0.75M309.5 257.6h0.75M315.0 254.5h0.75M313.8 264.7h0.75M311.0 264.4h0.75M303.5 252.6h0.75M298.6 261.4h0.75M329.3 267.1h0.75M318.9 257.1h0.75M326.0 248.8h0.75M312.7 257.7h0.75M322.9 255.5h0.75M304.2 261.1h0.75M323.5 265.4h0.75M311.2 274.4h0.75M314.6 260.1h0.75M316.2 270.2h0.75M319.1 253.7h0.75M317.7 269.6h0.75M309.9 263.7h0.75M312.7 251.9h0.75M317.4 277.5h0.75M308.4 264.1h0.75M325.2 255.3h0.75M317.6 276.3h0.75M301.8 257.0h0.75M319.5 251.4h0.75M302.9 284.1h0.75M314.0 257.1h0.75M312.6 256.6h0.75M313.9 259.2h0.75M300.1 270.9h0.75M309.1 270.9h0.75M306.9 269.1h0.75M328.8 267.9h0.75M311.5 267.5h0.75M334.2 261.9h0.75M313.5 263.1h0.75M328.5 268.4h0.75M307.0 266.3h0.75M316.0 274.3h0.75M317.2 259.9h0.75M329.7 265.7h0.75M302.9 262.2h0.75M319.7 249.4h0.75M313.5 266.4h0.75M318.7 244.2h0.75M312.8 280.7h0.75M309.1 263.6h0.75M321.1 260.5h0.75M318.8 269.1h0.75M312.3 270.3h0.75M313.2 252.6h0.75M311.7 246.6h0.75M299.3 254.6h0.75M313.0 250.6h0.75M304.9 260.6h0.75M301.9 263.1h0.75M325.5 255.2h0.75M300.0 257.8h0.75M299.0 255.6h0.75M319.8 257.4h0.75M316.7 280.8h0.75M299.9 263.4h0.75M310.1 263.3h0.75M313.2 261.1h0.75M326.7 261.9h0.75M316.8 268.9h0.75M305.1 264.2h0.75M308.9 277.6h0.75M310.8 265.0h0.75M314.4 270.7h0.75M332.6 265.1h0.75M286.8 260.5h0.75M290.4 266.6h0.75M303.1 256.1h0.75M316.7 259.5h0.75M325.8 250.6h0.75M322.8 269.8h0.75M309.9 268.6h0.75M324.2 249.0h0.75M319.5 263.7h0.75M326.9 253.3h0.75M309.5 259.3h0.75M325.1 258.3h0.75M312.2 256.2h0.75M307.2 266.4h0.75M318.8 254.0h0.75M306.6 260.7h0.75M312.2 263.3h0.75M302.5 270.6h0.75M308.9 250.3h0.75M334.7 260.9h0.75M325.6 270.5h0.75M327.2 268.2h0.75M310.6 278.8h0.75M306.0 267.5h0.75M302.2 260.6h0.75M321.1 240.8h0.75M298.5 254.4h0.75M312.6 257.9h0.75M287.8 265.2h0.75M309.4 266.6h0.75M315.2 262.8h0.75M308.1 259.7h0.75M306.9 260.9h0.75M315.4 258.3h0.75M319.8 261.9h0.75M301.2 269.1h0.75M312.9 282.8h0.75M311.1 252.2h0.75M314.8 252.0h0.75M316.3 255.6h0.75M303.1 274.0h0.75M314.6 266.7h0.75M320.1 250.3h0.75M309.9 284.4h0.75M300.8 250.5h0.75M312.4 265.4h0.75M304.0 271.0h0.75M309.7 247.7h0.75M296.3 260.3h0.75M307.9 267.8h0.75M311.0 277.6h0.75M318.1 261.2h0.75M316.1 257.2h0.75M320.7 249.6h0.75M307.3 260.8h0.75M303.4 265.8h0.75M327.6 254.6h0.75M314.2 273.4h0.75M320.8 260.2h0.75M320.3 245.3h0.75M321.8 259.5h0.75M304.6 282.3h0.75M292.8 258.6h0.75M308.1 270.0h0.75M315.2 252.2h0.75M306.9 268.7h0.75M310.1 248.2h0.75M307.2 253.8h0.75M312.6 260.1h0.75M308.5 258.8h0.75M303.2 264.7h0.75M317.1 246.1h0.75M315.7 263.8h0.75M330.2 257.1h0.75M299.1 263.1h0.75M300.6 276.6h0.75M320.0 248.5h0.75M304.6 272.6h0.75M319.7 268.1h0.75M310.7 266.5h0.75M310.0 262.5h0.75M302.9 258.1h0.75M310.4 277.5h0.75M312.8 281.5h0.75M301.7 248.7h0.75M310.0 271.2h0.75M324.0 247.8h0.75M304.6 253.7h0.75M333.3 262.1h0.75M311.4 269.1h0.75M330.9 268.9h0.75M302.4 261.9h0.75M301.7 266.5h0.75M300.7 254.8h0.75M310.7 264.2h0.75M321.4 231.8h0.75M313.8 274.3h0.75M320.5 260.0h0.75M316.5 269.4h0.75M313.7 261.9h0.75M322.4 261.0h0.75M309.9 262.6h0.75M298.4 259.9h0.75M304.2 275.7h0.75M310.8 262.4h0.75M311.0 253.1h0.75M306.5 253.8h0.75M328.2 260.7h0.75M298.3 255.3h0.75M308.7 254.9h0.75M307.5 270.9h0.75M300.6 280.8h0.75M317.6 259.2h0.75M298.7 256.5h0.75M323.3 264.0h0.75M306.2 266.3h0.75M290.7 265.1h0.75M311.3 276.0h0.75M308.7 264.0h0.75M295.0 256.2h0.75M293.0 248.1h0.75M314.9 257.1h0.75M307.6 258.5h0.75M316.9 260.3h0.75M311.3 264.4h0.75M301.5 262.7h0.75M306.7 272.5h0.75M296.0 280.6h0.75M309.6 251.2h0.75M324.9 258.7h0.75M305.2 271.2h0.75M303.1 268.5h0.75M307.1 271.1h0.75M309.2 254.8h0.75M307.4 256.7h0.75M309.1 263.5h0.75M305.3 256.9h0.75M308.1 284.6h0.75M312.1 264.9h0.75M314.6 268.3h0.75M326.4 269.8h0.75M315.0 276.8h0.75M320.5 279.5h0.75M307.9 255.5h0.75M342.4 252.0h0.75M304.4 264.6h0.75M326.0 245.5h0.75M305.8 270.9h0.75M312.6 262.6h0.75M304.4 269.6h0.75M324.2 253.9h0.75M322.2 270.9h0.75M299.7 247.4h0.75M310.7 245.6h0.75M313.8 244.4h0.75M308.5 269.4h0.75M314.4 261.3h0.75M310.4 268.7h0.75M332.5 265.3h0.75M319.9 236.8h0.75M312.8 266.9h0.75M326.3 272.6h0.75M305.0 268.6h0.75M313.1 263.2h0.75M314.9 263.6h0.75M323.8 258.0h0.75M312.0 256.5h0.75M330.4 263.2h0.75M311.4 282.0h0.75M317.8 256.9h0.75M314.5 252.6h0.75M303.9 262.8h0.75M290.0 270.2h0.75M305.5 253.7h0.75M306.5 264.5h0.75M319.5 246.0h0.75M311.8 266.0h0.75M314.2 253.9h0.75M308.9 254.1h0.75M311.0 258.6h0.75M286.9 256.5h0.75M308.6 270.3h0.75M311.2 260.2h0.75M319.8 271.6h0.75M308.3 260.5h0.75M316.9 255.6h0.75M306.6 256.4h0.75M330.3 269.8h0.75M314.3 263.5h0.75M322.4 267.1h0.75M305.8 264.4h0.75M304.0 277.6h0.75M312.6 250.0h0.75M314.7 252.0h0.75M315.0 255.6h0.75M300.1 263.1h0.75M324.9 258.4h0.75M317.8 266.9h0.75M320.5 268.5h0.75M301.0 261.9h0.75M304.5 262.6h0.75M306.7 267.0h0.75M318.7 263.6h0.75M298.7 259.9h0.75M310.0 260.9h0.75M314.0 272.9h0.75M302.5 272.9h0.75M311.5 261.3h0.75M305.8 254.4h0.75M310.3 259.7h0.75M326.0 260.7h0.75M301.3 252.0h0.75M306.8 272.2h0.75M324.2 245.3h0.75M306.2 256.3h0.75M328.8 268.0h0.75M316.8 265.4h0.75M314.6 246.7h0.75M304.0 272.1h0.75M310.9 244.8h0.75M309.4 261.9h0.75M308.1 271.9h0.75M309.1 266.9h0.75M306.5 272.6h0.75M307.8 257.9h0.75M305.5 272.9h0.75M321.2 260.8h0.75M310.1 268.9h0.75M304.0 261.5h0.75M332.1 252.2h0.75M315.6 254.1h0.75M307.9 268.4h0.75M314.8 259.7h0.75M293.4 255.5h0.75M316.6 269.9h0.75M308.8 270.8h0.75M304.6 270.7h0.75M320.2 261.0h0.75M304.3 264.2h0.75M304.4 267.5h0.75M310.0 269.9h0.75M293.2 253.9h0.75M313.0 251.5h0.75M310.1 256.3h0.75M318.4 248.6h0.75M315.0 249.1h0.75M310.8 265.8h0.75M308.7 274.6h0.75M314.4 264.8h0.75M313.4 272.9h0.75M318.6 261.4h0.75M320.3 271.6h0.75M331.0 262.2h0.75M301.8 261.9h0.75M310.0 256.4h0.75M305.5 263.8h0.75M312.7 269.9h0.75M305.9 274.2h0.75M327.4 248.9h0.75M306.0 259.5h0.75M314.2 254.3h0.75M304.3 266.9h0.75M309.3 267.1h0.75M292.3 244.2h0.75M325.6 251.2h0.75M325.0 254.8h0.75M322.9 241.9h0.75M331.9 259.4h0.75M327.6 255.6h0.75M314.2 268.1h0.75M296.4 257.7h0.75M326.4 257.1h0.75M307.0 268.6h0.75M316.8 259.4h0.75M292.6 252.7h0.75M293.9 260.6h0.75M310.1 259.9h0.75M296.4 260.7h0.75M317.2 272.6h0.75M311.2 248.6h0.75M314.6 268.3h0.75M321.4 256.8h0.75M325.5 283.1h0.75M314.4 259.9h0.75M313.0 279.1h0.75M318.8 249.5h0.75M315.9 262.3h0.75M323.7 265.9h0.75M305.5 281.2h0.75M303.5 277.5h0.75M311.0 263.0h0.75M310.8 265.6h0.75M309.8 265.7h0.75M312.4 253.9h0.75M329.8 245.9h0.75M306.4 272.7h0.75M309.7 255.1h0.75M295.7 245.8h0.75M323.8 258.0h0.75M302.7 278.1h0.75M298.0 265.2h0.75M305.7 273.0h0.75M312.0 259.1h0.75M305.9 264.0h0.75M295.9 277.4h0.75M308.1 270.3h0.75M288.3 263.8h0.75M313.4 275.9h0.75M316.3 270.1h0.75M307.5 270.4h0.75M310.6 243.0h0.75M333.9 250.5h0.75M315.3 258.6h0.75M309.9 284.4h0.75M319.5 248.7h0.75M326.2 245.3h0.75M316.2 269.9h0.75M301.1 246.2h0.75M317.4 251.6h0.75M311.9 259.8h0.75M306.7 238.5h0.75M309.8 252.3h0.75M308.3 268.5h0.75M309.9 268.2h0.75M319.9 274.6h0.75M312.2 273.5h0.75M313.2 244.1h0.75M318.8 264.9h0.75M312.4 266.3h0.75M318.3 256.9h0.75M305.0 254.7h0.75M331.0 266.1h0.75M334.8 261.0h0.75M314.7 263.0h0.75M302.0 261.8h0.75M295.5 264.3h0.75M318.0 242.0h0.75M320.0 265.1h0.75M296.4 256.4h0.75M317.9 270.3h0.75M301.8 270.0h0.75M323.9 254.5h0.75M318.6 264.9h0.75M323.7 280.2h0.75M304.9 278.3h0.75M326.6 245.4h0.75M314.8 263.9h0.75M307.4 267.1h0.75M312.0 263.4h0.75M306.5 255.1h0.75M305.2 272.8h0.75M311.9 245.3h0.75M323.0 265.1h0.75M309.6 259.8h0.75M299.3 260.3h0.75M302.1 280.2h0.75M312.3 270.3h0.75M310.6 264.8h0.75M293.1 262.1h0.75M305.7 252.2h0.75M321.0 259.9h0.75M322.0 280.2h0.75M310.1 267.2h0.75M313.3 264.5h0.75M327.9 253.6h0.75M317.0 246.3h0.75M305.9 282.1h0.75M303.9 262.4h0.75M331.2 243.4h0.75M304.0 260.0h0.75M317.4 241.7h0.75M310.6 253.9h0.75M315.4 247.2h0.75M306.4 262.8h0.75M321.9 271.5h0.75M317.6 260.2h0.75M308.0 259.2h0.75M313.8 265.5h0.75M318.9 248.1h0.75M317.4 270.8h0.75M326.7 257.4h0.75M304.9 264.9h0.75M309.0 264.7h0.75M317.7 257.5h0.75M309.3 252.4h0.75M311.9 248.0h0.75M311.1 261.4h0.75M305.9 257.2h0.75M308.0 266.0h0.75M305.0 279.8h0.75M307.2 264.3h0.75M323.2 258.3h0.75M322.1 274.0h0.75M310.6 258.3h0.75M330.2 262.0h0.75M299.6 264.4h0.75M307.3 252.8h0.75M308.6 268.0h0.75M319.3 253.0h0.75M291.5 264.6h0.75M317.1 273.3h0.75M313.2 271.8h0.75M303.2 259.1h0.75M306.3 265.6h0.75M325.5 247.9h0.75M302.4 256.5h0.75M312.7 265.7h0.75M292.4 265.1h0.75M291.0 261.9h0.75M315.0 277.3h0.75M310.9 254.0h0.75M305.9 265.6h0.75M303.9 261.5h0.75M324.1 277.0h0.75M307.7 272.4h0.75M307.4 277.4h0.75M312.2 273.3h0.75M326.6 274.3h0.75M297.0 249.5h0.75M310.2 273.9h0.75M324.9 251.7h0.75M315.1 260.3h0.75M324.1 264.8h0.75M327.3 254.9h0.75M294.1 258.8h0.75M320.6 256.9h0.75M312.7 259.6h0.75M320.9 267.3h0.75M287.3 261.1h0.75M309.7 272.7h0.75M312.7 263.5h0.75M315.5 267.0h0.75M325.9 253.4h0.75M295.9 252.4h0.75M318.0 265.1h0.75M309.2 264.7h0.75M315.1 271.1h0.75M312.3 261.5h0.75M335.2 259.8h0.75M327.9 259.9h0.75M300.8 259.7h0.75M309.9 274.2h0.75M311.6 262.7h0.75M307.4 266.7h0.75M329.4 243.1h0.75M324.6 262.5h0.75M306.4 257.9h0.75M310.5 269.3h0.75M294.2 261.0h0.75M313.2 265.3h0.75M301.0 257.5h0.75M308.1 265.7h0.75M316.3 244.0h0.75M305.5 282.6h0.75M311.8 248.8h0.75M319.3 275.0h0.75M322.9 261.8h0.75M306.9 268.7h0.75M318.9 263.4h0.75M319.5 257.5h0.75M345.9 258.0h0.75M309.0 271.7h0.75M307.3 259.8h0.75M313.5 265.7h0.75M305.4 264.8h0.75M310.8 262.8h0.75M308.5 258.6h0.75M306.0 261.7h0.75M304.3 280.7h0.75M313.7 260.2h0.75M305.8 278.2h0.75M309.4 261.2h0.75M319.0 254.3h0.75M319.0 271.5h0.75M323.7 271.3h0.75M311.1 262.3h0.75M314.0 271.6h0.75M303.1 253.4h0.75M309.1 249.4h0.75M309.0 274.7h0.75M299.8 252.9h0.75M334.8 274.6h0.75M313.8 273.3h0.75M313.8 282.4h0.75M317.2 256.2h0.75M308.8 248.8h0.75M313.7 249.8h0.75M306.5 257.1h0.75M312.5 272.7h0.75M316.9 244.6h0.75M316.3 248.1h0.75M327.9 266.3h0.75M300.7 258.6h0.75M309.0 257.6h0.75M314.0 277.7h0.75M302.4 251.5h0.75M299.3 244.9h0.75M311.9 253.9h0.75M314.2 263.1h0.75M327.1 246.9h0.75M301.2 266.3h0.75M313.8 244.6h0.75M314.4 270.9h0.75M315.9 252.2h0.75M301.1 265.3h0.75M328.9 246.3h0.75M332.1 260.9h0.75M301.3 275.6h0.75M338.3 269.0h0.75M311.5 259.1h0.75M322.9 259.5h0.75M298.7 248.9h0.75M307.1 259.3h0.75M301.7 272.6h0.75M304.3 261.5h0.75M307.1 257.6h0.75M298.7 263.6h0.75M308.9 258.9h0.75M316.1 259.5h0.75M311.3 268.2h0.75M316.0 245.1h0.75M307.1 264.9h0.75M311.9 252.6h0.75M328.0 258.3h0.75M317.5 279.3h0.75M322.3 255.0h0.75M314.0 266.0h0.75M304.3 267.0h0.75M327.6 253.4h0.75M323.4 248.7h0.75M302.1 256.6h0.75M328.4 262.2h0.75M334.2 269.2h0.75M316.3 266.5h0.75M329.0 245.8h0.75M314.7 266.2h0.75M318.3 277.9h0.75M309.8 259.1h0.75M316.5 267.8h0.75M310.4 266.7h0.75M296.7 250.6h0.75M300.3 270.1h0.75M320.8 261.3h0.75M304.7 274.8h0.75M320.2 253.3h0.75M310.0 249.1h0.75M311.3 266.9h0.75M310.9 266.3h0.75M311.2 270.7h0.75M324.1 273.7h0.75M326.2 249.4h0.75M322.2 266.8h0.75M312.6 268.6h0.75M343.5 266.7h0.75M313.0 268.5h0.75M327.0 281.8h0.75M322.6 239.8h0.75M310.1 249.6h0.75M324.9 256.4h0.75M316.6 256.8h0.75M325.2 266.6h0.75M323.2 262.4h0.75M323.9 261.9h0.75M324.6 240.8h0.75M304.0 271.0h0.75M307.2 260.9h0.75M301.9 273.7h0.75M321.9 269.0h0.75M303.8 271.2h0.75M314.8 263.7h0.75M329.1 262.0h0.75M312.0 269.2h0.75M298.1 258.8h0.75M319.8 257.3h0.75M307.5 268.4h0.75M314.6 265.3h0.75M326.6 278.2h0.75M310.7 279.5h0.75M321.1 256.4h0.75M300.6 266.5h0.75M325.3 261.2h0.75M317.1 260.9h0.75M313.3 279.0h0.75M312.5 267.3h0.75M325.9 262.5h0.75M305.8 259.6h0.75M328.5 244.8h0.75M305.9 270.4h0.75M316.8 248.3h0.75M303.0 277.5h0.75M308.7 262.1h0.75M318.2 252.7h0.75M314.5 260.0h0.75M294.2 260.5h0.75M308.7 278.3h0.75M310.0 270.7h0.75M312.4 270.4h0.75M317.2 274.3h0.75M310.1 268.9h0.75M304.5 267.2h0.75M320.6 250.0h0.75M329.8 247.7h0.75M302.5 245.4h0.75M307.2 261.3h0.75M305.2 269.9h0.75M319.1 264.6h0.75M318.3 263.8h0.75M312.1 275.5h0.75M307.8 260.3h0.75M314.8 253.3h0.75M316.3 261.6h0.75M307.2 257.8h0.75M311.1 259.0h0.75M307.5 268.4h0.75M299.5 250.2h0.75M303.1 251.8h0.75M309.6 270.7h0.75M307.1 258.7h0.75M324.3 260.3h0.75M317.3 251.4h0.75M305.6 277.2h0.75M318.4 253.1h0.75M318.1 261.5h0.75M311.5 254.7h0.75M310.9 259.7h0.75M311.9 252.9h0.75M314.5 257.8h0.75M300.5 261.3h0.75M310.3 268.8h0.75M319.7 264.9h0.75M316.8 263.8h0.75M314.2 244.3h0.75M296.8 255.7h0.75M323.1 254.2h0.75M304.3 271.6h0.75M318.0 266.3h0.75M319.0 247.1h0.75M301.5 266.7h0.75M322.2 267.1h0.75M334.1 254.9h0.75M296.2 265.4h0.75M295.5 275.5h0.75M315.4 249.2h0.75M292.2 249.4h0.75M319.2 269.8h0.75M308.7 257.5h0.75M322.1 253.2h0.75M311.7 266.0h0.75M311.7 246.5h0.75M323.9 262.2h0.75M308.0 258.1h0.75M311.1 245.0h0.75M316.8 262.0h0.75M312.7 264.0h0.75M331.9 235.8h0.75M314.3 281.8h0.75M309.0 274.4h0.75M309.2 265.5h0.75M311.3 258.6h0.75M322.3 275.6h0.75M326.8 242.2h0.75M296.0 253.8h0.75M311.8 278.3h0.75M309.2 259.0h0.75M295.2 251.8h0.75M299.6 257.1h0.75M310.7 246.6h0.75M300.7 245.9h0.75M316.0 248.9h0.75M300.3 266.6h0.75M327.3 268.0h0.75M311.8 261.6h0.75M303.8 263.3h0.75M312.8 264.1h0.75M309.7 277.5h0.75M326.0 265.1h0.75M303.2 246.4h0.75M306.5 249.3h0.75M333.4 240.9h0.75M334.1 264.8h0.75M323.6 264.7h0.75M310.2 257.1h0.75M310.2 257.1h0.75M306.7 264.5h0.75M328.0 264.1h0.75M302.5 273.0h0.75M319.0 259.8h0.75M319.5 266.8h0.75M319.6 255.7h0.75M315.0 271.0h0.75M318.9 277.3h0.75M323.2 261.5h0.75M311.1 258.8h0.75M321.2 257.0h0.75M302.2 269.1h0.75M311.9 248.5h0.75M307.7 255.0h0.75M313.1 254.5h0.75M307.5 242.1h0.75M322.7 262.9h0.75M308.2 259.3h0.75M305.5 259.6h0.75M320.1 270.2h0.75M299.4 257.3h0.75M306.0 255.6h0.75M320.7 267.2h0.75M306.8 266.8h0.75M325.5 259.0h0.75M313.7 262.4h0.75M303.8 270.9h0.75M311.6 254.8h0.75M319.3 261.5h0.75M302.8 274.9h0.75M315.9 261.7h0.75M306.6 262.6h0.75M321.9 268.1h0.75M311.4 264.2h0.75M319.0 263.3h0.75M306.2 253.6h0.75M284.3 269.3h0.75M317.5 266.5h0.75M312.3 254.1h0.75M312.4 251.6h0.75M324.1 255.3h0.75M323.3 268.4h0.75M320.5 250.7h0.75M316.9 254.0h0.75M311.5 268.9h0.75M310.4 271.3h0.75M322.4 253.1h0.75M306.1 245.6h0.75M303.8 280.8h0.75M299.2 265.6h0.75M334.5 266.9h0.75M309.1 256.8h0.75M300.4 277.1h0.75M315.3 258.7h0.75M321.1 256.2h0.75M333.2 273.4h0.75M310.3 261.2h0.75M317.3 270.5h0.75M308.2 266.6h0.75M306.1 264.2h0.75M319.2 265.3h0.75M333.8 245.3h0.75M331.0 241.5h0.75M304.8 257.6h0.75M303.6 276.6h0.75M309.3 263.8h0.75M314.4 268.5h0.75M295.8 271.6h0.75M298.2 258.4h0.75M308.9 258.4h0.75M288.4 262.4h0.75M317.0 266.7h0.75M304.0 272.8h0.75M308.6 271.7h0.75M307.2 267.5h0.75M318.0 276.7h0.75M316.9 275.5h0.75M315.4 274.4h0.75M290.4 250.1h0.75M301.1 262.1h0.75M308.6 267.7h0.75M315.3 270.9h0.75M309.2 230.6h0.75M329.5 265.7h0.75M309.9 269.3h0.75M312.0 283.3h0.75M313.6 246.4h0.75M307.3 257.8h0.75M308.3 253.2h0.75M317.2 249.6h0.75M296.4 256.1h0.75M322.0 269.4h0.75M326.4 255.3h0.75M306.4 257.9h0.75M299.7 248.8h0.75M319.4 270.2h0.75M297.3 248.2h0.75M306.3 254.3h0.75M299.7 258.8h0.75M302.0 263.2h0.75M312.2 268.3h0.75M322.5 263.2h0.75M323.2 255.5h0.75M305.7 254.0h0.75M318.4 272.9h0.75M329.3 260.6h0.75M321.5 263.2h0.75M333.0 272.0h0.75M304.4 256.5h0.75M304.1 260.7h0.75M310.9 253.7h0.75M307.0 259.6h0.75M325.3 257.6h0.75M306.7 270.5h0.75M312.1 257.3h0.75M319.7 269.7h0.75M303.8 269.7h0.75M305.9 261.5h0.75M300.1 266.4h0.75M301.1 256.7h0.75M308.6 262.9h0.75M326.9 236.5h0.75M303.4 269.6h0.75M319.5 259.8h0.75M311.5 268.8h0.75M312.0 256.6h0.75M321.7 277.1h0.75M298.6 261.1h0.75M327.6 255.9h0.75M320.8 253.9h0.75M300.5 277.5h0.75M306.6 259.1h0.75M304.4 260.0h0.75M303.9 278.6h0.75M302.3 250.0h0.75M316.8 259.3h0.75M303.1 252.5h0.75M303.9 247.0h0.75M326.1 249.2h0.75M305.0 262.1h0.75M334.1 265.1h0.75M317.5 234.3h0.75M311.0 264.6h0.75M323.5 252.9h0.75M311.7 256.6h0.75M297.0 256.6h0.75M327.7 256.0h0.75M323.7 260.2h0.75M302.3 277.0h0.75M320.2 257.7h0.75M318.4 271.3h0.75M319.9 266.9h0.75M307.5 275.7h0.75M312.3 254.0h0.75M319.9 267.4h0.75M299.3 263.9h0.75M312.0 267.3h0.75M316.7 244.9h0.75M322.9 249.4h0.75M305.8 278.7h0.75M314.0 256.3h0.75M315.9 270.6h0.75M305.2 263.1h0.75M324.7 270.9h0.75M322.8 249.5h0.75M333.1 274.6h0.75M309.4 274.1h0.75M312.4 261.5h0.75M308.5 251.6h0.75M318.0 251.0h0.75M324.3 275.3h0.75M305.3 253.1h0.75M304.0 250.3h0.75M319.1 259.1h0.75" stroke="#000" stroke-opacity="0.38" stroke-width="0.75" fill="none"/><path d="M323.3 269.9h0.75M315.1 270.6h0.75M312.7 268.3h0.75M315.9 266.1h0.75M315.9 265.6h0.75M322.6 261.8h0.75M326.4 263.3h0.75M316.3 269.7h0.75M312.9 264.8h0.75M311.0 268.0h0.75M308.3 262.9h0.75M316.6 275.8h0.75M309.2 272.0h0.75M320.6 266.1h0.75M315.8 274.1h0.75M313.4 268.6h0.75M324.2 270.9h0.75M308.2 265.9h0.75M321.5 264.7h0.75M317.5 272.3h0.75M318.3 269.5h0.75M316.9 269.9h0.75M311.3 270.6h0.75M320.0 267.1h0.75M323.0 264.7h0.75M306.8 268.1h0.75M317.5 259.5h0.75M316.4 266.9h0.75M315.5 271.1h0.75M319.0 265.6h0.75M315.9 274.1h0.75M314.9 265.2h0.75M322.9 262.4h0.75M312.1 268.9h0.75M314.9 265.9h0.75M314.8 269.0h0.75M312.9 264.0h0.75M314.3 268.8h0.75M324.0 267.0h0.75M312.7 267.6h0.75M329.5 270.4h0.75M308.9 263.5h0.75M304.7 265.9h0.75M313.4 271.0h0.75M310.5 271.5h0.75M323.1 269.4h0.75M319.2 262.1h0.75M311.5 267.4h0.75M315.8 264.9h0.75M315.3 265.3h0.75M330.1 260.4h0.75M317.6 258.2h0.75M318.2 270.5h0.75M319.5 269.8h0.75M318.0 260.7h0.75M316.8 265.1h0.75M312.5 266.8h0.75M317.3 264.2h0.75M317.9 268.5h0.75M310.1 265.0h0.75M317.2 260.9h0.75M310.5 264.8h0.75M308.4 268.3h0.75M316.5 262.8h0.75M319.4 269.5h0.75M321.6 270.7h0.75M314.0 268.9h0.75M309.4 268.8h0.75M312.3 266.1h0.75M315.5 268.7h0.75M316.2 263.6h0.75M319.2 257.1h0.75M315.9 263.7h0.75M322.1 272.3h0.75M313.6 270.6h0.75M319.2 262.2h0.75M320.1 265.6h0.75M318.8 263.6h0.75M319.5 261.7h0.75M311.3 265.1h0.75M321.3 269.6h0.75M314.2 266.7h0.75M315.9 265.4h0.75M311.7 257.8h0.75M318.7 275.2h0.75M314.6 261.8h0.75M313.4 266.5h0.75M320.3 269.7h0.75M313.0 267.1h0.75M318.7 269.7h0.75M317.8 257.1h0.75M319.5 262.9h0.75M317.1 263.7h0.75M310.7 261.0h0.75M317.6 260.1h0.75M318.7 269.9h0.75M326.3 261.3h0.75M326.3 270.8h0.75M321.3 270.0h0.75M321.8 265.0h0.75M303.9 260.8h0.75M314.2 264.0h0.75M311.4 263.5h0.75M320.0 263.7h0.75M319.6 263.3h0.75M319.7 266.6h0.75M319.9 265.2h0.75M318.8 266.1h0.75M316.4 266.2h0.75M314.0 271.2h0.75M320.5 274.4h0.75M317.0 266.4h0.75M322.3 266.0h0.75M314.7 265.7h0.75M315.6 270.2h0.75M313.0 269.1h0.75M320.3 266.8h0.75M312.8 265.8h0.75M305.0 268.7h0.75M312.9 270.5h0.75M313.4 264.6h0.75M316.9 268.1h0.75M315.1 259.1h0.75M323.3 263.7h0.75M318.6 268.3h0.75M321.9 260.1h0.75M324.0 260.3h0.75M322.3 267.4h0.75M321.6 258.5h0.75M314.6 265.1h0.75M319.2 274.7h0.75M316.5 267.8h0.75M320.9 273.4h0.75M314.1 272.6h0.75M320.3 263.3h0.75M314.5 265.6h0.75M320.8 267.9h0.75M323.2 270.8h0.75M323.2 272.1h0.75M315.0 269.5h0.75M323.7 267.7h0.75M308.4 262.2h0.75M317.9 270.6h0.75M309.9 264.1h0.75M317.1 270.3h0.75M311.1 271.7h0.75M316.8 260.6h0.75M313.5 274.4h0.75M323.5 265.6h0.75M328.0 270.7h0.75M314.3 282.5h0.75M311.9 267.4h0.75M310.5 273.1h0.75M310.7 268.1h0.75M309.3 275.0h0.75M303.5 277.3h0.75M303.9 267.5h0.75M308.6 272.5h0.75M309.0 282.9h0.75M305.5 277.6h0.75M316.7 261.9h0.75M306.8 273.5h0.75M309.3 276.3h0.75M304.1 274.6h0.75M293.0 280.9h0.75M301.9 280.4h0.75M299.9 276.4h0.75M309.2 277.4h0.75M303.0 281.7h0.75M301.4 274.3h0.75M300.1 282.4h0.75M301.8 278.8h0.75M314.5 267.6h0.75M307.6 272.1h0.75M307.7 277.1h0.75M310.9 275.6h0.75M307.1 281.4h0.75M306.9 273.8h0.75M306.9 277.3h0.75M300.7 268.6h0.75M306.9 270.0h0.75M311.7 268.1h0.75M304.0 274.9h0.75M301.4 273.5h0.75M304.3 273.7h0.75M301.6 274.7h0.75M303.6 279.4h0.75M305.0 277.7h0.75M311.6 276.2h0.75M300.8 274.0h0.75M302.4 267.4h0.75M315.0 271.5h0.75M307.6 274.3h0.75M306.8 272.7h0.75M309.2 265.5h0.75M309.1 268.4h0.75M307.3 271.0h0.75M298.7 265.3h0.75M300.5 282.2h0.75M304.7 270.5h0.75M301.7 277.4h0.75M313.0 275.0h0.75M303.1 273.2h0.75M305.5 277.4h0.75M301.8 275.6h0.75M308.3 273.1h0.75M300.5 275.1h0.75M304.4 274.4h0.75M303.9 278.5h0.75M297.7 276.6h0.75M301.6 274.3h0.75M305.3 271.4h0.75M310.3 283.1h0.75M301.6 277.7h0.75M303.9 268.5h0.75M303.8 271.6h0.75M309.4 279.0h0.75M304.8 274.4h0.75M301.9 278.1h0.75M305.2 274.2h0.75M301.2 273.6h0.75M310.5 274.8h0.75M295.4 280.0h0.75M312.4 267.5h0.75M303.6 272.1h0.75M302.0 277.5h0.75M304.8 272.1h0.75M300.2 280.6h0.75M315.1 271.2h0.75M304.0 270.3h0.75M302.2 274.7h0.75M306.7 282.4h0.75M310.1 275.4h0.75M307.0 270.0h0.75M300.7 274.2h0.75M311.2 274.1h0.75M305.0 277.9h0.75M302.9 274.6h0.75M308.7 274.9h0.75M304.7 278.8h0.75M306.8 270.2h0.75M302.9 277.5h0.75M307.5 271.3h0.75M309.0 269.9h0.75M304.8 277.2h0.75M304.2 277.9h0.75M309.2 277.0h0.75M307.2 275.5h0.75M305.1 275.5h0.75M309.4 268.6h0.75M305.4 273.5h0.75M305.6 275.2h0.75M301.3 270.2h0.75M309.9 269.8h0.75M308.6 275.2h0.75M306.7 279.0h0.75M306.3 280.7h0.75M297.0 274.6h0.75M299.7 276.9h0.75M307.6 269.6h0.75M301.8 271.5h0.75M303.1 273.0h0.75M310.2 271.0h0.75M302.8 278.5h0.75M310.5 269.7h0.75M304.6 269.1h0.75M298.0 284.1h0.75M306.7 280.4h0.75M303.4 277.3h0.75M311.9 267.5h0.75M302.8 276.0h0.75M311.4 276.8h0.75M302.3 275.3h0.75M307.7 266.5h0.75M305.9 278.6h0.75M302.4 268.7h0.75M300.8 272.5h0.75M304.0 271.2h0.75M306.7 271.8h0.75M302.3 271.3h0.75M305.8 275.7h0.75M308.3 272.0h0.75M314.8 272.3h0.75M308.5 273.5h0.75M306.6 277.2h0.75M301.5 275.5h0.75M303.5 270.1h0.75M316.9 274.3h0.75M307.7 263.9h0.75M297.0 271.6h0.75M309.0 265.7h0.75M300.3 276.5h0.75M304.9 278.5h0.75M303.5 267.0h0.75M300.1 271.1h0.75M309.2 272.4h0.75M304.1 271.8h0.75M311.8 270.0h0.75M304.2 274.3h0.75M307.1 272.6h0.75M311.8 270.4h0.75M302.9 276.1h0.75M303.9 269.8h0.75M301.2 276.9h0.75M307.0 276.4h0.75M308.3 270.6h0.75M307.8 271.4h0.75M306.2 281.3h0.75M309.0 276.4h0.75" stroke="#000" stroke-opacity="0.40" stroke-width="0.75" fill="none"/><path d="M329.5 249.9h0.75M323.8 235.6h0.75M308.9 271.2h0.75M308.0 256.8h0.75M322.8 238.6h0.75M314.6 245.9h0.75M302.2 244.2h0.75M316.8 275.9h0.75M302.4 236.0h0.75M325.0 279.5h0.75M310.1 246.8h0.75M318.7 247.1h0.75M312.5 259.4h0.75M326.9 238.2h0.75M321.7 276.2h0.75M332.5 261.5h0.75M318.5 277.3h0.75M324.0 276.7h0.75M327.8 266.8h0.75M317.0 271.7h0.75M289.9 250.2h0.75M290.5 248.3h0.75M308.1 259.9h0.75M320.8 244.1h0.75M316.0 268.4h0.75M329.7 281.8h0.75M315.7 266.5h0.75M301.1 252.1h0.75M295.8 265.4h0.75M333.2 266.4h0.75M315.8 236.9h0.75M299.9 249.0h0.75M307.0 250.2h0.75M304.6 240.0h0.75M332.6 274.9h0.75M340.9 236.9h0.75M347.1 256.0h0.75M349.3 280.9h0.75M354.7 256.1h0.75M348.1 262.3h0.75M359.6 236.1h0.75M359.2 247.3h0.75M337.9 249.9h0.75M349.8 279.7h0.75M352.8 245.5h0.75M336.3 246.1h0.75M353.9 252.8h0.75M359.7 254.6h0.75M353.1 257.2h0.75M364.2 259.0h0.75M342.4 266.2h0.75M358.0 250.2h0.75M357.6 262.8h0.75M358.3 263.3h0.75M348.9 272.8h0.75M360.4 262.5h0.75M345.9 278.9h0.75M344.1 263.7h0.75M339.8 283.4h0.75M342.6 240.4h0.75M342.8 250.4h0.75M345.7 272.8h0.75M343.4 240.2h0.75M338.9 243.5h0.75M353.0 239.3h0.75M344.3 256.1h0.75M356.5 248.0h0.75M343.1 278.2h0.75M348.8 269.8h0.75M337.6 247.8h0.75M336.2 245.6h0.75M352.5 271.7h0.75M360.0 283.8h0.75M365.4 246.2h0.75M337.2 235.6h0.75M330.1 231.9h0.75M316.9 205.5h0.75M297.5 225.4h0.75M324.3 218.2h0.75M333.0 218.9h0.75M304.8 231.3h0.75M329.8 219.0h0.75M317.1 215.2h0.75M329.8 205.3h0.75M321.6 215.6h0.75M296.4 226.1h0.75M294.7 234.9h0.75M323.5 234.0h0.75M362.2 234.9h0.75M336.2 210.3h0.75M363.1 227.9h0.75M341.8 228.9h0.75M360.8 234.0h0.75M357.8 229.0h0.75M360.6 223.1h0.75M347.6 216.7h0.75M353.2 222.9h0.75M349.3 231.3h0.75M339.9 205.2h0.75" stroke="#000" stroke-opacity="0.45" stroke-width="0.75" fill="none"/><path d="M313.2 265.0h0.75M311.3 267.1h0.75M300.5 279.9h0.75M304.0 274.7h0.75M309.7 265.7h0.75M316.0 270.8h0.75M305.9 279.9h0.75M315.1 270.0h0.75M309.4 262.8h0.75M318.3 262.8h0.75M316.1 270.0h0.75M315.9 259.6h0.75M316.1 262.0h0.75M304.3 270.8h0.75M305.4 269.8h0.75M320.2 263.7h0.75M317.0 277.1h0.75M313.3 269.0h0.75M316.3 262.7h0.75M315.7 271.1h0.75M332.4 261.1h0.75M316.3 257.5h0.75M308.7 265.4h0.75M306.9 262.8h0.75M308.4 272.6h0.75M321.4 269.1h0.75M300.0 273.3h0.75M320.2 272.7h0.75M303.3 268.8h0.75M316.6 264.9h0.75M313.4 268.7h0.75M317.1 277.6h0.75M303.7 264.5h0.75M311.3 272.7h0.75M305.2 272.6h0.75M323.4 270.4h0.75M315.4 256.1h0.75M305.5 263.1h0.75M315.3 279.0h0.75M315.9 275.3h0.75M319.9 271.6h0.75M311.0 267.8h0.75M309.8 277.4h0.75M308.0 270.5h0.75M308.2 262.1h0.75M308.2 269.3h0.75M306.0 269.6h0.75M315.5 258.3h0.75M311.0 264.4h0.75M314.2 261.6h0.75M304.9 276.1h0.75M319.1 271.3h0.75M313.6 275.6h0.75M311.4 276.6h0.75M301.2 266.3h0.75M306.9 275.3h0.75M308.9 276.0h0.75M312.0 271.2h0.75M306.1 264.4h0.75M315.2 244.4h0.75M313.8 268.2h0.75M308.9 263.6h0.75M312.0 274.8h0.75M299.1 264.5h0.75M305.6 275.9h0.75M311.0 265.4h0.75M320.3 259.9h0.75M320.9 261.8h0.75M301.5 280.3h0.75M321.4 268.7h0.75M322.0 271.6h0.75M320.6 268.7h0.75M313.3 263.8h0.75M320.5 259.8h0.75M304.4 273.7h0.75M305.3 269.3h0.75M308.9 257.4h0.75M303.5 257.5h0.75M301.7 279.7h0.75M316.3 266.4h0.75M323.8 276.0h0.75M306.6 267.3h0.75M316.0 273.5h0.75M317.4 266.0h0.75M295.8 281.0h0.75M305.9 272.1h0.75M307.0 279.2h0.75M310.4 272.8h0.75M299.1 271.9h0.75M300.1 274.1h0.75M310.7 267.1h0.75M323.6 261.9h0.75M301.4 275.8h0.75M320.3 260.0h0.75M315.0 261.9h0.75M317.2 264.9h0.75M313.8 253.7h0.75M308.0 273.4h0.75M319.4 266.6h0.75M288.6 258.2h0.75M300.4 266.5h0.75M312.2 267.7h0.75M308.2 253.3h0.75M301.1 277.6h0.75M314.4 270.2h0.75M315.1 273.3h0.75M314.6 265.7h0.75M312.1 274.4h0.75M302.5 278.8h0.75M317.8 263.7h0.75M315.9 266.4h0.75M305.7 259.1h0.75M321.6 252.3h0.75M314.9 273.9h0.75M324.4 268.6h0.75M306.2 265.2h0.75M294.8 263.0h0.75M309.2 272.2h0.75M324.8 275.0h0.75M301.4 283.7h0.75M321.8 277.6h0.75M310.5 275.1h0.75M314.7 262.2h0.75M311.5 265.7h0.75M306.1 279.7h0.75M309.5 258.7h0.75M311.4 272.6h0.75M315.2 263.0h0.75M328.4 268.2h0.75M306.6 266.9h0.75M319.6 258.0h0.75M312.3 275.0h0.75M303.9 248.4h0.75M314.8 274.4h0.75M305.9 273.7h0.75M308.9 265.2h0.75M308.7 274.8h0.75M312.5 264.0h0.75M304.1 277.2h0.75M303.1 273.8h0.75M318.8 269.7h0.75M310.8 261.5h0.75M311.9 262.9h0.75M320.1 277.1h0.75M318.6 266.4h0.75M312.8 266.1h0.75M313.8 260.1h0.75M302.5 269.5h0.75M314.5 268.2h0.75M300.5 265.4h0.75M300.6 274.1h0.75M307.4 268.6h0.75M308.3 255.3h0.75M310.1 269.1h0.75M327.1 268.4h0.75M313.5 263.7h0.75M312.4 266.1h0.75M311.6 270.1h0.75M304.6 259.0h0.75M310.2 269.1h0.75M321.4 259.1h0.75M302.0 268.8h0.75M313.5 277.4h0.75M305.0 272.8h0.75M308.6 264.2h0.75M317.3 276.8h0.75M312.7 273.6h0.75M305.5 258.3h0.75M331.4 261.3h0.75M307.7 266.6h0.75M311.6 263.7h0.75M313.5 275.5h0.75M320.3 268.5h0.75M323.8 254.7h0.75M322.4 261.7h0.75M314.5 271.3h0.75M300.2 273.8h0.75M314.5 269.6h0.75M307.6 280.1h0.75M310.3 279.8h0.75M305.3 261.1h0.75M305.7 268.0h0.75M307.3 277.2h0.75M313.4 268.7h0.75M304.3 271.9h0.75M320.0 264.6h0.75M309.8 258.0h0.75M306.6 270.7h0.75M312.8 266.6h0.75M302.8 268.5h0.75M307.8 276.3h0.75M315.4 261.0h0.75M315.6 271.1h0.75M326.2 264.5h0.75M328.5 260.1h0.75M294.3 280.7h0.75M303.9 278.9h0.75M312.0 283.1h0.75M307.5 268.5h0.75M319.7 272.3h0.75M306.1 276.1h0.75M308.2 264.4h0.75M314.1 266.0h0.75M320.8 258.5h0.75M312.5 275.4h0.75M310.9 258.7h0.75M317.7 274.1h0.75M308.0 265.1h0.75M308.2 272.4h0.75M311.1 265.2h0.75M316.2 268.4h0.75M303.7 281.5h0.75M309.0 274.4h0.75M308.3 260.9h0.75M311.2 266.5h0.75M312.7 268.5h0.75M328.2 272.8h0.75M316.0 261.8h0.75M319.1 258.0h0.75M304.3 272.0h0.75M305.7 276.5h0.75M314.6 258.9h0.75M311.9 278.6h0.75M301.2 283.7h0.75M317.0 271.1h0.75M315.2 270.8h0.75M321.8 280.7h0.75M314.0 262.6h0.75M312.1 284.1h0.75M312.5 258.4h0.75M301.4 276.4h0.75M301.9 272.4h0.75M291.9 272.5h0.75M300.8 267.3h0.75M317.0 263.4h0.75M312.4 269.8h0.75M307.0 274.5h0.75M321.9 266.7h0.75M311.5 268.7h0.75M315.6 266.1h0.75M314.2 271.2h0.75M306.9 266.1h0.75M306.4 261.1h0.75M315.7 272.1h0.75M311.4 252.6h0.75M316.1 269.8h0.75M320.5 272.7h0.75M288.2 264.8h0.75M309.3 263.1h0.75M311.8 270.3h0.75M309.8 261.9h0.75M305.5 279.5h0.75M312.8 272.3h0.75M312.8 273.3h0.75M304.4 261.4h0.75M306.8 267.5h0.75M312.7 269.2h0.75M310.2 279.0h0.75M312.1 273.9h0.75M319.8 274.7h0.75M316.2 254.5h0.75M312.9 260.7h0.75M314.9 268.3h0.75M327.3 270.9h0.75M327.1 263.1h0.75M308.8 278.9h0.75M310.8 259.3h0.75M308.2 261.6h0.75M320.1 259.9h0.75M305.1 272.7h0.75M316.2 256.7h0.75M312.5 269.3h0.75M310.0 258.4h0.75M310.5 263.5h0.75M312.8 269.8h0.75M309.8 262.4h0.75M306.5 271.0h0.75M296.4 281.8h0.75M317.0 276.3h0.75M313.1 276.4h0.75M308.3 276.8h0.75M306.7 274.7h0.75M315.3 256.4h0.75M301.3 267.6h0.75M312.8 263.3h0.75M320.2 262.1h0.75M300.7 271.1h0.75M305.4 280.2h0.75M311.0 265.1h0.75M307.4 255.8h0.75M319.3 261.5h0.75M308.7 268.7h0.75M306.5 268.3h0.75M312.1 284.0h0.75M321.1 269.6h0.75M310.7 281.5h0.75M301.3 269.3h0.75M310.3 274.6h0.75M310.2 270.8h0.75M312.3 267.0h0.75M302.1 267.2h0.75M323.4 262.9h0.75M317.6 249.9h0.75M304.2 279.6h0.75M319.8 284.4h0.75M306.8 282.1h0.75M300.6 258.5h0.75M300.9 275.7h0.75M304.9 266.2h0.75M309.5 264.6h0.75M309.9 267.0h0.75M303.3 281.7h0.75M320.5 267.1h0.75M308.7 270.9h0.75M316.7 280.5h0.75M315.6 254.6h0.75M301.6 272.9h0.75M309.5 262.0h0.75M304.3 272.0h0.75M304.3 256.9h0.75M306.1 270.3h0.75M307.0 266.1h0.75M307.4 263.7h0.75M305.8 267.1h0.75M313.1 260.1h0.75M308.0 268.2h0.75M316.0 265.6h0.75M315.5 268.2h0.75M305.6 258.3h0.75M305.3 268.5h0.75M313.9 275.5h0.75M297.7 265.1h0.75M314.9 267.0h0.75M310.3 265.0h0.75M321.9 270.1h0.75M330.4 266.3h0.75M316.7 267.0h0.75M312.1 263.9h0.75M305.7 259.4h0.75M314.1 262.5h0.75M317.1 258.4h0.75M307.5 270.6h0.75M305.0 283.4h0.75M318.0 266.6h0.75M313.4 267.8h0.75M313.1 266.1h0.75M297.8 278.2h0.75M304.6 270.5h0.75M305.6 272.3h0.75M302.3 268.7h0.75M324.5 267.6h0.75M306.9 275.6h0.75M304.5 273.6h0.75M310.2 269.2h0.75M316.9 269.3h0.75M301.9 270.1h0.75M312.0 281.0h0.75M315.8 273.2h0.75M304.0 278.6h0.75M315.5 262.8h0.75M307.8 284.0h0.75M300.2 264.4h0.75M303.8 267.2h0.75M330.8 272.9h0.75M314.1 263.6h0.75M309.6 263.2h0.75M296.6 264.5h0.75M304.5 280.0h0.75M308.1 279.1h0.75M322.3 263.6h0.75M314.1 254.6h0.75M310.4 268.3h0.75M301.7 268.1h0.75M299.2 282.1h0.75M310.9 279.6h0.75M314.9 269.6h0.75M315.1 269.4h0.75M317.5 276.4h0.75M309.8 282.0h0.75M309.6 260.6h0.75M309.8 272.7h0.75M312.4 259.1h0.75M309.0 264.1h0.75M319.1 272.5h0.75M308.5 261.8h0.75M305.5 270.6h0.75M322.5 271.3h0.75M303.3 276.6h0.75M309.4 257.4h0.75M306.0 270.9h0.75M306.1 269.8h0.75M308.8 263.3h0.75M312.3 283.2h0.75M302.2 274.3h0.75M302.9 273.9h0.75M304.5 280.2h0.75M310.4 270.4h0.75M307.8 260.8h0.75M309.1 270.0h0.75M311.2 269.9h0.75M320.2 271.4h0.75M304.0 279.4h0.75M304.6 276.4h0.75M316.1 264.8h0.75M308.6 270.6h0.75M324.1 275.8h0.75M301.9 262.0h0.75M302.6 282.2h0.75M310.9 272.4h0.75M307.1 266.1h0.75M311.9 268.4h0.75M305.3 276.8h0.75M301.8 263.9h0.75M325.6 261.8h0.75M307.5 275.4h0.75M318.8 257.9h0.75M301.8 275.3h0.75M316.0 276.5h0.75M313.2 269.2h0.75M313.6 261.2h0.75M304.6 260.9h0.75M299.3 262.7h0.75M313.7 274.8h0.75M297.5 275.3h0.75M319.2 258.9h0.75M321.7 275.9h0.75M325.8 265.6h0.75M318.2 275.9h0.75M295.0 269.4h0.75M304.3 277.4h0.75M314.2 272.1h0.75M299.9 267.1h0.75M299.9 269.0h0.75M307.4 278.7h0.75M296.2 279.2h0.75M310.7 264.0h0.75M306.6 276.7h0.75M317.1 260.7h0.75M322.6 263.3h0.75M309.0 269.7h0.75M314.9 260.5h0.75M321.0 270.3h0.75M311.5 269.2h0.75M301.1 257.9h0.75M318.7 263.2h0.75M319.5 275.2h0.75M301.3 258.1h0.75M308.9 277.0h0.75M310.5 271.0h0.75M312.9 258.9h0.75M314.9 266.7h0.75M301.7 266.0h0.75M303.8 261.9h0.75M312.3 271.2h0.75M307.6 273.1h0.75M303.4 260.2h0.75M300.8 271.0h0.75M303.9 273.4h0.75M306.9 259.8h0.75M315.0 274.7h0.75" stroke="#000" stroke-opacity="0.50" stroke-width="0.75" fill="none"/><ellipse cx="309.5" cy="269.5" rx="14.0" ry="10.5" fill="url(#rg)" opacity="1.00" transform="rotate(-25 309.5 269.5)"/><ellipse cx="317.0" cy="251.0" rx="7.0" ry="16.0" fill="url(#rg)" opacity="0.30" transform="rotate(-20 317.0 251.0)"/><ellipse cx="323.0" cy="223.0" rx="11.0" ry="6.0" fill="url(#rg)" opacity="0.22" transform="rotate(0 323.0 223.0)"/></g><rect x="334.80" y="203.00" width="30.30" height="30.85" fill="none" stroke="#c8102e" stroke-width="1.40"/><rect x="283.30" y="201.70" width="83.05" height="83.30" fill="none" stroke="#111" stroke-width="1.2"/><path d="M333.65 201.70V285.00M283.30 235.00H366.35" stroke="#111" stroke-width="1.1"/><g font-size="7.4" fill="#111" stroke="#111" stroke-width="0.18"><text x="285.2" y="211.3" transform="rotate(0.05 285.2 211.3)">Q1</text><text x="285.2" y="220.1" transform="rotate(0.05 285.2 220.1)">8.49</text><text x="363.5" y="211.3" transform="rotate(0.05 363.5 211.3)" text-anchor="end">Q2</text><text x="363.5" y="220.1" transform="rotate(0.05 363.5 220.1)" text-anchor="end">0.63</text><text x="285.2" y="273.4" transform="rotate(0.05 285.2 273.4)">Q4</text><text x="285.2" y="282.2" transform="rotate(0.05 285.2 282.2)">89.8</text><text x="363.5" y="273.4" transform="rotate(0.05 363.5 273.4)" text-anchor="end">Q3</text><text x="363.5" y="282.2" transform="rotate(0.05 363.5 282.2)" text-anchor="end">1.07</text></g><text x="108.0" y="323.5" transform="rotate(0.05 108.0 323.5)" font-size="9.4" text-anchor="middle">P0066D</text><text transform="translate(20.9 423.8) rotate(-89.95) scale(0.615 1)" font-size="10.4" style="stroke-width:0.3px">THP-1 proportion remaining of T0</text><path d="M44.9 334.5V417.6H170.6" stroke="#111" stroke-width="1.35" fill="none"/><path d="M41.9 417.6H44.9" stroke="#111" stroke-width="1"/><text x="38.7" y="420.3" transform="rotate(0.05 38.7 420.3)" font-size="7.4" text-anchor="end">0</text><path d="M41.9 397.9H44.9" stroke="#111" stroke-width="1"/><text x="38.7" y="400.6" transform="rotate(0.05 38.7 400.6)" font-size="7.4" text-anchor="end">100</text><path d="M41.9 378.1H44.9" stroke="#111" stroke-width="1"/><text x="38.7" y="380.8" transform="rotate(0.05 38.7 380.8)" font-size="7.4" text-anchor="end">200</text><path d="M41.9 358.4H44.9" stroke="#111" stroke-width="1"/><text x="38.7" y="361.1" transform="rotate(0.05 38.7 361.1)" font-size="7.4" text-anchor="end">300</text><path d="M41.9 338.6H44.9" stroke="#111" stroke-width="1"/><text x="38.7" y="341.3" transform="rotate(0.05 38.7 341.3)" font-size="7.4" text-anchor="end">400</text><path d="M64.4 417.6v3.2" stroke="#111" stroke-width="1"/><text x="64.4" y="428.9" transform="rotate(0.05 64.4 428.9)" font-size="7.4" text-anchor="middle">0</text><path d="M93.5 417.6v3.2" stroke="#111" stroke-width="1"/><text x="93.5" y="428.9" transform="rotate(0.05 93.5 428.9)" font-size="7.4" text-anchor="middle">24h</text><path d="M122.7 417.6v3.2" stroke="#111" stroke-width="1"/><text x="122.7" y="428.9" transform="rotate(0.05 122.7 428.9)" font-size="7.4" text-anchor="middle">48h</text><path d="M151.7 417.6v3.2" stroke="#111" stroke-width="1"/><text x="151.7" y="428.9" transform="rotate(0.05 151.7 428.9)" font-size="7.4" text-anchor="middle">72h</text><polyline points="64.4,397.9 93.5,404.6 122.7,416.0 151.7,417.2" fill="none" stroke="#2db043" stroke-width="1.5" stroke-linejoin="round"/><polygon points="64.40,395.15 65.13,397.14 67.25,397.22 65.59,398.54 66.16,400.58 64.40,399.40 62.64,400.58 63.21,398.54 61.55,397.22 63.67,397.14" fill="#2db043"/><polygon points="93.50,401.87 94.23,403.85 96.35,403.94 94.69,405.25 95.26,407.29 93.50,406.12 91.74,407.29 92.31,405.25 90.65,403.94 92.77,403.85" fill="#2db043"/><polygon points="122.70,413.32 123.43,415.31 125.55,415.39 123.89,416.71 124.46,418.75 122.70,417.57 120.94,418.75 121.51,416.71 119.85,415.39 121.97,415.31" fill="#2db043"/><polygon points="151.70,414.51 152.43,416.49 154.55,416.58 152.89,417.89 153.46,419.93 151.70,418.76 149.94,419.93 150.51,417.89 148.85,416.58 150.97,416.49" fill="#2db043"/><polyline points="64.4,397.9 93.5,401.8 122.7,403.8 151.7,395.7" fill="none" stroke="#154f8e" stroke-width="1.5" stroke-linejoin="round"/><path d="M61.70 395.45h5.4l-2.7 5z" fill="#154f8e"/><path d="M90.80 399.40h5.4l-2.7 5z" fill="#154f8e"/><path d="M120.00 401.38h5.4l-2.7 5z" fill="#154f8e"/><path d="M149.00 393.28h5.4l-2.7 5z" fill="#154f8e"/><polyline points="64.4,397.9 93.5,397.9 122.7,398.8 151.7,360.3" fill="none" stroke="#c8102e" stroke-width="1.5" stroke-linejoin="round"/><rect x="62.2" y="395.7" width="4.4" height="4.4" fill="#c8102e"/><rect x="91.3" y="395.7" width="4.4" height="4.4" fill="#c8102e"/><rect x="120.5" y="396.6" width="4.4" height="4.4" fill="#c8102e"/><rect x="149.5" y="358.1" width="4.4" height="4.4" fill="#c8102e"/><text x="284.5" y="323.5" transform="rotate(0.05 284.5 323.5)" font-size="9.4" text-anchor="middle">P0102D</text><text transform="translate(198.5 423.8) rotate(-89.95) scale(0.615 1)" font-size="10.4" style="stroke-width:0.3px">THP-1 proportion remaining of T0</text><path d="M221.0 334.5V417.7H347.0" stroke="#111" stroke-width="1.35" fill="none"/><path d="M218.0 417.7H221.0" stroke="#111" stroke-width="1"/><text x="214.8" y="420.4" transform="rotate(0.05 214.8 420.4)" font-size="7.4" text-anchor="end">0</text><path d="M218.0 401.8H221.0" stroke="#111" stroke-width="1"/><text x="214.8" y="404.5" transform="rotate(0.05 214.8 404.5)" font-size="7.4" text-anchor="end">50</text><path d="M218.0 385.9H221.0" stroke="#111" stroke-width="1"/><text x="214.8" y="388.6" transform="rotate(0.05 214.8 388.6)" font-size="7.4" text-anchor="end">100</text><path d="M218.0 370.0H221.0" stroke="#111" stroke-width="1"/><text x="214.8" y="372.7" transform="rotate(0.05 214.8 372.7)" font-size="7.4" text-anchor="end">150</text><path d="M218.0 354.1H221.0" stroke="#111" stroke-width="1"/><text x="214.8" y="356.8" transform="rotate(0.05 214.8 356.8)" font-size="7.4" text-anchor="end">200</text><path d="M218.0 338.2H221.0" stroke="#111" stroke-width="1"/><text x="214.8" y="340.9" transform="rotate(0.05 214.8 340.9)" font-size="7.4" text-anchor="end">250</text><path d="M240.8 417.7v3.2" stroke="#111" stroke-width="1"/><text x="240.8" y="428.9" transform="rotate(0.05 240.8 428.9)" font-size="7.4" text-anchor="middle">0</text><path d="M269.8 417.7v3.2" stroke="#111" stroke-width="1"/><text x="269.8" y="428.9" transform="rotate(0.05 269.8 428.9)" font-size="7.4" text-anchor="middle">24h</text><path d="M298.9 417.7v3.2" stroke="#111" stroke-width="1"/><text x="298.9" y="428.9" transform="rotate(0.05 298.9 428.9)" font-size="7.4" text-anchor="middle">48h</text><path d="M327.6 417.7v3.2" stroke="#111" stroke-width="1"/><text x="327.6" y="428.9" transform="rotate(0.05 327.6 428.9)" font-size="7.4" text-anchor="middle">72h</text><polyline points="240.8,385.9 269.8,413.9 298.9,416.7 327.6,417.1" fill="none" stroke="#2db043" stroke-width="1.5" stroke-linejoin="round"/><polygon points="240.80,383.20 241.53,385.19 243.65,385.27 241.99,386.59 242.56,388.63 240.80,387.45 239.04,388.63 239.61,386.59 237.95,385.27 240.07,385.19" fill="#2db043"/><polygon points="269.80,411.18 270.53,413.17 272.65,413.26 270.99,414.57 271.56,416.61 269.80,415.43 268.04,416.61 268.61,414.57 266.95,413.26 269.07,413.17" fill="#2db043"/><polygon points="298.90,414.05 299.63,416.03 301.75,416.12 300.09,417.43 300.66,419.47 298.90,418.30 297.14,419.47 297.71,417.43 296.05,416.12 298.17,416.03" fill="#2db043"/><polygon points="327.60,414.36 328.33,416.35 330.45,416.44 328.79,417.75 329.36,419.79 327.60,418.61 325.84,419.79 326.41,417.75 324.75,416.44 326.87,416.35" fill="#2db043"/><polyline points="240.8,385.9 298.9,345.5" fill="none" stroke="#154f8e" stroke-width="1.5" stroke-linejoin="round"/><path d="M238.10 383.50h5.4l-2.7 5z" fill="#154f8e"/><path d="M296.20 343.11h5.4l-2.7 5z" fill="#154f8e"/><polyline points="240.8,385.9 269.8,396.1 298.9,386.9 327.6,379.5" fill="none" stroke="#c8102e" stroke-width="1.5" stroke-linejoin="round"/><rect x="238.6" y="383.7" width="4.4" height="4.4" fill="#c8102e"/><rect x="267.6" y="393.9" width="4.4" height="4.4" fill="#c8102e"/><rect x="296.7" y="384.7" width="4.4" height="4.4" fill="#c8102e"/><rect x="325.4" y="377.3" width="4.4" height="4.4" fill="#c8102e"/><text x="455.7" y="323.5" transform="rotate(0.05 455.7 323.5)" font-size="9.4" text-anchor="middle">P0184D</text><text transform="translate(374.7 423.8) rotate(-89.95) scale(0.615 1)" font-size="10.4" style="stroke-width:0.3px">THP-1 proportion remaining of T0</text><path d="M398.0 330.6V417.8H512.3" stroke="#111" stroke-width="1.35" fill="none"/><path d="M395.0 417.8H398.0" stroke="#111" stroke-width="1"/><text x="391.8" y="420.5" transform="rotate(0.05 391.8 420.5)" font-size="7.4" text-anchor="end">0</text><path d="M395.0 389.8H398.0" stroke="#111" stroke-width="1"/><text x="391.8" y="392.5" transform="rotate(0.05 391.8 392.5)" font-size="7.4" text-anchor="end">50</text><path d="M395.0 361.8H398.0" stroke="#111" stroke-width="1"/><text x="391.8" y="364.5" transform="rotate(0.05 391.8 364.5)" font-size="7.4" text-anchor="end">100</text><path d="M395.0 333.8H398.0" stroke="#111" stroke-width="1"/><text x="391.8" y="336.5" transform="rotate(0.05 391.8 336.5)" font-size="7.4" text-anchor="end">150</text><path d="M423.0 417.8v3.2" stroke="#111" stroke-width="1"/><text x="423.0" y="428.9" transform="rotate(0.05 423.0 428.9)" font-size="7.4" text-anchor="middle">0</text><path d="M460.4 417.8v3.2" stroke="#111" stroke-width="1"/><text x="460.4" y="428.9" transform="rotate(0.05 460.4 428.9)" font-size="7.4" text-anchor="middle">8h</text><path d="M498.0 417.8v3.2" stroke="#111" stroke-width="1"/><text x="498.0" y="428.9" transform="rotate(0.05 498.0 428.9)" font-size="7.4" text-anchor="middle">25h</text><polyline points="423.0,361.8 460.4,389.8 498.0,408.3" fill="none" stroke="#2db043" stroke-width="1.5" stroke-linejoin="round"/><polygon points="423.00,359.10 423.73,361.09 425.85,361.17 424.19,362.49 424.76,364.53 423.00,363.35 421.24,364.53 421.81,362.49 420.15,361.17 422.27,361.09" fill="#2db043"/><polygon points="460.40,387.10 461.13,389.09 463.25,389.17 461.59,390.49 462.16,392.53 460.40,391.35 458.64,392.53 459.21,390.49 457.55,389.17 459.67,389.09" fill="#2db043"/><polygon points="498.00,405.58 498.73,407.57 500.85,407.65 499.19,408.97 499.76,411.01 498.00,409.83 496.24,411.01 496.81,408.97 495.15,407.65 497.27,407.57" fill="#2db043"/><polyline points="423.0,361.8 460.4,380.3 498.0,361.8" fill="none" stroke="#154f8e" stroke-width="1.5" stroke-linejoin="round"/><path d="M420.30 359.40h5.4l-2.7 5z" fill="#154f8e"/><path d="M457.70 377.88h5.4l-2.7 5z" fill="#154f8e"/><path d="M495.30 359.40h5.4l-2.7 5z" fill="#154f8e"/><polyline points="423.0,361.8 460.4,363.5 498.0,366.3" fill="none" stroke="#c8102e" stroke-width="1.5" stroke-linejoin="round"/><rect x="420.8" y="359.6" width="4.4" height="4.4" fill="#c8102e"/><rect x="458.2" y="361.3" width="4.4" height="4.4" fill="#c8102e"/><rect x="495.8" y="364.1" width="4.4" height="4.4" fill="#c8102e"/><path d="M151.9 445H163.4" stroke="#c8102e" stroke-width="1.5"/><rect x="155.5" y="442.8" width="4.4" height="4.4" fill="#c8102e"/><text x="167.2" y="447.4" transform="rotate(0.05 167.2 447.4)" font-size="7.25">THP-1 alone</text><path d="M218.8 445H230.3" stroke="#154f8e" stroke-width="1.5"/><path d="M221.85 442.60h5.4l-2.7 5z" fill="#154f8e"/><text x="234.5" y="447.4" transform="rotate(0.05 234.5 447.4)" font-size="7.25">THP-1+PBMC (10:1)</text><path d="M311.5 445H323.0" stroke="#2db043" stroke-width="1.5"/><polygon points="317.25,442.30 317.98,444.29 320.10,444.37 318.44,445.69 319.01,447.73 317.25,446.55 315.49,447.73 316.06,445.69 314.40,444.37 316.52,444.29" fill="#2db043"/><text x="326.8" y="447.4" transform="rotate(0.05 326.8 447.4)" font-size="7.25">THP-1+TAA-T (10:1)</text></svg></body></html>
